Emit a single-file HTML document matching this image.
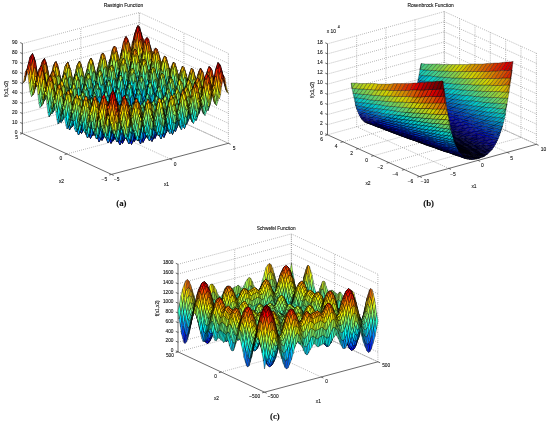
<!DOCTYPE html>
<html><head><meta charset="utf-8"><title>Benchmark functions</title><style>
html,body{margin:0;padding:0;background:#fff;width:550px;height:423px;overflow:hidden}
svg{display:block;filter:blur(0.25px);font-family:"Liberation Sans",sans-serif}
text{fill:#111;stroke:#111;stroke-width:0.1px}
g{stroke:#000;stroke-linejoin:round}
.c0{fill:#00008f}.c1{fill:#00009f}.c2{fill:#0000af}.c3{fill:#0000bf}.c4{fill:#0000cf}.c5{fill:#0000df}.c6{fill:#0000ef}.c7{fill:#0000ff}.c8{fill:#0010ff}.c9{fill:#0020ff}.c10{fill:#0030ff}.c11{fill:#0040ff}.c12{fill:#0050ff}.c13{fill:#0060ff}.c14{fill:#0070ff}.c15{fill:#0080ff}.c16{fill:#008fff}.c17{fill:#009fff}.c18{fill:#00afff}.c19{fill:#00bfff}.c20{fill:#00cfff}.c21{fill:#00dfff}.c22{fill:#00efff}.c23{fill:#00ffff}.c24{fill:#10ffef}.c25{fill:#20ffdf}.c26{fill:#30ffcf}.c27{fill:#40ffbf}.c28{fill:#50ffaf}.c29{fill:#60ff9f}.c30{fill:#70ff8f}.c31{fill:#80ff80}.c32{fill:#8fff70}.c33{fill:#9fff60}.c34{fill:#afff50}.c35{fill:#bfff40}.c36{fill:#cfff30}.c37{fill:#dfff20}.c38{fill:#efff10}.c39{fill:#ffff00}.c40{fill:#ffef00}.c41{fill:#ffdf00}.c42{fill:#ffcf00}.c43{fill:#ffbf00}.c44{fill:#ffaf00}.c45{fill:#ff9f00}.c46{fill:#ff8f00}.c47{fill:#ff8000}.c48{fill:#ff7000}.c49{fill:#ff6000}.c50{fill:#ff5000}.c51{fill:#ff4000}.c52{fill:#ff3000}.c53{fill:#ff2000}.c54{fill:#ff1000}.c55{fill:#ff0000}.c56{fill:#ef0000}.c57{fill:#df0000}.c58{fill:#cf0000}.c59{fill:#bf0000}.c60{fill:#af0000}.c61{fill:#9f0000}.c62{fill:#8f0000}.c63{fill:#800000}.d0{fill:#00006a}.d1{fill:#000076}.d2{fill:#000082}.d3{fill:#00008f}.d4{fill:#00009b}.d5{fill:#0000a7}.d6{fill:#0000b4}.d7{fill:#0000c0}.d8{fill:#000cc1}.d9{fill:#0018c1}.d10{fill:#0024c2}.d11{fill:#0031c2}.d12{fill:#003dc3}.d13{fill:#0049c3}.d14{fill:#0056c3}.d15{fill:#0062c4}.d16{fill:#006fc4}.d17{fill:#007bc5}.d18{fill:#0088c5}.d19{fill:#0094c6}.d20{fill:#00a1c6}.d21{fill:#00aec7}.d22{fill:#00bbc7}.d23{fill:#00c8c8}.d24{fill:#0dc8bc}.d25{fill:#19c9b0}.d26{fill:#26c9a4}.d27{fill:#32ca97}.d28{fill:#3fca8b}.d29{fill:#4ccb7f}.d30{fill:#59cb72}.d31{fill:#66cc66}.d32{fill:#73cc59}.d33{fill:#80cd4d}.d34{fill:#8dcd40}.d35{fill:#9ace33}.d36{fill:#a8ce27}.d37{fill:#b5cf1a}.d38{fill:#c2cf0d}.d39{fill:#d0d000}.d40{fill:#d0c300}.d41{fill:#d1b700}.d42{fill:#d1aa00}.d43{fill:#d29d00}.d44{fill:#d29000}.d45{fill:#d38400}.d46{fill:#d37700}.d47{fill:#d46a00}.d48{fill:#d45d00}.d49{fill:#d45000}.d50{fill:#d54300}.d51{fill:#d53500}.d52{fill:#d62800}.d53{fill:#d61b00}.d54{fill:#d70d00}.d55{fill:#d70000}.d56{fill:#ca0000}.d57{fill:#bd0000}.d58{fill:#b00000}.d59{fill:#a30000}.d60{fill:#960000}.d61{fill:#880000}.d62{fill:#7b0000}.d63{fill:#6e0000}
</style></head><body>
<svg width="550" height="423" viewBox="0 0 550 423">
<path stroke="#8a8a8a" stroke-width="0.75" stroke-dasharray="0.8 1.3" fill="none" d="M169.9 158.9L80.8 118.0M228.4 143.3L139.3 102.4M67.0 153.9L183.9 122.9M22.4 133.5L139.3 102.4M80.8 118.0L80.8 28.1M139.3 102.4L139.3 12.5M22.4 123.5L139.3 92.4M22.4 113.5L139.3 82.4M22.4 103.5L139.3 72.4M22.4 93.5L139.3 62.4M22.4 83.6L139.3 52.5M22.4 73.6L139.3 42.5M22.4 63.6L139.3 32.5M22.4 53.6L139.3 22.5M22.4 43.6L139.3 12.5M228.4 143.3L228.4 53.4M183.9 122.9L183.9 33.0M139.3 102.4L139.3 12.5M228.4 133.3L139.3 92.4M228.4 123.3L139.3 82.4M228.4 113.3L139.3 72.4M228.4 103.3L139.3 62.4M228.4 93.4L139.3 52.5M228.4 83.4L139.3 42.5M228.4 73.4L139.3 32.5M228.4 63.4L139.3 22.5M228.4 53.4L139.3 12.5"/><path stroke="#8a8a8a" stroke-width="0.75" stroke-dasharray="0.8 0.5" fill="none" d="M228.4 143.3L139.3 102.4"/><path stroke="#444" stroke-width="0.8" fill="none" d="M22.4 133.5L22.4 43.6M22.4 133.5L111.5 174.4M111.5 174.4L228.4 143.3M22.4 133.5L20.2 132.5M22.4 123.5L20.2 122.5M22.4 113.5L20.2 112.5M22.4 103.5L20.2 102.5M22.4 93.5L20.2 92.5M22.4 83.6L20.2 82.6M22.4 73.6L20.2 72.6M22.4 63.6L20.2 62.6M22.4 53.6L20.2 52.6M22.4 43.6L20.2 42.6M111.5 174.4L109.2 175.0M67.0 153.9L64.6 154.6M22.4 133.5L20.1 134.1M111.5 174.4L113.7 175.4M169.9 158.9L172.1 159.9M228.4 143.3L230.6 144.3"/><g transform="scale(0.5)" stroke-width="0.76"><path class=c0 d="m233 267 3-7-2-7-3 6zm18 10 3-7-3-7-2 7zm23-8 3-8-2-6-3 7zm-47 12 3-6-2-7-3 6zm42 2 3-7-3-6-3 7z"/><path class=c1 d="m210 271 3-6-3-8-3 6zm46-13 3-7-2-7-3 7zm36 17 3-7-2-7-3 7zm-47 12 3-6-2-6-3 6z"/><path class=c15 d="m200 199 3 5-2-9-3-5zm26-7 3-8-2-9-3 8zm83 4 3-9-3-8-3 9zm-176 21 3-6-3-9-2 6zm25-4 3-6-2 3-3 6zm1-3 3-14-2-9-3 14zm5 23 3-6-2-16-3 5zm13-26 3 5-3-9-3-5zm0-4 3-6-2-18-3 7zm5 2 3-15-2-8-3 15zm9 11 3 13-2-8-3-14zm14-15 3-7-2 3-3 7zm10 8 3 12-2-8-3-13zm24-8 3 4-2-16-3-4zm18 7 3-8-2-16-3 8zm33-4 3-17-2 4-3 17zm26 14 3-8-2-15-3 8zm8-11 2 3-2-8-3-3zm5-2 3-8-3 4-3 9zm5 20 3-8-2-15-3 8zm8-12 3-9-2-15-3 9zm5 2 2-9-2 5-3 9zm0-4 3-17-2-7-3 17zm12 12 3 3-2-6-3-3zm1-3 3-9-2-15-3 9zm20 8 3-8-2-6-3 8zm-258 17 3-4-3-8-3 4zm32 18 3 7-2-7-3-7zm1 0 3-5-2-15-3 5zm164 9 3 6-2-5-3-5zm24-7 2 4-2-5-3-4zm0-1 3-7-2-13-3 7zm26-7 3-8-2-4-3 7z"/><path class=c17 d="m208 194 3-16-2 3-3 16zm15-6 3 4-2-9-3-4zm6 1 2-8-2 3-3 8zm9 8 3 13-2-9-3-12zm27-8 3-8-2-17-3 8zm5 0 3-16-2-8-3 16zm36 3 3 4-3-8-2-3zm5 0 3-9-2 4-3 9zm10 7 3 3-2-15-3-3zm-197 29 3 7-2-8-3-7zm1-1 3-6-2-16-3 5zm10-13 3-6-2 3-3 6zm1-3 3-14-3-9-3 14zm25-4 3-14-2 3-3 14zm9 6 2-6-2-17-3 7zm46-12 3-7-2-17-3 7zm12 3 3-16-2 12-3 16zm27 0 2 4-2-16-3-5zm24-4 3 12-2-8-3-12zm73 28 3-8-2-14-3 8zm5-11 3 3-2-15-3-3zm12 21 3 3-2-13-3-4zm8-13 3 3-2-6-3-3zm1-3 3-8-3-14-2 8zm-254 20 3-5-2 4-3 4zm242 11 3 4-2-5-3-4zm1-1 3-7-3-14-3 8zm10-12 3-8-3 7-3 8z"/><path class=c19 d="m213 196 3 5-2-17-3-4zm11-13 3-8-2-17-3 8zm2 2 3 4-3 3-3-4zm14 4 3-8-3-17-3 8zm10-14 3-8-3-9-3 9zm1 16 3-16-2 12-3 16zm30 1 3-8-2-17-3 8zm10-15 3-8-2-9-3 9zm17 12 3 3-2 4-3-4zm4-2 3-17-3-8-3 17zm9 8 3 12-3-8-3-11zm-217 32 3-4-2-9-3 5zm5-14 3-5-2-9-3 5zm10 25 3 7-3-8-3-7zm12-30 2-6-2-17-3 5zm7 0 3-14-2 3-3 14zm3 21 2-5-2-16-3 5zm5-15 3-6-2-17-3 6zm5-12 3 5-2-17-3-5zm10 0 3-6-3 11-3 6zm133 0 3 12-2-7-3-12zm17-1 3-17-2 5-3 16zm1 12 3 12-2-7-3-12zm26-8 3 12-2-7-3-12zm18 7 3 11-2-6-3-12zm11 0 3-17-2 5-3 17zm8 7 3 3-2-14-3-3zm23 8 3-9-3-6-2 9zm-264 18 3 7-2-16-3-7zm258-4 3-8-2-5-3 8z"/><path class=c13 d="m148 233 3 6-3-9-3-6zm0-3 3-5-2-17-3 6zm8-14 3-6-2-9-3 6zm13 8 3 6-2-17-3-5zm34-20 3-7-2-9-3 7zm13 9 2 5-2-17-3-5zm26-8 3-7-2-17-3 8zm5 1 3-16-2-8-3 16zm9 9 3 13-2-8-3-12zm27-7 3-8-2-16-3 8zm5 0 3-17-2-8-3 17zm20 9 3-16-2 4-3 17zm7 8 3 12-2-7-3-12zm11-15 3-9-2-7-3 8zm18 23 3-17-2 6-3 16zm18-7 3-9-2-6-3 9zm-223 34 3-5-2-8-3 5zm3-13 3 6-2-8-3-6zm1-2 3-5-3-16-2 5zm32 31 3-5-2-6-3 4zm38 3 3 7-2-6-3-7zm116-34 3-8-3-14-2 7zm16 24 3-7-2-5-3 7zm8-12 3-8-2 6-3 8zm6-14 3-8-2 5-3 9zm-104 39 3 6-3-6-3-6z"/><path class=c3 d="m186 271 3-6-2-7-3 6zm6-14 3-6-3-8-2 6zm20 9 3-6-2 5-3 6zm3-14 3-6-2-8-3 7zm9 23 3 6-2-7-3-5zm1-1 3-6-2-15-3 6zm5-12 3 5-2-8-3-5zm0 14 3-6-3 5-3 6zm1-17 3-6-3-16-2 6zm8-15 2-7-2-8-3 7zm14 10 3 4-2-7-3-5zm6 0 3-7-3 4-3 7zm7 24 3 5-3-6-3-6zm5 0 3-7-2 5-3 7zm1-16 3-7-2-16-3 7zm4 2 3-7-2 4-3 8zm4-18 3-7-3-8-2 8zm9 24 3 5-2-7-3-4zm1-2 3-7-3-15-2 8zm8-12 2-7-2-7-3 7zm12 21 3-7-2-6-3 7zm5-14 3-8-2-7-3 8zm-111 18 3-5-2-7-3 5zm18 6 3-5-2-7-3 6zm41 2 3-6-2-6-3 6zm23-4 3-6-2-6-3 6z"/><path class=c6 d="m236 236 3-7-2-16-3 7zm5 1 3-15-2-8-3 15zm21-5 3-8-2-8-3 8zm16 7 2-8-2-16-3 8zm5 0 3-16-3-8-3 16zm-115 18 3-6-2-8-3 6zm15 8 3 6-2-7-3-6zm1-1 3-6-2-16-3 6zm4 3 3-6-2 4-3 6zm1-16 3 6-2-8-3-6zm1-2 2-6-2-17-3 7zm14 9 3 5-2-15-3-6zm32-18 3 4-3-8-3-4zm15 6 3 5-2-16-3-4zm11 1 2-16-2 5-3 15zm20-5 3-8-2 5-3 7zm9 23 3 4-2 6-3-5zm16 7 3 5-2-6-3-5zm5-1 3-7-2 6-3 7zm1-15 3-8-2-14-3 7zm5 1 3-7-3 5-3 8zm15 8 3-8-2-6-3 8zm-114 16 3 6-2-6-3-6zm1 0 3-6-3-14-3 5zm20 9 3-6-3-6-3 6zm20-6 3 5-2-6-3-5z"/><path class=c9 d="m176 235 3-6-2 3-3 7zm18-6 3 5-2-8-3-5zm6-1 3-15-2-9-3 15zm23-5 3-7-2 3-3 7zm29 12 3-7-2-16-3 7zm8-11 3-8-3-16-3 8zm5 0 3-16-2-8-3 16zm35 2 3 4-2-7-3-4zm19 7 3-8-3-15-3 8zm4 2 3-8-2 5-3 8zm-158 16 3 6-2-8-3-6zm1-2 3-6-2-16-3 6zm15 9 3 6-2-16-3-6zm6-15 3 6-3-16-3-6zm18 5 3-6-2-16-3 6zm16 28 3 6-2 5-3-6zm8-33 2-6-2-16-3 7zm12 23 3-6-3-15-2 6zm10-25 2 13-2-8-3-13zm10 0 3-7-2 13-3 7zm27 13 2-8-2-14-3 7zm13 24 3 5-2-5-3-5zm24-8 3-7-2-14-3 7zm10-11 3-8-2 6-3 8zm1-16 3 3-2-6-3-4zm-99 41 3 6-3-6-2-6z"/><path class=c5 d="m194 253 3-6-2 4-3 6zm7 22 3 6-2-7-3-6zm5 1 3-5-2 5-3 5zm6-29 3 5-2-7-3-6zm1-2 3-7-2-16-3 6zm4 4 3-7-2 4-3 6zm1-3 3-15-2-8-3 15zm4 23 3 5-2-15-3-6zm5 2 3 5-3 5-3-6zm1-17 3 5-2-16-3-5zm4 3 3 5-2 5-3-5zm6-1 3-15-2 4-3 15zm3-16 3-7-3 4-2 7zm15 9 3 5-3 4-3-4zm7 22 3 6-2-15-3-5zm5 2 3 5-2 5-3-5zm1-16 3 5-2-16-3-4zm8-15 3 4-2-7-3-4zm7 37 3-6-2-15-3 7zm3-15 3 4-2-14-3-5zm2 15 3-6-3 6-3 6zm6-27 3 4-3-7-3-4zm0-3 3-7-2-15-3 7zm5 3 3-8-3 5-2 7zm12 6 3 5-2-7-3-4zm-28 22 2 5-2-6-3-5z"/><path class=c8 d="m200 231 2-7-2 4-3 6zm10 8 3 6-2-17-3-5zm23-7 3 4-2-16-3-5zm5 4 3 4-2 4-3-4zm6-3 3-15-3 4-3 15zm15-5 3 4-2-8-3-4zm5 0 3-8-2 4-3 8zm11 7 3 4-3-16-3-4zm4 3 3 4-2 4-3-4zm6-4 3-16-2 5-3 16zm33 3 3 3-2-7-3-3zm-147 16 3-6-3 4-3 6zm15 8 2 6-2 4-3-6zm5-14 3 6-2 4-3-6zm6 0 3-15-2 4-3 15zm6 23 3 6-2 5-3-6zm20-11 3-6-2-16-3 7zm4-11 3 14-2-8-3-13zm19 7 3-7-2-15-3 6zm17 9 3 14-3-7-2-13zm1-2 3-7-2-15-3 7zm6-16 3-7-3-15-3 7zm16 28 3 5-3 6-2-5zm16 4 3-7-2-13-3 6zm1-34 3-16-3 5-3 16zm6 22 3 5-2 6-3-5zm1-14 3 4-2-15-3-4zm5 1 3 4-3 6-3-5zm15 8 3 4-2-6-3-4zm1-2 3-8-2-14-3 8z"/><path class=c10 d="m151 239 3-6-3-8-3 5zm20-6 3 6-2-9-3-6zm1-3 3-6-3-17-2 6zm5 2 3-14-2-9-3 15zm18-6 3-7-2-17-3 7zm23-5 3 5-3-8-2-5zm0-3 3-8-2-16-3 7zm6 1 3-16-3-8-3 15zm20-5 3-8-2-8-3 7zm17 10 3 4-2 4-3-4zm24-8 3-8-2-8-3 8zm16 7 3-9-2-15-3 8zm4 3 3-9-2 5-3 8zm1-4 3-17-2-7-3 16zm18 10 3-16-2-7-3 16zm-179 21 3-5-2-8-3 5zm15 8 3 6-2-7-3-7zm36 16 2 7-2-7-3-6zm33-33 3 13-2 5-3-14zm96 27 3 4-3-5-3-5zm3-16 3 4-2-14-3-5zm9-15 2-8-2-15-3 8zm4 1 3-8-2 5-3 8zm10 22 3-8-2-5-3 8zm6-14 3-9-3-6-3 9zm-141 37 3-5-2-6-3 5zm62-4 3 6-2-6-3-5z"/><path class=c16 d="m201 195 3-7-3-17-3 7zm5 2 3-16-2-9-3 16zm39 1 3-16-3-17-2 16zm20-4 2 4-2-9-3-3zm5 0 3-8-3 3-3 9zm-130 45 3 6-2-16-3-7zm5-15 3 6-2-16-3-7zm8-13 3 5-2-9-3-5zm1-4 3-6-2-17-3 6zm14 12 3 14-2-9-3-13zm17-16 3-15-3 2-3 15zm8 6 3-7-2-16-3 6zm12 0 3-15-2 4-3 15zm66 8 3 13-2-8-3-12zm20 2 3-8-2-7-3 8zm8-12 3-8-3-16-3 8zm25-5 3-8-2-16-3 9zm5-1 3-17-2-7-3 17zm10 9 3 3-2-15-3-3zm25 11 3-9-2 5-3 9zm1-4 3-17-2-6-3 17zm-228 35 2 8-2-8-3-7zm35 17 3 7-2-7-3-7zm158-27 3 13-3 6-3-13zm41 1 3 4-2-6-3-3zm1-2 3-8-2-14-3 9z"/><path class=c21 d="m150 197 3 14-2-9-3-14zm14-13 3-7-2 2-3 7zm23 7 3-15-2 12-3 15zm10-5 3 13-2-9-3-13zm15 10 3 13-2-9-3-13zm15-21 3-16-2-17-3 16zm20-3 3 3-3-8-2-4zm5 1 3-9-2 3-3 8zm3 19 3-8-2-8-3 7zm33-18 3 3-2-8-3-3zm5 0 3-9-2 4-3 8zm0 13 3-16-2 4-3 16zm29 0 3-9-2-16-3 9zm43 6 3 3-3-7-2-3zm-259 31 3-5-2 4-3 4zm6-14 3-5-3 3-3 5zm4 20 3 7-2-16-3-7zm12-28 3 6-3-18-3-6zm13 26 3 15-2 4-3-15zm191-18 3-8-2-6-3 8zm26-5 3-9-3-14-3 8zm9 2 3-9-3 14-3 9zm2 24 2 12-2-5-3-12zm1-3 3-9-2-13-3 8zm15-14 3-17-2 6-3 17zm4 23 3 4-2-5-3-4zm1-1 3-8-2-13-3 8zm5-13 3 4-2-6-3-3z"/><path class=c23 d="m152 190 3-6-3-17-3 6zm1 4 2 14-2 3-3-14zm8-16 3 6-2 2-3-5zm6-1 3-15-2 2-3 15zm31 1 3-7-2-18-3 7zm13 0 3-15-2 3-3 15zm3 6 3-7-2-9-3 8zm6-9 3 13-2-9-3-13zm27-8 3-9-2-17-3 8zm2 2 3 4-2 2-3-3zm14 3 3-8-2-16-3 8zm27-1 3 3-2 3-3-3zm4-2 3-17-3-9-2 17zm25 15 3 3-2-16-3-3zm44 2 2 3-2-15-3-3zm4 2 3 3-2 5-3-3zm-269 46 3-5-2-7-3 4zm3-14 3 7-2-8-3-7zm6-16 3-5-2-18-3 6zm8 1 2-14-2 3-3 14zm8 5 3-5-3-17-2 5zm11 27 3 15-3-7-3-15zm242-29 2-8-2-15-3 9zm11 24 3 4-2-13-3-4zm7 2 3-8-2 7-3 8zm-7 13 3-7-3-5-3 8z"/><path class=c24 d="m117 188 3-6-2 3-3 5zm10 8 3 14-2-8-3-15zm16-14 3-15-2 3-3 14zm29-1 3 5-2-17-3-5zm18-13 3-15-2 2-3 16zm21-5 3-7-3 2-3 8zm32 19 3 13-3 11-3-12zm2-19 2 4-2-18-3-3zm10 1 3-16-2 3-3 16zm20 10 3-16-2 12-3 16zm11-8 3 3-3-17-3-3zm10-1 3-17-2 4-3 17zm8 6 3-8-2-17-3 9zm6 5 3 4-2 12-3-3zm19-7 3 2-2-7-3-3zm5 15 3-17-2 13-3 17zm11-8 3 2-3-16-2-2zm7 13 3-17-2 5-3 17zm28 4 3 3-2-15-3-3zm-280 37 3-4-2 3-3 5zm3-13 3 7-2 3-3-7zm14 4 3-4-2-17-3 5zm275 9 2 4-2 7-3-4zm5-13 3 3-2 7-3-4zm3-15 3 2-2-6-3-2zm-16 41 3 4-3-4-2-4z"/><path class=c22 d="m141 188 2-6-2 2-3 6zm17 9 3 5-3 11-3-5zm6-1 2-14-2 11-3 14zm0-3 3-15-2 3-3 15zm11-7 3-7-2-17-3 7zm12-11 3-7-2 3-3 7zm1 13 3-15-3 2-3 15zm16-3 3 5-2 11-3-5zm6-2 3-16-2 11-3 16zm25 2 3 12-2-8-3-13zm18-18 3-16-3-9-3 16zm36 2 3-9-3-16-3 8zm14 12 3 11-2-7-3-12zm15 7 3 11-2-15-3-12zm5 3 3 11-2 5-3-12zm14 4 3 3-2-15-3-4zm10-12 3 3-2-8-3-2zm36 16 3 3-3-6-3-3zm-281 20 3-5-3-17-3 5zm4-13 3 7-2-9-3-7zm31-3 3-6-2 11-3 6zm218-1 3 3-3-15-2-3zm4 4 2 12-2 5-3-11zm15 8 3 11-2-6-3-11zm26 6 3-9-2 7-3 9zm-40 35 3 5-2-5-3-4z"/><path class=c26 d="m208 159 3 4-3 3-2-5zm62-7 3 3-2-9-3-3zm5 0 3-8-2 3-3 8zm-161 47 3-5-2 11-3 5zm6-17 3-14-2 3-3 14zm23-5 3-6-3 11-2 6zm47-12 2-7-2 10-3 7zm4 8 3 13-2-9-3-13zm40-8 3-16-2 3-3 16zm10-5 3 12-2-9-3-12zm10 1 3-8-2 11-3 9zm31 2 3 11-2-8-3-12zm10-1 3-8-2 11-3 9zm6 6 3 3-2-16-3-3zm15 3 3-17-2 12-3 17zm4 8 3 12-2 4-3-11zm11-14 3 3-2 3-3-2zm13 7 3 11-2-7-3-11zm36 16 3 11-3-6-3-11zm18 8 3 2-2-14-3-3zm-310 6 3-4-2 2-3 5zm298 23 3 12-2-5-3-12zm2-2 3-8-3-14-2 8zm5-16 3-8-2-14-3 9zm20 11 3 3-3-5-3-3zm0-2 3-9-2-13-3 9z"/><path class=c28 d="m234 147 3-8-2 2-3 8zm12 10 3 12-2 3-3-12zm5 1 3 3-2 12-3-4zm20-12 3-8-2-18-3 9zm5 1 3-17-2-9-3 17zm16 12 3 3-2 12-3-3zm19-8 3 2-2-8-3-3zm-228 47 3 7-2-9-3-7zm1-2 3-5-3-17-2 5zm7 2 3-13-2 2-3 13zm3-14 3-5-3 2-2 6zm52-13 3-15-3 11-3 15zm17-3 3 5-2 11-3-6zm6-2 3-15-2 11-3 15zm4 3 3-7-2-9-3 7zm14-9 3 5-3 10-3-4zm100 0 3 11-2 3-3-11zm59 8 3 11-2 4-3-11zm14 7 3 11-3-15-3-11zm4 2 3 11-2 5-3-11zm13 5 3 11-2-15-3-11zm-294 30 3-4-3 3-3 4zm324 16 3 3-2-4-3-4zm3-15 3 3-2-13-3-4zm8-13 3 2-2-5-3-3z"/><path class=c29 d="m181 158 3 13-2 2-3-13zm11 0 3-16-2 11-3 15zm50-7 3 12-3-17-3-12zm3-2 3-8-2-17-3 8zm12 4 3-16-2 11-3 16zm4 3 3-8-3-9-2 8zm22-2 3 12-3-17-2-11zm3-2 3-8-2-17-3 8zm12 2 3-17-2 11-3 17zm28 4 3 11-2-8-3-11zm-221 29 3-6-2-17-3 5zm14-10 3-5-2 10-3 6zm21-5 3 5-2 11-3-6zm6-5 3-14-2 2-3 15zm12-2 3 13-2 3-3-14zm12-3 3-15-3 2-2 15zm26-2 3-7-2-9-3 7zm49 10 3 13-2 12-3-13zm97-5 3 11-2-16-3-11zm9 1 3 3-2 12-3-2zm9 5 3 3-2-16-3-2zm9 4 3 3-2 13-3-3zm9 3 3 3-2-15-3-3zm4 5 3 11-2 5-3-11zm15 8 3 11-2-6-3-11zm-319 16 3-4-2-17-3 4zm21-5 3-5-2-16-3 4z"/><path class=c31 d="m205 147 3 12-2 2-3-12zm11-2 3-16-2 11-3 16zm4 3 3-7-3-10-3 8zm17-9 3-17-2 3-3 16zm4 9 3 12-2-9-3-12zm1-2 3 3-2-17-3-4zm25-5 3 11-2-9-3-11zm7-3 3-17-3-18-2 17zm8 13 3 12-2-9-3-11zm17-3 3-17-2 4-3 17zm10-6 3 3-2-17-3-3zm25 11 3 2-3 13-3-3zm-253 36 3 7-2-17-3-7zm10-11 3 6-2 3-3-7zm25-7 3 6-2 11-3-6zm6 1 3-14-2 10-3 14zm1-4 3-14-2 3-3 14zm3 5 3-6-2-9-3 6zm19-7 3-6-2 11-3 6zm196-5 3 11-2-7-3-11zm36 16 3 11-3-6-2-11zm19 4 3 3-2-14-3-3zm4 4 3 11-3 6-3-11zm20 8 3 3-2 6-3-2zm-326 16 3-4-3-16-2 4zm316-3 3 12-3-5-2-12zm1-3 3-9-2-13-3 8z"/><path class=c25 d="m250 158 3-16-2-17-3 16zm23-3 3-8-2-9-3 8zm-169 42 3 7-2-17-3-7zm24-7 3-5-2-18-3 6zm6 6 3 7-2 11-3-6zm10 1 3-6-2-8-3 5zm4-9 3 14-2-17-3-14zm1-3 3 5-3-17-2-6zm17-12 3-7-2 11-3 7zm30 0 2 5-2-18-3-4zm26-7 3-8-2-17-3 7zm38 3 3 3-2-16-3-4zm16 1 2-17-2 3-3 17zm16-10 2-17-2-16-3 17zm9 13 3 12-3-17-3-11zm34 7 2-17-2 4-3 17zm27 2 3 11-2-7-3-11zm8 16 2-17-2 14-3 17zm-284 7 3-5-2-9-3 5zm10 21 3-4-2-17-3 4zm3-14 3 7-3-17-3-7zm17 11 3 15-3-8-2-15zm260-15 3 11-2 6-3-11zm40 13 3-9-3-5-3 9z"/><path class=c18 d="m174 198 3 5-2-17-3-5zm6-1 3-15-2-18-3 15zm18-7 3 5-3-17-2-5zm31-6 3-16-2-9-3 16zm33 2 3 3-2-17-3-3zm11 0 3-16-3 3-3 16zm33 2 3-9-2-16-3 8zm26 9 3-17-3 4-3 17zm-213 40 3-4-2-16-3 4zm11-27 3 7-2-9-3-6zm27-9 3-14-2-17-3 14zm33 3 3 5-2-17-3-5zm23-4 3 13-3-17-3-13zm16 0 3-16-3 4-2 15zm3 4 3-7-2-8-3 7zm21-1 3 12-2-7-3-13zm20 4 3-7-2-8-3 8zm23-4 3 4-3-16-2-4zm14 2 3-17-2 13-3 16zm39 1 3-17-2 5-3 17zm14 5 3-17-2-15-3 17zm19 11 3-8-2 6-3 8zm-243 26 3 7-3 5-2-8zm206 10 3 4-3 7-2-4z"/><path class=c12 d="m153 235 3-5-2 3-3 6zm27-23 2-7-2-8-3 6zm6 25 3 14-2-8-3-14zm1-4 3-7-2-16-3 6zm5-12 3 5-2-17-3-5zm34-5 3-16-2 3-3 16zm8 4 3-7-2-16-3 7zm7-10 3 4-2-9-3-4zm5 0 3-7-2 3-3 8zm29 13 3-8-2-15-3 7zm7-11 3 4-2-8-3-4zm6 0 2-8-2 4-3 8zm10 7 3 4-2-16-3-4zm28 8 3-16-2 5-3 16zm18-7 3-9-2-7-3 9zm-197 29 3-5-2 4-3 5zm10 21 3-5-2-7-3 5zm23-19 3 14-2-7-3-15zm2-3 3-6-3-16-2 6zm166 11 3 4-2-5-3-5zm1-1 3-8-3-14-2 8zm5-13 3 4-3-6-3-4zm0-2 3-9-2-14-3 8z"/><path class=c11 d="m179 229 3-15-2 4-3 14zm23-5 3-15-2 4-3 15zm7 10 3 13-2-8-3-13zm2-6 3-6-3-17-3 7zm22-1 3 13-3-8-3-13zm10 1 3-7-2 12-3 7zm14-8 3 4-3-16-2-4zm7 14 3-15-3 12-2 16zm3-14 3-15-2 3-3 16zm7 10 3 12-2-7-3-13zm10-1 3-8-2 13-3 8zm9 5 3-7-2-16-3 8zm9 4 3-7-2 13-3 8zm14-8 3 3-3-15-2-4zm18 6 3 4-3-15-3-3zm-171 7 3 6-2-16-3-6zm5 4 3 6-3 4-3-6zm56 10 3 14-3 4-2-14zm64-5 3 13-2 5-3-13zm22-6 2 12-2-6-3-12zm1-5 3-7-2-15-3 8zm22 14 2 4-2 6-3-4z"/><path class=c33 d="m160 154 3 14-2 10-3-13zm57-14 2-17-2 3-3 16zm19-4 3-8-2 11-3 8zm7 9 3 12-2 3-3-12zm5 1 3 12-2 11-3-12zm9-19 3-9-2 2-3 9zm6 28 3 12-2 12-3-12zm12-17 2 3-2 11-3-3zm14 10 3 11-2 12-3-11zm4-20 3 3-2-9-3-2zm15 12 3 11-2-9-3-11zm15 7 3 11-2-8-3-11zm2-2 3 2-3-16-3-3zm-255 32 3-5-2 2-3 5zm41-10 3 15-2 2-3-14zm11 0 3-6-3 11-3 5zm20-6 3 5-2 11-3-5zm224 3 3 11-2 13-3-11zm39 17 3 3-2 14-3-2zm31 13 3 3-2-5-3-3zm-5 13 3-9-2-13-3 9z"/><path class=c30 d="m193 153 3-16-2 3-3 15zm38-10 3 4-2 2-3-3zm27 5 3-17-3 3-2 17zm10-5 3 3-2-17-3-3zm10 1 3-17-2 3-3 17zm5 5 3 3-2-17-3-3zm19 6 3-9-2-8-3 9zm12-8 2 3-2 3-3-2zm-229 48 3 7-2 3-3-7zm12-16 3-13-3 2-3 13zm9 9 3 15-3 3-2-15zm18-6 3 14-2-9-3-14zm11-14 3 14-3 3-3-14zm9 9 3 6-2-9-3-6zm24-15 3-7-2 11-3 7zm175-2 2 2-2-15-3-3zm16 11 3 11-2-7-3-11zm28 9 3 3-2 14-3-3zm29 14 3 3-2-14-3-2zm-11 29 3 4-2-13-3-4zm10-12 3 3-2 7-3-3z"/><path class=c35 d="m137 158 3 14-2 10-3-14zm42-13 2 13-2 2-3-13zm49-14 3 12-2 3-3-12zm11-3 3-16-2 10-3 17zm4 4 3-8-2-9-3 8zm12-8 2 3-2 2-3-3zm14 5 3-9-3-17-3 9zm10 1 3-17-2-9-3 17zm5 5 3-8-2-9-3 9zm12-9 3 2-3 3-3-3zm20 10 3 2-3 12-2-3zm38 17 3 3-3 13-3-3zm-294 31 3-4-2-17-3 4zm13-12 3-13-2 2-3 13zm7 10 3 16-2-9-3-15zm2-3 2-5-2-17-3 5zm11-12 3 7-2 10-3-6zm7-1 3-14-3 2-3 14zm284 3 3 11-2 14-3-11zm30 12 3 2-3-14-2-2zm4 1 2 11-2 7-3-11zm16 7 3 3-2-14-3-2zm-6 14 3 4-2-13-3-3z"/><path class=c14 d="m267 198 3-9-2-8-3 8zm-140 37 3-5-2-9-3 6zm23-6 3 6-2 4-3-6zm6 1 3-14-3 3-2 14zm26-21 3-6-3 2-2 7zm6 24 3 14-2 4-3-14zm20-10 3 5-3-16-2-5zm22-4 3 13-2-17-3-12zm1-4 3 5-2-16-3-5zm12-9 3 4-2 4-3-4zm6-3 3-16-2 3-3 16zm31 1 3 4-2-16-3-4zm5 4 3 4-3 4-3-4zm2 13 3-16-2 13-3 16zm10-7 3 12-2-7-3-12zm36 17 3 12-2-7-3-12zm8-14 3 3-2-7-3-3zm10 22 3 4-2-15-3-3zm5 0 3 4-2 6-3-4zm-173 7 3 15-3 4-3-14zm191 1 3-8-2-6-3 8z"/><path class=c37 d="m260 118 3-17-2 2-3 17zm-146 39 2 14-2 11-3-15zm38-11 3 6-2 2-3-5zm24-6 3 5-3 2-3-5zm64-18 3-16-2 2-3 17zm10 13 3 12-2 11-3-12zm37 1 2 12-2 12-3-12zm4-16 3 2-2-17-3-3zm14 9 3 11-2-9-3-11zm2-4 3 3-2-17-3-2zm49 24 3 2-2 5-3-3zm18 8 3 2-3 5-3-2zm-307 12 3 8-2 2-3-7zm21-6 3 15-2 2-3-15zm10 0 3-5-2 10-3 6zm304 8 3 10-2 15-3-11zm21 8 3 2-3 15-3-3zm15 8 3 3-2 7-3-3z"/><path class=c46 d="m180 119 3 4-2 11-3-5zm26-6 3 12-2 11-3-13zm19-8 3 4-3 10-3-3zm21-8 3 4-3 2-2-3zm19 0 3-17-2 10-3 17zm37 3 3 3-2 3-3-3zm15 9 3 11-2 4-3-11zm13 10 3 11-2 12-3-11zm-258 29 3 7-2 11-3-7zm10-7 3 7-2 2-3-7zm10 0 3 15-2 11-3-15zm16-5 3 6-3 11-3-6zm9 2 3 15-2-10-3-14zm13-5 3-6-2 11-3 6zm27-8 3 5-3 11-3-5zm223 20 3-9-2 6-3 9zm26 5 3 11-2 6-3-11zm11 7 3 11-2 14-3-11z"/><path class=c20 d="m174 194 3 13-3-9-3-13zm47-15 3 4-2-17-3-5zm10 2 3-16-2 3-3 16zm21 6 3-16-2 3-3 16zm16-6 3-16-2-17-3 16zm10 7 3 4-2-17-3-3zm26-3 2 3-2-17-3-3zm10-2 3-17-2 4-3 17zm26 15 3-9-2-15-3 9zm-219 36 3 8-2 3-3-7zm1-14 3 7-2-17-3-7zm10-12 3 6-2 3-3-7zm15 7 3 14-2 4-3-15zm167-12 3-8-2-8-3 9zm35-1 3-9-3 13-2 9zm30 17 3 3-2 6-3-3zm-263 29 3-4-2-8-3 4z"/><path class=c24 d="m138 182 3 6-3 2-3-5zm3 12 3-14-2 3-3 14zm19-7 3-15-3-17-2 15zm3 4 3-6-2 11-3 6zm15-12 3-15-2-17-3 15zm6-8 3 4-2 3-3-5zm2 16 3-7-2 11-3 7zm24-8 3-8-3 12-3 7zm13-7 3 13-3 3-3-13zm5 2 3 4-2 11-3-4zm6 24 3 13-2 12-3-13zm71-21 3 12-2 3-3-11zm13 7 3 11-3-7-2-12zm31-5 3 2-2 5-3-3zm36 15 3 3-2 5-3-3zm-276 9 3 7-3 3-3-7zm262 22 3 12-3 6-2-12zm13 18 3-8-2-12-3 7z"/><path class=c7 d="m174 239 3-7-2-8-3 6zm23-5 3-6-2-9-3 7zm24-8 3-7-3-9-3 8zm82 4 3-8-2-8-3 9zm-140 37 3-5-2-7-3 5zm18 10 3-5-3-7-3 6zm33-34 3 6-2 3-3-5zm6-1 3-15-2 4-3 15zm61 32 3 5-2-14-3-5zm11-29 3 4-2-15-3-4zm5 2 3 5-2 4-3-4zm24-7 3-8-2-7-3 8zm7 35 3-7-3-5-3 7zm11-29 3-8-3-6-2 8zm-141 38 3-5-2-7-3 5zm83 4 3-7-2-5-3 6zm23-5 3-6-2-6-3 7z"/><path class=c42 d="m222 116 3 3-2 3-3-4zm56-16 3 3-2 2-3-3zm-188 52 3 15-2 11-3-15zm8 2 2 6-2 3-3-7zm7-7 3 6-2 2-3-6zm11-1 3 14-3 11-2-14zm48-9 3 13-2-9-3-13zm23-7 3 13-2-9-3-13zm25-7 2 12-2 3-3-13zm108-3 3 3-2 3-3-2zm-270 41 3-13-2 2-3 13zm8 6 3-4-2-17-3 4zm341-7 3 11-2 14-3-11zm10 1 3 3-2 6-3-3zm11 7 3 11-3 14-2-11zm32 12 3 2-3-12-3-3z"/><path class=c27 d="m214 156 3-16-3 2-3 16zm-100 26 3 6-2 2-3-6zm11 5 3 15-3-18-3-14zm22-4 3 14-2-9-3-14zm31-3 3 13-2 11-3-13zm38 0 3 13-2 12-3-13zm3-19 3 5-2-18-3-4zm47 6 3 12-2 12-3-12zm34 3 3 11-2-8-3-11zm17-4 3-17-3 4-2 17zm3 5 3-9-2-7-3 8zm7-10 3 3-2-17-3-2zm76 35 3 2-3 6-3-2zm-323 19 3-4-2-8-3 4zm38 4 3 15-2 4-3-15zm292 12 3-8-2-4-3 8z"/><path class=c34 d="m155 152 3 13-2 2-3-13zm18-5 3-7-3 2-3 7zm11 0 3 13-3 11-3-13zm38 2 3 12-2 11-3-12zm5 1 3 12-2 12-3-13zm6-17 3 3-2 11-3-4zm47 0 3-17-2 11-3 17zm24 20 3 12-2 12-3-11zm7-17 3 11-3 4-3-11zm37 19 3 11-2 13-3-11zm10 1 3 2-2-7-3-2zm-293 34 3-4-2 3-3 4zm34-22 3-13-2 11-3 13zm53 1 3 14-2 11-3-14zm219-7 3 2-2 14-3-3zm41 37 3 12-2 7-3-12zm18 9 3 3-2-4-3-4z"/><path class=c39 d="m108 153 3 14-2 3-3-15zm31-6 3 14-2 11-3-14zm18-6 3 13-2 11-3-13zm18-5 3-7-2 11-3 7zm6-2 3 13-3 11-2-13zm38-11 3-7-2 2-3 8zm11-2 3 12-2 10-3-12zm6 1 3 3-3 11-3-3zm77 3 3 11-2 11-3-11zm9 3 3 3-2-8-3-3zm29 14 3 11-3 13-3-11zm4 3 3 11-2-7-3-11zm14 6 2 11-2 13-3-11zm12 7 3 11-2 14-3-11zm26 9 3 3-2 14-3-3zm21 29 2 12-2-5-3-11z"/><path class=c38 d="m260 116 3-9-3 11-3 9zm31 2 2 10-2-8-3-11zm-162 30 3 6-2 3-3-6zm34-4 2 13-2 11-3-14zm11-4 3-15-2 11-3 15zm12-4 3 13-2 11-3-13zm13-6 3 4-2 2-3-4zm46 4 3 12-2 11-3-12zm27-7 3 11-3 11-3-11zm20 9 3 12-3 11-3-11zm46 0 3 3-2 4-3-3zm8 8 2 11-2 13-3-11zm17 9 3 11-2 13-3-11zm-290 13 3-5-3 11-3 5zm319-5 2 3-2 5-3-2zm41 22 3 11-2-5-3-11z"/><path class=c36 d="m126 154 3-6-2 3-3 6zm6 0 3 14-3 3-2-14zm64-17 3-7-2 2-3 8zm6-3 3 13-2 2-3-13zm5 2 3 12-2 11-3-12zm11-2 3-16-2 11-3 16zm46-5 3 12-2-9-3-12zm2-3 3 3-3-17-3-3zm14 4 3-9-3 12-3 8zm1-3 3-17-2 3-3 17zm50 15 3 11-3 12-3-11zm5-2 3 3-2 12-3-2zm4 4 3 3-2-8-3-3zm-264 46 3-4-2-17-3 4zm6-10 3 15-2 3-3-16zm37-20 3 7-3 10-3-6zm270 7 3 2-2 14-3-3zm5 0 3 3-3-6-2-3z"/><path class=c40 d="m225 119 3 12-2 3-3-12zm27-7 3 12-3 2-3-11zm5 1 3 3-3 11-2-3zm36 2 3 11-3 2-2-10zm5-1 3 3-2 11-3-2zm-222 45 3-13-2 2-3 13zm19-3 3 7-2 11-3-7zm8-4 2-5-2 2-3 5zm31-8 3 14-2 10-3-14zm75-19 3 13-2 10-3-12zm109-1 3 2-2 12-3-2zm10 7 3 11-3 12-2-11zm9 2 3 11-2-8-3-11zm49 23 3 11-2 13-3-11zm26 11 2 2-2-5-3-3zm19 11 3 11-2-13-3-11zm1-2 3 2-3-13-3-3z"/><path class=c43 d="m201 119 3 4-2 11-3-4zm42-13 3-9-2 3-3 8zm20-5 3-17-2 2-3 17zm6 14 3 12-3 11-2-12zm5 0 3 12-2 11-3-11zm15-13 3 3-2-17-3-3zm16 7 3 2-3-8-3-3zm-240 45 2 15-2 3-3-16zm20-6 3 15-2 2-3-15zm26-6 3 15-3 10-3-14zm20-4 3 6-2 10-3-6zm258 12 3 11-3 6-3-11zm15 6 3 11-2 14-3-10zm21 8 3 3-2 14-3-2zm5 8 3 11-2-5-3-11zm11 0 2 2-2 16-3-3z"/><path class=c48 d="m182 116 3 5-2 2-3-4zm21-8 3 5-2 10-3-4zm21-6 3-8-2 11-3 8zm21-7 3-8-2 10-3 9zm-178 48 3 16-3 10-2-15zm20-6 3 15-2 11-3-15zm26-5 3 14-2 11-3-15zm20-5 3 6-2 11-3-6zm26-5 3 6-2 2-3-5zm188 2 3 3-2 4-3-3zm18 8 3 3-2 5-3-3zm21 7 3 11-3 6-3-11zm15 6 3 11-2 15-3-11zm13 9 3 3-2 14-3-2zm8-1 3 11-2 15-3-11zm16 8 3 11-3 15-3-11z"/><path class=c31 d="m192 154 3-7-3 11-2 7zm18-6 3 4-2 11-3-4zm46 2 3-8-2 11-3 8zm21-9 3-8-2 11-3 8zm21 10 2-9-2 12-3 8zm19 2 3-9-2-8-3 9zm11 1 3 11-2 4-3-11zm-236 33 3-13-2-9-3 13zm16-6 3-13-2-17-3 13zm10 0 3-6-2-9-3 6zm21-7 3-6-2-17-3 6zm212-4 3-9-2-15-3 9zm38 16 3-9-3-6-3 9zm6-1 3 11-2-15-3-11zm-295 16 3 16-2 3-3-15z"/><path class=c19 d="m184 198 3-7-2 12-3 6zm20-10 3-16-3-17-3 16zm3 2 3-7-2 11-3 7zm33 4 3 12-2 4-3-13zm6 1 3 4-3 11-3-4zm4-5 3-16-2-8-3 16zm32 6 3 12-3 4-3-12zm5 0 3 4-2 12-3-4zm4-5 3-16-2-8-3 16zm36 3 3-17-2-16-3 17zm-188 38 3 15-2-8-3-15zm6-14 3 15-3-9-2-14zm87-8 3 13-2 4-3-13zm121 17 3 12-2 6-3-12zm30-7 3-17-2-6-3 17zm-249 38 3-4-2-7-3 4z"/><path class=c22 d="m176 191 3 13-2 3-3-13zm23-8 3 13-2 3-3-13zm15 9 3 13-2 4-3-13zm17-14 3-8-3 11-2 8zm12 3 2-16-2-17-3 16zm5 1 3-16-3-17-3 16zm3 5 3-8-3 12-2 8zm13-8 3 12-2 3-3-12zm5 0 3 4-2 11-3-3zm20 4 3-16-2-17-3 17zm39 7 3 3-2 12-3-3zm18 9 3 3-2 13-3-3zm4-5 3-17-2-7-3 17zm-185 11 3 14-2-8-3-14zm-47 38 3-4-2 5-3 4zm18 10 3-4-2 5-3 4z"/><path class=c32 d="m165 157 3 5-2 11-3-5zm6-2 3-15-2 11-3 15zm28-2 3-15-2-9-3 15zm80-5 3 3-2-8-3-3zm5 0 3 12-2 3-3-12zm54 10 3 3-2-7-3-3zm-275 35 3-4-3-9-3 4zm112-27 3 14-2 11-3-14zm5 2 3 14-2 11-3-13zm24-7 3 13-3 11-2-13zm118 6 3 11-2 13-3-12zm34 1 3 3-2-7-3-3zm1-4 3 11-3-15-3-11zm4 2 3 11-2 5-3-11zm72 45 3-9-2-4-3 9z"/><path class=c17 d="m202 196 3 5-2 3-3-5zm47 3 2-8-2 12-3 7zm18-8 3 3-3 4-2-4zm-112 17 3 5-2 3-3-5zm10 24 3 15-3 4-2-15zm17-18 3-14-2 3-3 15zm35-9 3 13-2 3-3-12zm13 9 3 13-3-8-2-13zm60-14 3-8-3 12-2 8zm15 9 3 4-3 13-3-4zm21-7 3 3-3 5-2-3zm9 23 3 12-2 6-3-12zm16 8 3 12-3-6-2-12zm10-15 3 3-2 5-3-3zm16 21 3-17-2-5-3 16z"/><path class=c13 d="m202 219 3-6-3 11-2 7zm10 11 2 13-2 4-3-13zm9-20 3-15-2-17-3 16zm14 13 3 13-2 4-3-13zm5 1 3 4-2 12-3-4zm6-3 3-15-2 12-3 15zm20-5 3-8-2 12-3 8zm10 9 3 13-2 4-3-12zm5 0 3 4-2 13-3-4zm23-11 3-16-2-16-3 17zm-142 42 3 7-2 4-3-6zm150-15 3 12-3 5-2-12zm15 7 3 13-2-6-3-13zm0 16 3 5-2 6-3-4zm33-24 2-16-2-6-3 16z"/><path class=c33 d="m172 151 3-15-2 11-3 15zm17-2 3 5-2 11-3-5zm6-2 3-16-3 11-3 16zm20-5 3-8-2 11-3 7zm53 13 3 12-2 12-3-12zm1-17 3 11-2 3-3-11zm74 19 3 11-2 4-3-11zm-277 32 2-12-2-9-3 12zm30-15 3-6-2 11-3 5zm25 1 3 7-2-9-3-7zm8-8 3-14-2-9-3 14zm198-2 3 12-2 13-3-12zm30-5 3 11-2-15-3-11zm38 20 2 11-2-6-3-11zm20 9 3 11-2-6-3-11z"/><path class=c51 d="m272 78 3 11-2 2-3-11zm5 0 3 11-2 11-3-11zm5 0 3 3-2 11-3-3zm-55 16 3 4-2 11-3-4zm21-7 3 3-2 11-3-4zm10 1 3 12-2 2-3-11zm41 1 3 11-2 3-3-11zm10 10 3 3-2 12-3-3zm5-1 3 11-2 4-3-11zm-230 32 3 7-2 11-3-7zm10 3 3 15-2-9-3-15zm309 6 3 11-2 6-3-11zm10 9 3-9-2 15-3 9zm11-2 3 11-2 7-3-11z"/><path class=c41 d="m263 107 3-17-3 11-3 17zm3 5 3-9-2-9-3 9zm22-3 3 11-2-18-3-11zm-218 50 3 7-3 11-3-8zm58-15 3-6-2 10-3 6zm26-8 3 5-2 11-3-6zm24-7 3 5-2 11-3-5zm26-6 3 13-2 11-3-13zm129 7 3 10-2 13-3-11zm20 8 3 11-2 4-3-11zm-306 27 3-4-2 2-3 4zm377 13 3-9-2-5-3 9zm11-2 3 11-2 7-3-11zm19 8 3 3-2-5-3-2z"/><path class=c44 d="m211 119 3 13-2-9-3-13zm17-10 2 12-2 10-3-12zm5 1 3 12-3 11-3-12zm26-8 3 3-2 11-3-3zm31 2 3 11-2 3-3-11zm20 10 3 11-2 11-3-11zm5-1 3 11-2 12-3-11zm-211 31 3-13-2 10-3 14zm1-3 3-5-3 11-2 5zm49-10 3-6-3 11-2 6zm6-1 3 14-3 10-3-13zm17-5 3-6-2 10-3 7zm6-2 3 13-2 11-3-13zm165 8 3 11-3 13-2-11zm4 3 3 11-2-7-3-11z"/><path class=c45 d="m249 101 3 11-3 3-3-12zm5 0 3 12-2 11-3-12zm41 2 3 11-2 12-3-11zm5 0 3 3-2 11-3-3zm-251 51 3-4-2 11-3 4zm30-8 3-5-2 2-3 5zm57-13 3 14-2 11-3-14zm20-4 3-7-2 3-3 6zm23-6 3-7-2 3-3 6zm6-2 3 13-2 2-3-13zm149 1 3 11-2-8-3-11zm29 15 3 3-3 13-3-3zm20 8 3 11-2 13-3-11zm68 28 3 11-2-4-3-11z"/><path class=c35 d="m149 153 3-7-2 3-3 6zm35-4 3-7-2-17-3 7zm11-7 3-16-2 11-3 16zm17-4 3 4-2 10-3-4zm46-4 3-8-2-9-3 8zm42 1 3-9-3-9-3 9zm6-4 3 11-2-17-3-10zm14 13 3 3-2-8-3-3zm20 5 3 11-3-16-3-11zm-272 37 3-12-3 3-2 12zm308-23 3 3-2-7-3-2zm16 11 3 11-2-15-3-11zm15 10 2-9-2-5-3 8zm14 11 3-17-2-5-3 17zm15 7 3-17-2-4-3 17z"/><path class=c16 d="m129 232 3-6-2 4-3 5zm50-28 3 5-2 3-3-5zm2 13 3-14-2 11-3 15zm13-5 3 14-3 3-3-13zm5 2 3 5-2 12-3-5zm6-1 3-15-3 11-3 15zm17-7 3 5-2 12-3-5zm5-3 2-15-2-9-3 16zm42 5 3-16-2 13-3 15zm17-8 3-17-2-16-3 17zm14 10 2 12-2 4-3-12zm17 10 3 12-2 5-3-12zm27-8 3 3-3 5-3-3zm-207 40 3-5-2-15-3 4z"/><path class=c29 d="m213 152 3-7-2 11-3 7zm43-1 2-17-2-9-3 17zm41 1 3-17-3-9-3 17zm-193 39 2 15-2-9-3-15zm9-6 3-13-2-18-3 14zm37-5 3 14-3 3-3-14zm13-8 3-6-3-17-3 6zm23-6 3-6-2-18-3 7zm39-5 3 13-2 11-3-13zm56 11 3 12-2 12-3-12zm5 0 3 12-2 12-3-12zm16-6 3 11-2 4-3-11zm33 1 3-9-2-7-3 9zm36 16 3-8-2-7-3 9zm-273 22 3 15-2-8-3-16z"/><path class=c21 d="m162 196 3-15-2-9-3 15zm19-3 3 5-2 11-3-5zm28-12 3-15-3-9-2 15zm15 14 3 4-2 12-3-5zm38-13 3 12-3-8-3-12zm10 1 3-9-2 12-3 8zm37-4 3-17-2-16-3 17zm22 14 3-9-2 13-3 8zm-224 30 3-13-3-9-2 13zm5-15 3-14-2-9-3 14zm198-8 3-8-3 13-2 8zm31 1 3 11-3 5-3-12zm55 20 2-9-2-13-3 8z"/><path class=c15 d="m151 225 3-14-2-17-3 14zm12 11 2 15-2-8-3-15zm17-18 3-15-2-8-3 14zm23-5 3-15-2-9-3 15zm39 1 3-16-2-16-3 15zm16-2 3 12-2 4-3-13zm5 0 3 4-2 12-3-4zm5-4 3-16-3-8-2 16zm40 5 2-8-2 12-3 9zm17 9 3-8-2 13-3 8zm-181 21 3 6-2 4-3-6zm16 22 2-5-2 5-3 5zm190-13 3 5-2 6-3-4z"/><path class=c28 d="m225 158 3-16-3-17-2 16zm47-9 3 3-2 3-3-3zm-155 42 3-13-2 3-3 13zm0 3 3-14-3 11-2 14zm8-10 3 6-2-17-3-6zm17-1 2-6-2-9-3 6zm13 0 3 14-3 11-2-14zm36-14 3 4-2-9-3-4zm121-7 3-17-2-16-3 17zm41 15 3-9-2-7-3 9zm35 20 3-17-2 6-3 17zm-305 14 3-12-2-9-3 13zm335 3 3-9-2 7-3 9z"/><path class=c23 d="m139 197 3-14-3-9-3 14zm32-12 3 13-2-17-3-14zm12-3 3-16-2-17-3 15zm90-9 3-17-2-8-3 17zm40 7 3-9-2 12-3 9zm19 4 3-17-2-7-3 17zm20 9 3-17-3 13-3 17zm-231 20 3 15-2-8-3-15zm243-9 3 3-3 14-3-3zm4-4 3-17-2-6-3 17zm25 18 3 3-3-14-3-3zm8 0 3-17-3-6-3 17z"/><path class=c26 d="m115 194 3-13-2-9-3 13zm14-1 3 15-2 2-3-14zm7-5 3-14-2-17-3 14zm29-7 3-6-2-9-3 6zm6-1 3 14-3-9-2-14zm17-5 3-6-2-9-3 6zm19-1 3 5-3 11-3-5zm11-8 3 13-2-18-3-12zm53-1 3-17-2-17-3 17zm3 6 3-8-2 11-3 9zm59 9 3-9-2 13-3 9zm18 9 3-9-2 13-3 9zm-262 11 3-13-2-9-3 13zm303 12 3 11-2-5-3-11z"/><path class=c24 d="m110 199 3-14-2-17-3 13zm30-2 3-14-2 11-3 14zm55-20 3 13-2-17-3-13zm37-9 3-16-2-9-3 16zm16 15 3 4-2 12-3-4zm11-9 3 12-2-17-3-12zm25 10 3 12-2 12-3-12zm5 0 3 3-2 13-3-4zm59 3 3-17-2-15-3 17zm13 9 3-17-3-14-3 17zm-8 4 3 12-2-7-3-11zm31 8 3-8-2 14-3 8z"/><path class=c27 d="m230 159 3-16-2-17-3 16zm-99 26 3-14-2-18-3 14zm8 6 3-5-2 11-3 6zm21-6 3 6-2 11-3-5zm13-8 3 14-2 3-3-14zm29-5 2 13-2 11-3-13zm10-6 3-8-3-9-3 8zm10 16 2 13-2 11-3-13zm39-15 3 12-2 3-3-12zm10 0 3 4-2 12-3-4zm54 11 3 12-2 12-3-11zm23 8 3 3-2 13-3-3zm39 14 3-17-2 14-3 17z"/><path class=c34 d="m149 156 3-14-3 11-3 14zm25-3 2-15-2 2-3 15zm49-12 2-16-2-10-3 16zm5 1 3-16-3-17-3 16zm14 16 3 12-2 12-3-12zm23-26 3 11-2-17-3-11zm45 21 2 11-2 12-3-11zm5-8 3-9-2-16-3 9zm-202 36 3 6-2 12-3-7zm241-20 3 3-3-15-2-3zm4 3 3 2-2 5-3-3zm17 3 3 11-2-15-3-11zm38 16 3 11-2-13-3-11z"/><path class=c18 d="m127 225 2 7-2 3-3-7zm43-9 3 14-2 3-3-14zm8-7 3-14-3-17-3 15zm11-2 3 14-2-17-3-13zm12-3 3-15-2-17-3 15zm46 2 3-7-2-8-3 7zm72 4 3-17-2-15-3 17zm6-1 2-17-2-15-3 16zm3 5 3-17-2 14-3 16zm17-10 3-17-2-15-3 17zm29 33 3 3-3 7-3-4zm-217 21 3 7-3 5-3-7z"/><path class=c25 d="m155 184 3-14-3-18-3 15zm46-13 3-16-2-17-3 15zm6 1 2-15-2-17-3 15zm27-2 3-16-3 11-3 16zm81 0 2-17-2-8-3 17zm15 7 3-17-2-16-3 17zm36 17 3-17-3-15-2 17zm4 1 3-17-2 5-3 17zm-246 15 3 15-3 3-3-15zm262-7 3-17-3-6-2 17zm17 8 3-16-2 6-3 17z"/><path class=c37 d="m155 152 3-14-2-9-3 14zm46-4 3 13-2 11-3-13zm1-10 3-16-2-9-3 16zm17-9 3-16-3 10-2 17zm1 2 3-16-2 3-3 16zm19-6 2-8-2 11-3 8zm79 11 3 3-2-16-3-3zm-212 28 3-13-3-9-3 13zm22 3 3 15-2 11-3-14zm261 4 3 3-2-15-3-2zm15 7 3-8-2-14-3 9zm8 0 3 11-2-6-3-11z"/><path class=c39 d="m101 158 3-14-2 11-3 13zm1-3 3-14-2 11-3 14zm30-2 3-14-2-9-3 14zm22 4 3 14-2 12-3-14zm70-20 3 13-2 11-3-12zm79-11 2 3-2-9-3-3zm5-1 3 11-3 4-3-11zm65 27 3 11-2-6-3-11zm-306 27 3-4-2 11-3 4zm317-14 3-8-2-15-3 9zm26 7 3 11-2-13-3-11zm1-2 3 11-2-14-3-11z"/><path class=c40 d="m241 117 3-16-2 11-3 16zm-138 38 3-13-2 2-3 14zm73-17 3-15-2 2-3 15zm22-12 3-7-2 11-3 7zm27-1 3-16-2-10-3 16zm78-5 3 11-2-16-3-11zm57 30 3 3-2 13-3-2zm-289 24 3-13-3 3-3 13zm5-13 2-13-2 11-3 13zm34 5 3 15-2 11-3-15zm297 4 3 2-2-13-3-3zm8 1 3 11-3 7-3-11z"/><path class=c49 d="m206 106 3 4-3 3-3-5zm24-8 3 12-3 11-2-12zm21-8 3 11-2 11-3-11zm5 1 3 11-2 11-3-12zm36 1 3 11-2 12-3-11zm5 0 3 11-2 11-3-11zm15 10 3 11-2 12-3-11zm17 10 3 2-2 5-3-3zm-222 19 3-6-2 11-3 5zm29-7 2 6-2 3-3-6zm247 12 3 3-3 6-2-3z"/><path class=c33 d="m199 159 3 13-3 11-3-13zm34-16 3-8-2-17-3 8zm5 1 3 4-2-9-3-4zm57 4 3 3-3 11-3-3zm44 6 3 11-2-16-3-11zm-245 31 3-14-2 3-3 13zm54-25 3-14-2 10-3 15zm9 11 3 14-2 12-3-14zm201 10 3 12-2 13-3-11zm21-9 3 11-2 5-3-11zm7 8 3-9-2-14-3 8z"/><path class=c32 d="m194 151 3-7-2 3-3 7zm54-10 3-16-2-18-3 17zm5 6 3 3-2 11-3-3zm0-5 3-17-2-17-3 17zm41 1 3-17-2-16-3 17zm-193 39 3 15-2-17-3-15zm1-2 3 7-2-18-3-6zm24-1 3 14-2 3-3-14zm8-8 3-14-2-18-3 14zm13-7 3-6-2 2-3 6zm24-4 3-7-3 2-3 7zm162 0 3-9-2-16-3 9z"/><path class=c12 d="m154 233 2-14-2-8-3 14zm19-3 3 5-2 4-3-6zm25-11 3-15-2-17-3 15zm46 3 3-16-2-8-3 16zm20 9 3-15-2 4-3 16zm22-8 3-17-3-7-3 16zm8 12 3 12-2 5-3-12zm28-10 3-16-3-16-3 17zm16 12 3 4-2 5-3-3zm-190 11 3-14-2-7-3 13zm156 24 2 5-2 6-3-5z"/><path class=c19 d="m224 195 3-16-2-16-3 15zm3 4 3-7-2 12-3 7zm50-7 3 12-2-16-3-12zm-125 26 3 6-2 11-3-6zm7-2 3-14-3 3-3 14zm7-5 3 13-2-16-3-14zm6-4 3-14-2-17-3 14zm9 5 3-6-3 11-3 6zm23-5 3-6-2 12-3 6zm80 5 2 4-2 13-3-4zm63 4 3-16-2 5-3 17zm24 34 3-7-2 6-3 8z"/><path class=c29 d="m111 192 3 7-2 11-3-7zm26-7 2 6-2 12-3-7zm12-12 3-6-2-9-3 6zm71-13 3 12-3 3-2-12zm10 2 3 4-2 12-3-4zm77 3 3 11-2 13-3-12zm5-1 3 3-2 13-3-4zm46 18 3-17-2-7-3 17zm8 8 3 3-2 14-3-3zm28 16 3 11-2 6-3-11zm8-1 3-8-2 14-3 9z"/><path class=c36 d="m125 158 3-14-2 10-3 14zm54-11 3-15-3-9-3 15zm50 0 3 12-2 3-3-12zm7-12 3 4-3-17-2-4zm-152 39 3-13-2-17-3 13zm11 0 3-5-3-8-2 4zm8-1 3 15-2 3-3-15zm8-5 3-14-3-17-2 14zm250-3 3-18-2-6-3 17zm32 5 3 11-2-14-3-11z"/><path class=c20 d="m185 190 3-15-2-9-3 16zm21 8 3-7-2-9-3 7zm30-9 3 12-2-16-3-13zm9 9 3-7-2-16-3 7zm5 1 3 4-2-8-3-4zm43-7 3-17-3 12-3 17zm-160 10 3-14-2-17-3 14zm21 9 3-14-2-17-3 14zm35-9 2 14-2-9-3-13zm192 12 3-17-3-14-3 17z"/><path class=c31 d="m204 155 3-15-2-18-3 16zm120-5 3 11-2-16-3-11zm-234 41 3-5-2 12-3 4zm26-4 3-5-2 12-3 5zm15-5 3 14-2 12-3-15zm21-15 3-15-2-9-3 15zm24-5 3-15-3-9-2 15zm179 10 3-8-2 4-3 9zm24 22 2 11-2 14-3-11zm42 11 3-17-3 7-2 17z"/><path class=c35 d="m144 158 3 6-2 2-3-5zm53-14 3-15-2 2-3 16zm20-5 3-8-2 3-3 8zm109 4 2 11-2 4-3-11zm-225 33 3 15-3-9-3-15zm2-7 3-5-3-9-3 5zm5 8 3 15-2 11-3-15zm7 1 3 6-2 3-3-6zm10-17 2-14-2 11-3 14zm9 10 3 14-3 11-3-14zm258 6 3 3-3-6-3-3z"/><path class=c10 d="m220 236 3-6-3 12-3 7zm122 2 3-16-3-7-3 17zm-181 22 3-5-3-16-3 5zm4 3 3-5-2 4-3 5zm13 8 3 6-3-6-2-7zm23 7 3-5-3 6-3 5zm40-37 3-15-2 4-3 15zm51-1 3 12-3-7-3-12zm14 37 3-7-2 7-3 6zm24-8 3-7-2 6-3 7z"/><path class=c38 d="m246 124 3-17-2-9-3 17zm10 1 3-8-2-17-3 8zm5 1 3 3-2-9-3-3zm6 0 2 12-2 3-3-12zm5-6 2-17-2-17-3 17zm5 7 3 3-3 11-2-3zm20-1 3-9-2-16-3 9zm57 23 3 11-2-15-3-11zm-286 28 3-13-2-9-3 13zm356 11 3-17-3 7-3 17z"/><path class=c43 d="m222 113 3-8-3 11-3 7zm40-8 3-8-2 10-3 9zm26 2 3 11-3-9-3-11zm-213 48 3-5-2 11-3 5zm58-2 3 15-2 3-3-15zm91-23 2 4-2 3-3-4zm24-7 2 12-2 11-3-12zm87 2 3 11-2 4-3-10zm61 32 3 3-2 14-3-3zm-327 11 3-4-2 11-3 4z"/><path class=c28 d="m196 170 3 13-2 3-3-13zm22-7 2 12-2-9-3-12zm27 2 3-16-2-17-3 16zm6 1 3-8-3-17-3 8zm41 1 3-9-2-16-3 8zm5-1 3 4-2-8-3-4zm18 1 3-8-2 12-3 9zm15 10 3 3-2 13-3-3zm31 16 3 11-3 14-2-12zm58 19 2-17-2-5-3 17z"/><path class=c41 d="m259 117 3 3-2-17-3-3zm-108 35 3 5-2 12-3-6zm49-12 3 5-2 3-3-5zm21-7 3 4-2 12-3-5zm5 1 3 13-2 3-3-13zm26-6 3 12-2-8-3-12zm119 18 3 11-3 5-2-11zm7 10 3 2-2 14-3-3zm13 0 3 11-2-6-3-11zm-286 6 3 15-2 11-3-15zm317 21 3-8-2 15-3 9z"/><path class=c42 d="m221 118 3-16-2 11-3 16zm21-6 3-17-2 11-3 16zm2 3 3-17-3 3-3 16zm56 2 3 3-2-16-3-3zm4-2 3 10-2-16-3-11zm-173 41 3 15-3 11-3-15zm51-24 3-7-3-9-3 7zm160 5 3-9-2 13-3 9zm18 9 3-9-3 13-2 9zm42 19 3-9-2-14-3 9z"/><path class=c47 d="m234 104 3 12-2-9-3-12zm41-15 3 11-2 2-3-11zm5 0 3 3-2 11-3-3zm26 19 3-9-2 12-3 9zm21 8 3 3-2 12-3-3zm-274 32 3-12-2 2-3 12zm21-3 3 7-2 3-3-7zm59-15 3-6-3 3-3 6zm5 0 3 14-2 3-3-14zm243 12 2 3-2 13-3-2z"/><path class=c22 d="m191 199 3 13-3 4-2-14zm28-6 3 13-2 12-3-13zm58-5 2 12-2-8-3-12zm7-4 3-17-3-16-2 16zm8 3 3-8-2 13-3 8zm10 10 3 12-3 13-2-12zm28 2 3-8-3-7-3 8zm-195 14 3-14-2 4-3 13zm24-8 3-6-2-8-3 6zm206 13 3-17-3 6-3 17z"/><path class=c16 d="m130 230 3-14-2-8-3 13zm76-10 3 14-2-8-3-14zm48-12 3 12-2-16-3-13zm59 10 3 12-2-16-3-12zm9 0 3 4-2 13-3-3zm5-2 3-17-3-7-2 17zm16 11 3-8-2 14-3 8zm19 8 3-17-3 6-2 16zm-14 27 3-7-3 7-3 7z"/><path class=c30 d="m209 157 3-8-2-17-3 8zm26-5 3-8-2-9-3 8zm-148 39 3-13-3-17-3 13zm58-17 3 14-2-17-3-14zm13-4 2-15-2-17-3 14zm23-6 3-15-2-17-3 15zm174 12 3-17-3 13-3 17zm32 18 3-9-3 15-3 8zm29 13 3-17-2-13-3 17z"/><path class=c34 d="m168 154 3 6-3 2-3-5zm23-7 3 4-2 3-3-5zm48-8 3 12-3-17-3-12zm71 7 3-17-2-17-3 18zm30 8 3 3-2 4-3-3zm-252 30 2 7-2 11-3-7zm195-24 3 12-2 12-3-12zm80 19 3 11-2 14-3-11zm9-11 3 3-3-15-3-3zm19 12 3-9-2 6-3 9z"/><path class=c40 d="m156 154 3 14-2 3-3-14zm19-5 2 6-2 11-3-5zm56-23 3-8-3-17-3 8zm74-3 3 2-3 4-2-3zm8 6 3-9-2-16-3 8zm30 12 3 3-3 13-3-3zm47 18 3 11-2-14-3-11zm-320 16 3-12-2 11-3 12zm65-13 3 14-2-8-3-15z"/><path class=c39 d="m152 142 2-6-2 10-3 7zm46-11 3-15-3 10-3 16zm43-8 3-8-3 2-2 8zm21-3 3 12-2-17-3-12zm49 25 3 11-2-7-3-12zm26-7 3 11-3-16-3-11zm-237 22 3-5-2 3-3 5zm260 7 3 12-2 14-3-12zm49 8 3 3-2-6-3-2z"/><path class=c57 d="m252 73 3 4-2 2-3-3zm19-9 3 3-2 11-3-3zm23 11 3 3-3 3-3-3zm-205 42 3 7-3 2-2-7zm-28 3 3 8-2 10-3-7zm10 4 2 15-2-9-3-16zm347 9 3 2-2 7-3-3zm24 6 3 11-2 7-3-11z"/><path class=c4 d="m207 265 3 6-3-8-3-5zm0-2 3-6-2-15-3 6zm39 2 3 5-3-15-3-5zm8-14 3-7-2-16-3 7zm5 0 3-15-2-8-3 16zm35 18 3-7-2 6-3 7zm-52 13 3 5-2-6-3-6zm5 0 3-6-2 5-3 6z"/><path class=c17 d="m132 226 3-13-2 3-3 14zm23-2 3-6-2 12-3 5zm1-5 3-14-2-8-3 14zm110-19 2-16-2-16-3 16zm4 5 3-17-2 4-3 16zm25 2 3 12-2-16-3-12zm14-2 3-16-2-8-3 17zm-184 36 2-13-2-8-3 13z"/><path class=c21 d="m271 192 3-8-3-7-3 7zm15 7 3-8-2-16-3 8zm5 0 3 3-2-7-3-4zm6-1 3 12-3 4-3-12zm39 0 3 12-2-15-3-12zm-204 22 3-5-3 11-3 6zm1-4 3-13-2-9-3 14zm63-15 3 13-2 12-3-14zm5 1 3 5-2 12-3-5zm119 5 2 11-2 14-3-12z"/><path class=c9 d="m239 229 3-15-2-17-3 16zm41 2 3-16-2-16-3 16zm-114 31 3-13-3-8-2 14zm17 11 3-6-2 5-3 5zm21-22 3 14-3-7-2-14zm18 10 2 14-2-6-3-14zm64-4 3 13-2-6-3-13zm50 0 3-16-2-6-3 16z"/><path class=c19 d="m219 194 3-16-2-17-3 16zm83 5 3-17-3-16-3 17zm5-1 3-17-3-15-2 16zm-149 20 3-14-2 12-3 14zm45-3 3 5-2-8-3-5zm143 4 3-16-2 13-3 17zm15 9 3-8-2 15-3 8zm1-4 3-17-2-6-3 17z"/><path class=c46 d="m244 101 3-17-2 11-3 17zm3 15 3 4-2 3-3-4zm38-18 3 11-2-18-3-11zm-178 53 3 15-2 11-3-15zm243-24 3 11-2 4-3-11zm38 18 3 11-2-6-3-11zm7 6 3-9-2 15-3 9zm32 6 3 3-2 7-3-3z"/><path class=c44 d="m264 103 3-9-2 3-3 8zm21 1 3 3-3-9-2-3zm-150 35 3-5-2-10-3 6zm50-14 2 5-2-9-3-5zm177 16 3-9-2 5-3 9zm4-1 3 11-3 13-3-11zm43 16 3 11-3-6-3-11zm19 11 3 11-2-13-3-11z"/><path class=c38 d="m151 146 3-15-2 11-3 14zm126-25 3-17-3-18-3 17zm95 35 3 11-2-15-3-11zm-274 11 3 15-2-17-3-15zm1-2 3 15-2-17-3-15zm1-2 3 6-3-9-2-6zm323 27 3-17-2 15-3 17zm6 4 3-9-2-13-3 9z"/><path class=c29 d="m276 156 3-8-2-8-3 8zm-142 38 3-5-3-17-2 6zm35-23 2 14-2-18-3-13zm23-7 3 13-2-17-3-13zm149 10 2-17-2-7-3 17zm13 6 3-17-2 13-3 17zm-247 21 3-13-2-17-3 13zm297 0 3-17-3-6-3 17z"/><path class=c36 d="m167 150 3 14-2-10-3-13zm38 4 3 13-2-9-3-13zm39 0 3 13-2 3-3-12zm77-15 3 11-2-16-3-11zm37 20 2-9-2 14-3 8zm-176 1 3 14-2-9-3-13zm215 14 3 11-3 6-2-11zm20 22 3 3-2 15-3-3z"/><path class=c26 d="m183 182 3 5-2 11-3-5zm76-12 3 12-3-8-3-12zm7-6 3-16-2-17-3 17zm72 25 3 12-3 4-2-11zm17 1 3-8-2-7-3 9zm-219 13 3-6-2-8-3 5zm21-1 2 6-2 4-3-6zm224 3 3 3-2 14-3-3z"/><path class=c24 d="m162 199 3 6-2-8-3-6zm117-15 3 12-3 4-2-12zm48 8 3-8-2-16-3 9zm9 2 2 11-2-7-3-11zm-231 20 2-13-2-17-3 13zm26-6 3-14-2-16-3 13zm23-2 3 6-2 12-3-6zm244 6 3-17-2-13-3 17z"/><path class=c27 d="m233 166 3-7-2 11-3 8zm66 19 3 12-2 13-3-12zm5 0 3 12-2 12-3-12zm3-22 3-17-2-16-3 16zm15 30 3 12-3 13-2-11zm21-6 3 12-2 13-3-11zm26 6 3-8-2 13-3 9zm15 4 2-17-2-15-3 18z"/><path class=c25 d="m222 178 3-15-2-17-3 15zm5 1 3-7-2-17-3 8zm26-5 3-8-2-8-3 8zm41 1 3-9-2-8-3 9zm16 6 3-8-3-16-3 9zm15-3 3-17-2-16-3 17zm38 36 3-8-2 14-3 8zm2-7 3-8-2-6-3 8z"/><path class=c31 d="m193 156 3 4-2-9-3-4zm-23 8 3 5-2-9-3-6zm53 9 3 13-2-8-3-13zm2-10 3-8-2-16-3 7zm103-2 3-17-2-16-3 17zm9 2 3-9-2 4-3 9zm19 12 3-17-2 5-3 17zm13 2 3-9-3-15-3 9zm32 18 3-17-2-13-3 17z"/><path class=c37 d="m127 158 3-14-3 3-2 14zm50-3 3 13-2 12-3-14zm13-12 3 13-2-9-3-13zm24-8 3 4-2 3-3-4zm9 11 3-7-2-9-3 7zm79-15 3-8-2 3-3 9zm20 3 3 11-3-17-2-11zm7 22 3 12-2-7-3-12zm65 15 3 3-2 6-3-3z"/><path class=c32 d="m274 148 3-8-2-17-3 8zm15-4 3-17-2-17-3 17zm-142 23 2 6-2-9-3-6zm72 2 3 13-3 11-3-13zm82 4 3 12-2 12-3-12zm80 10 3-18-2-14-3 17zm3 8 3 3-3 14-3-3zm22 4 3-18-2 7-3 17z"/><path class=c40 d="m238 119 3 4-2 2-3-3zm-111 28 3-14-2 11-3 14zm26-4 3-14-2 2-3 15zm35-9 3 13-2 2-3-13zm164 12 2 3-2-15-3-3zm31 27 3 12-2 6-3-12zm9-5 3-17-2 15-3 17zm1-2 3-9-2 14-3 9z"/><path class=c53 d="m269 75 3 3-2 2-3-2zm16 1 3 3-3 2-3-3zm-38 8 3-8-2 11-3 8zm-188 47 3 7-3 3-3-7zm30-5 3 15-2 11-3-15zm330 16 3 11-2 15-3-11zm26 8 3 2-2 7-3-2z"/><path class=c56 d="m250 76 3 3-2 11-3-3zm5 1 3 11-2 3-3-12zm19-10 3 11-2 11-3-11zm5 1 3 10-2 11-3-11zm18 10 2 11-2 3-3-11zm-210 41 2 7-2 11-3-7zm334 16 3 11-2 7-3-11z"/><path class=c44 d="m269 103 3-17-2-9-3 17zm11 1 3-9-3-17-3 8zm-178 51 3 7-2 11-3-6zm25-3 3-5-2 3-3 5zm197-27 3-9-2 12-3 9zm46 16 3 11-2-6-3-11zm38 18 3 11-2-14-3-11zm19 10 3 3-2-5-3-3z"/><path class=c54 d="m253 79 3 12-2 10-3-11zm-3 3 2-9-2 3-3 8zm44-1 3 11-2 11-3-11zm-230 47 3 15-2 11-3-16zm28-4 3 15-3 2-3-15zm324 15 3 3-2 15-3-3zm24 7 3 11-2 15-3-11z"/><path class=c45 d="m201 116 2-8-2 11-3 7zm48-9 3-16-2-9-3 16zm46 3 3-9-2-17-3 9zm12 1 3 3-2 11-3-2zm-229 37 3-13-2 11-3 13zm19 0 3 15-2-9-3-15zm9-6 3-14-2 3-3 13zm243-11 3 3-2-7-3-3zm80 31 3 3-2-5-3-3z"/><path class=c47 d="m203 113 3-7-3 2-2 8zm64-19 3-17-2 3-3 17zm16 1 2 3-2-18-3-2zm-231 55 3-13-2 11-3 13zm33-6 3-13-2-9-3 13zm300-2 3 3-2-6-3-3zm35 18 3-9-2-13-3 9zm29 7 3 3-2-13-3-3z"/><path class=c33 d="m212 149 3 5-2-18-3-4zm5-5 3 4-3-9-3-4zm88 2 3-16-2-9-3 17zm-212 40 3-13-2 12-3 13zm153-23 3 12-2-8-3-13zm129 8 2 11-2-15-3-11zm15 14 2-17-2 15-3 17zm14 31 3 12-2-5-3-12z"/><path class=c41 d="m282 113 3-9-2-9-3 9zm-141 31 3 14-2 3-3-14zm36 2 3 6-3 3-2-6zm23-17 3-16-2 3-3 15zm103-4 3-17-2 12-3 17zm1 13 3 3-3 12-3-3zm-219 30 3 16-3 11-3-15zm2-7 3-13-2-17-3 13zm330 16 3-17-2-13-3 17z"/><path class=c52 d="m229 92 3 3-2 3-3-4zm82 4 3 2-2 4-3-3zm-242 37 3 15-2 11-3-16zm19-2 3-5-2-9-3 5zm24-8 3 6-2 3-3-7zm289 13 2 3-2 6-3-3zm34 14 3 11-3 15-3-11z"/><path class=c46 d="m261 100 3 3-2 2-3-3zm14 9 3 12-2-9-3-11zm12-8 3 3-2 3-3-3zm24 11 3-8-3-8-2 8zm-181 35 3 6-2 3-3-6zm196-26 3-9-2 4-3 9zm42 14 3 11-2 5-3-11zm57 29 3 3-2-13-3-3z"/><path class=c43 d="m223 115 3-16-2 3-3 16zm40-6 3 3-2-9-3-3zm21 1 3-9-2 3-3 9zm36 7 2 11-2-8-3-11zm-188 38 3 7-2-9-3-6zm21-6 3 5-2 3-3-5zm136-24 3 11-3 12-2-12zm17 9 3 3-2 4-3-3zm-235 30 3-4-2-9-3 4zm351 9 3-9-2-13-3 9z"/><path class=c42 d="m237 116 3 12-2-9-3-12zm-107 28 3-14-3 3-3 14zm174-24 3-9-2 12-3 8zm15 3 3 11-2-17-3-11zm6 5 3 3-2 12-3-3zm39 19 3-8-2-7-3 9zm23 10 3 2-2-14-3-3zm25 12 3 2-3 7-3-3z"/><path class=c2 d="m230 275 3-15-2-7-3 15zm5-13 3-6-2 4-3 7zm13 10 3 5-2-7-3-5zm1-2 2-7-2-15-3 7zm4 2 3-7-2 5-3 7zm13 5 3-7-2-15-3 7zm5-13 3 5-2-7-3-5z"/><path class=c11 d="m197 226 3 5-3 3-3-5zm23-8 3 5-2 3-3-5zm33 18 3 13-3 5-2-13zm10-20 3-16-3-16-3 16zm39 6 3 4-2 4-3-4zm18 10 3 3-2 5-3-3zm-55 27 3 14-2 5-3-14zm16 8 3 13-3-6-3-13z"/><path class=c2 d="m254 270 3-15-3-7-3 15z"/><path class=c8 d="m216 238 3-15-2-16-3 15zm-45 13 3-14-2-8-3 14zm21-8 3-15-2-16-3 14zm7 25 3 6-2-15-3-6zm46-10 3 14-2-7-3-14zm23-7 3 13-2-7-3-13zm30-9 3-16-2-15-3 16zm7 24 3 5-3-14-3-5z"/><path class=c14 d="m178 223 3-6-2 12-3 6zm47-12 3-7-2 12-3 7zm22 7 3-16-3 4-3 16zm41 0 3-16-2 4-3 17zm13 8 3-16-2-15-3 16zm5 2 3-16-3 5-3 16zm-156 16 3-13-2 3-3 14zm196 9 3 5-2-14-3-4z"/><path class=c50 d="m226 99 3-7-2 2-3 8zm40-15 3-9-2 3-3 8zm21 1 3 3-2-9-3-3zm-236 58 3-4-2 11-3 4zm11-5 3 16-3 2-3-15zm336 4 3 3-2 15-3-3zm45 15 3 2-3 15-2-2z"/><path class=c48 d="m247 98 3-16-3 2-3 17zm19-8 2-17-2 11-3 17zm5 14 3 11-2 12-3-12zm15-13 3 11-2-17-3-11zm16 7 3 11-3-9-3-11zm15 8 3 11-3-8-3-11zm15 8 3 11-2 5-3-11zm-237 25 3 15-3 2-3-15zm347 29 3-9-2-4-3 9z"/><path class=c36 d="m190 147 3 13-3-17-3-13zm49-13 3 12-2-18-3-12zm62 3 3-17-2 11-3 17zm2 1 3-17-3 4-3 17zm-210 42 3-5-3 11-3 5zm306 2 3-17-2-14-3 17zm3 6 2 3-2 14-3-3zm17 2 3-17-2-13-3 17z"/><path class=c13 d="m175 224 3-15-3-16-3 14zm25 8 3-14-2 3-3 15zm19-9 3-15-3-16-2 15zm4 4 3-15-2 4-3 15zm82 4 3-16-2 13-3 16zm34 1 3-17-2-14-3 16zm-181 21 3 7-3-16-3-6z"/><path class=c18 d="m128 221 3-13-2-17-3 14zm68-19 3-15-2-16-3 15zm41 9 3 13-2 12-3-13zm5 0 3 5-2 12-3-4zm27-7 3-8-3 12-3 8zm20 2 2-7-2-8-3 8zm40 5 3-17-2 5-3 17zm11 13 3 3-2 14-3-4z"/><path class=c23 d="m181 195 2-6-2-17-3 6zm23-6 3-7-2-16-3 6zm5 2 3 5-2-9-3-5zm59-7 3-7-2-17-3 8zm44 5 3-9-2-7-3 8zm31 0 3-17-3-15-2 17zm-234 30 3-13-2 4-3 13zm64-15 2 14-2 12-3-14z"/><path class=c22 d="m229 188 3-8-2-8-3 7zm78 9 3 3-2 13-3-4zm-172 18 3-14-3 12-3 13zm22-3 3-6-2 12-3 6zm21-6 3 6-3 11-3-5zm147-1 3 4-3 13-3-4zm29 0 3 12-2-15-3-12zm10 15 3-16-2 14-3 17z"/><path class=c17 d="m149 237 3-5-2 12-3 5zm26-19 3 5-2 12-3-5zm85-18 3-16-2-16-3 16zm26 16 3-7-2 12-3 8zm59 6 3-17-3-6-3 16zm-188 24 3 15-2-8-3-15zm188 0 3 13-2-6-3-12zm2-2 2-8-2-14-3 8z"/><path class=c11 d="m198 236 3-15-3-7-3 14zm23-5 3-15-2-8-3 15zm82 2 3-16-2-7-3 16zm-105 28 3 14-2-7-3-14zm84-20 3-15-2 4-3 16zm22 18 3 13-2-6-3-13zm1-2 3-7-2-15-3 7zm33-6 3-16-2 6-3 16z"/><path class=c15 d="m176 233 3-14-2 4-3 14zm0 2 3-14-3 12-2 14zm102-20 3-16-2-15-3 16zm5 0 3-16-2-16-3 16zm40 19 3-17-2 6-3 16zm0 2 3-16-3 14-2 16zm-181 19 3-4-3 4-3 5zm196-10 3-8-3 14-3 8z"/><path class=c20 d="m255 199 3 13-2 3-3-12zm6 0 2 13-2 12-3-12zm-40 16 3 5-2 4-3-5zm24-8 2 5-2 4-3-5zm21-7 3 4-3 12-3-4zm43 9 3 4-2-7-3-4zm19 0 3-8-3 13-3 8zm52 23 2-16-2 6-3 17z"/><path class=c6 d="m195 251 3-15-3-8-3 15zm14 10 3 5-2 5-3-6zm36 15 2 6-2 5-3-5zm12-32 3-16-2-15-3 15zm61 11 3-16-2-7-3 16zm-94 27 3-6-2 6-3 5zm41 2 3-7-2 6-3 6z"/><path class=c5 d="m189 265 3-14-2-7-3 14zm13 9 3-5-2-16-3 6zm32-21 3-15-3-16-3 15zm39 6 3 5-2 5-3-5zm6-2 3-16-2 5-3 15zm21-8 3-16-2-7-3 16zm8 22 3-7-3-14-3 7z"/><path class=c35 d="m240 141 3 4-2 3-3-4zm96 10 3 3-2-16-3-3zm-212 13 3-6-2 3-3 6zm223 5 3 11-2 6-3-12zm10-6 3-17-2 13-3 17zm47 28 3-9-2 15-3 8zm16 8 3-9-2 15-3 9z"/><path class=c38 d="m187 142 3 5-3-17-2-5zm64-17 3-17-2-17-3 16zm14 18 3 12-2 12-3-12zm27-16 3-17-2-17-3 17zm67 31 3-17-2 5-3 17zm-261 11 3 7-3-9-3-6zm309 13 3-17-2 15-3 17z"/><path class=c37 d="m121 158 3 6-2 3-3-7zm16-1 3-6-2-17-3 5zm103-29 3 4-2-9-3-4zm83 12 3 3-3 4-3-3zm8 4 3-9-2-16-3 9zm-268 36 3-12-2-18-3 13zm303-18 3-9-2-14-3 8z"/><path class=c34 d="m150 158 3-15-2 3-3 14zm150-16 3-17-2 12-3 17zm-210 36 3-13-3-17-3 13zm32-8 3 14-2-17-3-14zm1-3 3 6-2-9-3-6zm267 16 3-17-2 14-3 17zm4 2 3-17-2-6-3 17zm20 9 3-17-2-13-3 17z"/><path class=c51 d="m252 91 3-9-3-9-2 9zm18 7 3 3-2 3-3-3zm19-8 3 2-2 12-3-3zm-233 46 3-5-3 3-2 4zm32 11 3 16-2-9-3-15zm22-22 3 7-2 10-3-6zm337 29 3 3-2-5-3-2zm-28 8 3 11-3 7-3-11z"/><path class=c41 d="m263 115 3 11-3-17-2-12zm20 1 3-18-2 12-3 17zm2 2 3-17-2 3-3 17zm49 17 3 3-3-16-2-3zm-242 35 3 7-2 3-3-7zm3-9 3 6-2-17-3-7zm302 7 3-17-2-6-3 17zm17 16 3 12-2 15-3-12z"/><path class=c47 d="m261 97 2 12-2-9-3-12zm25 1 3-8-2 11-3 9zm46 21 2 3-2-8-3-2zm-243 35 3 16-2 3-3-16zm4-11 3 7-2-17-3-7zm307 8 3-9-2-6-3 9zm16 18 3 11-2 16-3-12zm33 0 3 11-3-13-2-11z"/><path class=c44 d="m245 119 3 4-3 11-3-4zm9-11 3-8-2-18-3 9zm12 4 3 3-2 11-3-3zm-188 38 3-13-3 11-2 13zm18 0 3 15-2-17-3-15zm32 0 3 6-3 11-2-6zm273 20 3 11-2 7-3-12zm9-5 3-17-2 15-3 17z"/><path class=c30 d="m169 167 3 14-2-17-3-14zm24-7 3 13-3-17-3-13zm144 7 3-17-3 13-2 17zm9 5 3-17-3-15-3 17zm18 7 2-17-2-15-3 18zm-278 29 3-13-3 4-3 12zm313-6 3 3-2 15-3-3z"/><path class=c40 d="m120 153 3 14-2-9-3-15zm45-12 3 13-3 3-2-13zm77-11 3 4-2 11-3-4zm66 0 3-18-2-8-3 17zm36 28 3 11-2 5-3-11zm25-5 3 3-2-15-3-2zm-243 8 2 6-2 12-3-7zm230 6 3-9-2 6-3 8z"/><path class=c43 d="m125 155 3-5-2 11-3 6zm181-34 3-17-3 4-3 17zm10-1 3 3-2-17-3-2zm13 8 3-9-3-7-3 9zm30 30 3 4-2 5-3-3zm-298 5 3-13-2-17-3 13zm334-1 3-17-3 6-3 17zm24 18 3 3-2 16-3-3z"/><path class=c32 d="m216 149 3 12-2-17-3-12zm21 0 3-8-2 3-3 8zm32-1 3-17-2-17-3 17zm76 26 3 12-2 13-3-12zm29 1 3 2-2-6-3-3zm31 22 3-17-2 15-3 16zm-5 12 3-16-2 7-3 16z"/><path class=c49 d="m268 101 3 3-2 11-3-3zm41 3 2-8-2 3-3 9zm-228 31 3-5-2 11-3 5zm23 9 3 7-2 11-3-7zm294 1 3-9-3 6-3 9zm0 13 3 12-2 6-3-11zm8-13 3 11-3-6-3-11z"/><path class=c39 d="m214 132 3 12-3-9-2-12zm50-9 3 3-3 3-3-3zm19-2 3-17-3 12-3 17zm24 20 3 12-3 12-3-12zm-217 32 3 7-3 11-2-7zm3-8 2-4-2-18-3 5zm7 2 3 6-2 3-3-7z"/><path class=c31 d="m215 154 3 12-2-17-3-13zm22 0 3-16-3 11-3 16zm1 2 3-16-2 3-3 16zm-92 15 3 14-2-18-3-14zm43-11 3 4-2-17-3-5zm71 15 3 12-2 12-3-12zm131 19 3-9-2-6-3 9z"/><path class=c26 d="m258 187 3 12-3 13-3-13zm5 0 3 13-3 12-2-13zm20 8 3 13-2 4-3-12zm-175 17 3-5-2 12-3 5zm26-4 3-5-2 12-3 5zm248 8 3-17-2 7-3 16zm0 2 3-17-3 15-2 16z"/><path class=c12 d="m217 231 3 5-3 13-3-6zm6-1 2-15-2 12-3 15zm37-2 3-15-2-16-3 16zm61 11 3-16-2-7-3 16zm-145 25 2 7-2-16-3-6zm4 2 3 7-2 4-3-6zm26-19 3 14-2 4-3-14z"/><path class=c28 d="m168 175 3 5-2-9-3-5zm7 17 3 14-3 12-2-14zm65-28 3-16-2-8-3 16zm113 20 3-9-2 5-3 9zm-241 22 3-13-2 3-3 14zm278-2 3 3-2-13-3-4zm0 3 3 11-3-14-3-11z"/><path class=c18 d="m177 223 3-6-2-8-3 6zm42-4 3 5-2 12-3-5zm44-6 3-8-2-15-3 7zm5 0 3 4-2-7-3-5zm10 0 3 12-2 13-3-13zm23 8 3 4-2 13-3-4zm5-4 3-8-2-7-3 8zm18 6 3-8-2-6-3 7z"/><path class=c38 d="m241 150 3 4-2 4-3-4zm26-19 3-17-3-8-3 16zm15-4 3-9-2 3-3 9zm5 0 3-17-2-9-3 17zm-209 47 3 15-2-17-3-16zm1-2 3 7-3-17-3-8zm18-1 3-4-2 2-3 5zm312 6 3-8-3 6-2 9z"/><path class=c46 d="m260 103 3 12-2-18-3-11zm5 6 3-8-2 11-3 8zm21-5 2-17-2 11-3 18zm2 14 3 3-2 4-3-4zm13-14 3 11-2-17-3-11zm-221 44 3-13-2 2-3 13zm7 9 3 16-2 11-3-16zm3-9 3-5-2-17-3 5z"/><path class=c35 d="m166 154 3 13-2-17-3-13zm30 0 3 5-3 11-3-4zm48 4 2 5-2-9-3-4zm-139 26 3-13-2-16-3 13zm27-6 2-6-2-17-3 6zm40-17 3 5-2 11-3-5zm204 8 3 3-2 5-3-2zm10 16 3 3-2 6-3-3z"/><path class=c45 d="m235 107 3 12-2 3-3-12zm-73 21 3 13-2 3-3-14zm183 0 3 3-2 13-3-3zm22 11 3 2-2-6-3-3zm38 17 3 3-2-14-3-3zm6 7 3-9-2 15-3 8zm18 2 3 11-3-14-3-11z"/><path class=c36 d="m160 155 3-6-2-18-3 7zm59-11 3 5-2 11-3-5zm42-13 3-8-3 3-3 8zm88 24 3-9-3-15-3 9zm-200 8 3 6-2 11-3-6zm216 10 3 12-2 5-3-11zm27 6 3-17-3 6-2 17zm24 27 3-16-2-5-3 17z"/><path class=c33 d="m300 147 3-9-3 4-2 9zm20 2 3-9-3 4-3 9zm-234 50 3-13-2-8-3 12zm36-26 3 14-3-17-2-15zm20-5 3 6-2-17-3-6zm247 20 3-9-2 6-3 9zm-304 12 3-4-2 12-3 4z"/><path class=c37 d="m144 153 3 14-3-9-3-14zm51-3 3-7-2 11-3 7zm18-14 3 13-2-17-3-13zm27 2 2-8-2 11-3 8zm30 10 3 12-2-8-3-12zm51-6 3-17-2 12-3 17zm-232 44 3-4-2-9-3 5z"/><path class=c30 d="m215 158 3 5-3-9-3-5zm-113 39 3-13-2-16-3 13zm27-6 3-13-3-17-3 13zm41-19 3 5-2 3-3-5zm23-6 3 4-2 3-3-4zm157 14 3 4-2 5-3-3z"/><path class=c31 d="m217 155 3 5-2 3-3-5zm101 4 3-17-2 12-3 17zm-171 15 3 6-3 3-3-6zm26 2 3-15-2-8-3 14zm47-15 3-15-2-9-3 16zm156 24 3-17-2-6-3 17zm13 15 3 12-2-5-3-12z"/><path class=c29 d="m144 180 3-6-3 3-2 6zm70-17 3-8-2 3-3 8zm122 8 3-17-2 13-3 17zm60 28 3-17-2-14-3 17zm-291 6 3 7-2 12-3-7zm26-3 3 6-2 12-3-7zm282 21 3-17-2-4-3 17z"/><path class=c41 d="m236 122 3 12-2-18-3-12zm27-2 3-8-2 11-3 8zm-186 47 3 15-2-8-3-16zm2-5 3-5-2-9-3 4zm26 16 3 15-3 12-3-15zm24-17 3-6-2-8-3 5zm233 1 3 11-2 6-3-12zm37 14 3 12-3 14-3-11z"/><path class=c51 d="m232 95 3 12-2 3-3-12zm-178 44 3-12-2 10-3 13zm1-2 3-12-2 11-3 12zm54-9 3-5-2 2-3 6zm294 14 3 3-3-6-2-3zm44 14 2 11-2-13-3-11z"/><path class=c16 d="m198 228 3-6-2 12-3 7zm26-12 3-7-2-8-3 7zm21 0 3-7-2 12-3 7zm59 9 3-8-2 14-3 7zm-146 19 3-5-2-16-3 5zm17 12 3 15-2-7-3-15z"/><path class=c28 d="m167 178 3-6-2 3-3 6zm46-11 3-15-2 11-3 15zm122 8 3-8-2 4-3 9zm13 15 3 4-2-15-3-3zm5-3 2 3-2-6-3-4zm-242 20 3-13-2 12-3 13z"/><path class=c27 d="m147 191 3-14-2-8-3 14zm19-9 3-15-2 11-3 15zm25-9 2-7-2 3-3 6zm7 16 3 13-2 12-3-13zm15-18 2-15-2 11-3 16zm139 19 3 12-2-15-3-11zm11 11 3-8-2-14-3 8z"/><path class=c26 d="m152 194 3-14-2-17-3 14zm37-14 3-15-2 11-3 15zm23-4 3-8-2 3-3 8zm126 7 3-9-3-7-3 8zm-235 43 3-13-2 4-3 12zm7-16 3-14-3-8-3 13zm268-10 3-17-2-15-3 17z"/><path class=c42 d="m109 151 2-14-2-9-3 14zm49-13 3-7-2-9-3 7zm84-11 3-8-3 11-2 8zm51 2 3 12-2-8-3-12zm53 11 3-9-2-7-3 9zm32 28 3 11-2 15-3-12zm61 17 3-17-2-4-3 17z"/><path class=c19 d="m153 231 3-14-2 4-3 13zm14-23 3 5-3-16-3-6zm29 15 2 5-2 13-3-6zm26-15 3-7-3-16-3 7zm-63 33 3 15-2 5-3-15zm205 7 3 4-3-13-3-4z"/><path class=c32 d="m264 148 3-17-3-9-3 17zm55 6 3-17-2 12-3 17zm-127 11 3-15-2 11-3 15zm1-4 3-7-3 12-2 7zm147 15 3 11-2 14-3-12zm33 2 3-9-2 6-3 8z"/><path class=c24 d="m175 193 3-15-2-17-3 15zm19-7 3-15-3-9-3 15zm5 1 3-15-3-16-2 15zm33-7 3 5-2-9-3-4zm-103 33 3 7-3 12-2-7zm152-13 3 12-3 13-3-12z"/><path class=c34 d="m216 152 3-8-2 11-3 8zm27-4 3-16-2-8-3 16zm16-6 3-17-2 12-3 16zm-170 53 2-12-2 3-3 13zm19-2 3 7-3 12-3-7zm89-21 3 13-2 4-3-14zm158 6 3 3-2 14-3-4z"/><path class=c35 d="m239 143 3-16-2 11-3 16zm21-6 3-17-2 11-3 17zm1 2 3-17-2 3-3 17zm36 5 3 3-2 4-3-3zm-209 52 3-12-2 11-3 13zm35-24 3 7-2 3-3-7zm273 19 3 11-2 15-3-11z"/><path class=c33 d="m215 156 3-16-2 12-3 15zm-95 22 3-6-2 3-3 6zm56 5 3 14-2-8-3-14zm174-7 3 11-3-7-3-11zm11 11 3-8-2-14-3 8zm27 3 3 4-2-6-3-3zm-281 14 3-4-2-8-3 4z"/><path class=c37 d="m241 140 3-16-2 3-3 16zm55 1 3 11-2-8-3-11zm44 9 3-9-3 13-3 9zm-210 33 3 15-2 4-3-15zm212-20 3 11-2 13-3-11zm12 9 3-8-2 14-3 8zm27 7 3 12-3 14-2-11z"/><path class=c31 d="m298 157 3 11-2-16-3-11zm-185 39 3-4-3-9-3 5zm53-30 3 5-3-17-3-5zm172 1 3-17-2 4-3 17zm5 17 3-8-2-15-3 8zm29-3 3-17-2 14-3 17zm-266 32 3-12-3 12-3 13zm5-13 2-4-2 11-3 5zm270 0 3-8-2-14-3 8z"/><path class=c23 d="m263 184 3-16-2-16-3 16zm-96 18 3 14-2 3-3-14zm176 8 2 4-2 13-3-3zm5-5 2-8-2-7-3 9zm31 21 3-8-2 14-3 8zm1-4 3-16-2-6-3 17zm-17 19 3 12-2-5-3-12z"/><path class=c29 d="m142 186 3-14-2 11-3 14zm1-3 3-14-2 11-3 14zm27 7 3 14-3 12-3-14zm128-28 3 11-3-16-3-12zm83 49 3-8-2 15-3 8zm2-5 3-9-2-5-3 8zm15 10 3-16-2-5-3 16z"/><path class=c39 d="m148 158 3-6-2 11-3 6zm70-18 3-7-2 11-3 8zm44-1 3 4-2 12-3-4zm17-15 3 3-2 3-3-3zm43 13 3-9-2 12-3 9zm17 22 3 4-2 13-3-3zm73 22 3-17-2-5-3 16z"/><path class=c40 d="m198 143 3 5-2 11-3-5zm23-6 3-7-3 3-3 7zm41-12 3-16-2 11-3 17zm32 8 3 11-2 4-3-12zm29 5 3-17-2 4-3 17zm34 26 3 3-2 14-3-3zm36 15 3 12-2 15-3-12z"/><path class=c30 d="m197 171 2-15-2-9-3 15zm67 7 3 13-2-8-3-12zm35-16 3 4-2 4-3-4zm19 1 3-8-3 4-3 8zm5-1 3-17-3-7-2 17zm9 10 3 3-2 5-3-3zm40 13 3-17-3 13-2 17z"/><path class=c25 d="m170 190 3-14-2-9-3 15zm47-13 3-16-2-8-3 15zm88 5 2-16-2-16-3 16zm40 17 3-9-2-14-3 8zm-219 6 3-14-3-17-3 14zm271 21 3-17-2 7-3 17z"/><path class=c43 d="m234 118 2 4-2-18-3-3zm-152 39 3-13-2-9-3 13zm36-14 3 15-2 2-3-14zm126-19 3-8-2 3-3 8zm-165 40 3 16-2 2-3-15zm28 10 3 16-2 3-3-15z"/><path class=c35 d="m281 138 2 11-2-17-3-11zm14 7 3 12-2-16-3-12zm48 12 3-17-2-7-3 17zm-215 30 3 15-2 11-3-15zm46-12 3 14-2 3-3-14zm129-7 3 12-2 5-3-12z"/><path class=c13 d="m174 237 3-14-2-8-3 14zm19-2 3 6-2 12-3-6zm6-1 3-14-2 12-3 15zm73-12 3 13-3-16-3-13zm27 12 3 4-2 14-3-5z"/><path class=c44 d="m276 112 3 12-2 3-3-12zm-199 40 3-4-2 2-3 5zm84-21 3 6-2-9-3-6zm130-10 3 12-2 3-3-11zm53 12 3-9-2 4-3 9z"/><path class=c21 d="m237 185 3 4-3-17-3-4zm44 14 3-16-2-15-3 16zm-132 9 3-14-2-17-3 14zm34-5 3-6-3-8-2 6zm121 13 2 4-2 5-3-4z"/><path class=c37 d="m143 157 3 14-2-18-3-14zm150-15 2 3-2-16-3-3zm31 12 3 11-2 13-3-11zm2-9 3-17-3-7-3 17zm-178 32 3 14-2 12-3-14zm227-13 3-8-2 13-3 9z"/><path class=c34 d="m218 153 3-16-3 3-3 16zm62-10 3 11-2-16-3-12zm-164 29 3-6-2-17-3 5zm29 0 3-14-2 11-3 14zm1-3 3-6-2 11-3 6zm26 9 3 14-2 12-3-14z"/><path class=c24 d="m238 181 2 13-2 3-3-12zm84 12 3-16-2-16-3 17zm-192 31 3-13-3 4-3 13zm242-16 3 11-2-14-3-11zm1-3 3 3-3-14-3-3z"/><path class=c27 d="m190 176 3-15-2 12-3 15zm106-5 3-9-2 4-3 9zm39 8 3 4-3-8-3-3zm21 16 3 11-3 6-3-12zm-226 20 3-5-2-8-3 5zm241-13 3 12-2-6-3-12z"/><path class=c33 d="m321 155 2-17-2 4-3 17zm-171 22 3-14-3-9-2 15zm44-15 3-15-2 3-3 15zm68 9 3 12-2 4-3-12zm112 8 3-17-2 6-3 17zm13 14 3 11-2-14-3-11z"/><path class=c38 d="m163 149 3 5-2-17-3-6zm178 1 3-17-2 4-3 17zm-245 23 3-13-2 11-3 14zm55 0 3 15-3 3-3-14zm208 0 3-8-3-7-3 9zm26 6 3 11-2-5-3-12zm23 1 3-17-2 14-3 18z"/><path class=c41 d="m264 122 3-16-2 3-3 16zm1 14 3 4-3 3-3-4zm13-15 3 11-2-8-3-12zm46 25 3 3-3 5-3-3zm18 8 2 4-2 5-3-4zm49 22 2 3-2 15-3-3zm19-1 3-16-3 6-3 17z"/><path class=c36 d="m281 132 3 3-2-8-3-3zm58 22 3-17-2 13-3 17zm-237 36 3 15-2 12-3-16zm46-21 2-15-2 4-3 14zm70-9 3 5-2 4-3-5zm123 9 3-8-2-7-3 9zm68 20 3-8-2-6-3 9z"/><path class=c22 d="m191 192 3-6-3-9-3 7zm-48 15 3 7-2-17-3-6zm0 3 2 14-2-17-3-14zm202 4 3-9-2 14-3 8zm50 19 3-17-2-5-3 17zm-58 30 3 5-2-5-3-5z"/><path class=c32 d="m259 147 2-8-2 3-3 8zm40 5 3 3-2-8-3-3zm-153 37 3 14-2 12-3-15zm49-14 3 14-2 12-3-14zm110 0 3 12-2-7-3-12zm18 8 3 12-2-7-3-12zm26-4 3 11-2-14-3-12zm38 16 3 12-3-14-2-12z"/><path class=c26 d="m166 185 3-15-3 12-2 14zm130-10 3-16-3 12-3 16zm37 12 3 11-2-15-3-11zm18 7 3 11-2-15-3-11zm-207 6 3 15-2 3-3-14zm214 4 3-17-2-14-3 16zm24 35 2 4-2-13-3-4z"/><path class=c9 d="m262 236 3-16-2-7-3 15zm-84 35 3-6-2-15-3 5zm102-25 3-16-2-7-3 16zm41 4 2-16-2 5-3 16zm-79 34 3-6-2 6-3 6z"/><path class=c15 d="m222 224 3-7-2 13-3 6zm15-11 3-16-2-16-3 16zm28 7 3-7-2-8-3 8zm18 10 3-7-2-7-3 7zm74 4 3-16-2-14-3 16z"/><path class=c46 d="m228 109 3-8-2-9-3 7zm168 56 3 11-3 15-3-12zm15 8 3 11-2 15-3-11zm4-9 3-17-3-6-2 18zm17 1 3 11-2 7-3-11z"/><path class=c56 d="m291 78 3 3-2 11-3-2zm-234 49 3-13-2 11-3 12zm1-2 3-5-2 11-3 5zm358 25 3 12-3 7-2-12zm28-7 3 11-2-4-3-11z"/><path class=c30 d="m126 198 3 15-2 12-3-15zm19-15 3-14-3 3-3 14zm226 5 3-9-2 6-3 8zm10 43 3 12-2-4-3-13zm15-20 3-16-2-13-3 16z"/><path class=c28 d="m139 197 3 7-2-9-3-6zm3-9 3-5-3 3-3 5zm67-17 3 5-2 3-3-5zm6-3 3-15-3 3-2 15zm158 26 3-9-2-6-3 9z"/><path class=c31 d="m295 158 3 4-3-17-2-3zm-156 24 3 6-3 3-2-6zm12 9 3 15-2 12-3-15zm57-24 3 13-2-9-3-13zm107-7 3 3-3 4-3-3zm53 25 3 3-2 5-3-3z"/><path class=c29 d="m236 159 3-16-2 11-3 16zm4 11 3 12-3 12-2-13zm42 20 3 12-2-7-3-12zm35-22 3 3-2-8-3-3zm52 28 3 12-2-14-3-12zm1-5 3 3-2-6-3-3zm27 28 3-8-3 15-3 8z"/><path class=c25 d="m188 184 3-7-2 3-3 7zm23-4 3 4-2-8-3-5zm26-8 3-8-2-8-3 7zm58 7 3-16-2 12-3 17zm38 12 3 3-3-7-3-3zm-191 13 3 14-2-8-3-15zm7-1 3 15-2 11-3-14z"/><path class=c34 d="m256 143 3 4-3 3-3-3zm25 2 3 3-2 3-3-3zm33 11 3 12-2-8-3-11zm-176 20 3 15-2-9-3-14zm77-9 3-7-2 4-3 7zm176 27 3 12-2 6-3-12z"/><path class=c24 d="m210 183 3 13-2-16-3-13zm29 15 3 13-2 13-3-13zm55-15 3-8-2 4-3 8zm38 11 3-8-2 5-3 8zm-231 35 3-12-2-8-3 13zm292-1 3-17-2-13-3 17z"/><path class=c28 d="m140 193 3 14-2-16-3-15zm0 2 3 15-3-17-3-14zm1-4 3 6-2-9-3-6zm94-28 3-7-2 3-3 7zm81 9 3 12-2-16-3-12zm52 27 3 3-2-6-3-3z"/><path class=c37 d="m136 168 3 14-2 3-3-14zm211-4 3 12-3-7-3-11zm28 4 3-17-3 13-3 17zm10 13 2 12-2-14-3-12zm49 17 3-17-2-13-3 17zm-38 2 3 4-2 15-3-4z"/><path class=c30 d="m232 159 3 4-2 3-3-4zm25-2 3 12-2-17-3-12zm-120 32 3 6-3-16-3-7zm76-13 3 4-2 12-3-5zm153 17 3 3-2-14-3-3zm-263 25 3-5-3 13-3 4z"/><path class=c27 d="m186 179 2 5-2 3-3-5zm5-2 3-15-2 3-3 15zm2 10 3 14-2 11-3-13zm37-15 3 4-2-16-3-5zm4-4 3 4-2-9-3-4zm82 8 2 12-2-16-3-11zm18 7 3 12-2-16-3-11z"/><path class=c19 d="m127 237 3-13-3 4-2 13zm22-10 3-14-3-16-3 13zm3 5 3-14-2 13-3 13zm65-25 2-15-2-17-3 15zm45 12 3 5-2 5-3-5zm80-4 3-16-2-15-3 17z"/><path class=c35 d="m238 157 3-7-2 4-3 7zm39-17 3 3-2-17-3-3zm-85 30 3 5-2 12-3-5zm24-6 3 5-3 11-3-4zm114-3 2 11-2 5-3-12zm46 21 3 12-3 14-3-12z"/><path class=c26 d="m165 188 3-6-2 3-3 6zm49 2 3-15-2-8-3 15zm20-18 3 13-3-17-2-13zm57 8 3 3-2 4-3-3zm24 0 3 4-2-8-3-3zm35 17 3 3-2-6-3-4z"/><path class=c33 d="m232 155 2 13-2-9-3-12zm67 4 2-9-2 12-3 9zm-130 8 3-6-2 11-3 6zm168 6 3 3-2 13-3-3zm71 26 3 4-2-14-3-3zm0 2 2 12-2-14-3-11z"/><path class=c32 d="m169 170 3-14-3 11-3 15zm44 1 3-7-3 12-2 7zm18-11 3 12-2-17-3-12zm67 3 3-17-2 13-3 16zm34 5 3 11-3-7-2-11zm54 29 3 3-2-5-3-3zm14 14 3-17-3 15-3 17z"/><path class=c36 d="m239 154 3 4-2 12-3-5zm16-14 3 12-2-9-3-11zm46 10 3 3-2 13-3-4zm11-1 3 11-3 4-2-11zm-117 18 2 5-2 3-3-5zm141 1 3-9-2 14-3 8zm63 27 3-9-3-13-2 9zm8 0 3 11-2-5-3-11z"/><path class=c31 d="m258 152 3 4-2-9-3-4zm20 1 3-8-2 3-3 8zm-84 28 3-6-2-8-3 6zm43-16 3 5-2 11-3-4zm65 1 3-16-2-8-3 17zm-196 47 3-12-2 3-3 13zm288 2 3 4-3 15-2-4z"/><path class=c34 d="m260 151 3 4-2 12-3-4zm-123 28 3 14-2-17-3-14zm6 3 3 7-2 11-3-6zm93-21 3-7-2 11-3 8zm83 2 3 4-2 12-3-3zm27 13 3 3-2-15-3-3z"/><path class=c28 d="m162 182 3 6-2 3-3-6zm6 0 3-15-2 3-3 15zm50 14 2 13-2-7-3-14zm99-20 3 3-2 5-3-4zm36 15 3 4-3 5-3-3zm55 36 3-8-2-13-3 8z"/><path class=c25 d="m163 197 3 14-2-17-3-14zm1-6 3 6-2-9-3-6zm0 3 3 14-3-17-3-14zm69-18 3 13-2-17-3-12zm66 7 3-17-2-7-3 16zm15 1 3-8-2 4-3 9zm36 16 3-9-3 6-2 8zm28 17 3-17-2-14-3 17z"/><path class=c23 d="m167 197 3-7-2-8-3 6zm19-3 3 13-2-16-3-14zm24-7 3 13-3-17-3-13zm84 0 2 4-2-8-3-3zm19 5 3-16-3 12-3 17zm4 3 3-17-2-7-3 16zm-191 34 3-4-2 12-3 5z"/><path class=c24 d="m187 191 3 13-2-17-3-13zm1-4 3 5-3-8-2-5zm23 0 3 5-2 4-3-5zm102 1 3-16-2 12-3 17zm18 9 3-16-2 13-3 17zm-202 28 3-13-2 12-3 13zm211-24 3-17-2-15-3 17z"/><path class=c14 d="m195 228 3-14-2-17-3 15zm19-6 3-15-3-17-3 15zm28 8 3-7-3-7-2 7zm21-1 3-8-2 13-3 7zm-117 11 3-13-3-17-3 14zm160 14 3 12-2 6-3-13z"/><path class=c38 d="m229 143 3 12-3-8-3-13zm72 3 3-8-3 12-2 9zm-205 29 3-13-3 11-3 13zm75-6 3 6-2 3-3-6zm168-6 3-9-3 5-3 9zm68 21 3-9-3 7-3 9z"/><path class=c34 d="m206 158 3 13-2 3-3-13zm22-3 3 5-2-17-3-4zm72 4 3-17-2 4-3 17zm-141 9 3 14-2 3-3-14zm7 10 3-6-2 12-3 6zm175 9 3 12-2-7-3-12zm39 14 3 3-2 7-3-4z"/><path class=c20 d="m147 230 2 7-2 12-3-6zm64-25 3-15-2-8-3 15zm144 15 3-16-2-15-3 17zm3 5 3 3-2 15-3-4zm5 35 3-8-2-4-3 7zm5-14 3 4-2 7-3-4z"/><path class=c17 d="m151 234 3-13-2-8-3 14zm16-7 3-14-2-16-3 14zm34-6 2-6-2-8-3 7zm140 14 3-16-2 6-3 16zm0 2 3-16-3 14-3 16zm-196 14 3-13-3 4-3 13z"/><path class=c39 d="m197 147 3-7-2 3-3 7zm87-14 3 3-3 12-3-3zm37 18 3 3-2 13-3-4zm-175 20 2 6-2 12-3-7zm198-10 3 3-3-6-2-4zm60 20 3 3-3 7-2-3z"/><path class=c30 d="m278 158 3-17-3 12-2 17zm-93 16 3 13-2-8-3-14zm5 8 3 5-2 12-3-5zm17-12 3 13-2-16-3-13zm54-2 3-16-2-8-3 16zm59 10 3-17-2-7-3 17zm18 8 3-17-2-6-3 16z"/><path class=c32 d="m96 195 3 7-2-17-3-7zm59-15 3-6-2-17-3 6zm34-4 3-6-2 12-3 6zm130 5 3 12-2 14-3-12zm12-9 3 11-2-15-3-12zm54 27 3-8-2 6-3 9z"/><path class=c40 d="m120 155 2 15-2-17-3-15zm106-16 3 4-3-9-2-4zm52-13 3 12-3-17-3-12zm25 16 3-8-2 4-3 8zm24 7 3 12-3 4-3-11zm45 24 3-8-2 14-3 8z"/><path class=c29 d="m141 194 3 6-2 4-3-7zm72-2 3 14-2 12-3-14zm43-30 3 12-2-17-3-12zm21 1 3-17-2 12-3 16zm93 31 3 11-3-14-3-12zm-266 23 3-13-2-8-3 13z"/><path class=c25 d="m157 197 3-6-2-17-3 6zm122-22 3-8-3-8-3 8zm-133 35 3-13-2-17-3 14zm3 8 3 7-3 12-2-7zm199-13 3-16-2 14-3 16zm1-2 3-17-2 14-3 16zm6 10 3 12-2 14-3-12z"/><path class=c22 d="m208 194 3-7-2 4-3 7zm84 1 3 12-2-16-3-12zm4-4 3-8-2-8-3 8zm-169 37 3-13-2-8-3 13zm25-3 3-5-3 12-3 5zm2-4 3-5-3-8-2 5zm196-7 3-8-2-6-3 8z"/><path class=c31 d="m161 177 3 14-2-9-3-14zm6 7 3 6-3 12-3-6zm48 4 3 14-2 4-3-14zm73-20 3 12-2 4-3-12zm54 24 3 12-2 6-3-12zm9-3 3-17-2 14-3 17zm1-3 3-8-2 13-3 9zm18 7 3 3-2 6-3-3z"/><path class=c27 d="m138 199 3-5-2 3-3 6zm22-8 3 6-2-17-3-6zm137-16 3-16-2 4-3 16zm33 9 3 3-2-15-3-4zm5 2 3 3-2 5-3-3zm16 14 3-17-3 6-3 16z"/><path class=c23 d="m186 197 3 5-3-8-3-5zm107-6 3 12-2-16-3-12zm19 5 3-9-2 5-3 8zm-96 10 3 13-2 12-3-13zm115-5 2-17-2 13-3 17zm4 1 3-16-2-7-3 17z"/><path class=c16 d="m172 229 3-14-2-16-3 14zm49 0 3 6-2-8-3-5zm39-5 3 5-2 12-3-4zm54-10 2 4-2-15-3-4zm17 10 3 12-3-14-3-12zm25 25 3-16-2 6-3 16z"/><path class=c28 d="m256 166 3 4-3-8-2-4zm20 1 3-8-2 4-3 8zm6 0 2-16-2-8-3 16zm5 0 3-17-3-16-3 17zm26 6 3 3-3-15-3-4zm55 28 2-8-2 6-3 8z"/><path class=c36 d="m280 156 3 4-2 12-3-4zm1-15 3-8-3 12-3 8zm4 15 3 12-2 4-3-12zm-166 10 3 7-2-18-3-6zm50 6 3 6-2 12-3-6zm131-8 3 4-2 5-3-4zm23-3 3-8-2-7-3 8z"/><path class=c34 d="m148 199 3 15-2 4-3-15zm44-26 3-6-3 3-3 6zm105-1 3-8-2 5-3 8zm1-3 3 4-2 12-3-3zm5 2 2 4-2-7-3-4zm51 12 2-16-2 5-3 17zm13-4 3 12-2-6-3-12z"/><path class=c43 d="m141 139 3 14-3-9-3-14zm149-13 3 3-2-8-3-3zm88 25 3-9-3 14-3 8zm-279 9 3-5-2 12-3 4zm20 10 3-5-2 12-3 4zm263-3 3 12-2-6-3-11z"/><path class=c44 d="m290 110 3-17-2-9-3 17zm-215 48 3 16-2-18-3-15zm1-4 3 8-2-10-3-7zm0 2 3 16-3-18-3-15zm210-35 3 4-2 11-3-3zm96 30 3-9-2-6-3 9z"/><path class=c35 d="m280 146 3-16-2 11-3 17zm-183 39 3-4-2-9-3 5zm76-8 3 6-2-8-3-6zm148-1 3 12-2 5-3-12zm67 15 3 3-2 6-3-3zm13 9 3-9-2-5-3 9z"/><path class=c29 d="m258 163 3 4-2 3-3-4zm15 1 3 3-2 4-3-4zm18 11 3 12-3-7-3-12zm5 7 3 3-2 13-3-4zm77 14 3 12-2 6-3-12zm18 19 3-17-3-13-3 16z"/><path class=c24 d="m188 194 3 5-2 3-3-5zm86-14 3 12-2-16-3-12zm15 11 3 4-2-16-3-4zm20 1 3 4-2 4-3-3zm-98 12 3 14-2 12-3-13zm116-4 3 4-2 5-3-4zm21 8 3-8-3 5-3 9z"/><path class=c26 d="m164 196 3 6-2 3-3-6zm27 0 3-15-2-8-3 14zm16-14 3 5-3-17-2-4zm28-5 3 4-3 4-3-5zm20-6 3-8-2 3-3 8zm21 1 3 3-3-8-3-3zm69 32 3 4-3 6-2-4z"/><path class=c33 d="m120 180 3-13-3 11-3 13zm50 3 3-6-2-8-3 6zm13-18 3 14-3 3-3-14zm58 1 3-8-3-8-3 7zm72-5 3 11-2-16-3-11zm15 7 3 4-2-16-3-3z"/><path class=c54 d="m268 73 3-9-2 11-3 9zm-197 57 3 15-2 3-3-15zm15 9 3 15-2 3-3-15zm5-13 3 7-2-9-3-7zm341 21 3 3-3 15-2-3z"/><path class=c51 d="m293 93 3-9-2-9-3 9zm-239 48 3-4-3 2-3 4zm19-2 3 15-2-9-3-15zm6 7 3 7-3 11-2-7zm28-5 3 7-3 3-3-7z"/><path class=c27 d="m284 183 3-8-2-15-3 8zm24 4 3 12-2-7-3-12zm9 8 3 12-3 13-3-12zm9 0 3 12-2-7-3-12zm-188 6 2-13-2 11-3 14z"/><path class=c38 d="m283 152 2 4-2 4-3-4zm-188 25 3-5-2 3-3 5zm256 8 3-8-2 6-3 8zm54 5 3 11-3-13-3-12zm1-4 3 3-2-5-3-3z"/><path class=c47 d="m209 110 3 13-3 2-3-12zm-137 41 3 7-2-17-3-7zm10 2 3 15-3 12-3-16zm331 6 2-18-2 7-3 17zm-5 10 3 4-2 15-3-4zm22-7 2 3-2 7-3-3z"/><path class=c41 d="m150 154 3-5-2 3-3 6zm133-24 3-9-2 12-3 8zm26 7 3 12-2 4-3-12zm-206 31 3-13-2-9-3 13zm45-1 3 6-3 4-2-6zm284 18 3-17-2-13-3 17z"/><path class=c37 d="m172 156 3-7-3 12-3 6zm35-16 3-8-2-17-3 7zm75 3 3-17-2 4-3 16zm23 7 3-9-2-7-3 8zm-171 22 3 7-2-17-3-7zm239 7 3 3-3 14-3-3zm6-11 3-17-2-6-3 17z"/><path class=c34 d="m271 152 2 12-2 3-3-12zm13-1 3-17-2-8-3 17zm6-1 3-8-3-16-3 8zm20 7 3 4-2-16-3-4zm-139 10 3-14-2 3-3 14zm196 15 3 12-3-15-2-11zm17 10 3 3-2-14-3-3z"/><path class=c39 d="m174 153 3-7-2 3-3 7zm29-8 3 13-2 3-3-13zm50-13 3 11-3 4-3-12zm73 21 3 3-2-7-3-3zm-228 19 3-13-2 3-3 13zm267-4 2 11-2-6-3-11zm37 18 3 4-3-14-3-3z"/><path class=c40 d="m140 151 3 6-2-18-3-5zm70-19 3 4-2-17-3-4zm77 2 3-8-2-8-3 8zm21 7 3 4-2-8-3-3zm58 46 3-7-2 14-3 8zm11-25 3-17-2 6-3 17zm21 31 3 4-2 7-3-4z"/><path class=c38 d="m202 149 3 5-2-9-3-5zm-108 29 3 7-2-8-3-7zm59-15 3-6-3-8-3 5zm251 28 3 4-2-5-3-4zm1-3 3 11-2-13-3-11z"/><path class=c43 d="m205 122 3-7-2-9-3 7zm80 4 3-8-2 3-3 9zm-186 36 2-13-2 11-3 13zm275 5 3-8-2 6-3 8zm1-2 3 3-2 14-3-3zm28 10 3 11-2-5-3-11z"/><path class=c48 d="m267 106 3-8-2 3-3 8zm-211 44 3-4-2-9-3 4zm32 7 3 7-3-17-3-7zm13-8 3-5-2 11-3 5zm9-1 2 15-2 3-3-15zm283 13 3 4-3 14-2-3z"/><path class=c30 d="m254 158 2 4-2-17-3-4zm25 1 3-16-2 3-3 17zm-77 13 3-6-3-17-3 7zm123 5 3-9-2-15-3 8zm9 4 3-8-2 13-3 8zm42 22 3-17-3-13-2 16z"/><path class=c49 d="m231 101 3 3-2-9-3-3zm42 0 3 11-2 3-3-11zm-192 36 3-13-3 11-3 13zm23 9 3-5-3 3-3 5zm322 5 3 11-2-5-3-11z"/><path class=c52 d="m258 86 3 11-3-9-3-11zm10-6 3-17-3 10-2 17zm20 7 3-9-2 12-3 8zm-204 55 3 15-2 11-3-15zm330 15 2 12-2 15-3-11z"/><path class=c32 d="m96 196 3 16-3-17-2-15zm23-14 3-13-2 11-3 14zm86-16 2 4-2-16-3-5zm151 23 3-16-3-6-2 16zm29 12 3-17-3 15-3 17z"/><path class=c21 d="m208 198 3-15-3 11-3 15zm32-1 3-15-2-16-3 15zm71 5 3 12-3-15-3-12zm16 13 3 4-2-7-3-3zm33 3 3-17-2-14-3 17z"/><path class=c26 d="m183 189 3 5-2-17-3-5zm88-12 3 3-2-16-3-4zm62 19 3-17-3 5-2 17zm-214 9 3 15-2-17-3-15zm1-2 3 7-2-17-3-7zm240 8 3 3-2 14-3-3z"/><path class=c31 d="m121 195 3 15-3 3-3-15zm40-15 3 14-3-17-2-14zm134-3 3-8-2 13-3 7zm12-11 3-9-2-16-3 9zm9 6 3-9-2 13-3 8zm-235 31 3-13-2-16-3 12z"/><path class=c23 d="m232 184 3-7-3 3-3 8zm26 0 3-16-2-8-3 16zm36 10 3 4-3 4-3-3zm-120 24 3 7-2 4-3-7zm156-14 3-8-2 5-3 8z"/><path class=c22 d="m230 192 3-15-2 11-3 16zm81 7 3 4-2-7-3-4zm-141 14 3-14-3-16-2 14zm15-13 3-6-2 3-3 6zm143 10 3 12-2-15-3-12zm1-3 3 3-2-6-3-4z"/><path class=c29 d="m118 198 3 15-2-8-3-15zm3-5 2-5-2-9-3 5zm113-20 3-8-2 12-3 7zm-63 31 3 14-2 4-3-14zm172-3 3 12-2-14-3-12zm20 4 2 3-2 6-3-3z"/><path class=c24 d="m254 179 3-16-3 12-3 16zm20 5 3 4-3-8-3-3zm-112 18 2-6-2 3-3 6zm10 20 3 7-2-16-3-6zm175-12 3 4-2-6-3-4zm26 9 3-16-2-14-3 17z"/><path class=c35 d="m254 145 3 12-2-17-3-12zm-170 45 3-12-2-17-3 13zm11-1 3 16-2-9-3-15zm164-23 3 5-2 4-3-5zm75 16 3 4-3 14-2-4zm60 16 3-16-3-14-3 17z"/><path class=c44 d="m101 159 3-13-3 3-2 13zm149-39 3 12-3 3-2-12zm-176 40 3 7-2-9-3-7zm306 2 3 11-2 6-3-11zm47 9 3-9-3 7-3 9z"/><path class=c36 d="m199 156 3-7-2-9-3 7zm-99 25 3-13-2-9-3 13zm68-6 3-6-2 3-3 6zm196 4 3 3-2-14-3-3zm15 7 3-8-3-14-3 9zm12 17 3 12-2 15-3-11z"/><path class=c32 d="m257 159 3-8-2 12-3 8zm-139 25 3-5-2 3-3 5zm143-10 3 4-2-7-3-5zm96 25 3 12-2 14-3-12zm27 4 3-17-2 15-3 17z"/><path class=c28 d="m233 177 3-16-2 12-3 15zm8 12 3 13-2-8-3-13zm73 2 3 4-3 13-3-4zm52 15 3-16-2 14-3 16zm1-2 3-17-2 14-3 17zm18 15 3 4-2-14-3-3z"/><path class=c18 d="m214 218 3 13-3 12-2-13zm108 12 3-8-2 14-3 7zm15-13 3-16-2-15-3 16zm38 16 3-16-2-14-3 16zm-223 23 3 7-2-15-3-8z"/><path class=c34 d="m248 149 3-8-2-17-3 8zm-88 44 3-6-2 12-3 6zm177-7 3 12-3 14-3-12zm23 7 3 12-3 6-3-12zm10-6 3-8-3 14-2 8z"/><path class=c54 d="m255 82 3 4-3-9-3-4zm36 2 3-9-3 3-3 9zm-207 40 3-5-3 11-3 5zm327 30 3 3-3 16-3-4zm4-13 3-8-2 6-3 9z"/><path class=c30 d="m235 173 3-16-2 4-3 16zm81 3 3-17-3 13-3 16zm8 12 3 12-2 5-3-12zm9-4 3-16-2 13-3 16zm40 26 3 12-2 15-3-12z"/><path class=c20 d="m122 233 3-13-2-16-3 13zm21-9 3-14-2-16-3 14zm50-12 3-15-2-16-3 15zm98-10 3-8-3 5-2 7zm31 14 3-7-2-15-3 8z"/><path class=c26 d="m256 176 3-16-2 3-3 16zm59 11 3-16-2 5-3 16zm-192 35 3 7-2 13-3-8zm21-6 3 14-3 13-3-15zm51-11 3 14-2 4-3-14zm173 9 3-8-3-6-3 8z"/><path class=c32 d="m116 190 3 15-2-17-3-15zm2-4 3 7-3-9-3-6zm218-7 3-16-3 5-3 16zm-190 24 3 15-2 12-3-14zm237 1 3-8-2 7-3 8z"/><path class=c38 d="m272 131 3-8-3-17-2 8zm-178 49 2 15-2-17-3-15zm29-13 3-6-3 11-3 6zm213 10 3 3-2 6-3-4zm52 7 3-8-3 15-3 8z"/><path class=c31 d="m123 188 3-14-2-8-3 13zm134-25 3-16-3 12-3 16zm43 16 3-8-3-7-3 8zm13 6 3-8-2 14-3 8zm65 22 3 4-2 15-3-4zm8 2 2-8-2-5-3 8z"/><path class=c37 d="m251 141 3 4-2-17-3-4zm9 6 2-8-2 12-3 8zm-163 39 3 15-2 4-3-16zm25-17 3-14-2 12-3 13zm37-6 2 14-2-9-3-14zm255 39 3-17-3-12-3 16z"/><path class=c19 d="m289 209 3-16-2 12-3 16zm10 2 3-16-2-16-3 16zm31 8 3 12-2-7-3-12zm19 6 3 3-2-14-3-4zm0 2 2 12-2-14-3-12z"/><path class=c29 d="m163 192 3-14-2 12-3 14zm1-2 3-6-3 12-2 6zm136 8 3 12-2-7-3-12zm40 0 3 12-3 14-3-12zm31 8 3-17-3-5-3 16zm18 13 3 11-3 7-3-12z"/><path class=c21 d="m235 197 3-16-3-8-2 16zm-28 4 3-15-2 12-3 15zm107 7 3 12-2 5-3-12zm14 4 3 12-3-14-2-12zm14 13 3-8-2-6-3 8z"/><path class=c13 d="m207 226 3 13-2-16-3-13zm89 1 3-16-2-16-3 16zm-102 20 3-14-2 4-3 14zm0 1 3-14-3 13-3 14zm160 7 3-16-2-5-3 16z"/><path class=c24 d="m121 239 3-12-2 4-3 13zm39-33 3-14-2 12-3 14zm1-2 3-14-2 12-3 14zm137 5 3 12-2 13-3-12zm48 4 3 12-2-15-3-11z"/><path class=c25 d="m254 175 3-16-2 12-3 16zm21 1 3 12-2-16-3-12zm-113 27 3-14-2 3-3 14zm191 3 3-17-2-6-3 17zm23 16 3 4-2 14-3-3zm14 18 3-16-3-5-3 16z"/><path class=c32 d="m116 192 2 6-2-8-3-7zm1-4 3 15-2-17-3-15zm142-28 3-16-2 3-3 16zm14 0 3 12-3-8-2-12zm76 37 3 4-2 14-3-4zm34 9 3 3-3-5-3-3z"/><path class=c34 d="m118 188 3 7-3 3-2-6zm3-9 3-13-2 3-3 13zm37-5 3 6-2-17-3-6zm157 6 3-8-2 5-3 8zm1-3 3 4-2 14-3-4zm72 24 3-16-2-5-3 16z"/><path class=c41 d="m275 123 3 3-3-17-3-3zm-163 40 3 15-2 3-3-15zm13 9 3 15-2 11-3-15zm237-7 3 3-3-6-3-4zm26 26 3 12-2 16-3-12zm18-7 3 4-2 7-3-4z"/><path class=c33 d="m257 170 3 5-2 12-3-4zm20-6 3-8-2 12-3 8zm5 4 3-8-2-8-3 8zm49 22 3-8-2 14-3 8zm51 17 3 12-2-13-3-12zm24 7 3-8-3-13-3 8z"/><path class=c39 d="m120 177 3 6-2 12-3-7zm4-11 3-14-2 3-3 14zm233 15 3 12-3 6-3-12zm20 8 3 12-2 6-3-12zm5-11 3 3-3-14-3-3zm27 10 3 11-2 7-3-11z"/><path class=c27 d="m211 183 2-7-2 11-3 7zm27-2 3-15-3-9-3 16zm88 17 2 12-2-15-3-12zm-189 5 3-14-2 12-3 14zm240 24 3-16-2 6-3 16z"/><path class=c22 d="m137 224 3 15-2-17-3-15zm1-2 3 7-3-16-3-7zm46-19 3-15-2 12-3 14zm164 18 3 12-2-6-3-12zm18 5 3 12-2-14-3-12zm1-2 3 4-2-14-3-4zm-216 23 3 16-2-7-3-16z"/><path class=c23 d="m209 197 3-15-2 4-3 15zm22-9 3-15-2 11-3 16zm-66 23 3-14-3-8-3 14zm160-2 3 3-2-14-3-4zm12 3 3 12-2 13-3-12zm3 7 3-8-3-14-2 8z"/><path class=c38 d="m262 144 3-8-3 3-2 8zm-169 37 3 15-2-16-3-16zm22-10 3 15-3-8-3-15zm237 12 2 4-2 14-3-4zm35 3 3-16-2 14-3 17z"/><path class=c35 d="m113 183 3 7-2-17-3-7zm167-23 3-8-3 4-3 8zm90 38 3 12-2 15-3-12zm4-9 2-16-2-6-3 17zm12 7 3-16-2 6-3 17zm23 10 2-17-2-12-3 16z"/><path class=c21 d="m230 196 3-7-3 3-3 7zm-46 10 2-15-2 12-3 14zm126 0 3 12-2-16-3-12zm16 11 3-7-2 5-3 8zm48 26 3-16-2 6-3 16z"/><path class=c24 d="m233 189 2-16-2 4-3 15zm20-6 3-7-2 3-3 8zm-94 25 3-5-2 3-3 6zm21-5 3 5-2 4-3-6zm166 12 3 12-3-14-3-12zm4 0 3 12-2 6-3-12z"/><path class=c31 d="m165 189 3-14-2 3-3 14zm68-6 3-6-2 4-3 6zm1-2 2 4-2 13-3-5zm38-17 3 12-2-16-3-12zm6 4 3 4-2 12-3-3zm74 33 3 12-2 14-3-12zm59 18 3-17-3-13-2 17z"/><path class=c36 d="m319 159 2-8-2 12-3 9zm-196 24 3 15-2 12-3-15zm3-9 3-13-2-9-3 14zm37 13 3 7-2 12-3-7zm155-15 3 4-2 5-3-4zm57 23 3 12-2 15-3-12z"/><path class=c46 d="m208 115 3 4-2-9-3-4zm-131 42 2 7-2 3-3-7zm29-2 3-5-2-9-3 5zm32-21 3 5-3-9-2-6zm239 25 3 3-2 6-3-3zm-253 2 3 7-2 4-3-7z"/><path class=c18 d="m183 223 3 14-2-8-3-14zm2-7 3-6-2-8-3 6zm23-4 3-7-2-8-3 7zm1 5 3 13-3 4-3-14zm87 5 3 12-2 13-3-12zm76 27 3-16-3-4-2 16z"/><path class=c25 d="m250 179 3 4-2 4-3-4zm26 2 3 3-2 4-3-4zm-151 39 3-13-2-17-3 14zm11-3 3 15-2-8-3-15zm2-4 3-5-2-9-3 6zm235 22 3-8-2 16-3 7z"/><path class=c28 d="m168 197 2-14-2-8-3 14zm81-22 3 12-2-8-3-12zm-113 30 3-6-2 4-3 5zm229 3 3-8-2 6-3 8zm11 19 3-16-2 16-3 16zm8-7 3 12-2-13-3-12z"/><path class=c11 d="m258 237 3 4-2 13-3-5zm-89 6 3-14-2-16-3 14zm27-2 3-7-2 13-3 6zm17 2 3-15-2-16-3 15zm5 3 3-15-3 5-3 14z"/><path class=c10 d="m174 247 2-14-2 4-3 14zm66-4 3-15-2 13-3 15zm7 10 3 14-2 5-3-14zm12-3 3-15-2 5-3 15zm12-4 2 13-2 5-3-13z"/><path class=c43 d="m249 124 3 4-2-8-3-4zm-122 44 3 15-2 4-3-15zm258 20 3 3-2 16-3-4zm17-12 3 12-2-13-3-12zm15 9 3-8-3-13-3 9z"/><path class=c44 d="m74 161 3-4-3 3-3 4zm17 2 3 15-2-8-3-16zm31 2 3 7-2 11-3-6zm253 12 2 12-2 6-3-12zm4-13 3 3-2-5-3-3zm26 14 3-9-2 15-3 9z"/><path class=c21 d="m251 195 3 13-2-17-3-12zm-89 21 3-5-3-8-3 5zm10 6 3 7-2 12-3-6zm11-14 3-6-2 4-3 6zm143 12 3-16-3 13-3 17z"/><path class=c20 d="m180 217 3 6-2-8-3-6zm26-13 3-7-2 4-3 6zm70-4 3-16-2-8-3 16zm14 5 3-16-2 13-3 16zm27 13 3-16-3-15-2 16zm8 4 3-16-2 14-3 16z"/><path class=c15 d="m184 227 3 6-2-17-3-5zm0 2 3 14-3-16-3-14zm-42 26 3-13-2-8-3 13zm183-13 3 13-2-15-3-12zm1-2 3 5-2-15-3-4zm13 1 3-16-2-6-3 16z"/><path class=c29 d="m236 185 3 13-2 13-3-13zm42 2 3 13-3 13-3-13zm45 7 3 4-3-15-3-4zm21 5 3 11-2-6-3-12zm-216 8 3-5-2-16-3 4zm232 3 3 4-2-14-3-4z"/><path class=c23 d="m203 199 3 5-2 3-3-5zm24-8 3 5-3 3-3-4zm25-4 3 5-2-9-3-4zm21 1 3-7-2 3-3 8zm-114 22 3 6-3-8-2-6zm152-6 3 4-2 5-3-4z"/><path class=c20 d="m229 199 3 5-2-8-3-5zm-44 20 3 14-2 4-3-14zm21-12 2 5-2-8-3-5zm22-4 3 12-2-16-3-13zm81 9 2-8-2 5-3 8zm15 12 3-7-2 5-3 8z"/><path class=c26 d="m226 186 3 13-2-8-3-13zm5 7 3 5-2 12-3-5zm-111 24 3-13-2-17-3 13zm181-14 3 13-3 5-3-12zm19-1 3-8-3-15-3 8zm46 17 3 12-3-5-3-12z"/><path class=c27 d="m179 197 3 14-2-8-3-14zm31-11 3-15-2 12-3 15zm64-6 3-16-2 12-3 16zm5 4 3-16-2-8-3 16zm-110 24 3 14-2 13-3-15zm194 6 3 12-2-14-3-12zm2-4 3 4-3-6-2-3z"/><path class=c31 d="m209 189 3-6-2 4-3 6zm1-2 3 5-2 12-3-5zm37-20 3 12-2 4-3-13zm70 20 3-8-2-7-3 8zm-194 17 3-14-2-16-3 13zm2 6 3 7-2 12-3-7zm258 3 3 12-2-5-3-12z"/><path class=c17 d="m160 228 3 15-2-16-3-15zm1-1 3 6-2-17-3-6zm73-5 3-15-2-16-3 15zm47 1 3-7-3-15-3 7zm50-1 3 3-2-15-3-3zm9 38 3 4-2-13-3-4z"/><path class=c40 d="m156 157 3 6-3-9-3-5zm90-25 3-8-2-8-3 8zm-159 46 3-5-2-16-3 4zm21-7 3-5-2-16-3 5zm17 19 3 16-3 4-3-15zm5-14 2 15-2-8-3-15z"/><path class=c30 d="m133 198 3 7-2 3-3-6zm23-2 3 14-2-8-3-14zm28-19 3 14-2-17-3-14zm122 3 3 12-2 5-3-12zm26 16 2 4-2 13-3-3zm46 21 3-7-3-5-3 8z"/><path class=c28 d="m212 182 3-15-2 4-3 15zm63-6 3-8-2 13-3 7zm15 3 3 12-2-16-3-12zm15 8 3 3-3-15-2-4zm-171 22 3 15-2-17-3-15zm1-3 3 7-2-8-3-7zm29 0 3 14-2 12-3-14zm170-6 3 12-2 13-3-12zm29 15 3 4-3-5-3-4z"/><path class=c34 d="m110 188 3-5-2-17-3 5zm22 3 3 15-2-8-3-15zm0 1 3 15-3-16-2-15zm156-29 3 12-3-7-3-12zm32 16 3 4-2-7-3-4zm49 11 3-17-2 14-3 17zm17 17 3 12-3 6-3-12z"/><path class=c27 d="m186 191 3-15-2 12-3 15zm1-3 3-6-2 12-3 6zm56-6 3-7-2-17-3 8zm6-3 3 12-3-16-3-12zm59 11 3 12-3-15-3-12zm21 14 3-8-3 14-3 7zm35 8 3 12-2-14-3-12zm23 23 3-16-2-12-3 16z"/><path class=c37 d="m79 186 3-12-2-17-3 12zm43 9 3 15-2 12-3-15zm7-9 3 6-2-16-3-7zm225 1 3 12-2 14-3-12zm17-3 3-17-2 6-3 17zm9 10 3 12-3-5-3-12z"/><path class=c33 d="m140 188 3-6-2 12-3 5zm26 6 3 14-2 12-3-14zm46-11 3 5-2 4-3-5zm24-6 3 4-3 4-2-4zm126 21 3 12-2-5-3-12zm19 10 3 12-2-13-3-12z"/><path class=c22 d="m252 191 3 13-3-17-3-12zm20 1 3-16-2 12-3 17zm-105 28 3 15-2 12-3-15zm2 8 3-6-2-15-3 5zm163-15 3 12-2 6-3-12zm3 8 3-16-3-14-3 16zm29 18 3-8-2-13-3 8z"/><path class=c21 d="m272 196 2-16-2 12-3 16zm-112 26 3 14-3-8-3-14zm21-9 3 14-2-16-3-14zm1-2 3 5-2-8-3-5zm158 19 3-7-2 14-3 8zm-196 12 3-4-2 13-3 4z"/><path class=c14 d="m190 226 3-14-2-16-3 14zm28 10 3-7-2-7-3 6zm54-17 3 4-2-16-3-4zm42 15 3-16-2-15-3 16zm5-2 3-16-2-14-3 16zm33 18 3-16-3-14-3 16z"/><path class=c19 d="m190 221 3 14-2 12-3-14zm14-9 3 14-2-16-3-14zm1-2 3 13-2-16-3-14zm23-4 2 13-2-16-3-13zm61 6 3-8-3 5-3 7zm-144 30 3-13-2-8-3 13zm210 0 3-8-2 15-3 8z"/><path class=c26 d="m203 193 3 14-3-8-3-14zm5 6 3 5-2 13-3-6zm85-10 3-7-2 12-3 8zm9 6 3-8-2-16-3 8zm9 4 3-8-3 13-2 8zm-170 9 3-14-2-8-3 13zm217 10 2-8-2-14-3 8z"/><path class=c28 d="m200 185 3 14-2 3-3-13zm55-2 3 4-3 12-3-4zm39 5 3-16-2 5-3 16zm-161 22 3 7-2-8-3-7zm2-3 3 15-3-16-3-15zm183 1 3 12-2 6-3-13z"/><path class=c25 d="m196 197 3-6-2-16-3 6zm6-1 3 14-2-17-3-13zm90-3 3-16-2 12-3 16zm5 2 3-16-3-7-3 16zm-110 12 3 14-2 12-3-14zm128-4 2-16-2-7-3 16zm37 17 3-16-2-14-3 16z"/><path class=c22 d="m252 195 3 4-2 4-3-4zm-104 43 2-14-2 5-3 13zm53-31 3 5-2-16-3-5zm91-3 2-16-2 5-3 16zm29 16 3 4-2 6-3-4zm38 13 3-16-2 6-3 16z"/><path class=c20 d="m181 215 3 14-3-16-2-14zm7-5 3-14-2-9-3 15zm62-8 2-7-2 4-3 7zm21-2 3-8-2 4-3 8zm30 23 3 4-2-15-3-4zm3-13 3-8-2-15-3 8zm20 16 3 4-3-6-3-4zm31 8 3-16-3-14-3 16z"/><path class=c30 d="m177 189 3 14-2 3-3-14zm13 6 3 14-3 12-3-14zm64-17 3-8-2 13-3 7zm33-3 3 4-2-16-3-3zm-151 31 2 7-2 4-3-7zm229 3 3 4-2 6-3-4zm3-9 3-16-2 6-3 16z"/><path class=c29 d="m189 187 3-14-3 3-3 15zm18 6 3-6-2 12-3 6zm17-15 3 13-3 4-2-13zm22-3 3 4-3-16-2-5zm31 1 3-16-3 4-3 16zm-144 35 3-5-3 4-3 5zm235 2 3 12-2 6-3-12z"/><path class=c19 d="m198 214 3-7-2-16-3 6zm29-5 3 5-2-8-3-5zm22-3 3-16-2 12-3 16zm45 5 3-16-3-7-2 16zm18 8 3-16-3-7-3 16zm45 20 3-16-2-5-3 16z"/><path class=c33 d="m140 189 3-13-3 12-2 13zm46 2 3-6-2 4-3 6zm109-4 3 4-3 5-2-4zm21 8 2 13-2 5-3-12zm-175 6 3 15-3 12-3-15zm220-1 3 12-2-14-3-12zm20 10 2 3-2-5-3-3z"/><path class=c38 d="m321 154 3-8-3 5-2 8zm-207 19 3 15-2-17-3-15zm29 3 3-5-3 11-3 6zm23 7 3 6-3 5-3-7zm193 3 3 12-2-5-3-12zm20 9 3 12-2-13-3-12zm24-2 3-9-2 7-3 9z"/><path class=c31 d="m161 199 3 7-2 12-3-6zm39-19 3 13-3-8-3-13zm15 10 3 6-3-8-3-5zm77 4 3-7-2 5-3 7zm1-2 2 4-2 13-3-4zm5-1 3 12-3 6-3-13zm-167 11 3 7-2-17-3-6z"/><path class=c23 d="m248 191 3 4-2-16-3-4zm26 1 3-16-3 4-2 16zm-117 22 3 14-2-16-3-14zm5 4 3 14-2 4-3-14zm2 7 3-13-2-16-3 14zm22-23 3-15-3 4-2 15zm121 0 3 4-2-16-3-3z"/><path class=c32 d="m115 193 3-5-2 4-3 4zm29 1 3-14-2-8-3 14zm10-6 3 14-3 4-3-15zm102-14 3-8-2 4-3 8zm62-3 3-17-2 5-3 17zm-198 36 3 15-2 12-3-15zm235-3 3-8-2-14-3 8z"/><path class=c24 d="m152 213 2-5-2-17-3 6zm5 3 3 6-3-8-3-6zm36-7 3 14-3 12-3-14zm82-9 3 13-2 12-3-12zm54 10 3 3-2 6-3-4zm16 7 3 4-2-6-3-4zm30 16 3-16-3-4-3 16z"/><path class=c22 d="m268 196 3 4-2 4-3-4zm-121 42 3-13-2 13-3 13zm35-25 3 6-2 4-3-6zm43-12 3 5-3-16-3-5zm94 24 3 5-2-14-3-5zm39 9 3-16-2 15-3 16zm-239 10 3-13-2-7-3 12z"/><path class=c21 d="m135 236 3-4-2-16-3 5zm40-21 3-6-2-16-3 6zm31-4 3 6-3 3-3-5zm23-6 3 5-2 4-3-5zm57 3 3 4-3 4-2-4zm43 15 3-16-2-6-3 16zm24 15 2 4-2 15-3-5z"/><path class=c18 d="m175 229 3-6-2 12-3 6zm51-17 3-7-2 4-3 7zm32 1 3-16-3-16-2 16zm15 0 3 12-2 5-3-13zm14 7 2 13-2-15-3-13zm1-5 3 4-2-7-3-4zm36 21 3 12-2-6-3-12zm3-6 2-7-2-6-3 7z"/><path class=c19 d="m193 230 3-6-3-16-2 6zm10-12 3-7-3 4-2 6zm45-9 3-16-2 13-3 15zm21-3 3 13-2-16-3-12zm0 4 3 12-3-16-2-12zm38 7 3-16-2 14-3 16zm1-2 3-16-2 13-3 16zm43 40 3-15-3 7-3 15z"/><path class=c11 d="m231 237 3-15-2-16-3 15zm6 1 3-15-3-16-3 15zm11-5 3 13-2-15-3-13zm30 6 3-16-3-15-2 16zm-86 12 3-14-2-7-3 14zm8 8 3-6-3-15-3 6zm134-8 3-16-2-14-3 16z"/><path class=c12 d="m249 231 3 4-2-16-3-4zm6-3 3-15-2-16-3 15zm34 5 3 12-2-15-3-12zm-125 22 2-14-2-16-3 14zm44-13 3-15-2-16-3 15zm92 5 3-16-2 6-3 15zm20-4 3-7-2 14-3 7z"/><path class=c20 d="m179 219 3-6-2 4-3 6zm91-16 3 4-2-7-3-4zm0 5 3 5-2 4-3-4zm14 8 3 4-3-15-3-4zm38 14 3 12-2-14-3-12zm1-2 3 12-2-14-3-12zm47 17 2-16-2-14-3 16z"/><path class=c27 d="m173 199 3-6-3-16-3 6zm6 0 2 14-2-16-3-14zm-41 14 3 15-2 4-3-15zm190-7 3-16-2 14-3 16zm4 1 3-16-2-7-3 17zm23 16 3 4-3 15-2-4zm15 8 3 4-2 15-3-4z"/><path class=c28 d="m199 191 3 5-2-16-3-5zm13 6 3-7-3-7-3 6zm53-14 3 13-2 4-3-13zm7 7 3-7-2 13-3 7zm-144 27 3-5-2 13-3 4zm57-16 2 6-2 12-3-6zm177 16 3-8-2 6-3 8z"/><path class=c26 d="m264 190 3 4-3-16-3-4zm9 6 2 4-2 13-3-5zm-151 35 3-12-2-8-3 13zm32-23 3 6-2-16-3-7zm145 0 3 4-2-14-3-5zm22 6 3 12-3-6-3-12zm26-3 3 4-2 6-3-4z"/><path class=c24 d="m261 197 3-7-3-16-3 7zm6-3 2 12-2-15-3-13zm-119 35 3-5-2-7-3 4zm56-21 3-15-2 12-3 15zm1-3 3-6-2 12-3 7zm31 9 3 13-2 5-3-14zm23-8 3 13-2 5-3-13z"/><path class=c18 d="m201 222 3-14-2 12-3 14zm1-2 3-15-2 13-3 14zm4 6 3-15-2-7-3 14zm41-14 3-7-2 4-3 7zm13 14 3 5-2-15-3-5zm7-10 3-8-2 5-3 7zm20 2 3 12-2-15-3-13zm-123 26 3 6-2 13-3-7z"/><path class=c16 d="m170 235 3 6-2 12-3-6zm25 2 3-5-2-8-3 6zm37-6 3 13-3 13-3-13zm18-8 3 13-2 5-3-13zm5 1 3 13-2 12-3-13zm77 13 3-16-3-14-3 16zm-170 23 3-13-2 5-3 13z"/><path class=c17 d="m211 227 3-15-2-15-3 14zm35-9 3 13-2-16-3-13zm63 9 3-8-3-7-3 8zm28 8 3-16-2-14-3 16zm-197 12 3-13-2-15-3 13zm26-6 3-13-2-16-3 13zm169 0 3 4-3 14-2-4z"/><path class=c23 d="m158 212 3 15-2-17-3-14zm20-3 3 6-2-16-3-6zm31 2 3-14-3-8-2 15zm35-9 3 13-2-8-3-13zm83 15 3-16-2 5-3 16zm10 9 3 4-2 15-3-4zm7-7 3-8-2 6-3 8z"/><path class=c31 d="m149 197 3-6-2-16-3 5zm35-2 3-6-2 12-3 6zm90-9 3-8-2 5-3 7zm1-3 3 4-3 13-2-4zm22 10 3 5-2-7-3-4zm-87 10 3 14-3 4-2-14zm126 5 3 12-2 6-3-12zm40 12 2-8-2 15-3 8z"/><path class=c25 d="m225 190 3 13-2-17-3-13zm27 0 3-7-3 12-2 7zm15 1 3 12-2-7-3-13zm-131 42 3 15-2 4-3-15zm23-21 3 6-2 4-3-6zm151-11 3-16-2 14-3 16zm33 10 3 4-3-14-3-4zm17 12 3-8-3-5-2 8z"/><path class=c34 d="m135 199 3-5-2 12-3 5zm7-13 3-14-2 4-3 13zm23 10 3-5-2-8-3 6zm32-21 3 5-3-8-2-5zm24-10 3 13-2 4-3-13zm137 31 3 4-2-14-3-4zm-22 5 2 12-2-5-3-13zm28 1 3-8-2 15-3 8zm0 1 2-16-2 15-3 16z"/><path class=c29 d="m139 199 3-13-2 3-3 14zm37-6 3 6-3-16-3-6zm119 3 3 13-2 13-3-13zm-164 16 3-13-2 13-3 13zm1 0 3-13-2 12-3 13zm194-1 3 5-2 14-3-4zm4-10 3-17-2 6-3 16z"/><path class=c35 d="m126 190 3-4-2-17-3 5zm43-1 2 15-2 4-3-14zm20-4 3 6-2 4-3-6zm96-25 3 3-3-7-2-4zm43 37 3 4-2 15-3-5zm5-13 3-7-2 5-3 8zm45 21 3 3-2-13-3-4zm21-1 3-9-2 16-3 8z"/><path class=c28 d="m222 185 3 5-2-17-3-5zm90 11 3-16-2 5-3 16zm-191 35 2-4-2 12-3 4zm46-19 3-5-2-16-3 5zm41-5 2 14-2 13-3-14zm126 7 3 12-2 15-3-13zm27 4 3-16-2 15-3 16zm0 1 3-16-3 15-3 16z"/><path class=c63 d="m276 51 3 3-2 3-3-3zm-211 56 3 7-2 3-3-7zm371 18 3 3-2 7-3-3zm-210 56 3 7-3 7-2-7z"/><path class=c33 d="m113 196 3-13-2 11-3 13zm1-2 3-13-2 12-3 13zm73-5 3 6-3 12-2-6zm90-11 3 5-2 4-3-4zm58 13 3-8-2-6-3 7zm-4 10 3 13-2 14-3-12zm49 10 3-8-2 7-3 7z"/><path class=c30 d="m155 198 3 14-2-16-3-15zm33 0 3-5-2-8-3 6zm70-17 3-7-2-8-3 8zm-143 24 3-5-2-8-3 5zm192-1 3-8-2 14-3 7zm6-3 3 12-2 14-3-13zm33 4 3-8-2 14-3 8z"/><path class=c36 d="m138 194 3 7-3 12-2-7zm15-13 3 15-2-8-3-15zm10 8 3-6-3 4-3 6zm170 6 3 13-2 6-3-13zm6-15 3 12-2 6-3-12zm15 24 3 12-2 7-3-12zm29-1 3 4-3 6-2-3z"/><path class=c45 d="m270 114 2-8-2-8-3 8zm-158 42 3 15-3-8-2-15zm-40 8 3-13-2 12-3 12zm25 3 3 7-3 12-3-8zm293 3 3-9-2 15-3 8zm5 11 3 12-2 7-3-12z"/><path class=c41 d="m111 166 3 7-2-17-3-6zm29 15 3 7-2 13-3-7zm214-4 3 4-3 6-2-4zm18 6 3 12-2 15-3-12zm4-10 3-9-2-5-3 8zm13 7 3-17-2 7-3 16z"/><path class=c18 d="m161 239 3-14-2-15-3 13zm40-15 3-6-3 4-3 6zm24-9 3-15-2 12-3 15zm22 0 3 4-3-7-2-5zm6-3 3-15-3-8-3 16zm46 18 2-7-2-15-3 7z"/><path class=c24 d="m256 197 2-16-2-7-3 15zm-115 38 3 7-2 13-3-7zm15-18 3-5-2 4-3 5zm5 12 3 15-2 12-3-15zm124-27 3 13-2-7-3-13zm26 12 3 13-2 14-3-13zm36 8 3-16-2-5-3 16z"/><path class=c21 d="m198 219 3 5-3 4-2-5zm36-1 3 14-2 12-3-13zm16-13 3-16-2 4-3 16zm16 0 3 5-2-16-3-4zm61 25 3 12-3 6-3-12zm13 22 3 13-3-5-3-13z"/><path class=c29 d="m257 193 2 13-2 5-3-13zm-121 23 3-13-3-8-3 13zm22-11 3-6-2 13-3 5zm0 1 2-13-2 12-3 13zm174 12 3-8-2-13-3 7zm50 12 3-7-2-13-3 7z"/><path class=c23 d="m138 232 3-13-2-16-3 13zm21-9 3-13-2-8-3 14zm125-18 3 13-2-16-3-12zm12 10 3-7-2-15-3 8zm38 17 3-8-2-14-3 8zm10-11 2-16-2 14-3 16z"/><path class=c31 d="m217 175 3-7-2-8-3 7zm63 8 3 12-2 5-3-13zm60 14 3 4-2-14-3-4zm-180 5 3-13-3 4-2 13zm203 11 3-16-2 6-3 16zm22 10 3-16-2-13-3 16z"/><path class=c8 d="m187 258 3-14-2-16-3 14zm4 3 3-14-2 4-3 14zm48-16 3-15-2-7-3 15zm40 6 3-8-3 14-3 7zm37-3 3-16-2-14-3 16z"/><path class=c14 d="m248 228 3 13-3-8-3-13zm69 11 3 4-2 14-3-4zm-157 26 3-13-2-7-3 13zm25-23 3-14-3-16-3 14zm3 6 3 6-3 13-2-6zm12 8 3 14-2 5-3-14z"/><path class=c4 d="m250 267 3 5-2 5-3-5zm1-4 3-15-2-15-3 15zm5 2 3-15-2 5-3 15zm39 3 3-16-2-6-3 15z"/><path class=c11 d="m273 239 3-15-3-16-3 16zm-105 19 3-14-2 5-3 13zm18 9 3-13-2 5-3 13zm5-13 3-6-3 13-3 6zm91-11 2-15-2 13-3 16zm40 22 3 5-2-14-3-5z"/><path class=c13 d="m290 230 3 4-2-15-3-4zm18 7 3 4-2-14-3-5zm-135 4 3-6-2 12-3 6zm17 3 3-14-2-16-3 14zm3 27 3 6-2-14-3-7zm114-31 3 12-2-15-3-12z"/><path class=c19 d="m188 228 3-14-3-16-3 14zm2 7 3 6-2 13-3-6zm90-7 3 4-2 5-3-4zm26-8 3-8-2 5-3 8zm8 7 3 12-2 14-3-12zm35 9 3-16-2-14-3 16zm-159 35 3 7-2-6-3-7z"/><path class=c25 d="m219 192 3-7-2-17-3 7zm-87 37 3 7-2-15-3-8zm55-8 3 14-2 13-3-15zm94-20 3 4-2-15-3-4zm9 4 3 4-2 13-3-4zm26 8 3 13-2 13-3-12zm42 14 3-8-3 15-3 8z"/><path class=c28 d="m276 193 3-7-2-8-3 8zm-162 22 2 15-2-16-3-15zm10 12 3-13-2 5-3 12zm65-11 3 15-2 4-3-14zm149-11 2-8-2-14-3 8zm22 16 3-8-2 6-3 8z"/><path class=c27 d="m114 214 3 7-2-16-3-7zm19 7 3-5-3-8-2 5zm115-21 3-7-2 13-3 7zm18 9 3-7-2 13-3 7zm63 7 3 12-2 14-3-12zm33 10 3-8-2-5-3 8z"/><path class=c38 d="m116 183 3-13-2 11-3 13zm27 5 3 15-2 13-3-15zm7-13 3 6-2-8-3-6zm180 16 3 4-2 6-3-4zm73 3 2-16-2 15-3 16z"/><path class=c39 d="m180 152 3 13-3 3-3-13zm88-12 3 12-3 3-3-12zm-176 42 3 7-2-8-3-8zm53-10 3-5-2 4-3 5zm211 10 3 4-2-5-3-4z"/><path class=c37 d="m117 181 3-4-2 11-3 5zm30-1 3-5-2-8-3 5zm0 12 3 15-2-8-3-15zm219 5 3-16-3 6-2 16zm1-3 3 4-2 15-3-4zm-232 10 3 16-2 13-3-16z"/><path class=c40 d="m94 178 3 8-2 3-3-7zm25 1 2-13-2 4-3 13zm26 5 3 15-2 4-3-15zm237 11 3-7-2 15-3 8zm9-10 3-17-2-5-3 17zm15 8 3-16-2-5-3 16z"/><path class=c32 d="m152 191 3 7-2-17-3-6zm29-19 3 5-2-17-3-5zm88-12 3 4-2-16-3-4zm-151 40 3-13-2-8-3 13zm48 11 3 15-2 5-3-15zm209 2 3-8-2-14-3 8z"/><path class=c51 d="m73 141 3 15-3-17-2-15zm10-6 3-13-2 2-3 13zm15 21 3-5-2 4-3 4zm1-1 3 7-2 12-3-7zm293 14 3 12-2 7-3-12z"/><path class=c36 d="m264 152 3-8-2-8-3 8zm-88 9 3-6-2-9-3 7zm157 36 3 4-3-6-3-4zm5-14 3 4-2-7-3-3zm45 27 3-16-2-5-3 16z"/><path class=c15 d="m203 232 3-6-2-8-3 6zm47-13 3-7-3-7-3 7zm39 8 3 13-3-7-2-13zm-122 23 3-5-2 13-3 5zm155 8 3 13-3-6-2-13z"/><path class=c17 d="m245 220 3 13-2-15-3-13zm22-1 3-16-3 13-3 15zm9 5 2-16-2-15-3 15zm10-1 3 4-2-7-3-4zm-93 18 3-5-2 12-3 6zm0 21 3 15-3-6-3-15z"/><path class=c24 d="m251 193 3-15-2 12-3 16zm-96 25 3-13-2 12-3 14zm94-12 3 5-2 12-3-4zm28 9 3 13-2 5-3-13zm84 20 3 4-2-13-3-4zm-3 16 3 4-2-13-3-4z"/><path class=c26 d="m242 194 3 13-3 4-3-13zm11-5 3-15-2 4-3 15zm-46 15 2-15-2 4-3 15zm113 12 3 12-2-14-3-13zm30 9 3 13-3 14-3-12zm15 9 3 12-2 7-3-12zm7-5 3-16-2-14-3 16z"/><path class=c23 d="m205 220 3 14-2 13-3-14zm38-15 3 13-2-16-3-13zm35 3 3-7-2-15-3 7zm15 1 3 13-2 13-3-13zm36 24 3-15-2-14-3 16zm14-10 3-16-2 14-3 16zm-229 17 3-4-2-16-3 5z"/><path class=c20 d="m179 221 3-14-3 12-3 14zm6 12 3 15-2 13-3-15zm19-15 3-14-3 4-3 14zm84 0 3 4-2 5-3-4zm28 15 3-8-2-14-3 8zm3-7 3 4-2 13-3-4z"/><path class=c30 d="m178 178 3-6-2-17-3 6zm88-10 3-8-2-16-3 8zm-135 45 2-5-2 4-3 5zm7 7 3 15-2 13-3-15zm26-4 3 15-3 13-3-15zm193 0 3 5-2 6-3-4z"/><path class=c22 d="m143 234 3-13-2-15-3 13zm109-23 3 13-2 12-3-13zm5 0 3 13-2 13-3-13zm52 1 3-16-2 5-3 16zm23 16 3 13-2 14-3-13z"/><path class=c29 d="m251 193 3 5-2 13-3-5zm-139 32 3-5-3-15-3 4zm31-2 3 7-2 12-3-7zm19-13 3-14-2-7-3 13zm197 12 3 4-2-5-3-5zm6-4 3-16-2-5-3 16z"/><path class=c34 d="m134 199 3-13-2 13-3 13zm86-31 3 5-2-8-3-5zm136 42 3 12-3-13-3-12zm22 2 3-16-2 15-3 16zm1-1 3-16-2 16-3 16z"/><path class=c12 d="m202 242 3 6-2-16-3-6zm0 2 2 14-2-16-3-14zm94 2 3-16-3-15-3 16zm26 32 3-7-2-5-3 7zm6-15 3-16-2-14-3 16z"/><path class=c31 d="m239 181 3 13-3 4-3-13zm40 5 3 4-2-7-3-5zm-146 22 3-13-2 4-3 13zm72-6 3 5-3 13-3-6zm113-1 3 13-3-6-2-13z"/><path class=c16 d="m245 223 3 5-3-8-3-4zm62 10 3 13-3-6-3-13zm-136 11 3-13-2 4-3 14zm18 10 3-14-3 5-2 14zm144-2 3-15-2-5-3 15z"/><path class=c18 d="m200 226 3 6-2-8-3-5zm25-9 3-15-3 13-2 15zm66 5 3 13-2 5-3-13zm13 5 3 13-2-15-3-13zm27 20 3-15-2-14-3 15z"/><path class=c17 d="m224 220 3-7-2 4-3 7zm16 3 2-7-2-16-3 7zm26-2 3-15-2 13-3 15zm19 5 3-8-2 5-3 7zm8 5 3-16-2-14-3 15zm-123 14 3-13-2 12-3 14z"/><path class=c6 d="m210 257 3-14-2-16-3 15zm30 18 3 6-2-15-3-6zm53-14 3-15-3-15-3 15zm4 1 3-15-2 5-3 16zm16 8 3-16-3-6-2 16z"/><path class=c9 d="m215 250 3-14-2-8-3 15zm24 18 3 14-2-7-3-14zm57-12 3-7-2 13-3 7zm2-4 3-15-2-7-3 16zm17 12 3-16-2 6-3 16z"/><path class=c19 d="m172 235 3-5-3-8-3 6zm70-19 3 4-2-15-3-5zm5 3 3 4-2 5-3-5zm59 3 3 5-3-7-2-4zm37 19 3 12-2-13-3-13z"/><path class=c10 d="m249 248 3-15-2-15-3 15zm3 6 3 5-2 13-3-5zm6-2 3-15-2 13-3 15zm8-8 3 13-2-15-3-13zm1-2 3 4-3-15-2-4zm64 26 2-16-2-5-3 16z"/><path class=c25 d="m131 230 3 15-2-16-3-15zm82-13 3 14-3 4-3-14zm27-17 3 5-2-16-3-5zm91 35 3 4-2 15-3-5zm36-4 3-16-2-13-3 16z"/><path class=c33 d="m113 197 3-5-3 4-2 4zm15 9 3 7-3 4-3-7zm16 0 3-5-3-16-2 5zm208 5 3 12-2 15-3-13zm21 5 3 4-3 15-3-4z"/><path class=c3 d="m213 265 2-15-2-7-3 14zm23-5 3-15-2-7-3 15zm41 1 3-15-2-7-3 16zm-34 20 3-6-2-15-3 6z"/><path class=c16 d="m237 232 3 5-3 13-2-6zm7-6 3-7-2 4-3 7zm21-2 3-7-2 4-3 8zm-77 30 3-13-2 13-3 13zm61-14 3 14-2 13-3-14z"/><path class=c13 d="m240 237 3-7-3 13-3 7zm25 1 3 13-2-7-3-13zm-29 8 3-7-2-6-3 6zm24-6 2-7-2-7-3 7zm73 22 3-16-3 6-2 16z"/><path class=c17 d="m208 234 3 14-2 13-3-14zm5 1 3 6-2 13-3-6zm10-12 3 5-2-8-3-5zm0 2 3 13-3-15-3-14zm109 29 3-7-2 15-3 7z"/><path class=c49 d="m76 150 3-4-2 11-3 4zm350 4 3 11-3-14-2-11zm-130 44 3 6-2 7-3-6zm91-26 3 4-2 15-3-3z"/><path class=c56 d="m80 136 3-5-2 3-3 5zm1-2 3 8-2 11-3-7zm5-12 3-5-2 2-3 5zm358 23 3 11-3-13-3-11z"/><path class=c50 d="m314 104 3 2-3-8-3-2zm-255 42 3-13-2-9-3 13zm56-17 3 14-2 3-3-14zm333 33 3 11-2-4-3-11z"/><path class=c47 d="m257 100 3 3-2-17-3-4zm31 1 3-17-3 3-2 17zm-177 36 3-5-2-9-3 5zm-9 25 3 16-3 12-2-16zm288 14 3 12-2 15-3-12z"/><path class=c43 d="m117 149 3 6-3-17-3-6zm-40 20 3-12-3-9-3 13zm50 0 3 7-3-8-3-7zm242 11 3 3-2 15-3-4zm8 2 3 12-3-5-2-12zm14 8 3-7-2-13-3 8z"/><path class=c48 d="m272 106 3 3-2-8-3-3zm-163 44 3 6-2-8-3-7zm283 13 3-8-2 6-3 9zm8 0 3 12-2-5-3-12z"/><path class=c42 d="m82 174 3-13-2-17-3 13zm18 0 2 16-2 11-3-15zm293 14 3 12-2 15-3-12zm18 1 3-16-2-13-3 17z"/><path class=c37 d="m100 193 3-13-3-16-3 12zm21-6 3-13-3-8-2 13zm244 19 2 13-2 15-3-13zm10 3 3 4-2 7-3-4zm13-2 3-17-2-12-3 16zm7 1 3-8-2-5-3 8z"/><path class=c39 d="m91 183 3-5-2 4-3 4zm26 8 3 16-2 12-3-16zm20-5 3-5-2 13-3 5zm162 24 2-6-2 6-3 7zm94-7 3-8-2-12-3 7z"/><path class=c31 d="m238 184 3 5-2-8-3-4zm-136 25 3-13-2-16-3 13zm23 10 3-5-2-7-3 4zm245-4 3-16-2-13-3 16zm23 9 2-16-2-5-3 16z"/><path class=c44 d="m120 179 2 16-2 12-3-16zm1-13 3-5-2 4-3 5zm278 7 3 3-2-13-3-3zm26 2 3-17-2 15-3 17zm1-2 3-17-2 15-3 17z"/><path class=c38 d="m179 155 3 5-2-8-3-6zm88-11 3 4-2-8-3-4zm-180 45 3-5-2 12-3 4zm315 6 3-16-2 15-3 17z"/><path class=c18 d="m199 228 3 14-2-16-3-14zm97 9 3 5-3 14-2-5zm8-8 3 4-3-6-3-4zm1-4 3 12-2-15-3-12z"/><path class=c24 d="m155 220 3-14-3 12-3 14zm42-8 3 14-2-7-3-14zm31-12 3-7-2 12-3 7zm75 10 3 12-2-6-3-13zm39 14 3-7-2 6-3 7zm19 12 3 12-3-13-2-13z"/><path class=c23 d="m210 221 3 14-2 13-3-14zm10-12 3 14-2-8-3-13zm8-7 3-15-3 13-3 15zm42 1 3-7-3 12-3 8zm-131 46 3-13-2 5-3 13z"/><path class=c29 d="m231 187 3-6-3 12-3 7zm-111 37 3-13-3-16-3 13zm3 3 3-13-2 13-3 12zm8-6 3 16-3-7-3-16zm228 1 2 13-2-13-3-13z"/><path class=c28 d="m235 191 3-7-2-7-3 6zm-94 28 3-13-2-16-3 13zm176-8 3 5-2-15-3-4zm43 17 3 13-2-5-3-13zm-3 14 3 13-2-4-3-13z"/><path class=c22 d="m220 211 3 14-3-16-2-13zm17-4 3-7-2-16-3 7zm36 1 3-15-2-7-3 15zm71 22 3-8-2-5-3 7zm-212 21 3-4-3-15-3 4z"/><path class=c32 d="m254 189 3 4-3 5-3-5zm56 7 3 5-2 13-3-4zm-182 18 3 16-2-16-3-16zm219-1 3 12-3 15-3-12zm20 6 3 12-2 15-3-12z"/><path class=c12 d="m208 255 3-14-3-16-3 14zm34 7 3 14-3 6-3-14zm52-11 2 5-2 13-3-4zm5-2 3-16-2 14-3 15zm15 8 3-7-2 14-3 7z"/><path class=c8 d="m184 272 3-13-3-7-3 13zm53-22 3-7-2 13-3 6zm18 9 3-7-2 13-3 7zm2-4 3-15-3-7-3 15zm35 18 3-15-3 6-3 15z"/><path class=c15 d="m201 237 3 14-2-7-3-14zm25-9 3-7-2-8-3 7zm75 9 3-8-3-6-2 7zm-116 22 3-5-2 13-3 6zm114-17 3-7-3 14-3 7zm19 6 3-15-2 6-3 15z"/><path class=c11 d="m226 238 3 5-3-15-3-5zm-15 10 3 6-2 12-3-5zm14-7 3 13-2-16-3-13zm65 5 3-15-2-15-3 16zm9 27 3 5-2-14-3-5z"/><path class=c14 d="m224 235 3 13-2-7-3-14zm43-4 3-7-2-7-3 7zm14 6 3-7-2 13-3 8zm-112 12 3-14-3-7-3 13zm144-1 3-15-2-14-3 15z"/><path class=c23 d="m167 231 3 6-3 13-3-6zm41-6 3-5-2-16-3 6zm24-19 3-15-2-8-3 15zm37 0 3-16-2 13-3 16zm24 18 3 13-2 14-3-13zm73 28 3-15-2-5-3 16z"/><path class=c19 d="m155 238 3 6-2-16-3-6zm113-21 3-16-2 5-3 15zm41 11 3 13-2 5-3-13zm-146 24 3-13-2-7-3 13zm166-3 3 5-2 15-3-5zm7-3 3-15-3 6-3 15zm8-6 3 4-3-14-3-4z"/><path class=c20 d="m178 223 3-14-2 12-3 14zm49-10 3-15-2 4-3 15zm95 18 2 5-2-6-3-5zm-160 21 3-5-3 13-2 5zm185-12 3 12-2 7-3-13z"/><path class=c16 d="m226 230 3 14-2 4-3-13zm17-2 3-15-2 13-3 15zm20 3 3 13-2-15-3-13zm2-4 2 4-2-7-3-5zm83 35 3-15-2-5-3 15z"/><path class=c27 d="m254 198 3 13-2 13-3-13zm-155 24 3-13-2-16-3 12zm47-1 3-4-2-16-3 5zm5-7 3 7-2 4-3-7zm126-6 2 13-2-6-3-13z"/><path class=c21 d="m170 237 2-5-2 13-3 5zm80-19 3-15-2-7-3 15zm5 0 3-7-2-15-3 7zm51 6 3 4-2 5-3-4zm-169 30 3-13-2-7-3 13zm28-7 3-13-2 5-3 13z"/><path class=c16 d="m243 230 3-15-3 13-3 15zm9 3 3-15-2-15-3 15zm5 0 3-7-2-15-3 7zm5 0 3 5-2-7-3-5zm2-4 3 13-2-15-3-13z"/><path class=c18 d="m180 232 2-6-2-7-3 6zm19-2 3 14-3-16-3-14zm4 3 3 14-2 4-3-14zm62-5 3 5-3 5-3-5zm38 3 3-7-2 5-3 8z"/><path class=c17 d="m222 227 3 14-2-16-3-14zm7-6 3-15-2-8-3 15zm41 3 3-16-2-7-3 16zm14 4 3-16-2 14-3 15zm7 10 3 13-3 14-3-13z"/><path class=c24 d="m154 221 3-5-2 4-3 5zm42-7 3 14-2-16-3-14zm30-2 3 6-3 12-2-5zm41 3 3 5-2 13-3-5zm35-3 3 13-2-15-3-12z"/><path class=c25 d="m230 198 3-15-2 4-3 15zm-77 24 3 6-2-7-3-7zm65-20 3 13-2 4-3-13zm53-1 3-15-2 4-3 16zm43 18 3-8-2-14-3 7zm25 1 3 4-2 6-3-4z"/><path class=c29 d="m228 199 3 6-2 13-3-6zm23-3 3-7-3 4-3 7zm-18 4 3 14-2 4-3-13zm35 4 3-7-2 5-3 7zm1-2 3 5-2 13-3-5zm5 0 3 13-2 5-3-13z"/><path class=c26 d="m182 207 3-6-3 12-3 6zm20 7 3 6-2 13-3-6zm93 5 3 13-2 5-3-13zm13-9 3 4-2 14-3-4zm29 14 3 4-2-13-3-5z"/><path class=c19 d="m155 238 3 15-3-15-2-15zm64-16 3 5-2-16-3-5zm5 3 2 5-2 5-3-6zm87 9 3-15-2-15-3 16zm24 13 3-16-2 15-3 16z"/><path class=c22 d="m156 228 3-5-2-7-3 5zm73-10 3 13-3 13-3-14zm17-5 3-7-2 13-3 7zm16 1 3 13-3-8-3-13zm74 23 3-7-2-6-3 8zm6-3 3 12-2-5-3-13z"/><path class=c5 d="m207 276 3-14-2-7-3 14zm8-16 3-14-3 4-2 15zm13 8 3-15-2-15-3 15zm47-13 3-16-2-15-3 15zm14 24 3-15-2-6-3 15z"/><path class=c16 d="m221 231 3-6-3 4-3 7zm26 2 3-15-2-7-3 15zm15 2 3-7-3 5-2 7zm6-2 3 13-3 5-3-13zm5 0 3 13-3 13-2-13zm5 0 3 4-2 14-3-5z"/><path class=c10 d="m226 253 3-15-2-15-3 14zm9-9 2 6-2 12-3-5zm8 6 3 5-2-16-3-5zm0 1 3 14-3-15-3-14zm11-3 3-15-2-15-3 15zm22-2 3 5-3 13-3-5z"/><path class=c3 d="m272 276 2-15-2-6-3 15zm-24 5 3-14-2-7-3 15z"/><path class=c18 d="m198 232 3 5-2-7-3-6zm7 7 3-14-2-15-3 14zm34-12 3 5-2 5-3-5zm6-1 3-15-2 4-3 15zm57 7 3-16-2 14-3 16z"/><path class=c24 d="m248 211 3-15-3 4-2 15zm6 11 3 13-2 5-3-13zm51-5 3-7-2 14-3 7zm0 2 2-15-2 13-3 16zm35 9 3 13-2-14-3-12zm1-2 3 4-2-6-3-4z"/><path class=c16 d="m219 235 3-15-2 13-3 15zm1-2 3-14-2 12-3 15zm22-1 3-6-2 4-3 7zm18 7 3-15-2 13-3 15zm-5 1 2 5-2 14-3-5z"/><path class=c13 d="m244 239 3-6-2-7-3 6zm-57 20 2-14-2-7-3 14zm55-14 3 13-2-7-3-13zm15 0 3-6-2 13-3 7zm51 5 3-16-2-14-3 15z"/><path class=c21 d="m246 215 2-15-2 13-3 15zm0 12 3 13-2 13-3-13zm6 0 3 13-3 14-3-14zm9-11 3 13-2-15-3-13zm9 4 3 13-2 13-3-13z"/><path class=c27 d="m231 205 3 13-2 13-3-13zm18 8 3 14-3 13-3-13zm4-10 3-7-2-7-3 7zm6-2 3 13-3-8-2-13zm13 6 3 13-2 13-3-13z"/><path class=c16 d="m229 238 3-14-2-16-3 15zm5 1 3-6-2-16-3 7zm7-5 3 5-2-7-3-5zm20 3 3-15-2 13-3 15zm9 3 3-15-2-15-3 15z"/><path class=c10 d="m231 253 3-14-2-15-3 14zm4 3 3-15-2 5-3 14zm0 1 3-15-3 14-2 14zm26 0 3 5-2-15-3-5zm0 1 2 13-2-14-3-14zm6-3 3-15-2-15-3 15z"/><path class=c24 d="m244 221 2 6-2 13-3-5zm14-10 3 5-2-15-3-5zm51 9 3-16-2-6-3 16zm30 10 3 4-2-6-3-4zm2-3 3 13-3-14-3-13z"/><path class=c25 d="m156 226 3 15-2 5-3-15zm29-14 3-14-2-7-3 14zm32-6 3 5-2-15-3-6zm13 19 3 14-2 5-3-14zm114 3 3 12-2 6-3-12z"/><path class=c34 d="m139 203 3-13-3-8-3 13zm47-1 3 14-2 5-3-15zm124 4 3 13-2 6-3-13zm21 9 3 13-3 7-3-13zm25-6 3 13-2-6-3-12z"/><path class=c29 d="m256 196 3 5-2-8-3-4zm-10 12 3 5-3 14-2-6zm67 11 3 13-2 6-3-13zm25-6 3 13-2-6-3-12zm20 10 3 13-2-14-3-12z"/><path class=c11 d="m217 248 3-15-2 13-3 14zm12 9 3 6-2 13-3-5zm20 3 3-14-2-15-3 14zm10 9 3-6-3-14-3 6zm32-4 3-7-2 15-3 6z"/><path class=c59 d="m271 63 3-9-3 10-3 9zm-205 54 3 16-2 10-3-15zm371 18 3 11-2 15-3-11zm-216 57 3-4-3 15-3 4z"/><path class=c57 d="m282 65 3 11-3 2-3-10zm-199 66 3 8-2 3-3-8zm330 16 3 3-2 7-3-3zm-164 44 3 6-2 7-3-6z"/><path class=c20 d="m177 225 3-6-2 4-3 6zm5 1 3-14-2-7-3 14zm18 1 3 6-2 4-3-5zm121 6 3-7-2 5-3 8z"/><path class=c35 d="m116 192 3-13-3 4-3 13zm197-1 3 4-3 6-3-5zm55 11 3-16-2-5-3 16zm10 11 3-8-3 7-2 8z"/><path class=c31 d="m159 214 2 15-2 12-3-15zm25-8 3 15-2 12-3-14zm151 4 3 5-2-14-3-4zm27 11 3 13-2 7-3-13zm17 5 3 4-2-13-3-4zm0 0 3 13-3-13-3-12z"/><path class=c36 d="m110 190 3 7-2 3-3-7zm26 5 3-13-2 4-3 13zm4 12 3 16-2 12-3-15zm21-6 3 15-3 13-2-15zm215 13 3 12-3-12-3-13z"/><path class=c33 d="m112 198 3 7-2-8-3-7zm203-1 3 4-2-6-3-4zm-218 8 3-12-3-17-3 13zm26 13 3-4-3 13-2 4zm257-1 3-7-2-5-3 8zm10 2 3-16-2-13-3 17z"/><path class=c40 d="m132 197 3 7-2 13-3-7zm244-6 3 4-2-13-3-4zm5 5 3-16-2 15-3 16zm45-5 3 3-2-13-3-3zm-64 11 3 4-3 15-3-4z"/><path class=c30 d="m194 198 3 14-2-7-3-14zm-64 15 3 8-2-8-3-7zm182-9 3-7-2-6-3 7zm34 3 3-16-3 14-2 16zm11 17 3 4-2-5-3-4z"/><path class=c26 d="m157 216 3-14-2 4-3 14zm24-7 3-14-2 12-3 14zm1 10 3 14-2 13-3-14zm125-5 3-16-3 6-2 15zm38 3 3-16-2 6-3 16z"/><path class=c22 d="m180 219 3-14-2 4-3 14zm43 0 3-7-2 13-3 6zm5 11 3 14-2 13-3-14zm45-5 3-7-2-15-3 7zm2-5 3 13-2 13-3-13zm86 35 3-7-2-13-3 7z"/><path class=c16 d="m224 237 3-14-3-7-3 14zm16-1 3 14-2-16-3-13zm-56 16 3-14-2-15-3 14zm63-7 3-14-3-15-3 15zm13-5 3-6-3 5-3 6zm15 0 3-7-2-15-3 7z"/><path class=c21 d="m187 238 3-5-2-15-3 5zm45-14 3-7-3-15-2 6zm6-3 3 13-2-7-3-13zm25 3 3-15-2 13-3 15zm1-2 3-7-2 13-3 7zm-103 23 3-13-2-15-3 13z"/><path class=c42 d="m90 173 3 8-2-17-3-7zm24 11 3 7-2 12-3-7zm10-10 3-5-3-8-3 5zm13 18 3 15-2 13-3-16zm235 4 3 13-2 7-3-13z"/><path class=c18 d="m197 233 3-6-2 5-3 5zm60 2 3 5-3 5-2-5zm6-1 3-15-3 5-3 15zm39 1 3-16-3 14-3 16z"/><path class=c16 d="m240 238 3 13-3-15-2-13zm4 2 3 13-2 5-3-13zm15 2 3 5-2-7-3-5zm6-2 3-15-2-6-3 15z"/><path class=c17 d="m216 228 3-6-2-16-3 6zm68 2 3-15-3 13-2 15zm-58 13 3 14-2 14-3-14zm36 3 3 13-2 5-3-13zm84 11 3-15-2-13-3 15z"/><path class=c5 d="m233 270 2-14-2 4-3 15zm13 5 3-15-2-15-3 15zm23-5 3-15-2-15-3 15zm5 1 3-15-3 5-2 15zm-49 11 3-14-3-7-2 14zm36 1 3-6-2-14-3 6z"/><path class=c8 d="m227 276 3-14-2 6-3 14zm5-13 3-6-2 13-3 6zm1-3 3-14-2-7-3 14zm41 1 3-15-2-6-3 15zm37 3 2-16-2-14-3 16z"/><path class=c14 d="m285 239 3-7-2-7-3 7zm-69 2 3-6-2 13-3 6zm5 3 3-7-3-7-2 6zm13 6 3-6-2 13-3 6zm26 1 3 13-2-6-3-13zm17-5 3-7-2-6-3 7zm34 6 3 5-2 14-3-5z"/><path class=c11 d="m219 255 3 14-2-16-3-14zm1-2 3 6-2-15-3-6zm15 25 2 6-2-15-3-6zm35-19 3 5-2 14-3-5zm14-8 3 13-2-15-3-13zm1-2 3 5-3-15-3-5zm7 15 3-16-2-5-3 15z"/><path class=c15 d="m178 243 3 15-2-16-3-15zm1-1 3 6-2-16-3-6zm40 5 3 14-3-6-3-14zm15 22 3 15-2-6-3-15zm64-4 3 13-2-5-3-14zm19-15 3-16-2 14-3 16z"/><path class=c16 d="m219 236 2-6-2 5-3 6zm20 3 3 6-2-7-3-5zm44-7 3-7-2 5-3 7zm-25 11 3 14-2-15-3-14zm0 2 3 13-3-15-3-13zm59 23 3 5-2-14-3-5z"/><path class=c23 d="m154 231 3 15-2-8-3-15zm60-19 3-6-2-16-3 7zm9 17 3 14-2 14-3-14zm64-17 3-7-2 13-3 8zm37 14 3 4-3 6-2-5zm26 21 3-7-2 15-3 7z"/><path class=c12 d="m226 268 3-5-2 13-3 6zm21-5 3 5-3 14-2-6zm6-1 3-15-3 14-3 15zm56 8 3-15-2 7-3 15zm7-16 3-15-3-6-3 15z"/><path class=c21 d="m196 224 3 6-3-16-3-6zm42-1 2 13-2-15-3-14zm18 5 3 14-2-7-3-13zm12-3 3-15-3-6-2 15zm83 22 3-16-2-5-3 16z"/><path class=c17 d="m288 232 3-16-2-6-3 15zm-57 12 3 6-2 13-3-6zm0 33 3 7-2-5-3-7zm36-32 3 14-2 14-3-14zm59 4 3-16-2-13-3 15z"/><path class=c6 d="m250 276 3-15-2 6-3 14zm16 7 3-14-2-6-3 14z"/><path class=c13 d="m203 253 2-14-2-15-3 14zm27 9 3-14-2 6-3 14zm32-15 3-7-2-6-3 6zm33 11 2-15-2 5-3 16zm7-6 3 5-2-15-3-4z"/><path class=c31 d="m113 207 3 16-2-8-3-16zm16 7 3 15-2-16-3-15zm4 3 3 16-2 4-3-16zm136-4 3 13-3 6-2-14zm59 9 3 13-2 14-3-12z"/><path class=c32 d="m192 191 3 14-2 4-3-14zm38 4 3 5-2 5-3-6zm41 2 3 5-2 5-3-5zm39 1 3-7-3 5-3 8zm-182 16 3 7-3-7-2-7z"/><path class=c25 d="m153 223 2 15-2-16-3-15zm108 4 3 5-2 14-3-6zm-121 14 3-12-3-7-2 12zm207 2 3 4-2 15-3-4zm7-3 2-16-2 7-3 16z"/><path class=c18 d="m177 236 3 15-2-8-3-14zm20-2 2-14-2 13-3 14zm44 1 3 5-2 5-3-6zm60 1 3-7-2 6-3 7zm18 3 3-8-3-6-3 8z"/><path class=c16 d="m282 234 3 5-2-7-3-4zm-124 24 3-13-2-15-3 13zm80-17 3-6-2 4-3 7zm19 5 3 5-2-6-3-6zm46-4 3-7-2-6-3 7z"/><path class=c19 d="m196 236 3-14-2 12-3 14zm20-5 3 5-3 5-3-6zm17 8 3 6-2 5-3-6zm53-14 3-15-2 5-3 15zm20 10 3-15-2-6-3 15zm-47 5 3 6-2 5-3-5z"/><path class=c20 d="m177 226 3 6-3-7-3-7zm121 6 3 4-2 6-3-5zm10 7 3 13-2 14-3-12zm6-1 3 5-3 14-3-5zm-83 3 3 6-2-14-3-6z"/><path class=c9 d="m214 254 3-6-2 12-3 6zm36 14 3-6-3 14-3 6zm12 10 3 6-2 5-3-5zm11-14 3-7-2 14-3 7zm34 13 3-15-2-6-3 15z"/><path class=c18 d="m237 233 3 5-2-15-3-6zm63 5 3 4-2-6-3-4zm-89 3 3-6-3-15-3 5zm61 35 3 6-2-5-3-6zm40-20 3-15-3 14-3 15zm5-13 2-8-2 15-3 7z"/><path class=c21 d="m175 229 3 14-2-16-3-14zm1-2 3 15-2-16-3-14zm65 1 3-7-3 14-3 6zm63 1 3-15-2 5-3 16zm15 6 3-15-2 14-3 16zm1-1 3-15-2 14-3 15z"/><path class=c16 d="m282 236 3 13-3-15-3-13zm-45 8 3-15-2 13-3 15zm1-2 3-14-3 13-3 15zm3 3 3-14-2-7-3 14zm68 17 3-6-3 14-3 7z"/><path class=c28 d="m138 234 2-12-2-15-3 12zm45-29 3-14-2 4-3 14zm24 19 3 15-2 5-3-15zm60-6 2 14-2 13-3-13zm36 4 3 4-3 15-3-5z"/><path class=c34 d="m111 199 3 15-2-16-3-16zm0 0 3 16-3-16-3-16zm45 8 3 7-3 12-3-6zm25-7 3 6-2 13-3-6zm5 2 3 7-3-7-3-7zm119 5 3 5-2 14-3-4zm39 2 3 4-3 15-2-5z"/><path class=c27 d="m174 212 3 14-3-8-3-14zm11 11 3-5-2-16-3 6zm50-16 3 14-2-7-3-14zm36 3 3-7-3-6-3 7zm52 9 3-8-2 15-3 7zm-185 21 3-4-2 13-3 4z"/><path class=c24 d="m191 214 2-6-2-15-3 5zm8 6 3-6-2 13-3 6zm36-3 3 6-3-16-3-5zm31 2 2-15-2 5-3 15zm31 7 3 13-3-14-3-13zm67 22 3-16-2-12-3 15z"/><path class=c22 d="m222 220 3-14-2 13-3 14zm33 10 3 13-2-15-3-13zm9 2 3 13-2 14-3-13zm15-11 3 13-2-6-3-13zm8-6 3-16-3 13-3 16zm37 20 3-15-2-6-3 15z"/><path class=c29 d="m161 231 3 7-2 14-3-7zm18-18 3 6-2 13-3-7zm53-11 3 5-2-7-3-5zm42 1 3 5-3-6-3-5zm64 12 3 12-3-14-2-12z"/><path class=c14 d="m196 254 3 14-2-15-3-14zm33 9 3-14-2 13-3 14zm54-19 3 13-2-6-3-13zm11 14 3-15-2 15-3 15zm29-2 3-7-2-14-3 7z"/><path class=c11 d="m228 268 3-14-3-7-3 14zm10-8 3 6-2-15-3-5zm6 0 3-15-3-14-3 14zm9 1 3-14-2 5-3 15zm24-5 3-15-3 5-3 15z"/><path class=c46 d="m69 155 3-4-2-17-3 4zm16 6 3-4-3-17-2 4zm279 25 3 5-2 15-3-4zm8-13 3 4-3 6-3-3z"/><path class=c25 d="m152 223 3 15-2-15-3-15zm133-3 3 5-3 14-2-5zm21 6 2 13-2 15-3-13zm47 14 3-15-2 15-3 15z"/><path class=c26 d="m151 224 3 7-2-8-3-6zm42-16 3 6-2-16-3-5zm55 21 3 14-2 6-3-14zm63-4 3 13-3 14-3-13z"/><path class=c8 d="m217 275 3 6-3-15-3-6zm41 3 3 5-2-14-3-5zm6-1 3-14-3-14-2 14zm4 0 3-14-2 6-3 14z"/><path class=c27 d="m173 213 3 14-2-15-3-15zm80 2 3 13-2-6-3-14zm89 8 2 5-2 6-3-4zm12 8 3-7-2-5-3 7z"/><path class=c23 d="m177 225 3 7-3 4-2-6zm111 0 3 13-3 14-3-13zm-153 22 3-13-3-15-3 13zm24-2 3 7-2 13-3-7z"/><path class=c61 d="m277 57 2 11-2 10-3-11zm-217 57 3-4-2 10-3 5zm381 18 3 11-2-4-3-11z"/><path class=c62 d="m274 54 3 3-3 10-3-3zm-212 58 3-5-2 3-3 4zm1-2 3 7-2 11-3-8zm376 18 3 11-2 7-3-11z"/><path class=c54 d="m270 77 3-17-2 3-3 17zm14-3 3 11-2-9-3-11zm-222 59 3-12-3-9-2 12zm23 7 3 7-2-8-3-8zm339 0 2 11-2-5-3-11z"/><path class=c51 d="m272 86 3-17-2-9-3 17zm123 69 3 3-2 7-3-4zm28-4 3 3-2-14-3-2zm6 5 3-9-2 15-3 9zm17 2 3 11-2-13-3-11z"/><path class=c44 d="m274 103 3-17-2-17-3 17zm93 88 3 12-3 16-2-13zm7-13 3 4-2-5-3-4zm51-2 2-8-2 7-3 8z"/><path class=c41 d="m114 154 3-5-3-17-3 5zm-48 14 3-13-2-17-3 12zm73 14 3-5-2 4-3 5zm258 0 2-9-2-13-3 8z"/><path class=c60 d="m273 60 3-9-2 3-3 9zm-205 54 3 16-2 3-3-16zm366 18 3 3-2 15-3-3z"/><path class=c52 d="m283 80 3 11-2-17-3-11zm-216 58 3-4-2-18-3 5zm351 9 3-9-3-5-3 8zm-29 18 3 4-2 7-3-4z"/><path class=c48 d="m64 150 3-12-2-17-3 12zm255 46 3 5-2 7-3-5zm70-18 3-8-3-5-2 8zm25-5 3-9-2-12-3 8zm21-5 3-17-2-13-3 17z"/><path class=c53 d="m299 87 3 11-3-9-2-11zm-242 50 3-13-3 3-3 12zm386 18 3 3-2-13-3-3z"/><path class=c16 d="m281 238 3 13-2-15-3-13zm-45 7 3-7-2 6-3 6zm59 3 3-6-2-6-3 7z"/><path class=c17 d="m218 238 3 6-2-8-3-5zm67 1 3 13-2 5-3-13zm-69 2 3 14-2-16-3-14zm20 5 3 5-3-6-3-6z"/><path class=c7 d="m205 269 3-14-3-16-2 14zm4 2 3-14-2 5-3 14zm78 2 3-15-2-15-3 15z"/><path class=c13 d="m197 253 3 6-3-15-3-6zm9 4 2 6-2 13-3-6zm56 6 2-14-2-15-3 15zm40-10 3 13-3-14-2-13z"/><path class=c19 d="m195 237 3-6-2 5-3 5zm26-7 3-14-2 4-3 15zm-18 13 3 14-3 13-3-14zm100-2 3 13-2 5-3-13zm18 1 3-7-2-6-3 8zm20 9 3-7-2-13-3 7z"/><path class=c17 d="m217 239 3 14-2-15-3-14zm-1 3 3 5-3-6-2-6zm5 1 3 14-2 4-3-14zm14 4 3 13-2-14-3-14zm66-1 3 13-2-6-3-13z"/><path class=c12 d="m204 273 3-13-3 5-3 14zm12-6 3 14-2-6-3-15zm21-6 3 14-2-15-3-13zm20 9 3 14-2-6-3-14zm11-1 2-6-2 14-3 7z"/><path class=c22 d="m192 231 3 6-2 4-3-6zm23-7 3 14-2-7-3-14zm64-1 3 13-3-15-2-13zm65 21 3-15-2-14-3 16z"/><path class=c18 d="m200 238 3-14-2-7-3 14zm100 1 2 13-2-14-3-13zm-105 7 3 15-2-7-3-15zm49 3 3 14-2 13-3-14zm68 6 3-15-2 7-3 15z"/><path class=c8 d="m223 275 2-14-2-14-3 14zm14 9 3-6-2-14-3 5zm6 0 3-14-3-6-3 14z"/><path class=c11 d="m208 263 3-5-2 13-3 5zm9 3 3-5-2-15-3 5zm22 12 3 6-2 6-3-6zm37-21 3-15-2 14-3 15zm29 14 3-15-2-13-3 15z"/><path class=c15 d="m218 262 3 14-2 5-3-14zm5 0 3 6-2 14-3-6zm13-8 3 14-2-7-3-14zm29 10 3 5-3 15-3-6zm10-14 3-6-2 13-3 7zm35 12 3-15-2-6-3 15z"/><path class=c10 d="m196 277 3-5-2-15-3 6zm14-15 3-14-2-7-3 14zm62-7 3-15-2-15-3 15zm10 10 3-7-2-14-3 7z"/><path class=c21 d="m175 230 2 6-2-7-3-7zm7 7 3-14-2-15-3 13zm137 0 3-8-3 6-2 8zm-57 13 3 14-3 14-3-14z"/><path class=c20 d="m180 232 3 14-3 5-3-15zm34 3 2 6-2-16-3-5zm4 2 3 6-2 4-3-5zm98 22 3 13-2-4-3-14z"/><path class=c16 d="m280 239 3 5-2-6-3-5zm-101 11 3-13-2-16-3 14zm18-6 3-6-2-7-3 6zm123 7 3 5-2-14-3-4z"/><path class=c23 d="m214 225 3 14-2-15-3-14zm19 7 3 14-3-7-3-14zm36 0 3 13-2 14-3-14zm47 0 3 5-2 6-3-5zm-108 37 3 7-2-5-3-7z"/><path class=c19 d="m194 238 3 6-2-7-3-6zm89-4 2 5-2 5-3-5zm-94 11 3-5-2-7-3 5zm19-1 3 6-3 13-2-6zm91-4 3 13-2-14-3-13z"/><path class=c24 d="m199 222 3-14-3 12-2 14zm47 13 3 14-2 14-3-14zm30-17 3 5-2-15-3-5zm21 7 3 13-2-6-3-13zm29 12 3 12-2 15-3-13z"/><path class=c25 d="m205 229 3 15-2 13-3-14zm15-5 3 5-2 14-3-6zm52 2 3 14-3 5-3-13zm67 5 3-8-3 7-3 7z"/><path class=c13 d="m198 272 3 6-3 6-2-7zm22-11 3-14-2-15-3 14zm26 9 2-14-2-6-3 14zm21-7 3-15-3-14-3 15zm-48 17 2-5-2 6-3 5z"/><path class=c31 d="m150 207 3 15-2-8-3-15zm114 6 3 5-3 14-3-5zm44-1 3 13-3 14-2-13zm33 4 3-7-2 14-3 8z"/><path class=c21 d="m174 231 3-6-2 5-3 5zm24 0 3-14-2 5-3 14zm120 7 3 4-2-5-3-5zm-98 10 3 14-2 14-3-14zm86-5 3-16-3-13-3 15z"/><path class=c22 d="m172 232 3-13-2 13-3 13zm1 0 3-14-2 13-3 13zm144 6 3 13-2-13-3-13zm0 1 3 13-3-14-3-13zm-6 2 3-7-3-13-2 6z"/><path class=c28 d="m290 199 3-7-3 13-3 7zm-137 21 3 6-2 5-3-7zm44 2 3 6-2 13-3-6zm15-12 3 14-2-7-3-14z"/><path class=c14 d="m204 265 3-14-2-6-3 14zm35-14 2-6-2-7-3 7zm15 1 3-6-2-7-3 7zm34 8 3 5-2 14-3-5z"/><path class=c18 d="m234 247 3 14-2-14-3-14zm5 1 3 14-3 6-3-14zm25 1 3-15-2-14-3 14zm42 8 3 5-3 15-2-5zm18-6 3 13-2 7-3-13z"/><path class=c27 d="m176 218 3-5-2 12-3 6zm49-12 3-7-2 13-3 7zm39 30 3 13-2 15-3-14zm51-11 3 13-2-6-3-13zm7-5 3-16-2 15-3 15z"/><path class=c17 d="m256 247 3-7-2 6-3 6zm7 21 3-14-2-5-3 14zm9-23 3 5-2 14-3-5zm8-4 3-7-3 5-3 7zm40 11 2 13-2-14-3-13z"/><path class=c19 d="m194 239 3 14-3-15-2-15zm61 0 3 6-3-15-3-6zm23-6 3 5-2-15-3-5zm-8 15 3-6-3-14-3 6zm28-6 3 4-2-6-3-4z"/><path class=c22 d="m177 235 3-14-2-7-3 14zm50-12 3-15-3-7-3 15zm13 6 3-15-2 14-3 14zm42-2 3-7-2 14-3 7zm18 9 3 5-2 5-3-4zm-144 7 3-13-3-15-2 13z"/><path class=c20 d="m193 239 3 15-2-15-3-15zm-40 9 3-5-2-15-3 4zm45-7 2 15-2 5-3-15zm115 6 3-7-2-6-3 7zm15 9 3-15-2-5-3 15z"/><path class=c25 d="m192 223 2 15-2-7-3-15zm19-3 3 5-2-15-3-6zm78-10 3-16-2 5-3 16zm48 22 3-15-2 14-3 16zm1-1 3-15-2 15-3 15z"/><path class=c24 d="m224 216 3-15-2 5-3 14zm17 19 3 14-2 13-3-14zm81-6 3-15-3 6-3 15zm17 9 3-7-3-5-2 7zm-185 4 3 16-3 5-3-16z"/><path class=c33 d="m171 197 3 15-3-8-2-15zm36 0 3 6-2 4-3-5zm-92 6 3 16-2 4-3-16zm125 12 2-6-2 6-3 6zm85-11 3-7-2 14-3 8z"/><path class=c30 d="m156 229 3 16-2 13-3-16zm14-22 3 6-2-16-3-6zm96 22 3 14-2 6-3-13zm57-5 3 13-2 14-3-13zm2-10 2-16-2 6-3 16zm19 16 3 13-2 15-3-13z"/><path class=c31 d="m150 208 3 15-3-16-3-15zm59-4 3 6-2-7-3-6zm13 6 3 6-2 13-3-5zm6 1 2 14-2 5-3-14zm112 6 3-16-2 15-3 15z"/><path class=c35 d="m168 191 3 6-2-8-3-6zm-58 9 3 7-2-8-3-7zm255 20 3-16-3-13-3 16zm12-7 3 4-2-4-3-4z"/><path class=c43 d="m369 181 3-8-3 7-3 7zm58 0 3-9-3-4-2 8zm10 0 3-17-2-13-3 17zm-226 27 3 7-2 14-3-7z"/><path class=c49 d="m114 132 3 6-2-9-3-6zm58 60 3 7-2 6-3-7zm194-13 3 5-2 7-3-5zm31-19 3 3-2-5-3-3z"/><path class=c37 d="m127 198 3 15-2-7-3-16zm246 1 3-8-2-13-3 8zm-200 9 3-5-3 13-2 5zm208-3 3-16-3 7-3 16z"/><path class=c46 d="m384 180 3-8-2 16-3 7zm10-12 3-8-2-5-3 8zm28 5 3 3-3 7-3-3zm8-1 3-17-3-4-3 17zm-216 30 2 7-2 6-3-7z"/><path class=c29 d="m202 208 3-6-3 12-3 6zm25-7 3-6-2 4-3 7zm24 7 3 14-2 5-3-14zm101 24 3-7-2 15-3 7z"/><path class=c23 d="m258 233 3-6-2 13-3 7zm33-17 3-15-2-7-3 16zm30 22 3 13-2 7-3-13zm13 1 3-7-2 15-3 7z"/><path class=c28 d="m225 216 3 14-2 13-3-14zm65-5 3 13-2 14-3-13zm4-10 3-8-2-6-3 7zm33 19 3-16-3-6-2 16z"/><path class=c18 d="m223 247 3-14-2-15-3 14zm5 0 3-6-2-14-3 6zm6 1 2 6-2-7-3-6zm25 1 3-15-2-6-3 15zm34-6 3-7-2-15-3 7z"/><path class=c16 d="m231 254 3-6-3-7-3 6zm21-8 3-7-3-15-2 7zm51 12 3-15-3-14-3 15zm5-2 3-15-2-14-3 16zm15 10 3-15-3-13-2 15z"/><path class=c24 d="m117 236 3-12-3-16-2 12zm86-12 3-14-2-7-3 14zm23 9 3-6-2-15-3 6zm26-9 3 6-2-15-3-5zm56 18 3 6-2 14-3-5z"/><path class=c39 d="m158 194 3 7-2 13-3-7zm243 3 3-9-2 7-3 9zm-73 5 3 13-3 7-2-13zm42 1 3 13-3 15-3-12z"/><path class=c34 d="m130 210 3 7-2 4-3-7zm17-9 3 7-3-16-3-7zm67 18 3-6-2 14-3 5zm158 2 3-7-2-4-3 7zm31-11 3 4-3-13-3-3z"/><path class=c27 d="m129 236 3-4-2-16-3 5zm30-6 3-13-3-15-3 13zm71-22 2-6-2-7-3 6zm84 17 3 13-2-13-3-13zm28 6 3-16-3-5-3 16z"/><path class=c36 d="m183 195 3 7-2 4-3-6zm166-4 3-8-3 14-3 8zm-23 18 2 13-2 15-3-13zm15 8 3 13-2 15-3-13zm35-3 3 12-2-13-3-12z"/><path class=c32 d="m191 193 3 5-2-7-3-6zm-8 15 3-6-3-7-2 6zm1 12 3 15-3 5-3-15zm128-8 3 13-2-6-3-13zm8 7 3 5-2 14-3-5zm28-18 3-16-2 6-3 16z"/><path class=c31 d="m202 215 3 14-2 14-3-15zm4 1 3 15-2-7-3-14zm81-9 3 4-2 14-3-5zm5-1 3 13-2 5-3-13zm58 0 3-16-2-5-3 16z"/><path class=c38 d="m349 198 3 13-2 14-3-12zm-206 5 2 15-2 5-3-16zm17 8 3 15-2 5-3-15zm163-7 3 5-3 15-3-5z"/><path class=c40 d="m109 182 3 16-2-8-3-16zm237 12 3 4-2 15-3-4zm79-2 3 11-2-12-3-12zm-51 9 3 12-2-4-3-13z"/><path class=c37 d="m112 196 3 7-2 4-3-7zm14 2 3 16-2-16-3-15zm227-8 3-8-2-5-3 8zm-10 11 3-7-2 15-3 7zm60 0 3-8-2-5-3 9z"/><path class=c45 d="m73 163 3-13-2 11-3 13zm18 1 3 16-3-17-3-16zm43 20 3 8-2 12-3-7zm271-5 3-17-3 16-2 16z"/><path class=c42 d="m74 173 3-4-3-8-2 4zm297 13 3-8-2-5-3 8zm15 8 3-16-2-5-3 16zm18-6 3-16-2 7-3 16zm15 2 3-8-2-5-3 8z"/><path class=c33 d="m127 214 3-4-2 4-3 5zm8 5 3-12-2-16-3 13zm120 3 3-6-2 14-3 6zm52 0 3 14-2 6-3-13zm38-7 3-15-3-5-3 15z"/><path class=c35 d="m327 198 3-7-2 6-3 7zm-201 9 2 7-2-16-3-7zm32 9 3 15-2 14-3-16zm220 2 3 13-2-5-3-12zm24-7 3 12-2-13-3-12z"/><path class=c26 d="m150 224 3-4-2 4-3 5zm50 4 3 15-3 13-2-15zm1-11 3-14-2 5-3 14zm136 16 2-7-2 6-3 7zm-179 14 2-12-2-6-3 12z"/><path class=c22 d="m250 231 2-7-2-14-3 6zm61 17 3-7-2 15-3 6zm15 3 3-15-3-13-3 15zm12-4 3 4-2-13-3-5z"/><path class=c30 d="m115 220 2-12-2-16-3 13zm190 9 3 13-2 15-3-13zm6-8 3 4-2-13-3-5zm56 11 3-15-2-13-3 16z"/><path class=c28 d="m149 217 3 6-2-15-3-7zm185 11 3 5-3 6-3-4zm5-2 3-16-2 7-3 15zm8 3 3-16-2-13-3 15z"/><path class=c34 d="m126 214 3-13-2 13-3 13zm73-5 3 6-2 13-3-6zm131-5 3-7-3-6-3 7zm12 6 3-15-2 6-3 16z"/><path class=c51 d="m428 158 3-17-2 15-3 17zm17 1 3 3-2-4-3-3zm-37 3 3-8-3 15-3 9z"/><path class=c39 d="m91 184 3-13-3 12-2 12zm262 13 3 12-2-5-3-12zm47 1 3 3-2-4-3-4z"/><path class=c44 d="m94 171 3-4-3 11-3 5zm246 26 3 4-2 16-3-5zm58-11 2 12-2-5-3-12zm26-8 3 3-2-5-3-3z"/><path class=c47 d="m117 172 3 7-3 12-3-7zm252 12 3 12-2 7-3-12zm58-16 3-17-2 7-3 17z"/><path class=c40 d="m90 184 3-12-2 12-3 12zm18-1 3 16-2-17-3-15zm237 12 3-8-2 7-3 7zm23 9 3-7-3-13-3 7z"/><path class=c46 d="m106 167 3 15-2-8-3-15zm16 8 3 15-3 5-2-16zm287 2 3-17-2-5-3 17zm11 0 2 3-2-12-3-4z"/><path class=c38 d="m129 201 3-4-2 13-3 4zm209 11 3 5-2 15-3-5zm35-2 3 4-3-13-2-4zm28-6 3 12-2-5-3-12z"/><path class=c39 d="m94 189 3-13-2-8-3 13zm26 6 3-4-2-16-3 5zm280 3 3 12-3-12-2-12z"/><path class=c57 d="m60 124 2-12-2 2-3 13zm371 17 3-9-2 15-3 9zm10 1 3 3-3-13-3-3z"/><path class=c54 d="m296 84 3 3-2-9-3-3zm-226 50 3 7-2-17-3-8zm360 17 3-17-2 7-3 17zm8 0 3-9-3-13-2 9z"/><path class=c12 d="m212 257 3-14-2 5-3 14zm73 1 3-15-2-14-3 15zm-66 23 3-14-2-6-3 14z"/><path class=c13 d="m211 258 3-14-2 13-3 14zm14 3 3-14-2-14-3 14zm65-3 3-15-2-15-3 15zm10 6 3-6-3-14-2 6z"/><path class=c23 d="m292 240 3 5-2 6-3-5zm38 9 3-15-2 7-3 15zm5 9 3 5-3-12-2-6zm14-16 3-16-2-13-3 16z"/><path class=c27 d="m150 225 3-13-3 12-2 14zm73 9 3 15-3 13-3-14zm100 4 3-15-2-14-3 15zm6-2 3-7-3-13-3 7zm5 13 3 14-2-5-3-13z"/><path class=c17 d="m222 267 3-13-2-6-3 13zm34-20 2-14-2 14-3 14zm22-3 3-15-2 13-3 15zm1-2 3-15-2 14-3 15z"/><path class=c15 d="m176 255 3-5-2-15-3 5zm37-7 3-6-2-7-3 6zm67 3 3-7-3-6-2 7zm44 20 3-7-2 7-3 7z"/><path class=c18 d="m177 251 3 15-2 5-3-15zm37-7 3-14-3 14-3 14zm1-1 3-6-2 5-3 6zm14 12 2-6-2 14-3 5zm26-7 3-14-2 13-3 15zm28-4 3-15-3-6-3 15zm5-1 3-15-2-14-3 15zm39 21 3-15-2 7-3 15z"/><path class=c26 d="m146 230 3-5-2 13-3 4zm141 2 3 14-2 14-3-13zm49 1 3 5-2-5-3-5zm-5 8 3-7-2-5-3 7z"/><path class=c29 d="m132 232 3-13-2-15-3 12zm93-3 3 14-2 6-3-15zm69-17 3 13-2-6-3-13zm45 20 3 13-2 7-3-13zm30 5 3-16-2-4-3 15z"/><path class=c24 d="m291 228 3-7-3-14-2 7zm12 16 3 13-2 15-3-14zm26 5 3-15-2 15-3 15zm13-4 3 13-2 7-3-13z"/><path class=c21 d="m296 236 3 4-2-14-3-5zm-60 7 3 5-3 6-2-6zm69 18 2-14-2-5-3 14zm14-16 3 13-2-6-3-13z"/><path class=c23 d="m217 229 3-5-2 13-3 6zm15 4 3 14-2-15-3-14zm84 7 3 5-2-6-3-5zm25 17 3-15-3-13-3 15z"/><path class=c19 d="m239 238 3-14-2 5-3 15zm-21 8 3-14-2-7-3 14zm15 2 3-5-2 5-3 6zm52-1 3 13-2 14-3-13zm12-4 3-7-2 6-3 6z"/><path class=c20 d="m192 240 3 6-2-7-3-6zm34 9 3 6-3 13-3-6zm5 0 3-14-2 14-3 14zm59-3 3 5-2 14-3-5zm6-2 3-15-2 14-3 15z"/><path class=c18 d="m173 249 3 6-2-15-3-7zm41-5 3-15-2 14-3 14zm75 17 3-15-2 6-3 15zm4-10 3-7-2 14-3 7z"/><path class=c11 d="m181 265 3-13-2-15-3 13zm18 7 3-13-2-15-3 13zm70-3 3-15-2-6-3 15z"/><path class=c14 d="m221 275 3-14-2 6-3 14zm50-12 3-15-2 6-3 15zm49 10 3-7-2-13-3 6z"/><path class=c19 d="m213 245 3-6-2 5-3 6zm8 21 3-5-3 14-2 5zm11-17 3-14-2 13-3 14zm65-6 3-15-3 15-2 15z"/><path class=c43 d="m124 183 3 15-2-8-3-15zm18-6 3 7-2 4-3-7zm242 12 3-16-3 7-3 16z"/><path class=c40 d="m89 185 3-4-2 3-3 5zm55 0 3 7-2-8-3-7zm255 14 3 12-2-13-3-12zm-50 8 2 13-2 7-3-13z"/><path class=c35 d="m109 201 3-5-2 4-3 4zm8 7 3-13-2-15-3 12zm9 6 3-13-3 13-3 13z"/><path class=c37 d="m92 193 2-4-2-8-3 4zm16-1 3 7-3-16-3-7zm238 22 3 13-2 16-3-13zm29 0 3 4-2-4-3-4z"/><path class=c41 d="m123 191 3 7-2-15-3-8zm228 1 3 12-2 7-3-13zm22 9 3 13-2-13-3-13z"/><path class=c36 d="m109 201 2-13-2 13-3 12zm198 0 3 5-2 6-3-5zm46 5 3 4-3-13-3-5zm17 11 3-7-2-13-3 7z"/><path class=c35 d="m105 205 3-4-2 12-3 5zm20 8 3-4-2 5-3 4zm184-6 3 5-2-6-3-5z"/><path class=c28 d="m149 225 3-13-2 13-3 13zm81-7 3 14-3-7-2-14zm60 8 2 14-2 6-3-14z"/><path class=c26 d="m229 227 3 6-2-15-3-6zm9 2 3 6-2 13-3-5zm56-8 3 5-3-14-3-5zm24 12 3 5-2 7-3-5z"/><path class=c15 d="m238 264 3-14-2-14-3 14zm49 3 3-15-3-5-3 15zm38 4 3-15-2-5-3 15z"/><path class=c31 d="m204 203 3-6-2 5-3 6zm122 32 3 5-2 16-3-6zm23-8 3 5-2 15-3-4zm6-8 3 4-2-13-3-4z"/><path class=c22 d="m200 244 3-14-2-15-3 14zm127 12 2-7-2 15-3 7zm10-9 3 13-2-13-3-13zm6 14 3-15-2-4-3 15z"/><path class=c33 d="m123 211 3-4-3-16-3 4zm102-6 3 6-3 5-3-6zm64-4 3 5-2 5-3-4zm70 16 3 4-2 7-3-4z"/><path class=c27 d="m243 214 3-6-2 13-3 7zm66 13 2-6-2-14-3 7zm26 7 3 13-2-14-3-13zm11 12 3-15-3-4-2 15z"/><path class=c24 d="m179 238 3 15-2 13-3-15zm56-3 3-6-2 14-3 5zm7-11 3-15-2 5-3 15zm72 10 3 5-3-14-3-4zm10 16 3 6-3 15-3-5z"/><path class=c23 d="m172 233 3-5-3 4-2 5zm23 2 3 6-3 5-3-6zm-11 5 3 6-2 13-3-6zm131 0 3-7-2 7-3 7z"/><path class=c20 d="m174 240 3-5-2-7-3 5zm57 9 3-6-3 6-2 6zm5 1 3-14-2-7-3 14zm59-5 3-7-2 6-3 7z"/><path class=c16 d="m177 271 3-5-2 5-3 5zm25-12 3-14-2-15-3 14zm9-9 3-6-3 14-3 5zm21 13 3 6-2-14-3-6zm64-4 3 14-2-14-3-13zm1 0 3 5-2-14-3-5z"/><path class=c30 d="m176 223 3 15-2 13-3-15zm5 2 3 15-2 13-3-15zm136 1 3-7-2 14-3 7zm39-2 3-7-2 7-3 7z"/><path class=c32 d="m153 212 3-5-3 13-3 4zm95-9 3 5-2 5-3-5zm85 17 3 13-2-5-3-13zm22 5 3-16-2 16-3 15z"/><path class=c29 d="m206 210 3-6-2-7-3 6zm18 8 3-6-2-7-3 6zm26-8 3 5-2-7-3-5zm102 16 3-7-2-13-3 7zm10 9 3-15-3-13-2 15z"/><path class=c18 d="m173 249 3 15-3-15-3-15zm9 4 3 6-2 14-3-7zm119 5 3 14-3 6-3-13zm20 8 3 5-2 7-3-6z"/><path class=c17 d="m180 266 3-13-2 5-3 13zm17-9 3-13-2-15-3 14zm18-6 3-5-2-7-3 6zm63-6 2-7-2 6-3 6z"/><path class=c21 d="m216 239 3-14-2 5-3 14zm51 10 3 6-2 14-3-5zm28-4 3 5-3-5-3-5zm26 8 2-15-2-14-3 15z"/><path class=c31 d="m199 229 3 15-2 14-3-15zm28-17 3 6-2-7-3-6zm64-5 3 5-2-6-3-5zm65 18 3-16-3 15-2 16z"/><path class=c26 d="m169 226 3 7-2 4-3-6zm22-2 3 15-2-16-3-14zm146 15 3 13-3-5-3-13zm22 3 3-7-2-13-3 8z"/><path class=c24 d="m166 239 3-5-2-7-3 5zm4-5 3 15-3-15-3-15zm47-4 2-14-2 13-3 15zm98 11 2-15-2 14-3 15z"/><path class=c48 d="m298 101 3 3-2-17-3-3zm109 71 3-17-2 7-3 17zm-178 33 3 7-2 14-3-6z"/><path class=c28 d="m148 225 3-4-2 4-3 5zm186 9 3 13-2-13-3-13zm-5 6 3-6-3 15-2 7z"/><path class=c23 d="m171 233 3 7-2-7-3-7zm110-4 3-16-2 14-3 15zm-131 11 3 8-2-16-3-7zm78 3 3 6-2 6-3-6z"/><path class=c21 d="m192 240 3-5-3 5-3 5zm38 9 3 6-2-6-3-6zm64-3 3 13-2-14-3-13zm44 17 3-6-3-13-3 7z"/><path class=c19 d="m181 258 3-13-2-6-3 13zm43 3 3-13-2 6-3 13zm94-2 3-6-3-14-3 7zm22 9 3-7-2-4-3 6z"/><path class=c22 d="m244 231 3-15-2-7-3 15zm-79 16 3-13-3 13-3 13zm7-6 3 15-2-7-3-15zm53 13 3-6-2-6-3 6zm4-5 3 14-2-14-3-14z"/><path class=c27 d="m154 228 2-13-2-7-3 13zm21-9 3-14-2 13-3 14zm43 14 2 15-2 14-3-15zm9 2 3 14-2-6-3-14zm65-3 3 13-3-5-2-14z"/><path class=c24 d="m170 234 3 15-2-16-3-15zm4 2 3 15-2 5-3-15zm1-8 3-14-3 5-3 13zm-26 12 3 16-2-16-3-15zm165 1 3-15-2 15-3 15z"/><path class=c25 d="m169 234 3 7-2-7-3-7zm65 1 3-14-2 14-3 14zm48-2 3 14-2 14-3-14zm18-5 3-6-3 14-3 7zm-77 24 3-6-2 15-3 5zm90-11 3-7-2 7-3 7z"/><path class=c30 d="m168 218 3 15-2-7-3-15zm47 9 3 6-3 14-3-6zm28-6 3 14-2 14-3-14zm74 5 3-15-3 15-2 15zm4 11 3 13-3 16-3-14z"/><path class=c20 d="m280 238 3-15-2 6-3 15zm-128 26 3-4-3-6-3 4zm35-18 3-5-2 13-3 5zm37 15 3-14-3 14-3 14zm71-10 3 14-2-6-3-13z"/><path class=c28 d="m226 234 3 15-2-14-3-15zm53-6 3 5-2 14-3-5zm5-15 3-6-2 13-3 7zm50 21 3 5-3-5-2-5z"/><path class=c32 d="m178 205 3-5-2 13-3 5zm62 10 3 6-2 14-3-6zm5 0 3 14-2 6-3-14zm109 10 3-7-2 7-3 7z"/><path class=c15 d="m173 269 3-4-2-15-3 5zm5 2 3-13-2-6-3 13zm16-8 3-6-2-14-3 5zm49 1 3-14-2-14-3 14z"/><path class=c23 d="m190 233 3 6-2-15-3-6zm96-4 3-15-3-6-3 15zm-132 30 3-4-2 5-3 4zm75-10 3 14-3-14-3-15z"/><path class=c27 d="m171 229 3 7-2 5-3-7zm9-8 3-13-2-7-3 13zm13 7 3-14-2 13-3 14zm1-1 3-5-2 13-3 5zm97 5 3 14-2-14-3-14z"/><path class=c21 d="m171 255 3-5-3-15-3 5zm9 2 2-5-2 14-3 5zm11-16 3-14-2 13-3 14zm40 14 3 14-2-6-3-14zm69-11 3-15-2-6-3 15zm15 10 3 5-3-13-3-5z"/><path class=c22 d="m155 260 3-13-3-6-3 13zm35-19 3-13-2 13-3 13zm5 2 3-14-3-7-3 14zm39 0 3-14-3 6-3 14zm59 3 3 13-2-13-3-14z"/><path class=c34 d="m202 224 2 15-2 5-3-15zm85-11 3 13-3 6-3-13zm41 15 3 5-2 7-3-5zm23-8 3 5-2 7-3-5z"/><path class=c33 d="m152 212 3-13-2 13-3 13zm21 4 3 7-2 13-3-7zm159 5 3 13-2-14-3-13zm22 4 3 5-3-5-3-5z"/><path class=c31 d="m145 218 3 7-2 5-3-7zm44-9 3 14-3-7-3-14zm95 10 3 13-2 15-3-14zm18-5 3-7-2 15-3 6zm34 13 3 5-2 7-3-5z"/><path class=c37 d="m232 219 3-5-3 14-2 6zm98-12 3 13-2-5-3-13zm28 2 3-15-2 15-3 16zm1 0 3-7-3 15-3 7z"/><path class=c29 d="m148 225 3 7-3-7-3-7zm71-9 3-6-2 14-3 5zm26-7 3-6-2 5-3 6zm110 29 3 13-2-13-3-13z"/><path class=c30 d="m147 225 3 15-2-15-3-15zm20-6 3 15-2-16-3-15zm11-5 3-13-3 4-3 14zm59 7 3-6-2 14-3 6zm95 8 2 5-2-13-3-5z"/><path class=c28 d="m142 236 3-12-2 5-3 12zm7-4 2 15-2-7-3-15zm39-14 3 6-2-15-3-7zm49 11 3-14-3 6-3 14zm119 9 3 4-2-12-3-5zm-18 6 3-15-2-13-3 15z"/><path class=c26 d="m151 232 3-4-3-7-3 4zm13 6 3-4-2 13-3 5zm55-13 3-14-3 5-2 14zm20 11 3-15-2-6-3 14zm79 3 3-15-2-5-3 15z"/><path class=c35 d="m145 210 3 15-3-7-2-15zm36-9 2-6-2 5-3 5zm36 12 3 7-2 13-3-6zm25-4 3 6-2 6-3-6zm87 7 3 5-2-14-3-4zm6 3 3-7-2 15-3 7z"/><path class=c31 d="m146 225 3 15-2-15-3-15zm5 2 3 15-3 5-2-15zm71-16 3-6-3 5-3 6zm20 10 3-5-3-7-2 6zm90 13 3-15-3 15-3 15zm25-4 3-8-3-4-3 7z"/><path class=c36 d="m108 201 3-12-2 12-3 12zm45 13 3 15-2 13-3-15zm12-11 3 15-2-7-3-15zm14 7 2 15-2 13-3-15zm144 12 3 13-2 15-3-13z"/><path class=c24 d="m221 232 3-14-2-7-3 14zm-69 22 3-13-2-15-3 13zm5 1 3-13-2 5-3 13zm133-14 3 5-2-14-3-5zm25 5 3-7-2-5-3 7z"/><path class=c27 d="m167 227 3 7-3-15-2-7zm80-11 3-6-2-7-3 6zm56 13 3-15-2-6-3 15zm7 7 3 5-2 7-3-6zm6-2 3-15-2 7-3 15z"/><path class=c32 d="m146 224 3 8-3-7-3-8zm24-3 3-13-2 13-3 13zm1 0 2-5-2 13-3 5zm25-7 3-5-2 13-3 5zm93 4 3 14-2-6-3-13z"/><path class=c22 d="m149 258 3-4-2-15-3 4zm25-8 2-13-2-15-3 13zm5 2 3-13-3-15-3 13zm108-5 3-6-2-14-3 6zm27 7 3 14-2-14-3-13z"/><path class=c26 d="m168 234 3-5-2 5-3 5zm76 2 3-6-2-14-3 5zm63 11 3-7-2-5-3 7zm5-6 3 5-2-5-3-5zm1 5 3 13-2-5-3-13z"/><path class=c30 d="m143 229 3-5-3-7-3 5zm8-8 3-13-2 4-3 13zm44 1 3-13-2 5-3 14zm93 5 3 5-2-14-3-5z"/><path class=c33 d="m141 227 3-5-3 14-3 4zm79-7 3 14-3 14-2-15zm4 0 3 15-2-6-3-15zm136 2 2-15-2-5-3 16z"/><path class=c35 d="m172 216 3-13-2 5-3 13zm50-2 3 15-2 5-3-14zm96 9 3 14-3 15-2-13zm39-5 3-16-2 7-3 16z"/><path class=c27 d="m167 234 3-13-2 13-3 13zm1 0 3-13-3 13-3 13zm30-5 3-14-3-6-3 13zm114 12 3 13-3-13-2-13z"/><path class=c29 d="m141 236 3-13-2 13-3 13zm175 3 2 13-2 7-3-13zm17-5 3-7-2 7-3 7zm-177 11 3-4-2 14-3 4z"/><path class=c50 d="m188 198 3 8-2 14-3-7zm199-25 2-8-2 7-3 8zm53-9 3-9-2-13-3 9z"/><path class=c44 d="m93 172 3-13-2 12-3 13zm304 14 3 12-2-12-3-12zm-106 25 3-6-3 15-2 6z"/><path class=c42 d="m92 181 3-13-2 4-3 12zm304 14 3 4-2-13-3-3zm-82 14 3-6-2 15-3 7zm29-8 3 13-2 16-3-13z"/><path class=c49 d="m96 159 3-4-2 12-3 4zm8 0 3 15-2 4-3-16zm15 9 3 7-2 4-3-7zm276 6 3 12-3-5-3-12z"/><path class=c43 d="m97 176 3-12-2-8-3 12zm8 0 3 7-2-16-3-7zm243 11 3 5-2 6-3-4zm13 7 3-8-2 16-3 7zm-109 17 3 6-2 15-3-7z"/><path class=c39 d="m142 190 2-5-2-8-3 5zm-13 11 3-12-3 12-3 13zm47 2 3 7-3 13-3-7zm172-3 2-8-2-5-3 8zm14 7 3-16-2-4-3 15z"/><path class=c46 d="m95 168 3-12-2 3-3 13zm276 20 3 13-2-5-3-12zm23-5 3 3-2-12-3-4zm-100 22 3 6-3 15-3-6z"/><path class=c34 d="m143 217 3 8-2-15-3-8zm5 3 3 7-2 5-3-8zm202-7 3-7-3-14-2 8zm3 12 3 13-2-13-3-13z"/><path class=c38 d="m163 196 3 15-2 5-3-15zm18 9 3 15-3 5-2-15zm54 9 3 6-3 15-3-7zm116-2 3 13-3-5-2-13z"/><path class=c33 d="m127 221 3-5-2-7-3 4zm38-9 2 7-2-16-3-6zm9 10 3-13-2-6-3 13zm167 7 3-15-2-13-3 15zm14 0 2 13-2-4-3-13z"/><path class=c40 d="m111 188 3-4-2 12-3 5zm39 18 3 8-2 13-3-7zm25-3 3-5-2 5-3 5zm223-3 3 4-2-5-3-4z"/><path class=c28 d="m166 233 3-4-2 5-3 4zm5 2 3-13-2-6-3 13zm-24 8 3-4-2-15-3 4zm175 8 3-14-2-5-3 15z"/><path class=c24 d="m168 248 3 7-3-15-3-7zm50-1 3-14-3-14-3 14zm5 1 3-6-2-14-3 5zm84 6 3-14-3 7-2 14z"/><path class=c36 d="m105 196 3-4-3-16-2 4zm7 9 3-13-2-7-3 12zm32 5 3 15-2-15-3-16zm176 1 3-7-3 15-3 7z"/><path class=c32 d="m145 224 3-4-2 4-3 5zm17-7 3-5-3-15-3 5zm148 11 2 13-2-5-3-14zm11-4 3-15-2-5-3 15z"/><path class=c41 d="m160 190 3 6-2 5-3-7zm165 7 3 5-2 7-3-5zm25-5 3 5-2-5-3-5zm10 10 3-15-2 7-3 15z"/><path class=c37 d="m155 199 3-5-2 13-3 5zm-48 2 3-4-2 4-3 4zm21 8 3-12-2 4-3 13zm68 5 3 15-2 14-3-15z"/><path class=c45 d="m72 165 2-4-2 3-3 4zm274 29 3 13-3 7-3-13zm77-15 3 12-2-13-3-12z"/><path class=c54 d="m410 155 3-8-2 7-3 8zm-204 40 3 7-3 15-2-7zm41 3 3 6-2 16-3-7z"/><path class=c17 d="m176 265 3-13-3-15-2 13zm56-2 3 15-3-15-3-14zm52-1 3-15-2-14-3 15z"/><path class=c25 d="m283 223 3-15-2 5-3 16zm-106 27 3 7-3 14-3-8zm20-7 3 15-2 14-3-15zm138 8 3-7-2-13-3 7z"/><path class=c19 d="m174 263 3 8-2 5-3-7zm46-2 3-13-2-15-3 14zm78-11 2-6-2-6-3 7z"/><path class=c23 d="m190 241 2-5-2 5-3 5zm103 5 2 5-2-5-3-5zm5-1 3 13-3 7-3-14zm20 7 3 14-2 6-3-13z"/><path class=c30 d="m179 236 3 7-2 14-3-7zm43 3 3 6-2 7-3-7zm78-9 3 14-2 14-3-13zm32 4 3-15-2 15-3 15z"/><path class=c32 d="m156 215 3-13-2-8-3 14zm153 12 3 14-2-13-3-14zm17-4 3-7-2-13-3 6zm5 10 3-6-2 7-3 6z"/><path class=c26 d="m164 232 3-5-2-15-3 5zm18 7 3-5-3-15-3 5zm117-10 3-15-2 14-3 15zm-131 11 3-5-2-6-3 4z"/><path class=c31 d="m163 226 3 7-2 5-3-7zm11 8 3 16-3 13-3-15zm50-6 2 6-2-14-3-6zm62-20 3-7-2 6-3 6z"/><path class=c29 d="m150 239 3-13-2-14-3 12zm15-6 3 7-2-7-3-7zm124-19 2-7-2-6-3 7zm-129 28 3-12-3 5-2 12zm172 3 3 13-2-13-3-13zm12-3 2-15-2-13-3 15z"/><path class=c18 d="m170 262 3 7-2-14-3-7zm21-6 3 7-2-15-3-7zm42-1 3-5-2-7-3 6z"/><path class=c20 d="m241 250 3-14-2-15-3 15zm5 0 3-6-2-14-3 6zm71 22 2-6-2-5-3 7z"/><path class=c36 d="m163 217 2 16-2-7-3-15zm75 3 3 15-3 14-3-14zm46-13 3 6-3 6-3-5zm51 12 3-15-3 15-3 15z"/><path class=c35 d="m154 208 3-14-2 5-3 13zm44 1 3-5-2 5-3 5zm88 4 3 5-2-5-3-6zm66 12 3 13-2-13-3-13z"/><path class=c47 d="m121 175 3 8-2-8-3-7zm49 23 3 7-2 14-3-7zm193-11 3-8-2 7-3 8z"/><path class=c42 d="m103 180 2-4-2-16-3 4zm39 14 3 16-2-7-3-16zm13 6 3 16-2 13-3-15z"/><path class=c33 d="m144 223 3-12-2 13-3 12zm175-4 3-15-2 7-3 15zm12 17 3 13-2-4-3-14z"/><path class=c38 d="m147 211 3-5-2 14-3 4zm72-3 3 6-2 6-3-7zm21 6 3 15-2 6-3-15zm75 4 3 5-2 16-3-6z"/><path class=c44 d="m132 189 2-5-2 13-3 4zm8-2 3 16-3 4-3-15zm177 16 3 5-2 15-3-5z"/><path class=c39 d="m162 197 3 6-2-7-3-6zm-29 7 3-13-2-7-3 13zm189 0 3-7-2 7-3 7zm28 8 3 13-2-13-3-13z"/><path class=c34 d="m130 216 3-12-2-7-3 12zm14 6 2-12-2 13-3 13zm137-8 3 5-2 14-3-5zm65 13 3-7-2-13-3 7z"/><path class=c40 d="m157 194 3-4-2 4-3 5zm-16 8 3 8-2-16-3-7zm184 13 3 13-2 7-3-13zm2-12 3 4-2-5-3-5z"/><path class=c37 d="m159 202 3-5-2-7-3 4zm3 15 3 15-2-15-3-15zm9 2 3 15-3 14-2-16zm48 5 3 15-2 6-3-15zm105-15 3-6-2-6-3 7z"/><path class=c45 d="m152 193 3 7-2 14-3-8zm5 2 3 7-3-7-3-7zm208-4 3-7-2-5-3 8zm-198 11 3-4-2 14-3 4zm155-1 3 14-2 7-3-14z"/><path class=c32 d="m140 222 3-5-2-15-3 5zm92 6 3 7-2 14-3-7zm11 1 3 14-3 6-2-14zm87 4 3 5-2-5-3-5z"/><path class=c27 d="m176 237 3-13-2-15-3 13zm109-4 3-6-2-14-3 6zm26 8 3 13-2-13-3-14z"/><path class=c28 d="m301 223 3-15-2 6-3 15zm-146 18 3-12-2-15-3 12zm155-1 3 6-2-5-3-6zm23 5 2 6-2-13-3-5z"/><path class=c48 d="m137 180 3 7-3 5-3-8zm17 8 3 7-2 5-3-7zm214-4 3 4-2-4-3-5z"/><path class=c24 d="m192 236 3-14-2 6-3 13zm36 12 3 7-2-6-3-7zm89 13 3-14-2-13-3 15z"/><path class=c23 d="m298 238 3-15-2 6-3 15zm-129 15 3 16-2-7-3-15zm145 13 3 6-3-4-3-6z"/><path class=c22 d="m282 248 3-15-2-14-3 15zm32 20 3-7-2-12-3 6zm5-2 3-15-2-4-3 14z"/><path class=c30 d="m165 232 3 16-3-15-2-16zm4-3 3-13-2 5-3 13zm164 9 3-7-2-4-3 6z"/><path class=c34 d="m153 226 3-12-2-15-3 13zm131 0 3 14-2 6-3-14zm20-18 3-7-2 6-3 7zm30 19 3-15-2 7-3 15z"/><path class=c41 d="m111 189 3-13-3 12-2 13zm20 8 3-13-2 5-3 12zm37 15 3 7-2 13-3-7zm133-8 3 5-2 6-3-5z"/><path class=c43 d="m371 197 2 4-2-13-3-4zm54-12 3 11-3-4-3-12zm-252 20 3 16-2 13-3-15z"/><path class=c46 d="m114 176 3-4-3 12-3 4zm20 8 3-4-3 4-2 5zm92 26 3-5-2 15-3 4z"/><path class=c44 d="m136 191 3-4-2-7-3 4zm21 4 3 16-2 5-3-16zm191 4 3 13-2-5-3-13zm-24 7 3 13-2-4-3-14z"/><path class=c38 d="m138 207 3-5-2-15-3 4zm18 7 3-5-2-14-3 4zm143-4 3 5-2 15-3-5zm28 9 3 14-2-5-3-13z"/><path class=c26 d="m187 235 3 6-3 5-3-6zm43 7 3 7-2 6-3-7zm65-2 3 5-3 6-2-5z"/><path class=c19 d="m190 256 3 15-2-15-3-15zm5 1 3 15-2 5-3-15zm99 7 3-7-2-13-3 6z"/><path class=c25 d="m167 247 3 15-2-14-3-16zm4 1 3 15-2 6-3-16zm55-6 3 7-3-15-2-6z"/><path class=c32 d="m169 232 2 16-2 5-3-15zm60 1 3-14-2 15-3 13zm68-8 3 5-2 15-3-5zm9-11 3-7-2-6-3 7z"/><path class=c37 d="m176 221 3 15-2 14-3-16zm125-6 3-6-3-5-2 6zm6-1 3 14-3-6-3-13zm19 12 3 5-2-12-3-6z"/><path class=c31 d="m160 235 3-4-2-7-3 5zm70-1 2-6-2 14-3 6zm-57 10 3-13-2-14-3 13z"/><path class=c33 d="m158 229 3-5-2-15-3 5zm75 3 3-13-2-6-3 14zm92 5 3-7-2-4-3 6zm5-5 3 13-3-12-3-14z"/><path class=c34 d="m109 209 3-4-2-8-3 4zm49 22 3-4-2 14-3 4zm73-4 3-14-2 6-3 14zm98 4 3 14-2-13-3-13z"/><path class=c35 d="m143 222 3-5-2 5-3 5zm185 8 3 6-2-5-3-5zm24-6 3 5-3-4-3-5z"/><path class=c39 d="m146 210 3-13-2 14-3 12zm88 3 3-5-2 6-3 5zm70-4 3 13-2 7-3-14zm23 10 3 13-3-13-3-13z"/><path class=c29 d="m166 238 3 15-2-6-3-16zm55-5 3-5-3-14-3 5zm-46 17 3-13-2-6-3 13z"/><path class=c36 d="m171 230 3-13-2-14-3 12zm50-16 3 6-2-6-3-6zm81 1 3 14-2 15-3-14z"/><path class=c42 d="m160 202 3 15-3-6-3-16zm160 6 3 14-2 15-3-14zm18-4 2-7-2 15-3 7z"/><path class=c40 d="m115 192 3-12-2-8-3 13zm44 17 3 8-2-15-3-7zm34-1 3 6-2 14-3-7zm111 1 3 5-3-5-3-5zm33 3 3-16-2 8-3 15z"/><path class=c22 d="m183 253 3-13-2 5-3 13zm114 4 3-14-2-13-3 14zm5-1 3-14-2-14-3 15z"/><path class=c24 d="m184 245 3-5-2-6-3 5zm43 3 3-6-2 6-3 6zm84 14 3 6-2-13-3-6z"/><path class=c23 d="m170 266 2-4-2-6-3 4zm12-14 3-13-2 14-3 13zm7-11 3 7-2-7-3-6z"/><path class=c33 d="m145 228 3-4-2-7-3 5zm158 0 3-6-2-13-3 6zm46 3 3-7-3-4-3 7z"/><path class=c62 d="m279 54 3 11-3 3-2-11zm159 75 3 3-2-4-3-3z"/><path class=c60 d="m278 60 3 3-2-9-3-3zm-210 56 3 8-3-10-3-7zm156 72 2 7-2 15-3-7z"/><path class=c9 d="m201 279 3-14-2-6-3 13zm50-12 3-15-2-6-3 14z"/><path class=c25 d="m172 260 3-4-3 6-2 4zm30-16 3 7-2 14-3-7zm25 3 3-13-3 14-3 13z"/><path class=c27 d="m175 256 3-12-3 6-3 12zm7-13 3-5-3 14-2 5zm48 3 3-14-2-5-3 13zm70-3 3-15-2-13-3 15z"/><path class=c56 d="m421 138 3 2-3-5-3-2zm-211 56 3 7-2-5-3-7z"/><path class=c59 d="m281 63 3 11-2-9-3-11zm-216 58 3-5-3-9-3 5z"/><path class=c14 d="m214 260 3 6-2-15-3-6zm56 3 3-14-2 14-3 14z"/><path class=c52 d="m101 151 3 8-2 3-3-7zm332 4 3-17-3-4-3 17z"/><path class=c13 d="m235 269 3-5-2-14-3 5zm64 13 3-6-3-5-3 6z"/><path class=c30 d="m235 235 3 14-2 14-3-14zm73 0 3 6-2-14-3-5zm-149 6 3-13-2 14-3 13z"/><path class=c16 d="m203 265 3-6-2 14-3 5zm93 11 3 6-3-5-2-6zm5-1 3-6-2 7-3 6z"/><path class=c17 d="m207 260 2-14-2 5-3 14zm29 3 3 15-2 6-3-15zm58 8 2 6-2-13-3-6zm5 0 3-15-2-13-3 14z"/><path class=c15 d="m193 278 3-5-2-5-3 4zm59-24 3-6-2 14-3 6zm44 23 3-6-2-14-3 7zm6-1 3-15-3-5-3 15z"/><path class=c18 d="m195 272 3-4-2 5-3 5zm54-23 3 5-2 14-3-5zm5 0 3-6-2 5-3 6zm50 20 3-15-2 7-3 15z"/><path class=c14 d="m214 260 3 15-3-15-2-14zm38 16 3 6-2-13-3-6zm-18 8 3-5-2-6-3 6z"/><path class=c21 d="m192 248 3-5-3-7-2 5zm98 4 3-6-3-5-3 6zm3 10 3 14-2-5-3-14z"/><path class=c31 d="m164 231 3 16-2-15-3-15zm30-3 3 15-2 14-3-15zm119 5 3 6-3 7-3-6zm-16 7 3 14-2 15-3-14z"/><path class=c24 d="m167 260 3-4-2-14-3 4zm5 2 3-12-2-6-3 12zm16-21 3 15-2-15-3-15zm9 14 2-14-2-14-3 13z"/><path class=c23 d="m190 247 3 15-3-6-3-15zm43 2 3 14-2 6-3-14zm59-3 3-6-2 6-3 6zm11 14 3-6-2 15-3 6z"/><path class=c25 d="m187 241 3 15-2-15-3-15zm5 1 3 15-2 5-3-15zm98 4 3-15-2 15-3 14zm10 8 3 6-2 15-3-6zm6 0 3-15-2 15-3 15z"/><path class=c26 d="m170 256 3-12-2-14-3 12zm17-16 3 7-3-6-2-7zm39 6 3-13-2 14-3 14zm86 9 3-6-2-13-3 6z"/><path class=c28 d="m185 234 2 7-2-15-3-7zm40 11 3-5-2 6-3 6zm80-3 3-7-2-13-3 6zm10 7 3-15-2-13-3 15z"/><path class=c29 d="m305 244 3-6-2 16-3 6zm5-4 3-7-3 7-3 7zm1 12 3 14-3-4-3-14zm9-5 3-15-2-12-3 14z"/><path class=c19 d="m194 268 3-13-3-15-3 13zm6-10 3 7-2 13-3-6zm52 9 3 15-3-6-3-14zm46 2 3 6-2 7-3-6z"/><path class=c35 d="m305 232 3 5-3 7-3-5zm1-10 3 5-2-13-3-5zm17 10 3-6-2-13-3 7z"/><path class=c32 d="m163 231 3 7-2-7-3-7zm139 8 3 5-2 16-3-6zm34-8 3-15-2-4-3 15z"/><path class=c37 d="m146 217 3-12-3 5-2 12zm154 8 2 14-2 15-3-14zm49-5 3 5-2-13-3-5z"/><path class=c30 d="m186 226 3 15-2-6-3-15zm108 5 3-6-2 15-3 6zm15 8 3-14-2 15-3 14zm-10 14 3-15-2-4-3 14z"/><path class=c22 d="m210 239 3 6-2 5-3-6zm-11 21 3-13-3-6-2 14zm34 0 3-14-3-14-3 14z"/><path class=c31 d="m185 226 3 15-2-15-3-15zm123 12 3-14-2 15-3 15zm-134 8 3-4-2 14-3 4z"/><path class=c51 d="m277 86 3-8-2-18-3 9zm115 84 3 4-3-5-3-4z"/><path class=c49 d="m75 151 3-12-2 11-3 13zm346 15 3 12-2-5-3-11z"/><path class=c45 d="m139 187 3 7-2-7-3-7zm283-7 3 12-2-13-3-11z"/><path class=c41 d="m302 218 3 14-3 7-2-14zm22-5 3 6-3-13-2-6z"/><path class=c38 d="m110 197 3-12-2 4-3 12zm229 19 3-15-2-5-3 16z"/><path class=c34 d="m191 221 3 7-2 14-3-7zm127 13 3-14-2-13-3 14z"/><path class=c48 d="m100 164 3-4-2-9-3 5zm243 26 3 4-3 7-3-4z"/><path class=c45 d="m340 196 3-6-3 7-2 7zm82-14 3 3-3-5-2-3z"/><path class=c39 d="m321 220 3-7-2-13-3 7zm23-6 3-7-2-13-3 7z"/><path class=c46 d="m74 161 3-13-2 3-3 13zm271 33 3 5-2-5-3-4zm-23 6 2 6-2-5-3-5z"/><path class=c54 d="m280 78 3 2-2-17-3-3zm-202 61 3-5-2 12-3 4z"/><path class=c53 d="m83 144 2-4-2-9-3 5zm329 16 3-8-2-5-3 8z"/><path class=c27 d="m186 240 3-5-2 5-3 5zm50 6 2-13-2-14-3 13z"/><path class=c36 d="m183 211 3 15-2-6-3-15zm129 14 3-7-2 15-3 7z"/><path class=c16 d="m232 279 3-6-2-13-3 5zm24-24 3-6-2-6-3 6z"/><path class=c17 d="m191 272 3-4-3-15-3 5zm5 1 3-13-2-5-3 13z"/><path class=c33 d="m188 226 3-5-2 14-3 5zm9 11 3 7-3 14-3-7zm116-1 3-15-3-4-2 14z"/><path class=c20 d="m198 268 3-13-2 5-3 13zm35 3 3 7-2 6-3-7z"/><path class=c24 d="m197 258 3-5-2 15-3 4zm30 0 3 7-3-14-2-7zm64-12 3-15-2 15-3 15z"/><path class=c21 d="m192 265 3 7-2 6-3-7zm38 0 3-5-3-14-3 5z"/><path class=c35 d="m166 225 3 7-3 6-3-7zm136 13 3-5-2-5-3 6z"/><path class=c44 d="m149 197 3-4-2 13-3 5zm193 4 3-7-2-4-3 6z"/><path class=c19 d="m207 251 3-5-2-6-3 5zm5-6 3 6-2-6-3-6z"/><path class=c26 d="m209 231 3 15-3-15-3-15zm18 20 3-5-2-6-3 5z"/><path class=c29 d="m185 238 3-13-3 14-3 13zm9 2 3-13-2-14-3 13zm34 0 3-13-2 6-3 13z"/><path class=c41 d="m149 205 3-13-3 5-3 13zm78 15 3 6-2 15-3-7zm120-13 3 5-2-13-3-5z"/><path class=c28 d="m185 239 3-13-2 14-3 13zm4-4 3 7-2 5-3-7z"/><path class=c34 d="m161 224 3 7-2-14-3-8zm21-5 3 7-2-15-3-7z"/><path class=c43 d="m113 185 3-13-2 4-3 13zm73 28 3 7-3 14-3-7z"/><path class=c48 d="m80 157 3-13-3-8-3 12zm36 15 3-4-2 4-3 4zm69 31 3-5-2 15-3 4z"/><path class=c38 d="m230 226 3 15-2 15-3-15zm86-5 3-14-3-5-3 15z"/><path class=c27 d="m259 236 3 14-3 14-2-14zm-65 15 3 7-2 14-3-7z"/><path class=c23 d="m258 234 3-15-3 14-2 14zm-70 24 3-5-2-14-3 5z"/><path class=c20 d="m188 265 3 7-3-14-2-7zm24-19 2 14-2-15-3-14zm45-3 3-15-2 6-3 14z"/><path class=c18 d="m206 259 3-13-2 14-3 13zm7-7 3 15-2-7-3-14zm16 20 3 7-2-14-3-7z"/><path class=c12 d="m279 260 3 5-2-14-3-5zm-65 20 3-5-2-14-3 5z"/><path class=c13 d="m256 264 3 5-3-14-3-6zm27-3 3 13-2 6-3-13z"/><path class=c10 d="m240 278 3-14-2-14-3 14zm43 3 3-6-2 6-3 7z"/><path class=c30 d="m184 238 3-5-2 5-3 5zm57-3 2 14-2 14-3-14zm-76 11 3-4-2-14-3 4z"/><path class=c23 d="m228 262 3 15-2-5-3-15zm10-13 3 14-2 15-3-15zm5 0 3 6-2 15-3-7z"/><path class=c21 d="m215 247 3 15-2 5-3-15zm25 18 3-13-2-6-3 14zm11-22 3 6-2 5-3-5z"/><path class=c25 d="m209 231 3 14-2-6-3-15zm-22 25 3 15-2-6-3-15zm39 1 3 15-2-14-3-15z"/><path class=c29 d="m256 230 3 6-2 14-3-6zm-31 14 2 7-2-6-3-6zm0 3 3 15-2-5-3-15z"/><path class=c17 d="m235 273 3-13-2-14-3 14zm1 5 3-5-2 6-3 5zm5-15 3 7-2 14-3-6z"/><path class=c16 d="m216 273 3 7-3 6-3-7zm21 6 3-14-2-5-3 13zm11-15 3-14-3 6-2 14z"/><path class=c26 d="m186 251 2 7-2-14-3-7zm45 5 2 15-2 6-3-15zm5 0 3 7-3 15-3-7z"/><path class=c32 d="m308 237 3-6-3 7-3 6zm-75 4 3 15-3 15-2-15z"/><path class=c39 d="m151 212 3-13-2-7-3 13zm14 4 3-4-2 13-3 5z"/><path class=c22 d="m205 251 3-5-2 13-3 6zm33 9 3-14-3-13-2 13z"/><path class=c45 d="m118 180 3-5-2-7-3 4zm114 32 3 15-2 14-3-15z"/><path class=c41 d="m178 198 3 7-2 5-3-7zm-9 17 3-12-3-6-3 12z"/><path class=c33 d="m163 230 3-5-3 6-3 4zm18 0 3 8-2 5-3-7z"/><path class=c35 d="m148 224 3-12-2-7-3 12zm14 4 3-12-2 14-3 12z"/><path class=c28 d="m261 219 3-6-3 14-3 6zm-72 31 3 15-2 6-3-15z"/><path class=c24 d="m262 234 3-14-2-6-3 14zm-71 19 3-13-2-14-3 13z"/><path class=c20 d="m211 246 3 14-2-14-3-15zm64-6 3 5-3 5-3-5z"/><path class=c18 d="m239 273 3-14-2 6-3 14zm9-17 3-6-2-6-3 6zm29-10 3 5-2-6-3-5z"/><path class=c15 d="m211 273 3 7-2-14-3-7zm48-9 3 14-2 6-3-14z"/><path class=c13 d="m278 261 3 13-2-14-3-14zm8 14 3-14-2 6-3 14zm-26 6 3-5-3 6-2 6z"/><path class=c19 d="m210 264 3 15-2-6-3-15zm43-15 3 6-2-6-3-6zm27-2 3 14-2 6-3-14zm8 13 3-14-2 15-3 14z"/><path class=c27 d="m185 250 3 15-2-14-3-16zm56-4 3-5-3-14-3 6z"/><path class=c31 d="m183 237 3 7-2-6-3-8zm-15 5 3-12-2-15-3 13z"/><path class=c34 d="m188 225 3-13-3 14-3 13zm4 10 2 16-2 14-3-15z"/><path class=c14 d="m217 275 3-14-2-14-3 14zm38-11 3 14-2-14-3-14z"/><path class=c10 d="m258 288 2-6-2-5-3 5zm26-7 3-14-3-5-2 14z"/><path class=c18 d="m254 256 3 14-2-6-3-14zm22-10 3 14-2-14-3-14z"/><path class=c23 d="m274 232 3 14-2-6-3-14zm-35 31 2-5-2 15-3 5zm49-11 2-6-2 14-3 7z"/><path class=c30 d="m224 243 3 15-2-14-3-14zm84 5 3 14-2-13-3-14z"/><path class=c32 d="m179 224 3-5-2-15-3 5zm49 17 3 15-3 6-3-15zm10 1 3 6-2 15-3-7z"/><path class=c37 d="m177 209 3-5-2-6-3 5zm3 12 3 16-2-7-3-15zm131 3 3-15-2 16-3 14z"/><path class=c40 d="m178 215 3 15-2 6-3-15zm16 6 3 16-3 14-2-16zm119-4 3-15-2 7-3 15z"/><path class=c25 d="m229 270 2-4-2-5-3 5zm61-4 3 6-2-4-3-6z"/><path class=c28 d="m186 244 3-5-2-6-3 5zm34 1 3 7-2 14-3-7zm6 18 3 7-3-4-3-8zm5 1 3-5-3 7-2 4z"/><path class=c26 d="m260 228 3-14-2 5-3 15zm-29 38 3-13-2-5-3 13zm59-21 3-6-3 7-2 6z"/><path class=c31 d="m187 233 3-13-2 5-3 13zm76-19 3-7-2 6-3 6zm30 17 3-14-2 14-3 15zm17 11 3-6-2-5-3 6z"/><path class=c38 d="m230 235 3-13-2-14-3 13zm5-8 3 15-2 14-3-15zm25-17 3 5-2 7-3-6z"/><path class=c39 d="m180 204 3 7-2-6-3-7zm0 16 3 15-3-14-3-15zm11-8 2-4-2 13-3 5z"/><path class=c36 d="m161 227 3-12-2 13-3 13zm5 1 3-13-3-6-2 13zm24-8 3-13-2 5-3 13z"/><path class=c35 d="m222 230 3 14-3-5-3-15zm36-14 3 6-2 14-3-6zm5-1 3 14-2 7-3-14z"/><path class=c33 d="m261 222 3 14-2 14-3-14zm-68 26 3-13-2-5-3 12zm39 0 3-13-2-13-3 13z"/><path class=c24 d="m251 235 2 14-2-6-3-14zm22-2 3 13-2-14-3-13zm-14 16 3-14-2-14-3 14zm5 0 3-6-2-14-3 6zm28 1 3-6-2-5-3 6z"/><path class=c29 d="m189 239 3-13-2-6-3 13zm73-4 3-6-2-14-3 6zm9-16 3 13-2-6-3-13zm38 30 3 6-2-13-3-6z"/><path class=c51 d="m77 148 3-12-2 3-3 12zm154 50 3 7-2 7-3-7z"/><path class=c19 d="m253 250 3 14-3-15-2-14zm8 13 3-14-2-14-3 14z"/><path class=c46 d="m152 192 2-4-2 5-3 4zm23 7 3 16-2 6-3-16z"/><path class=c44 d="m154 199 3-4-3-7-2 4zm33 16 2-13-2-5-3 12z"/><path class=c17 d="m272 254 3-6-2-6-3 6zm13 13 3-7-2 15-3 6z"/><path class=c21 d="m210 246 3 6-2-6-3-6zm36 9 3-5-2 14-3 6z"/><path class=c22 d="m218 259 3 7-2 14-3-7zm73-1 3 6-2-14-3-5z"/><path class=c30 d="m223 258 3 8-2-14-3-7zm11 1 3-13-3 7-3 13z"/><path class=c34 d="m186 234 3 16-2 6-3-16zm125-3 2-14-2 7-3 14z"/><path class=c31 d="m223 242 3 15-2-14-3-15zm11 11 3-13-2-5-3 13z"/><path class=c32 d="m183 235 3 16-3-14-3-16zm39 6 3 6-2-5-3-7z"/><path class=c37 d="m161 226 3-4-3 5-3 4zm100-1 2 14-2 7-3-15z"/><path class=c40 d="m164 215 3-13-2 14-3 12zm10 2 3-4-2-15-3 5zm15 3 3 15-3 15-3-16z"/><path class=c35 d="m163 232 3-4-2-6-3 4zm13-1 3-4-2-14-3 4zm57 17 3-4-2 15-3 5z"/><path class=c25 d="m250 236 3 14-2-15-3-14zm45 19 3 14-2 7-3-14z"/><path class=c20 d="m252 250 3 14-2-14-3-14zm5 0 2 14-2 6-3-14z"/><path class=c12 d="m255 282 3-5-2-14-3 6zm5 0 3-14-2-5-3 14z"/><path class=c16 d="m257 275 3 6-2 7-3-6zm21-22 3 14-3-6-3-14z"/><path class=c11 d="m245 278 3-14-2 6-3 14zm37-2 2-14-2-14-3 14z"/><path class=c9 d="m279 282 3-6-3-14-3 6z"/><path class=c13 d="m280 276 3 5-2 7-3-6z"/><path class=c12 d="m276 277 3 5-3-14-2-5z"/><path class=c15 d="m244 270 3-6-2 14-3 6zm19 6 3-14-3 6-3 14z"/><path class=c28 d="m293 239 3-14-3 6-3 15zm-6 1 3 5-2 7-3-6z"/><path class=c27 d="m187 265 3-5-2-5-3 4zm102-20 3 5-2-5-3-5z"/><path class=c30 d="m248 221 3 14-3-6-3-14zm-60 34 3-13-2-13-3 12zm104-14 3 14-2 7-3-14z"/><path class=c26 d="m270 228 3 5-2-14-3-6zm-44 38 3-5-2-13-3 4z"/><path class=c33 d="m245 216 3 5-3-6-3-6zm21-9 3 6-2 5-3-5zm41 29 3 6-2-5-3-5z"/><path class=c24 d="m267 234 3-6-2-15-3 7zm-55 7 3 6-2 5-3-6zm84 26 3-14-2-5-3 14z"/><path class=c31 d="m268 213 3 6-2-6-3-6zm-84 27 3 16-2-6-3-16zm44 17 3 7-2 6-3-7z"/><path class=c19 d="m215 261 3-14-3-14-2 13zm47 6 3-6-2 15-3 5zm20-6 3 6-2 14-3-5z"/><path class=c29 d="m265 220 3-7-2-6-3 7zm-75 38 3-4-3 6-3 5zm98-15 3 14-3-13-3-14z"/><path class=c28 d="m247 230 3 6-2-15-3-5zm-57 30 3-12-2-6-3 13zm39 1 3-13-2-13-3 13zm59-17 3 14-2-13-3-14z"/><path class=c49 d="m420 168 3 11-2-13-3-11zm-150 35 3 7-2 15-3-6z"/><path class=c43 d="m166 209 3-12-2 5-3 13zm62 12 3-13-3-5-3 13z"/><path class=c18 d="m270 255 3-6-3 14-2 6zm5-8 3 14-2-15-3-13z"/><path class=c38 d="m164 222 2-13-2 6-3 12zm66 19 3 7-2 16-3-7z"/><path class=c17 d="m212 266 3-5-2-15-3 5zm35-2 3-14-2 14-3 14z"/><path class=c23 d="m208 240 3 6-2-15-3-6zm83 17 3 14-3-13-3-14z"/><path class=c34 d="m204 210 3 14-2 5-3-14zm13 20 3 15-2 14-3-15zm48-9 3 14-2-6-3-14z"/><path class=c33 d="m182 234 3 16-2-15-3-15zm104-3 3 14-2-5-3-14z"/><path class=c35 d="m181 233 3 7-2-6-3-7zm125 2 3 14-2-13-3-14z"/><path class=c31 d="m178 244 3-13-3 6-3 13zm15 10 2-13-2 7-3 12z"/><path class=c22 d="m209 246 3-5-2 5-3 5zm40 26 3 6-2-5-3-6z"/><path class=c23 d="m208 246 3-14-2 14-3 13zm1 0 3-14-3 14-2 14zm84 26 3-5-2-5-3 6z"/><path class=c28 d="m212 232 3-5-3 14-3 5zm-27 27 3-4-2-14-3 4zm30-15 3 15-2 14-3-15z"/><path class=c29 d="m206 225 3 6-3-15-3-6zm5 7 3-13-2 13-3 14zm4 1 3-14-2-6-3 14zm4 19 3-13-2 7-3 13z"/><path class=c36 d="m201 204 3 6-2 5-3-6zm95 13 3-7-2 15-3 6z"/><path class=c34 d="m203 210 3 6-2-6-3-6zm93 15 3-15-3 7-3 14zm12 13 3 14-3-4-2-14z"/><path class=c27 d="m203 230 3-5-3-15-2 5zm87 18 3 14-2-5-3-14z"/><path class=c24 d="m207 245 3-5-2 6-3 5zm6 1 2-13-2-6-3 13zm78 22 3-6-2-13-3 6z"/><path class=c20 d="m209 259 3 7-2-15-3-6zm42-9 3 6-2-6-3-6z"/><path class=c26 d="m217 259 3-13-3-6-3 13zm78-15 3-14-2-5-3 14z"/><path class=c37 d="m183 227 3 7-2 6-3-7zm111-1 3 14-2 15-3-14z"/><path class=c31 d="m213 227 3-14-2 6-3 13zm7 19 2-5-2-6-3 5z"/><path class=c32 d="m201 215 2-5-2-6-3 5zm97 15 3-15-2-5-3 15z"/><path class=c40 d="m199 209 3 15-3 5-3-15zm92 11 3 6-2 15-3-5z"/><path class=c22 d="m210 251 3-5-3-6-3 5zm3 7 3 15-3 6-3-15z"/><path class=c26 d="m210 240 3-13-2 5-3 14zm84 22 3-14-2-13-3 14z"/><path class=c35 d="m186 241 3-12-2-14-3 12zm31-1 3-4-2 15-3 4z"/><path class=c57 d="m275 69 3-9-2-9-3 9z"/><path class=c50 d="m103 160 3 7-2-8-3-8z"/><path class=c60 d="m433 134 3-9-2 7-3 9z"/><path class=c45 d="m316 202 3-6-2 7-3 6z"/><path class=c14 d="m258 277 3-14-2-14-3 14z"/><path class=c25 d="m285 246 3 6-3 15-3-6z"/><path class=c16 d="m275 268 3 14-2-5-3-14z"/><path class=c52 d="m244 202 3-4-2 15-3 5z"/><path class=c54 d="m418 155 3 11-2-4-3-12z"/><path class=c48 d="m169 197 3-5-2 6-3 4z"/><path class=c19 d="m275 248 3 5-3-6-2-5z"/><path class=c21 d="m205 245 3-5-2-15-3 5zm68-3 2 5-2-14-3-5z"/><path class=c37 d="m179 227 3 7-2-14-3-7zm30-5 3 7-2 14-3-6z"/><path class=c43 d="m182 215 3-12-2 14-3 13zm115-4 3 14-3 15-3-14z"/><path class=c36 d="m216 213 3-5-2 5-3 6zm79 22 2-14-2-12-3 14z"/><path class=c40 d="m214 215 3 15-2 14-3-15zm78 8 3-14-2-5-3 14z"/><path class=c34 d="m212 229 3 15-2 14-3-15zm6-10 3-5-2-6-3 5z"/><path class=c33 d="m178 237 3-4-2-6-3 4zm34 2 3-13-2-13-3 13z"/><path class=c39 d="m179 228 3-13-2 15-3 12zm125-6 3 14-2-4-3-14z"/><path class=c44 d="m177 206 3 15-2-6-3-16zm142 1 3-7-3-4-3 6z"/><path class=c28 d="m214 253 3-13-2-14-3 13zm47-7 3 6-2 15-3-6z"/><path class=c22 d="m259 261 3 6-2 14-3-6zm18-19 3 5-2 6-3-5z"/><path class=c16 d="m279 262 3-14-2-14-3 14z"/><path class=c14 d="m276 268 3-6-2-14-3 7z"/><path class=c25 d="m276 234 3-6-2 14-3 6zm-69 11 3 6-3-6-3-6zm72 2 3 14-2 15-3-14z"/><path class=c27 d="m204 239 3 6-2 6-3-7zm84 23 3 6-2-13-3-6z"/><path class=c31 d="m282 232 3 14-3 15-3-14zm5 20 3 14-2-4-3-15zm10-4 3-14-3-13-2 14z"/><path class=c23 d="m254 244 3 6-3 6-3-6zm27 18 3-14-2-5-3 14z"/><path class=c19 d="m256 263 3-14-2-14-3 14zm18-15 3-6-2 6-3 6z"/><path class=c20 d="m273 249 3-15-2 14-3 15zm0 0 3-15-3 15-3 14z"/><path class=c21 d="m208 258 3 15-2-14-3-15zm64-9 3-6-2 6-3 6zm5-1 3-14-2-6-3 15z"/><path class=c42 d="m177 213 3 7-3-14-2-8zm6 4 3-4-3 14-2 4z"/><path class=c47 d="m175 198 2 8-2-7-3-7zm124 6 3 14-2 7-3-14z"/><path class=c36 d="m221 228 3 15-2-13-3-15zm79 6 3-6-3-13-3 6zm6 0 2 14-2-13-3-14z"/><path class=c38 d="m273 218 3-6-2 15-3 6zm30 10 3 6-3-13-3-6z"/><path class=c46 d="m172 203 3-5-3-6-3 5zm12 6 3-12-2 6-3 12z"/><path class=c51 d="m187 197 3-5-2 6-3 5zm230-33 3 4-2-13-3-3z"/><path class=c37 d="m176 232 3-4-2 14-3 4zm129 1 3 5-2-4-3-6z"/><path class=c40 d="m178 226 3-4-2 6-3 4zm125-5 3 14-2-13-3-14z"/><path class=c26 d="m276 234 3-14-3 14-3 15zm-70 10 3 15-2-14-3-15z"/><path class=c25 d="m201 255 3-13-2 5-3 13zm7-6 2 15-2-6-3-15z"/><path class=c17 d="m253 269 3-6-2-14-3 6zm21-6 2 5-2-13-3-6z"/><path class=c19 d="m211 276 3-4-3-6-2 5zm63-21 3-7-2-5-3 6zm3 7 3 14-2 6-3-14z"/><path class=c28 d="m210 243 3 15-3 6-2-15zm46 3 3 15-2 14-3-14z"/><path class=c22 d="m213 270 3-5-2 7-3 4zm36-26 3 6-2-14-3-6z"/><path class=c41 d="m219 215 3 15-3-6-3-15zm78 6 3-6-2-12-3 6z"/><path class=c27 d="m253 236 3-6-2 14-3 6zm-51 11 3-4-3-6-3 4z"/><path class=c30 d="m200 244 3-5-3 14-3 5zm87-2 3 6-2-5-3-5z"/><path class=c29 d="m257 235 3-14-3-5-3 14zm-58 6 3-4-2-15-3 5z"/><path class=c24 d="m216 265 3-13-2 7-3 13zm53-22 3 6-2 6-3-6z"/><path class=c18 d="m273 263 3 14-2-14-3-14z"/><path class=c15 d="m275 282 3-6-2-5-3 6z"/><path class=c20 d="m266 262 2-14-2 6-3 14zm4 9 3 6-2-13-3-6z"/><path class=c22 d="m266 254 3-6-2-5-3 6zm5-5 3 6-2-6-3-6zm1 5 3 14-2-5-3-14z"/><path class=c23 d="m211 266 3-13-2-14-3 13zm60-17 3 14-3-14-3-14zm4-6 3-15-2 6-3 15z"/><path class=c31 d="m263 239 3 6-2 7-3-6zm14-6 2 14-2 15-3-14zm2-13 2-6-2 14-3 6z"/><path class=c21 d="m214 272 3-13-3-6-3 13zm37-22 3-6-3 6-3 6zm14 11 3-14-2 15-3 14z"/><path class=c29 d="m268 235 3 14-3-14-3-14zm10-7 3-14-2 6-3 14zm-63 27 3-4-2 14-3 5z"/><path class=c34 d="m258 231 3 15-2 15-3-15zm16-4 3 6-3 15-3-6z"/><path class=c26 d="m200 253 3-13-2 15-3 13zm58 7 3-14-3-5-2 14z"/><path class=c24 d="m254 249 3-14-3-5-2 14zm15 12 3 15-2-5-3-14z"/><path class=c25 d="m264 252 3-6-2 15-3 6zm10-4 3 14-2 6-3-14z"/><path class=c19 d="m276 271 3-14-2-13-3 14zm2 4 2-6-2 7-3 6z"/><path class=c33 d="m177 242 3-12-2 14-3 12z"/><path class=c53 d="m203 199 3-4-2 15-3 4z"/><path class=c59 d="m436 138 2-9-2-4-3 9z"/><path class=c49 d="m246 213 2-13-2-5-3 13z"/><path class=c56 d="m415 152 3 3-2-5-3-3z"/><path class=c43 d="m216 209 3 15-2 6-3-15z"/><path class=c32 d="m204 230 3 15-3-6-2-15zm13 10 3-5-2-13-3 4z"/><path class=c30 d="m202 237 3 6-2-14-3-7zm16 14 3-13-2 14-3 13z"/><path class=c27 d="m280 234 3-15-2-5-3 14zm-75 9 3 15-2-14-3-15z"/><path class=c28 d="m268 235 3 14-2-6-3-14zm-63 8 3 6-3-6-3-6z"/><path class=c23 d="m249 250 3-14-2 14-3 14zm21-1 3 14-2-14-3-14z"/><path class=c17 d="m273 277 3-6-2-13-3 6zm5-1 3-14-2-5-3 14z"/><path class=c21 d="m209 271 2-5-2-14-3 5zm66-2 3 6-3 7-3-6z"/><path class=c24 d="m247 267 3 6-3-13-2-7zm22-19 3 6-2-5-3-6z"/><path class=c35 d="m225 234 3 7-3 6-3-6z"/><path class=c33 d="m203 229 3 15-2-14-3-15zm24 19 3-13-2-14-3 13z"/><path class=c38 d="m201 215 3 15-2-6-3-15zm13 18 3 7-2 15-3-7z"/><path class=c36 d="m181 231 2-4-2 6-3 4zm19-9 3 7-2-14-3-7z"/><path class=c37 d="m180 230 3-13-2 14-3 13zm35-4 3-4-2-14-3 5z"/><path class=c40 d="m184 227 3-12-3-6-3 13zm92-15 3 6-2 15-3-6z"/><path class=c34 d="m220 235 3 7-2-14-3-6zm61-21 3-7-3 7-2 6z"/><path class=c32 d="m203 239 2-13-2 14-3 13zm80-20 3-6-2-6-3 7zm-71 29 3 7-2 15-3-7z"/><path class=c34 d="m222 239 3-5-3 7-2 5zm63-9 3 14-2-13-3-14z"/><path class=c31 d="m207 237 3 6-2 6-3-6zm58-8 3 6-3-14-2-6zm-41 23 3-4-2-14-3 5z"/><path class=c39 d="m218 222 3 6-2-13-3-7zm65-5 3 14-2-5-3-14z"/><path class=c28 d="m209 252 3-13-2-13-3 13zm68 2 3 6-2 15-3-6z"/><path class=c44 d="m212 218 2 15-2 15-3-15zm4-10 3 7-3-6-2-7zm11 18 3 15-2 16-3-16z"/><path class=c29 d="m204 242 3-5-2 6-3 4zm42 15 3 15-2-5-3-15z"/><path class=c35 d="m206 227 3-5-2 15-3 5zm15 11 3-14-2 15-3 13z"/><path class=c36 d="m220 236 3-13-2 15-3 13zm43-21 2 6-2-6-3-5z"/><path class=c38 d="m181 232 3-5-3-5-3 4zm39 2 3-5-3 7-3 4z"/><path class=c40 d="m224 224 3-4-2 14-3 5zm57-12 3 14-2 6-3-14z"/><path class=c31 d="m285 238 3 5-3-13-2-6zm-82 2 3-13-2 15-3 13z"/><path class=c33 d="m202 238 3-5-2 6-3 5zm87-2 3 5-2 7-3-6zm-106 9 3-4-2-14-3 5z"/><path class=c37 d="m205 226 3-13-2 14-3 13zm74-8 3 14-3 15-2-14z"/><path class=c31 d="m204 243 3-4-2-6-3 5zm88 6 3-14-3-12-3 14z"/><path class=c29 d="m277 244 3-14-3-13-3 14zm5-1 3-5-2-14-3 6z"/><path class=c45 d="m301 208 3 14-2-4-3-14z"/><path class=c43 d="m196 202 3 7-3 5-3-6zm104 13 3 6-2-13-3-5z"/><path class=c34 d="m192 226 3-13-2-6-3 13zm5 1 3-5-2-14-3 5zm4 9 3 7-2-5-3-7z"/><path class=c41 d="m193 207 3-5-3 6-2 4zm5 1 3 7-2-6-3-7zm25 15 3-13-2 14-3 14z"/><path class=c48 d="m204 210 2 7-2 15-3-7zm94-7 3 5-2-4-3-6z"/><path class=c36 d="m222 239 3-5-2-5-3 5zm61-15 2 6-2-13-3-6z"/><path class=c39 d="m195 213 3-5-2-6-3 5zm93 12 3-14-2 15-3 14z"/><path class=c42 d="m181 222 3-13-2 6-3 13zm109-4 3-14-2 7-3 14z"/><path class=c47 d="m214 211 3 16-3 6-2-15zm79-7 3-6-2 7-3 6z"/><path class=c43 d="m196 215 3 16-2 6-3-16zm82-9 3 6-2 6-3-6z"/><path class=c35 d="m205 233 3-13-3 6-2 13zm-10 8 3-12-2 6-3 13z"/><path class=c46 d="m191 206 3 15-2 14-3-15zm104 3 3-6-2-5-3 6z"/><path class=c34 d="m280 230 3-6-3-13-3 6zm-89 12 3-12-2-14-3 13zm30 3 3 7-2-13-3-7z"/><path class=c41 d="m213 235 3-12-2 6-3 13zm4-8 3 7-3 6-3-7zm63-16 3 6-2-5-3-6z"/><path class=c38 d="m225 234 3-13-3-5-2 13zm0 7 3 16-2 6-3-15z"/><path class=c51 d="m192 198 3 7-2-5-3-8zm37 13 3 15-2 15-3-15z"/><path class=c39 d="m189 229 3-13-3-14-2 13zm34 0 2-13-2 7-3 13z"/><path class=c22 d="m250 250 3-14-2 14-3 14z"/><path class=c24 d="m249 249 3-5-3 6-3 5zm30 8 3-14-2-13-3 14z"/><path class=c20 d="m280 269 3-14-2 7-3 14z"/><path class=c25 d="m210 263 3 7-2 6-3-7zm70-3 3-6-3 15-2 6z"/><path class=c26 d="m206 257 3-5-2-13-3 4zm77-2 3-14-2 7-3 14z"/><path class=c28 d="m252 236 3-14-2 14-3 14zm32 12 3-6-2-4-3 5z"/><path class=c37 d="m196 235 3-4-2-5-3 4zm85-3 3 6-2 7-3-6zm8-6 2-6-2 16-3 5z"/><path class=c27 d="m271 242 3 6-2 6-3-6zm12 12 3-14-3 15-3 14z"/><path class=c31 d="m254 230 3-14-2 6-3 14zm28 15 3-6-2 15-3 6zm4-4 3-5-2 6-3 6z"/><path class=c36 d="m257 216 3-6-2 6-3 6zm-65 27 3-4-2 15-3 4z"/><path class=c34 d="m260 221 3-6-3-5-3 6zm19 18 3 6-2 15-3-6z"/><path class=c43 d="m258 210 3 15-3 6-3-14zm20 7 3 15-2 7-3-15z"/><path class=c24 d="m206 264 3 7-3-14-3-7zm68-6 3-14-3-13-2 14z"/><path class=c22 d="m251 255 3-6-2-5-3 5zm20 9 3-6-2-13-3 6z"/><path class=c29 d="m205 254 3 15-2-5-3-16zm84 1 3-6-3-12-3 5z"/><path class=c54 d="m221 203 3 7-2 16-3-8z"/><path class=c44 d="m225 216 3-13-2 7-3 13z"/><path class=c49 d="m193 200 3 15-2 6-3-15zm35 3 3-5-2 7-3 5z"/><path class=c39 d="m194 230 3-4-2-14-3 4zm25 2 3 7-2-5-3-7z"/><path class=c42 d="m194 229 3-4-2 14-3 4zm14-16 3-5-2 14-3 5z"/><path class=c38 d="m209 233 3 15-2 15-3-16zm1-7 3-13-2-6-3 13z"/><path class=c33 d="m207 239 3-13-2-6-3 13zm78 0 3-14-2 15-3 14z"/><path class=c35 d="m284 238 3-6-2 7-3 6zm-61 10 3 15-3-5-3-15z"/><path class=c40 d="m208 220 3-13-3 6-3 13zm68 4 3 15-2 15-3-15z"/><path class=c38 d="m279 236 2-5-2-5-3 6zm-68 6 3-13-2-4-3 12z"/><path class=c44 d="m211 207 3-5-3 6-3 5zm11 19 3 15-2 7-3-16z"/><path class=c51 d="m209 202 3 16-3 15-3-16zm15 8 3 16-2 15-3-15z"/><path class=c41 d="m218 230 3 15-2-13-3-16zm8 15 3-13-2-4-3 12z"/><path class=c19 d="m250 263 3 6-2-14-3-6z"/><path class=c22 d="m254 261 3 14-2 7-3-15z"/><path class=c26 d="m246 243 3 6-3 6-3-6zm21 0 3 6-2-14-3-6z"/><path class=c20 d="m249 262 3 14-2-13-3-15z"/><path class=c19 d="m252 278 3-5-2-5-3 5z"/><path class=c25 d="m252 244 2-14-2 6-3 14zm16 4 3-6-2 6-3 6z"/><path class=c26 d="m247 247 2 15-2-14-3-14zm21 0 3-14-3 15-2 14z"/><path class=c32 d="m271 233 3-6-3 15-3 6zm15 7 3-14-3 15-3 14z"/><path class=c34 d="m253 232 3 14-2 15-3-15zm21-1 3-14-2-5-3 14zm0 8 3 15-2 15-3-14z"/><path class=c24 d="m242 259 3-14-2 7-3 13zm6-10 3 6-2-6-3-6z"/><path class=c33 d="m270 232 3-14-2 15-3 14zm6 18 3-14-3-4-3 13z"/><path class=c29 d="m203 250 3 7-2-14-3-7zm69-5 2-14-2-5-3 14z"/><path class=c36 d="m199 231 3 7-2 6-3-7zm73-5 3-14-2 6-3 14zm-52 17 3 15-2-13-3-15z"/><path class=c31 d="m203 248 3 16-3-14-3-15zm83 1 3 6-3-13-2-6z"/><path class=c41 d="m220 232 3 16-3-5-2-15zm55-20 3-6-2 6-3 6z"/><path class=c39 d="m277 217 3-6-2-5-3 6zm-54 32 3-4-2-5-3 5z"/><path class=c57 d="m226 195 3 16-2 15-3-16z"/><path class=c45 d="m206 217 3 16-2 14-3-15z"/><path class=c40 d="m209 237 3-12-3-14-2 13zm46-20 3 14-2 15-3-14z"/><path class=c28 d="m251 246 3 15-2 6-3-14zm5 9 2-14-2-13-3 13z"/><path class=c23 d="m253 268 3-13-3-14-3 14zm1 3 3-5-2 7-3 5z"/><path class=c24 d="m257 266 3-13-2 7-3 13z"/><path class=c33 d="m258 241 3-5-2-13-3 5zm28 1 3-5-2-5-3 6z"/><path class=c37 d="m250 225 3 7-2 14-3-6zm37 7 3-14-2 7-3 14z"/><path class=c36 d="m200 235 3 15-2-14-3-15zm84 1 2 6-2-4-3-6z"/><path class=c35 d="m202 238 3 16-2-6-3-15zm87-1 3-14-2-5-3 14z"/><path class=c33 d="m253 241 3-13-2-13-3 13zm32 6 3 15-2-13-3-14z"/><path class=c45 d="m207 224 2-13-2-13-3 13z"/><path class=c43 d="m213 213 3-5-2-6-3 5z"/><path class=c27 d="m267 246 3-14-2 15-3 14z"/><path class=c25 d="m247 248 3 15-2-14-3-15z"/><path class=c25 d="m249 253 3 14-3-5-2-15z"/><path class=c21 d="m250 273 3-5-3-13-3 5zm5 0 3-13-2-5-3 13z"/><path class=c32 d="m207 247 3 16-2 6-3-15zm46 3 3 6-2 15-3-6z"/><path class=c28 d="m246 246 3 7-2-6-3-6zm20-1 3-5-2 6-3 6z"/><path class=c26 d="m243 252 3-6-2-5-3 5zm24 5 3 14-2-13-3-15z"/><path class=c25 d="m241 258 3-14-2 15-3 14zm10 7 3 6-2 7-3-6zm17-7 3 6-2-13-3-7z"/><path class=c29 d="m241 248 3-5-3 15-2 5zm15 8 3-5-2 15-3 5zm11 6 3 6-2-4-3-7z"/><path class=c31 d="m245 234 3 15-2-6-3-14zm20 23 3 7-3-13-3-6z"/><path class=c27 d="m269 251 3-6-3-5-3 5zm3 4 3 14-3 7-3-15z"/><path class=c27 d="m270 268 3-5-3-4-2 5z"/><path class=c38 d="m204 232 3 15-2 7-3-16z"/><path class=c32 d="m244 234 3 14-2-14-3-14zm-39 25 3-4-2-5-3 4z"/><path class=c37 d="m242 220 3 14-2-5-3-15zm41 15 3 14-2-13-3-14z"/><path class=c30 d="m248 240 3 6-2 7-3-7zm21 0 3-14-2 6-3 14z"/><path class=c46 d="m216 216 3 16-2-5-3-16zm57-6 3 14-2 15-3-14z"/><path class=c29 d="m244 241 3 6-3-13-3-7zm22 3 3 7-3-6-3-6z"/><path class=c35 d="m247 231 3-6-2 15-3 5zm-41 19 3-13-2-13-3 12zm1 2 3-4-2 7-3 4z"/><path class=c37 d="m284 237 3 15-2-5-3-14zm-74 11 3-13-2 7-3 13z"/><path class=c43 d="m218 228 2 15-2-13-3-16zm50-9 3 6-2 15-3-6z"/><path class=c47 d="m215 214 3 16-2-14-3-15zm12 14 3-13-3-12-3 12z"/><path class=c31 d="m244 243 3-13-3 14-3 14zm21 0 3 15-2-14-3-14z"/><path class=c33 d="m208 255 3-13-2-5-3 13zm61-15 3 15-3 6-2-14z"/><path class=c42 d="m210 237 3-5-3 16-3 4zm71-15 3 14-3-4-3-15z"/><path class=c43 d="m214 229 3-4-2-5-3 5zm66-9 3 15-2-13-3-15z"/><path class=c50 d="m275 203 3 14-2 7-3-14z"/><path class=c40 d="m271 225 3 14-2 16-3-15zm5 7 3-6-2-12-3 5z"/><path class=c28 d="m250 255 3-14-2-13-3 14zm23 8 3-13-3-5-3 14z"/><path class=c30 d="m267 247 2 14-2-4-3-15zm3 12 3-14-2-12-3 13z"/><path class=c35 d="m263 230 3 14-3-5-2-14zm10 15 3-13-2-13-3 14z"/><path class=c39 d="m271 233 3-14-2-13-3 14zm11 0 3 14-2-12-3-15z"/><path class=c52 d="m273 196 2 7-2 7-3-7zm-60 5 3 15-2-5-3-15z"/><path class=c51 d="m224 215 3-12-2-13-3 12z"/><path class=c41 d="m198 221 3 15-2-5-3-16z"/><path class=c37 d="m200 233 3 15-3-13-2-16zm62-4 3 14-2-13-3-15z"/><path class=c34 d="m241 227 3 7-2-14-3-6zm-38 27 3-4-2-14-3 5z"/><path class=c54 d="m211 196 3 15-2 7-3-16z"/><path class=c44 d="m212 225 3-5-3-13-3 4zm5 0 3 7-2-4-3-8z"/><path class=c29 d="m245 245 3-5-2 6-3 6z"/><path class=c26 d="m247 260 3-5-2-13-3 5z"/><path class=c43 d="m213 232 2-12-2 15-3 13z"/><path class=c48 d="m278 207 3 15-3-5-3-14z"/><path class=c42 d="m260 215 3 15-2-5-3-15zm19 11 3 7-2-13-3-6z"/><path class=c40 d="m259 223 3 6-2-14-3-6zm22 8 3 6-2-4-3-7z"/><path class=c46 d="m215 220 3 8-3-14-3-7zm40-16 3 6-3 7-3-6zm22 10 3 6-2-13-3-6z"/><path class=c47 d="m219 218 3 8-2 6-3-7zm26-5 3 7-3 15-3-7z"/><path class=c41 d="m237 208 3 6-2 6-3-6zm-16 37 3-5-3-12-2 4z"/><path class=c38 d="m236 219 3-5-2-6-3 5zm15 16 2 15-2 15-3-15zm5-7 3-5-2-14-3 6z"/><path class=c39 d="m199 231 3 7-2-5-3-7zm40-17 3 6-2-6-3-6z"/><path class=c44 d="m257 209 3 6-2-5-3-6zm17 10 3-5-2-13-3 5z"/><path class=c51 d="m212 207 3 7-2-13-3-7zm63-6 3 6-3-4-2-7z"/><path class=c42 d="m198 219 2 16-2-14-3-16zm26 21 3-12-3-13-3 13z"/><path class=c45 d="m253 219 3 15-3 16-2-15z"/><path class=c32 d="m264 242 3 15-2-14-3-14z"/><path class=c28 d="m268 264 2-5-2-13-3 5z"/><path class=c33 d="m238 233 3-6-2-13-3 5zm26 8 3 6-3-5-3-6z"/><path class=c48 d="m212 221 3-4-2 15-3 5zm22-16 3 15-2 7-3-15z"/><path class=c41 d="m237 220 3 15-2 7-3-15zm2 4 3 15-3-14-3-15z"/><path class=c51 d="m214 214 3-4-2 7-3 4z"/><path class=c46 d="m216 223 3-5-2 7-3 4z"/><path class=c30 d="m244 244 3-13-2 14-3 14z"/><path class=c52 d="m218 207 3-4-2 15-3 5z"/><path class=c42 d="m201 225 3 7-2 6-3-7z"/><path class=c40 d="m197 226 3 7-2-14-3-7zm42-1 3 15-2-5-3-15z"/><path class=c43 d="m197 225 3-13-2 15-3 12zm36-3 3-5-2-14-3 5z"/><path class=c48 d="m200 212 3-13-2 15-3 13zm15 8 3-13-2 16-3 12z"/><path class=c47 d="m195 205 3 16-2-6-3-15zm26 23 3-13-2-13-3 13z"/><path class=c45 d="m195 212 3 7-3-14-3-7zm1 10 3-4-2 7-3 4zm23 10 2-4-2-13-3 4z"/><path class=c51 d="m202 205 3-12-2 6-3 13zm17 10 3-13-2-4-3 12z"/><path class=c57 d="m208 189 3 7-2 6-3-7z"/><path class=c39 d="m252 243 3-13-2-4-3 13z"/><path class=c36 d="m266 234 3 6-2 7-3-6z"/><path class=c29 d="m260 253 3-14-2 7-3 14z"/><path class=c38 d="m235 235 3-5-2-13-3 5z"/><path class=c32 d="m243 242 3-5-2 6-3 5z"/><path class=c29 d="m245 253 2 7-2-13-3-7z"/><path class=c35 d="m240 235 3 7-2 6-3-6zm3 19 3 7-2-5-3-7z"/><path class=c30 d="m244 252 3 15-2-14-3-14z"/><path class=c34 d="m242 240 3 7-2-5-3-7zm26 6 3-13-2-13-3 13z"/><path class=c46 d="m201 214 3-4-3 15-3 4z"/><path class=c49 d="m204 211 3-13-2-5-3 12zm5 0 3-4-2-13-3 4z"/><path class=c37 d="m195 239 3-12-3 14-2 13z"/><path class=c40 d="m198 229 3-4-2 6-3 4zm6 7 3-12-3-13-3 12z"/><path class=c50 d="m215 217 3-12-3 15-2 12z"/><path class=c52 d="m190 192 3 8-2 6-3-8z"/><path class=c44 d="m192 216 3-4-3-14-3 4zm40 10 3 7-2 15-3-7z"/><path class=c31 d="m261 246 3-5-3-5-3 5z"/><path class=c35 d="m242 239 3 14-3-13-3-15zm19-3 3 6-2-13-3-6z"/><path class=c35 d="m243 242 3 15-2-5-3-15zm16-1 3-5-3 15-3 5z"/><path class=c36 d="m241 237 3 15-2-13-3-15zm6-7 3-14-3 15-3 13z"/><path class=c31 d="m245 247 3-5-2-5-3 5zm14 4 3-13-2 15-3 13z"/><path class=c42 d="m198 227 3-13-3 15-3 12zm60 0 3 7-2 7-3-7z"/><path class=c38 d="m240 235 3 7-2-5-3-7zm16-1 3 7-3 15-3-6z"/><path class=c34 d="m246 237 3-14-2 7-3 13zm17 2 3-5-2 7-3 5zm-26 7 3-13-3 7-3 13z"/><path class=c41 d="m250 216 2-5-2 14-3 6zm15 8 3-5-2 15-3 5z"/><path class=c39 d="m238 230 3 7-2-13-3-7zm11-7 3-14-2 7-3 14zm-48 18 3-5-3-13-3 4z"/><path class=c47 d="m235 219 2 7-2 7-3-7zm6-4 3-13-2 16-3 13z"/><path class=c32 d="m248 250 3 15-2 7-3-15zm0-8 3-14-2-5-3 14z"/><path class=c37 d="m251 228 3-13-2-6-3 14zm11 8 2-14-2 16-3 13z"/><path class=c36 d="m262 238 3-14-2 15-3 14zm-25 2 3-5-2-5-3 5z"/><path class=c43 d="m198 227 3-4-2-5-3 4zm40 1 3-13-2 16-3 13z"/><path class=c46 d="m199 218 3-13-2 7-3 13zm37-8 3 15-2-5-3-15zm6 8 3-5-3 15-2 5z"/><path class=c44 d="m236 217 3 7-3-14-2-7zm12 3 3 15-3 15-3-15zm4-11 3-5-3 7-2 5z"/><path class=c49 d="m189 202 3-4-2-6-3 5zm45 1 2 7-2-5-3-7z"/><path class=c41 d="m235 233 3-5-2 16-3 4zm7-5 3 7-2 7-3-7z"/><path class=c51 d="m243 208 3-13-2 7-3 13zm7-4 3 15-2 16-3-15z"/><path class=c56 d="m205 193 3-4-2 6-3 4zm41 2 3-4-2 7-3 4z"/><path class=c54 d="m207 198 3-4-2-5-3 4zm11 7 3-13-3 15-3 13zm30-5 3-5-2-4-3 4z"/><path class=c45 d="m201 223 3-12-2-6-3 13zm47 3 3-13-3-13-2 13z"/><path class=c38 d="m245 235 3 15-2 7-3-15z"/><path class=c33 d="m244 256 3-4-2-13-3 5zm21-5 3-5-2-13-3 5z"/><path class=c32 d="m246 261 3-5-2-4-3 4z"/><path class=c34 d="m249 256 3-13-2-4-3 13z"/><path class=c40 d="m245 239 3-13-2-13-3 13zm5 0 3-13-2-13-3 13z"/><path class=c36 d="m236 244 3-13-2 15-3 13z"/><path class=c39 d="m240 233 2-5-2 7-3 5zm21 1 3-5-2 7-3 5z"/><path class=c38 d="m242 244 3-5-2-13-3 5z"/><path class=c44 d="m237 226 3-5-2 7-3 5z"/><path class=c43 d="m254 215 3-6-2-5-3 5z"/><path class=c48 d="m231 208 3-5-3-5-3 5zm24 4 3 15-2 7-3-15z"/><path class=c60 d="m229 188 3 16-3 7-3-16z"/><path class=c54 d="m252 197 3 15-2 7-3-15zm-20 7 3 15-3 7-3-15z"/><path class=c45 d="m229 232 3-12-2-5-3 13zm24-6 3-5-2-13-3 5z"/><path class=c53 d="m217 210 3-12-2 7-3 12z"/><path class=c57 d="m220 198 3-13-2 7-3 13z"/><path class=c35 d="m247 252 3-13-2-13-3 13z"/><path class=c42 d="m264 222 3-13-2 15-3 14z"/><path class=c35 d="m262 245 3 6-2-13-3-6z"/><path class=c37 d="m263 238 3-5-2-4-3 5zm-22 11 3 7-2-12-3-8zm21-7 3 15-3-12-3-15z"/><path class=c40 d="m260 232 3 6-2-4-3-7zm4-3 3-14-3 7-2 14z"/><path class=c36 d="m264 247 3 15-2-5-3-15z"/><path class=c47 d="m267 209 3-6-2 16-3 5z"/><path class=c39 d="m266 233 3-13-2-5-3 14z"/><path class=c42 d="m259 230 3 15-2-13-3-15zm2 2 3 15-2-5-3-15z"/><path class=c41 d="m239 231 3-13-2 15-3 13z"/><path class=c44 d="m243 226 3-13-3-5-3 13zm26-6 3-14-2-4-3 13z"/><path class=c41 d="m239 236 3 8-2-13-3-7z"/><path class=c42 d="m241 238 2 16-2-5-3-15z"/><path class=c49 d="m251 213 3-5-3-13-3 5z"/><path class=c51 d="m230 215 2-4-2-13-3 5z"/><path class=c50 d="m216 219 3-4-2-5-3 4z"/><path class=c62 d="m223 185 3-4-2 7-3 4z"/><path class=c45 d="m267 215 3-13-3 7-3 13z"/><path class=c46 d="m257 217 3 15-2-5-3-15z"/><path class=c43 d="m240 231 3-5-3-5-3 5zm15-1 3-5-2-4-3 5zm4-3 3 15-3-12-2-15z"/><path class=c56 d="m222 202 3-12-2-5-3 13z"/><path class=c51 d="m270 202 3-6-3 7-3 6z"/><path class=c49 d="m272 206 3-5-2-5-3 6z"/><path class=c48 d="m257 215 2 15-2-13-3-15z"/><path class=c45 d="m258 225 3 7-2-5-3-6z"/><path class=c46 d="m240 221 3-13-2 7-3 13z"/><path class=c46 d="m237 224 3 7-3-5-2-7z"/><path class=c43 d="m238 234 3 15-2-13-3-15z"/><path class=c53 d="m254 202 3 15-2-5-3-15z"/><path class=c46 d="m256 221 3 6-2-12-3-7z"/><path class=c48 d="m236 221 3 15-2-12-3-16z"/><path class=c52 d="m234 208 3 16-2-5-3-15z"/><path class=c48 d="m238 223 3 15-3-4-3-16z"/><path class=c54 d="m233 205 3 16-2-13-3-15z"/><path class=c51 d="m254 208 3 7-3-13-3-7z"/><path class=c56 d="m251 195 3 7-2-5-3-6z"/><path class=c50 d="m235 218 3 16-2-13-3-16z"/><path class=c59 d="m231 193 3 15-2-4-3-16z"/><path class=c51 d="m235 215 3 8-3-5-3-7z"/><path class=c57 d="m230 198 3 7-2-12-3-8z"/><path class=c53 d="m232 211 3 7-2-13-3-7z"/><path class=c62 d="m228 185 3 8-2-5-3-7z"/><path class=c50 d="m232 220 3-5-3-4-2 4z"/><path class=c56 d="m227 203 3-5-2-13-3 5z"/><path class=c61 d="m225 190 3-5-2-4-3 4z"/></g><text x="123.4" y="6.9" font-size="4.9" text-anchor="middle">Rastrigin Function</text><text x="17.5" y="133.7" font-size="4.9" text-anchor="end">0</text><text x="17.5" y="123.7" font-size="4.9" text-anchor="end">10</text><text x="17.5" y="113.7" font-size="4.9" text-anchor="end">20</text><text x="17.5" y="103.7" font-size="4.9" text-anchor="end">30</text><text x="17.5" y="93.7" font-size="4.9" text-anchor="end">40</text><text x="17.5" y="83.7" font-size="4.9" text-anchor="end">50</text><text x="17.5" y="73.7" font-size="4.9" text-anchor="end">60</text><text x="17.5" y="63.7" font-size="4.9" text-anchor="end">70</text><text x="17.5" y="53.7" font-size="4.9" text-anchor="end">80</text><text x="17.5" y="43.7" font-size="4.9" text-anchor="end">90</text><text x="116.8" y="181.3" font-size="4.9" text-anchor="middle">−5</text><text x="175.2" y="166.2" font-size="4.9" text-anchor="middle">0</text><text x="234.0" y="150.4" font-size="4.9" text-anchor="middle">5</text><text x="16.5" y="139.2" font-size="4.9" text-anchor="middle">5</text><text x="60.9" y="160.2" font-size="4.9" text-anchor="middle">0</text><text x="104.4" y="181.4" font-size="4.9" text-anchor="middle">−5</text><text x="61.5" y="182.8" font-size="4.9" text-anchor="middle">x2</text><text x="166.5" y="185.7" font-size="4.9" text-anchor="middle">x1</text><text transform="translate(8.2,88.9) rotate(-90)" font-size="4.9" text-anchor="middle">f(x1,x2)</text><path stroke="#8a8a8a" stroke-width="0.75" stroke-dasharray="0.8 1.3" fill="none" d="M448.8 168.4L356.7 126.8M478.0 160.4L385.9 118.7M507.2 152.4L415.1 110.7M536.4 144.3L444.3 102.6M404.2 169.6L521.0 137.4M388.9 162.6L505.7 130.4M373.6 155.7L490.3 123.5M358.2 148.7L475.0 116.5M342.9 141.8L459.6 109.6M327.5 134.8L444.3 102.6M356.7 126.8L356.7 35.8M385.9 118.7L385.9 27.7M415.1 110.7L415.1 19.7M444.3 102.6L444.3 11.6M327.5 124.7L444.3 92.5M327.5 114.6L444.3 82.4M327.5 104.5L444.3 72.3M327.5 94.4L444.3 62.2M327.5 84.2L444.3 52.0M327.5 74.1L444.3 41.9M327.5 64.0L444.3 31.8M327.5 53.9L444.3 21.7M327.5 43.8L444.3 11.6M536.4 144.3L536.4 53.3M521.0 137.4L521.0 46.4M505.7 130.4L505.7 39.4M490.3 123.5L490.3 32.5M475.0 116.5L475.0 25.5M459.6 109.6L459.6 18.6M444.3 102.6L444.3 11.6M536.4 134.2L444.3 92.5M536.4 124.1L444.3 82.4M536.4 114.0L444.3 72.3M536.4 103.9L444.3 62.2M536.4 93.7L444.3 52.0M536.4 83.6L444.3 41.9M536.4 73.5L444.3 31.8M536.4 63.4L444.3 21.7M536.4 53.3L444.3 11.6"/><path stroke="#8a8a8a" stroke-width="0.75" stroke-dasharray="0.8 0.5" fill="none" d="M536.4 144.3L444.3 102.6"/><path stroke="#444" stroke-width="0.8" fill="none" d="M327.5 134.8L327.5 43.8M327.5 134.8L419.6 176.5M419.6 176.5L536.4 144.3M327.5 134.8L325.3 133.8M327.5 124.7L325.3 123.7M327.5 114.6L325.3 113.6M327.5 104.5L325.3 103.5M327.5 94.4L325.3 93.4M327.5 84.2L325.3 83.3M327.5 74.1L325.3 73.1M327.5 64.0L325.3 63.0M327.5 53.9L325.3 52.9M327.5 43.8L325.3 42.8M419.6 176.5L417.3 177.1M404.2 169.6L401.9 170.2M388.9 162.6L386.6 163.2M373.6 155.7L371.2 156.3M358.2 148.7L355.9 149.3M342.9 141.8L340.5 142.4M327.5 134.8L325.2 135.4M419.6 176.5L421.8 177.5M448.8 168.4L451.0 169.4M478.0 160.4L480.2 161.4M507.2 152.4L509.4 153.3M536.4 144.3L538.6 145.3"/><g transform="scale(0.5)" stroke-width="0.6"><path class=d54 d="m834 166-8 0-7 15 7-1z"/><path class=d0 d="m762 239-2-1 2-1zm21-7 2-1 3 2zm2-1 2 0 5 3zm1 4-6-3 9 4 8 4zm1-4 2 0 6 3zm2 0 2 0 8 4zm0 5-7-4 11 4 7 4zm1 3-8-4 11 4 8 4zm1-8 2 0 2 1zm0 0 4 1 7 3zm1 3-5-3 8 3 8 4zm1-3 2 0 3 1zm0 8-7-4 11 5 8 4zm2-8 2-1 5 2zm0 1-2-1 5 1 8 4zm0 2-6-3 10 4 8 3zm1 3-8-4 12 4 7 4zm1-7 2 0 6 3zm1 2-3-1 7 1 7 4zm1-2 2-1 8 4zm0 5-8-4 11 4 8 4zm2-6 3 0 8 4zm1 3-5-2 8 3 8 3zm0 3-7-3 11 4 8 3zm1-6 2-1 3 1zm0 9-8-4 12 4 7 4zm1-9-1 0 5 0 8 3zm1-1 2-1 4 2zm0 5-6-3 10 3 7 3zm1 3-8-4 11 4 8 3zm1-9 2-1 6 2zm1 2-3-1 6 1 8 3zm1-3 2-2 7 3zm0 7-8-4 11 4 8 3zm0 3-7-4 11 4 8 4zm1 3-8-4 12 4 7 4zm1-15 2-2 1 1zm0 0 3-1 8 3zm0 5-4-2 8 1 8 3zm1 4-8-4 12 3 7 4zm1 3-8-3 11 3 8 3zm1 3-8-3 11 3 8 4zm1-11-6-2 9 1 8 3zm1 4-8-3 11 3 8 3zm0 4-7-3 11 3 8 3zm1 3-8-3 12 4 7 3zm2-7-8-3 12 2 7 3zm1 4-8-3 11 3 8 3zm3-5-8-3 11 2 8 3zm0 5-7-4 11 3 7 3zm1 3-8-3 12 3 7 3zm3-4-8-3 11 2 8 3zm1 4-8-3 11 3 8 3zm3 0-8-3 11 2 8 3zm3-1-7-3 11 2 8 3zm-93 10-4-2 2 0zm0 0-6-2 2 0zm1-1-1-1 2-1zm0 0-3-1 2 0zm7 4-8-3-2-2 3 1zm1-2-7-4 2 0zm0 1-8-3 1-2zm1-4-5-2 2-1zm0 2-6-3 1-1zm1-5-2 0 2-1zm0 2-4-2 2 0zm5 9-8-3-7-4 8 3zm1-3-7-3-5-4 5 2zm0 1-8-3-5-4 6 3zm1-3-7-4-2-2 2 0zm0 1-8-4-3-3 4 2zm1-6-6-3 2-1zm0 1-8-3 2-1zm0 2-8-4 0-1zm1-6-3-2 2-1zm0 1-5-2 2-1zm4 15-8-3-7-4 8 3zm1-4-7-3-7-5 7 4zm0 2-8-4-7-5 8 4zm0 1-8-4-7-4 7 3zm1-5-7-4-8-5 8 3zm0 1-8-3-7-6 8 4zm1-4-8-4-4-4 5 2zm0 1-8-4-6-4 6 3zm1-6-7-4 0-2zm0 1-8-3-1-3 2 1zm0 2-8-4-3-3 3 2zm1-6-6-4 2 0zm0 1-8-4 2-1zm2 19-7-3-7-4 7 3zm1-1-7-3-8-5 8 4zm0 1-8-4-7-4 8 4zm1-3-8-4-7-4 8 3zm0 1-8-3-7-5 7 3zm1-5-7-4-8-5 8 4zm0 1-8-3-7-6 8 4zm0 2-8-4-7-5 7 4zm1-6-7-4-8-5 8 3zm0 1-8-3-7-6 8 4zm1-6-7-4-6-5 6 4zm0 2-8-4-7-6 8 4zm0 1-8-4-7-5 7 4zm1-6-7-4-3-3 3 2zm0 2-8-4-4-4 5 2zm1-3-8-4-1-3 1 1zm2 20-7-3-8-5 8 4zm0 1-8-3-7-4 8 3zm0 1-8-3-7-4 7 3zm1-4-7-3-8-5 8 3zm0 1-8-3-7-5 8 4zm1-5-7-4-7-5 7 4zm0 2-8-4-7-5 8 3zm0 1-8-4-7-5 7 4zm1-6-7-4-8-5 8 4zm0 2-8-4-7-6 8 4zm1-5-8-4-7-5 8 4zm0 2-8-4-7-6 7 4zm1-6-7-4-8-6 8 4zm0 1-8-4-7-5 8 4zm0 2-8-4-7-6 7 4zm1-5-8-4-7-5 7 4zm0-1-8-4 12 4 7 4zm1 24-7-3-8-4 8 3zm1-2-7-4-7-4 7 3zm0 1-8-4-7-4 8 3zm0 0-8-3-7-4 7 3zm1-4-7-3-8-5 8 4zm0 2-8-4-7-5 8 4zm1-21-8-4 11 4 8 4zm0 17-8-4-7-5 8 4zm0 1-8-3-7-6 7 4zm1-6-7-3-8-6 8 4zm0 2-8-4-7-5 8 4zm0 1-8-3-7-6 7 4zm1-6-7-3-8-6 8 4zm0 2-8-4-7-5 8 4zm1-11-8-4 12 5 7 4zm0 5-7-4-8-5 8 4zm0 2-8-4-7-6 8 4zm0 1-8-4-7-5 7 4zm1-4-8-4 11 4 8 4zm1 23-8-3-7-4 8 3zm1-29-8-4 11 4 8 4zm0 27-8-3-7-5 8 4zm1-24-8-4 11 4 8 4zm0 3-7-4 11 4 7 4zm0 18-7-4-8-5 8 4zm0 1-8-4-7-4 8 3zm0 1-8-3-7-5 7 3zm1-5-7-4-8-5 8 4zm0 1-8-3-7-5 8 3zm1-22-7-4 11 5 8 4zm0 17-7-4-7-5 7 3zm0 1-8-4-7-5 8 4zm0 2-8-4-7-5 7 3zm1-17-8-4 12 5 7 4zm0 11-7-4-8-5 8 4zm0 1-8-4-7-5 8 4zm1-9-8-4 11 5 8 4zm0 5-8-4-7-5 8 4zm0 1-8-3-7-6 7 4zm0-2-7-4 11 4 8 4zm2-9-8-4 11 4 8 4zm0 30-8-3-7-3 8 3zm0 1-8-3-7-4 7 3zm1-28-8-4 11 4 8 4zm0 3-7-4 11 4 7 4zm0 22-7-3-8-5 8 4zm0 1-8-3-7-4 8 3zm1-20-8-4 11 4 8 4zm0 16-7-4-7-5 7 4zm0 1-8-3-7-5 8 3zm1-4-7-3-8-6 8 4zm0 2-8-4-7-5 8 4zm1-21-8-4 12 5 7 3zm0 16-8-3-7-6 8 4zm0 2-8-4-7-5 7 4zm1-6-7-4-8-5 8 4zm0 2-8-4-7-5 8 3zm0 1-8-4-7-5 7 4zm1-4-8-4-7-5 7 4zm0-1-8-4 12 4 7 4zm1-12-8-4 11 4 8 4zm1 3-8-4 11 4 8 4zm0 28-7-3-7-4 7 3zm0 1-8-3-7-4 8 3zm2-20-8-4 11 4 8 4zm0 15-8-3-7-5 8 4zm1-24-8-4 11 4 8 4zm0 20-7-3-8-5 8 3zm0 2-8-4-7-5 8 4zm0 1-8-3-7-5 7 3zm1-20-8-4 11 4 8 4zm0 3-7-4 11 4 8 4zm0 12-7-4-8-5 8 4zm0 1-8-4-7-5 8 4zm1-10-8-4 12 4 7 4zm0 5-7-4-8-5 8 4zm0 1-8-4-7-5 8 4zm0 1-8-3-7-6 7 4zm1-18-8-4 11 4 8 3zm0 2-7-3 11 4 8 3zm0 12-8-3 11 4 8 3zm1-9-7-3 11 4 7 3zm1 3-8-3 11 4 8 3zm0 26-8-3-7-4 7 3zm1-37-8-4 11 3 8 4zm0 3-7-4 11 4 7 3zm0 15-7-4 11 4 7 4zm1-12-8-4 11 4 8 4zm0 26-7-4-8-5 8 4zm0 1-8-4-7-4 8 3zm1-24-8-4 11 4 8 4zm0 3-7-4 11 4 8 4zm0 16-7-4-7-5 7 4zm0 1-8-4-7-5 8 4zm0 1-8-3-7-5 7 3zm1-15-8-4 12 4 7 4zm0 10-7-4-8-5 8 4zm0 1-8-3-7-5 8 3zm1-23-8-4 11 4 8 3zm0 3-7-3 11 3 8 4zm0 12-8-4 11 4 8 4zm0 4-8-3-7-5 8 3zm0 2-8-4-7-5 7 4zm1-15-8-4 12 4 7 4zm0 12-8-4 11 4 8 4zm1-9-8-4 11 4 8 4zm1-9-7-3 11 3 7 3zm0 12-8-4 11 4 8 4zm0 3-7-4 11 4 7 4zm1-12-8-3 11 3 8 4zm0 15-8-3 11 4 8 3zm0 15-7-3-7-5 7 4zm0 1-8-3-7-5 8 4zm1-28-8-3 11 4 8 3zm0 3-7-3 11 4 8 3zm0 22-7-4-8-5 8 4zm0 1-8-3-7-5 8 3zm1-20-8-3 12 4 7 3zm0 16-8-3-7-5 8 3zm0 2-8-4-7-5 7 4zm1-30-8-4 11 3 8 3zm0 3-7-3 11 3 8 3zm0 12-8-3 11 4 8 3zm0 4-7-4 11 4 8 3zm0 5-7-3-8-5 8 3zm0 2-8-4-7-5 8 4zm0 1-8-4-7-5 7 4zm1-20-8-4 12 4 7 3zm0 16-8-4-7-5 8 4zm0-1-7-4 11 4 7 4zm1-12-8-4 11 4 8 3zm1-11-7-3 11 3 7 3zm0 14-8-4 11 4 8 3zm0 3-7-4 11 4 7 4zm1-13-8-3 11 3 8 3zm0 16-8-4 11 4 8 4zm1-12-8-4 11 4 8 3zm0 3-7-4 11 4 7 3zm0 12-8-4 11 4 8 4zm0 14-8-3-7-4 8 3zm1-23-8-4 12 4 7 4zm0 20-7-3-8-5 8 3zm0 1-8-3-7-5 8 4zm1-35-8-3 11 2 8 3zm0 4-7-3 11 2 8 4zm0 13-8-4 11 4 8 4zm0 3-7-4 11 4 8 4zm0 12-7-4-8-5 8 4zm0 1-8-4-7-5 8 4zm1-25-8-4 12 3 7 4zm0 15-8-3 12 3 7 4zm0 5-7-4-7-5 7 4zm0 1-8-4-7-5 8 4zm0 1-8-3-7-5 7 3zm1-19-8-3 11 3 8 3zm0 15-8-3 11 4 8 3zm1-12-8-3 11 3 8 4zm0 3-7-3 11 3 7 4zm1-14-8-3 11 3 8 3zm0 17-8-3 11 4 8 3zm1-13-8-3 11 3 8 3zm0 4-7-3 11 3 7 3zm0 12-8-3 11 4 8 3zm0 4-7-4 11 4 8 3zm1-13-8-3 11 3 8 4zm1-11-7-3 11 2 7 3zm0 14-8-3 11 4 8 3zm0 4-7-4 11 4 8 3zm0 15-7-3-7-5 7 4zm0 1-8-3-7-5 8 4zm1-30-8-3 12 3 7 3zm0 17-8-4 12 4 7 3zm0 10-7-4-8-5 8 4zm0 1-8-3-7-5 8 3zm1-24-8-3 11 3 8 3zm0 3-7-3 11 3 8 4zm0 13-8-4 11 4 8 4zm0 4-8-3-7-5 8 3zm0 2-8-4-7-5 7 4zm1-15-7-4 11 4 7 3zm0 12-8-4 11 4 8 4zm1-9-8-4 11 4 8 3zm1-14-8-4 11 3 8 3zm0 4-7-4 11 3 7 3zm0 13-8-4 11 4 8 4zm0 3-7-4 11 4 7 4zm1-13-8-3 11 3 8 3zm0 16-8-3 12 3 7 4zm1-12-8-4 11 4 8 3zm0 3-7-4 11 4 8 3zm1-15-8-3 11 2 8 2zm0 18-8-3 12 3 7 4zm1-14-8-3 11 3 8 3zm0 4-7-3 11 3 8 3zm0 13-8-3 11 3 8 4zm0 9-7-3-8-5 8 3zm0 1-8-3-7-5 8 4zm1-19-8-4 12 4 7 3zm0 12-8-3 11 4 8 3zm0 5-8-4-7-5 8 4zm0-1-7-4 11 4 7 3zm1-13-8-3 11 3 8 3zm1-11-7-3 11 2 7 3zm0 14-8-3 11 3 8 4zm0 3-7-3 11 4 7 3zm1-13-8-3 11 2 8 3zm0 17-8-4 11 4 8 3zm1-13-8-4 11 3 8 4zm0 3-7-3 11 3 7 3zm0 13-8-4 11 4 8 3zm1-10-8-3 12 3 7 4zm1-11-7-3 11 3 8 2zm0 15-8-4 11 4 8 3zm0 3-7-4 11 4 8 3zm1-14-8-3 12 3 7 3zm0 17-7-4 11 4 7 4zm1-13-8-3 11 3 8 3zm0 16-8-3 11 3 8 4zm1-13-8-3 11 3 8 4zm0 4-7-4 11 4 7 3zm1-15-8-3 11 2 8 2zm0 18-8-4 11 4 8 3zm1-14-8-3 11 2 8 3zm0 4-7-3 11 3 7 3zm0 13-8-3 11 3 8 4zm0 3-7-3 11 3 8 4zm1-13-8-3 11 3 8 4zm1 4-8-4 11 4 8 3zm0 3-7-3 11 3 8 3zm1-15-8-3 12 2 7 3zm0 18-8-3 12 3 7 4zm1-13-8-4 11 3 8 3zm0 3-7-3 11 3 8 3zm0 13-8-3 11 4 8 3zm1-9-7-4 11 4 7 3zm1 3-8-3 11 3 8 3zm1-11-7-3 11 2 7 3zm0 14-8-3 11 3 8 4zm1-10-8-3 11 3 8 3zm1 4-8-4 11 4 8 3zm0 3-7-3 11 3 8 3zm1 3-8-3 12 3 7 4zm1-10-7-3 11 2 8 3zm1 4-8-4 12 3 7 3zm1 3-8-3 11 3 8 3zm1 3-8-3 11 3 8 4zm1-11-8-3 11 2 8 3zm1 4-8-3 11 3 8 3zm0 4-7-3 11 3 8 3zm1 3-8-3 12 3 7 4zm2-7-8-3 12 2 7 3zm1 4-8-3 11 2 8 3zm1 3-8-3 11 3 8 3zm2-4-7-3 11 3 7 3zm1 4-8-3 12 3 7 3zm3-4-8-3 11 2 8 3zm1 4-8-3 11 2 8 3zm3-1-8-3 11 3 8 3zm1 4-8-3 11 3 8 3zm3 0-7-3 11 2 7 3zm4-1-8-3 11 3 8 2zm-70 4-8-3-7-4 8 3zm0 1-8-3-7-4 7 3zm1-3-8-3-7-4 7 3zm6 6-7-3-8-4 8 3zm1-1-8-3-7-4 7 3zm2-4-8-4-7-4 7 3zm5 7-7-3-8-4 8 3zm1-1-8-3-7-5 8 4zm1-3-7-3-8-5 8 3zm0 1-8-3-7-5 8 4zm1-3-8-4-7-4 8 3zm0 1-8-4-7-4 7 3zm1-2-8-4-7-5 7 4zm4 10-7-3-8-4 8 3zm1-1-8-3-7-4 8 3zm1-4-7-3-8-5 8 4zm0 1-8-3-7-5 8 4zm0 1-8-3-7-4 7 3zm1-4-7-3-8-5 8 3zm0 1-8-3-7-5 8 4zm1-5-7-3-7-5 7 4zm0 2-8-4-7-5 8 4zm0 1-8-4-7-4 7 3zm4 10-7-3-7-4 7 3zm0 1-8-3-7-4 8 3zm1-3-7-3-8-4 8 3zm0 1-8-3-7-4 8 3zm1-2-8-4-7-4 8 3zm0 1-8-4-7-4 7 3zm1-5-7-3-8-5 8 4zm0 1-8-3-7-5 8 4zm0 1-8-3-7-4 7 3zm1-4-8-4-7-4 8 3zm0 1-8-3-7-5 7 3zm1-2-8-4 11 4 8 3zm2-3-7-4 11 4 8 3zm1 3-8-4 12 4 7 3zm0 13-8-3-7-4 8 3zm1-2-7-3-8-5 8 4zm0 1-8-4-7-4 8 4zm0 0-8-3-7-4 7 3zm2-15-8-4 11 4 8 3zm0 8-7-3-8-5 8 4zm0 1-8-3-7-4 8 3zm0 2-8-4-7-4 7 3zm1-8-8-4 11 4 8 3zm0 4-8-3-7-5 8 4zm0-1-7-3 11 3 7 3zm2-6-7-4 11 4 7 3zm1 3-8-3 12 3 7 3zm1 3-8-3 11 3 8 4zm1 11-8-3-7-4 8 3zm0 1-8-3-7-4 7 3zm1-18-8-4 11 4 8 3zm0 14-7-3-8-5 8 3zm0 1-8-3-7-5 8 4zm1-12-8-3 11 3 8 3zm0 3-7-3 11 3 7 4zm0 6-8-4-7-4 8 3zm0 1-8-4-7-4 7 3zm1-3-8-3-7-4 7 3zm0-1-8-3 11 3 8 4zm1-9-7-4 11 4 7 3zm1 3-8-3 11 3 8 3zm1 3-8-3 11 3 8 4zm0 3-7-3 11 4 8 3zm1 12-7-3-8-4 8 3zm0 0-8-3-7-3 8 3zm1-21-8-4 11 4 8 3zm0 3-7-3 11 3 8 3zm0 16-8-3-7-4 8 3zm0 1-8-3-7-4 7 3zm1-14-7-3 11 3 7 4zm0 10-7-3-8-5 8 4zm0 1-8-3-7-5 8 4zm0 1-8-3-7-4 7 3zm1-8-8-4 11 4 8 3zm1-10-7-4 11 3 7 3zm0 13-8-4 11 4 8 3zm1-10-8-3 11 3 8 3zm1 3-8-3 11 3 8 4zm0 4-7-4 11 4 8 3zm1 3-8-4 12 4 7 3zm1-10-7-3 11 3 8 3zm0 20-7-3-8-4 8 3zm0 1-8-3-7-4 8 3zm1-18-8-3 12 3 7 3zm0 15-7-3-8-4 8 3zm0 1-8-3-7-4 8 3zm1-12-8-4 11 4 8 3zm0 9-8-3-7-4 8 3zm0 1-8-3-7-4 7 3zm1-7-8-3 11 3 8 3zm0 4-8-3-7-5 8 4zm0-1-7-3 11 3 7 3zm1-13-8-3 11 2 8 3zm1 3-8-3 11 3 8 3zm0 4-7-4 11 4 7 3zm1 3-8-3 12 3 7 3zm1-11-7-3 11 3 8 3zm0 14-8-3 11 3 8 3zm1-10-8-3 12 3 7 3zm0 19-7-3-7-4 7 3zm0 1-8-3-7-4 8 3zm1-16-8-4 11 3 8 3zm0 13-7-3-8-4 8 3zm0 1-8-3-7-4 8 3zm1-11-8-3 11 3 8 3zm0 3-7-3 11 3 7 3zm0 5-8-3-7-4 8 3zm0 1-8-3-7-4 7 3zm1-20-8-3 11 2 8 3zm0 18-8-3-7-4 7 3zm0-1-8-3 11 3 8 3zm1-13-8-3 11 2 8 3zm0 3-7-3 11 3 7 3zm1 4-8-3 11 3 8 3zm1 3-8-3 11 3 8 3zm0 3-7-3 11 3 8 3zm1-14-8-3 12 3 7 3zm1 4-8-3 11 3 8 3zm0 4-7-3 11 2 8 3zm0 15-8-3-7-4 8 3zm1-12-7-3 11 3 7 3zm0 9-7-3-8-4 8 3zm0 1-8-3-7-4 8 3zm0 1-8-3-7-4 7 3zm1-8-8-3 11 3 8 3zm0 4-7-3-8-4 8 3zm0 1-8-3-7-4 8 3zm1-15-7-3 11 2 7 3zm0 13-8-3 11 3 8 3zm1-10-8-3 11 3 8 3zm1 4-8-3 11 3 8 3zm0 3-7-3 11 3 8 3zm1 3-8-3 12 3 7 3zm1-10-7-3 11 3 8 3zm1 4-8-3 12 2 7 3zm0 14-7-3-8-4 8 3zm1-11-8-3 11 3 8 3zm0 8-7-3-7-4 7 3zm0 1-8-3-7-4 8 3zm0 1-8-3-7-4 7 3zm1-7-8-3 11 3 8 3zm0 4-8-3-7-4 8 3zm0-1-7-3 11 3 7 3zm1-13-8-3 11 2 8 3zm1 3-8-3 11 3 8 3zm0 4-7-3 11 3 8 3zm1 3-8-3 12 3 7 3zm1 3-8-3 11 3 8 3zm1-10-8-3 12 3 7 3zm1 4-8-3 11 2 8 3zm1 3-8-3 11 3 8 3zm0 3-7-3 11 3 7 3zm0 5-8-3-7-4 8 3zm0 1-8-3-7-4 7 3zm1-2-8-3-7-4 7 3zm0-1-8-3 11 3 8 3zm1-10-7-3 11 3 7 3zm1 4-8-3 12 3 7 3zm1 3-8-3 11 3 8 3zm0 3-7-3 11 3 8 3zm3-6-8-3 11 2 8 3zm0 3-7-3 11 3 7 3zm1 3-8-3 11 3 8 3zm0 4-7-3-8-4 8 3zm1-1-8-3 11 3 8 3zm2-6-8-3 11 3 8 3zm0 3-7-3 11 3 8 3zm1 3-8-3 12 3 7 3z"/><path class=d1 d="m771 235-1-1 2 0zm0 2-3-2 2-1zm0 1-5-2 2-1zm1-4 2-1 1 1zm0 0 3 0 8 4zm2-1 2 0 3 1zm2 0 2-1 4 3zm2-1 2 0 6 3zm1 7-8-4 1-1zm0-1-7-4 11 4 8 4zm1-6 2 0 7 4zm2 3-4-3 8 3 7 4zm1 3-8-4 11 4 8 4zm30-16 2-2 3 1zm1 1-1-1 5-1 7 3zm4 4-7-3 11 2 8 2zm4-1-8-3 11 1 8 2zm4 4-8-3 12 1 7 3zm4-2-8-2 11 0 8 3zm0 6-7-3 11 2 7 2zm4-1-8-3 11 1 8 3zm4 4-8-3 11 1 8 3zm3-2-7-2 11 1 8 2zm-101 13-8-3 1 0zm1 0-8-3 2 1zm7 3-8-3-7-3 8 3zm8 3-8-3-7-3 8 3zm8 3-8-3-7-3 8 3zm8 3-8-3-7-3 8 3zm23 9-8-3-7-3 8 3zm8 3-8-3-7-3 8 3zm8 3-7-3-8-4 8 3zm0 0-8-3-7-3 8 3zm8 3-8-3-7-4 8 3zm23-37-8-3 12 2 7 3zm4-1-8-3 11 1 8 3zm4 4-8-3 11 2 8 2zm3-1-7-3 11 1 7 2zm4 4-7-3 11 1 8 3zm5 4-8-3 11 1 8 3zm3-2-8-2 12 1 7 3zm4 5-7-3 11 1 8 3zm4-2-8-3 11 2 8 2zm1 5-8-2 11 1 8 3zm3-1-8-2 12 1 7 3zm1 5-8-3 11 2 8 3zm3-1-7-3 11 2 7 3zm4-1-8-3 11 2 8 2zm0 5-7-3 11 2 8 3zm4-1-8-3 11 2 8 3zm1 5-8-3 11 2 8 3zm3-1-8-3 12 2 7 3zm4-1-8-3 11 2 8 2zm0 5-7-3 11 2 7 3zm4-1-8-3 11 2 8 2zm0 5-7-3 11 2 8 3zm4-1-8-3 11 2 8 2zm3-1-7-3 11 1 8 3zm1 5-8-3 12 2 7 2zm4-1-8-3 11 1 8 3zm7 2-7-2 11 1 7 3zm-93 1-8-3-7-3 8 3zm23 9-8-3-7-3 8 3zm1 0-8-3-7-4 8 3zm7 3-8-3-7-3 8 3zm8 2-8-2-7-3 8 2zm8 3-8-3-7-3 8 3zm1 0-8-3-7-4 7 3zm7 2-7-2-8-4 8 3zm0 1-8-3-7-3 8 3zm1-1-8-3-7-4 8 3zm7 3-7-3-7-4 7 3zm0 0-8-3-7-3 8 3zm0 1-8-3-7-3 7 2zm8 2-8-3-7-4 8 3zm8 3-8-3-7-4 8 3zm1-1-8-3-7-4 7 3zm6-26-7-3 11 2 8 3zm1 29-7-3-8-4 8 3zm0 0-8-3-7-3 8 3zm1-1-8-3-7-4 7 3zm2-29-8-2 11 1 8 3zm1 5-8-3 11 2 8 3zm3-1-8-3 12 2 7 3zm1 4-8-3 11 3 8 3zm0 24-7-3-8-4 8 3zm0 0-8-2-7-4 8 3zm1-1-8-3-7-4 8 3zm2-28-8-3 11 2 8 3zm0 5-7-3 11 2 7 3zm4-1-8-3 11 2 8 3zm0 4-7-3 11 3 8 2zm1 24-8-3-7-4 8 3zm1-3-7-3-8-4 8 3zm0 1-8-3-7-4 8 3zm0 1-8-3-7-4 7 3zm2-23-8-3 11 2 8 2zm1 4-8-3 11 2 8 3zm2-5-7-3 11 2 8 2zm1 4-8-3 12 2 7 3zm1 4-8-3 11 3 8 2zm0 19-7-3-8-4 8 3zm0 0-8-2-7-4 8 3zm1-3-7-3-8-4 8 3zm0 1-8-3-7-4 8 3zm0 1-8-3-7-4 7 3zm1-3-8-3-7-4 8 3zm1-20-8-2 11 1 8 3zm0 5-7-3 11 2 7 3zm1 3-8-3 11 3 8 3zm0 18-4-2 6 2zm2 0-6-2-7-4 8 3zm0 0-5-3 7 3zm1-22-8-3 11 2 8 3zm0 4-7-3 11 2 8 3zm1 4-7-3 11 2 7 3zm0 14-7-3-8-4 8 3zm1-11-8-3 11 3 8 3zm0 9-8-3-7-4 8 3zm0 1-8-3-7-4 7 3zm1-7-8-3 11 3 8 3zm0 4-8-3-7-4 8 3zm0 1-8-3-7-4 7 3zm0-2-7-3 11 3 6 3zm0 5-1-2 3 1zm1-19-8-2 11 2 8 2zm1 4-8-3 11 3 8 3zm0 4-7-3 11 3 8 2zm0 10-3-1-7-4 8 3zm0 0-2-2 4 2zm1-7-8-3 12 3 7 3zm1-11-7-3 11 2 8 2zm0 14-8-3 11 3 5 2zm0 4-4-2-8-4 8 3zm0 0-4-3 6 3zm1-14-8-3 12 2 7 3zm1 4-8-3 11 2 8 3zm0 10-6-3-7-4 7 3zm0 0-6-4 8 3zm1-7-8-3 11 3 8 3zm0 3-7-3 11 3 3 1zm1 3-8-3 10 3zm1-14-8-3 11 2 8 3zm0 4-7-3 11 3 8 2zm1 4-8-3 12 2 6 3zm0 6-6-3 8 2zm2-1-5-2 7 1zm1-9-8-3 11 2 8 3zm1 3-8-2 11 2 5 2zm0 5-3-1 5 0zm3-5-8-3 12 2 3 1zm1 4-8-3 10 2zm2-1-6-3 8 2zm2-1-5-2 7 0z"/><path class=d2 d="m815 220 2-3 4 2zm2-3 2-3 6 2zm1 4-3-1 6-1 8 2zm3-2-4-2 8-1 7 3zm4 5-7-3 11 0 8 3zm8 2-8-2 12 0 7 2zm4 5-7-3 11 1 7 2zm8 3-8-3 11 0 8 3zm4 4-8-3 12 1 7 3zm4-2-8-2 11 0 8 2zm-121 9-3-1 2 1zm0-1-5-2 2 2zm15 6-7-3-8-2 8 3zm16 6-8-2-7-3 8 3zm24 10-8-3-7-3 8 3zm15 5-7-3-8-2 8 3zm8 3-8-3-7-2 8 3zm8 3-8-3-7-2 8 3zm39-36-8-3 11 1 8 2zm4 4-8-2 11 0 8 3zm3-2-7-2 11 0 8 3zm5 5-8-3 11 1 8 3zm7 3-7-3 11 1 7 2zm5 4-8-3 11 1 8 3zm3-2-8-2 11 0 8 3zm4 5-7-3 11 1 7 2zm4 4-7-3 11 1 8 3zm4-2-8-2 11 0 8 3zm4 5-8-3 12 1 7 2zm4 4-7-3 11 1 7 3zm4-2-8-2 11 0 8 3zm4 4-8-2 11 1 8 2zm4 4-8-2 12 1 7 3zm4-1-8-3 11 1 8 3zm4 4-8-3 11 2 8 2zm-90 5-8-3-7-2 8 2zm8 3-8-3-7-3 8 3zm23 8-7-3-8-2 8 3zm8 3-8-3-7-2 8 2zm8 3-8-3-7-3 8 3zm8 2-8-2-7-3 8 3zm16 6-8-3-7-3 8 3zm8 3-8-3-7-3 8 3zm8 2-8-2-7-3 8 2zm7-31-8-3 11 2 8 2zm1 34-7-3-8-3 8 2zm2-35-7-3 11 1 8 3zm1 5-7-3 11 2 7 2zm4-1-8-3 11 1 8 3zm1 33-8-2-7-4 8 3zm1 1-1-1 3 1zm2-30-8-3 11 1 8 3zm0 30-3-1-7-3 8 2zm0 0-2-2 4 2zm3-32-7-2 11 1 7 2zm1 5-8-2 12 1 7 3zm4-1-8-2 11 1 8 2zm0 5-7-3 11 2 7 3zm4-1-8-3 11 2 8 2zm3-1-7-3 11 1 7 3zm1 5-8-3 11 2 8 2zm3-1-7-3 11 1 8 3zm1 4-8-2 12 1 7 3zm4-1-8-2 11 1 8 3zm0 5-7-3 11 2 7 3zm4-1-8-3 11 2 6 2zm1 4-8-2 11 2 2 0zm2-5-7-3 11 2 4 1zm1 6-3-1 5 0zm3-2-7-3 9 1z"/><path class=d25 d="m844 151-6-1 10-10 7 0zm-132 36-6 0 2 9zm159-23-7 0 11-10 8 0zm28 14-8-1 11-10 8 1zm19 12-8-1 12-9 7 0zm-175 10-8-1-7 7 8 1zm31 12-8-1-7 7 8 1zm23 11-7-1-8 7 8 1zm32 12-8-1-7 6 7 1zm116-33-7 0 11-9 7 0zm20 12-8-1 11-8 8 0zm8 1-8-1 11-9 8 1zm19 11-8-1 12-8 7 0zm-140 19-8-1-7 6 8 1zm8 1-8-1-7 6 7 1zm23 10-8-1-7 6 8 1zm20 10-4-1-7 6 7 1zm0 0-4 6 6 1z"/><path class=d26 d="m852 152-8-1 11-11 8 1zm-133 36-7-1-4 9 4 0zm160-23-8-1 12-10 7 1zm27 13-7 0 11-10 7 0zm20 13-8-1 11-10 8 1zm-175 10-8-1-7 7 7 1zm31 12-8-1-7 7 7 1zm23 11-8-1-7 7 8 1zm31 11-7 0-8 6 8 1zm117-32-8-1 11-9 8 1zm27 12-7 0 11-9 7 0zm20 12-8-1 11-9 8 1zm-133 20-7-1-8 6 8 1zm24 10-8-1-7 6 7 1z"/><path class=d3 d="m819 214 1-3 8 2zm6 2-6-2 9-1 8 2zm4 5-8-2 11 0 8 2zm8 3-8-3 11 0 8 2zm4 5-8-3 11 0 8 3zm3-3-7-2 11-1 7 3zm4 5-7-2 11 0 8 2zm8 3-8-3 12 0 7 2zm4 5-7-3 11 0 7 3zm-129 3-6-2 2 2zm8 4-7-2-3 0 3 1zm8 3-8-3-7-1 8 2zm8 4-8-3-7-2 8 3zm8 2-8-2-7-2 7 3zm39 15-8-2-7-2 8 2zm8 3-8-3-7-2 7 3zm58-32-8-2 11 0 8 2zm4 5-8-3 12 1 7 2zm4-2-8-3 11 0 8 2zm4 5-8-3 11 0 8 3zm7 2-7-2 11 0 8 2zm5 5-8-3 11 1 8 2zm7 2-7-2 11 0 8 2zm5 5-8-3 11 1 8 2zm3-2-8-3 12 0 7 2zm4 4-7-2 11 0 7 2zm4 5-7-3 11 1 8 2zm4-2-8-3 11 0 8 3zm4 4-8-2 12 0 7 3zm4 5-7-3 11 1 7 2zm4-2-8-3 11 1 8 2zm4 4-8-2 11 0 8 2zm-94 6-8-3-7-2 8 3zm24 9-8-3-7-2 8 2zm15 5-7-3-8-2 8 3zm8 3-7-3-8-2 8 3zm24 8-8-3-7-2 8 3zm8 3-8-3-7-2 8 3zm8 3-8-3-7-2 8 2zm7 2-7-2-7-3 8 3zm0 0-6-2 8 2zm4-35-8-2 12 1 7 2zm4-1-8-3 11 0 8 3zm4 4-8-3 11 1 8 2zm4 4-8-3 11 1 8 3zm3-2-7-2 11 0 8 3zm5 4-8-2 11 1 8 2zm4 4-8-2 11 1 8 2zm3-1-7-3 11 1 8 2zm1 5-8-2 12 1 7 2zm4-1-8-3 11 1 8 3zm4 4-8-3 11 1 3 1zm2 3-6-2 8 0zm1-5-7-2 11 1 1 0zm1 3-4-1 6-1z"/><path class=d27 d="m859 152-7 0 11-11 8 0zm-132 37-8-1-7 8 8 1zm160-23-8-1 11-10 8 0zm27 13-8-1 11-10 8 1zm19 12-7 0 11-10 8 0zm-175 10-7 0-8 7 8 1zm31 12-7 0-8 7 8 1zm24 12-8-1-7 7 8 1zm31 11-8-1-7 7 8 1zm117-32-8-1 11-9 8 0zm27 12-8-1 11-9 8 1zm19 11-7 0 11-9 1 0zm4 1-4-1 5-9zm-136 19-8 0-7 6 8 1zm23 11-7-1-8 6 8 1zm3 0-3 0-7 6 8 1zm0 0-2 7 4 1z"/><path class=d28 d="m840 139 2-12 1 0zm0 0 3-12 8 1zm27 14-8-1 12-11 7 1zm-132 36-8 0-7 8 8 1zm159-22-7-1 11-11 8 1zm28 13-8-1 11-10 8 0zm19 12-8-1 12-10 7 1zm-175 10-8-1-7 8 8 1zm31 12-8-1-7 8 8 1zm23 11-7 0-7 7 7 1zm32 12-8-1-7 7 7 1zm116-32-7-1 11-10 8 1zm28 12-8-1 11-9 8 0zm-113 31-8-1-7 7 7 1z"/><path class=d29 d="m848 140-8-1 11-11 8 0zm27 14-8-1 11-11 8 0zm-164 23-7 0 2 10zm31 13-7-1-7 9 7 1zm160-23-8 0 12-11 7 0zm27 13-7 0 11-11 7 0zm20 13-8-1 11-10 8 0zm-175 10-8-1-7 8 7 1zm31 12-8-1-7 8 7 1zm23 11-8-1-7 8 8 1zm31 11-7 0-8 7 8 1zm117-32-8 0 12-10 7 0z"/><path class=d4 d="m820 211 2-4 2 0zm0 0 4-4 8 3zm12 8-7-3 11-1 7 3zm8 2-8-2 11-1 8 2zm12 8-8-3 11 0 8 2zm8 2-8-2 11-1 8 2zm4 5-8-2 11-1 8 3zm7 3-7-3 11 0 8 2zm-132 5-8-2-4 0 5 2zm140-3-8-2 12-1 7 2zm4 5-7-2 11-1 7 3zm8 3-8-3 11 0 8 2zm4 5-8-3 12 0 7 2zm8 2-8-2 11-1 8 2zm8 2-8-2 11-1 8 2zm4 5-8-2 11-1 8 3zm7 2-7-2 11 0 8 2zm5 5-8-2 11 0 8 2zm7 3-7-3 11 0 7 2zm4 4-7-2 11 0 8 2zm8 2-8-2 12 0 7 2zm-74 16-7-2-8-2 8 3zm8 3-8-3-7-1 8 2zm8 2-8-2-7-2 7 3zm41 15-1 0 3 1zm2 1-3 0 5 1zm19-32-7-2 11 0 7 2zm4-2-8-3 11 0 8 2zm4 4-8-2 11 0 8 2zm4 5-8-3 12 1 7 2zm4-2-8-3 11 0 8 2zm4 4-8-2 11 0 8 2zm4 4-8-2 12 0 7 3zm7 5-3-1 5-1zm1-2-8-3 11 1zm1 0-1 0 3-2z"/><path class=d30 d="m855 140-7 0 11-12 7 0zm28 14-8 0 11-12 8 0zm-164 24-8-1-5 10 6 0zm31 13-8-1-7 9 8 1zm160-23-8-1 11-11 8 0zm27 13-8-1 11-11 8 1zm19 12-7 0 11-11 8 1zm-175 10-7 0-8 8 8 1zm31 12-7 0-8 8 8 1zm24 11-8 0-7 8 8 1zm31 12-8-1-7 8 8 1zm117-32-8-1 11-10 8 0zm19 11-7 0 11-10 7 1zm-113 32-7-1-8 7 8 1z"/><path class=d6 d="m723 235-2 0 2 3zm7 2-7-2 0 3zm8 2-8-2-7 1 8 2zm86-32-2 0 5-4 8 2zm8 3-8-3 11-2 8 2zm7 2-7-2 11-3 7 2zm4 6-7-3 11-1 8 2zm8 2-8-2 12-2 7 2zm8 2-8-2 11-2 8 1zm4 6-8-2 12-2 7 2zm8 2-8-2 11-2 8 2zm12 8-8-2 11-2 8 2zm-137 6-8-2-7 0 8 2zm16 5-8-2-7 0 7 2zm8 5-8-3-7 0 7 2zm7 2-7-2-8-1 8 3zm113-16-7-2 11-2 7 2zm12 8-8-2 12-2 7 2zm8 2-8-2 11-2 8 2zm12 7-8-2 11-1 8 2zm7 3-7-3 11-1 7 2zm5 5-8-2 11-1 8 2zm7 2-7-2 11-1 7 2zm4 5-7-2 11-1 8 2zm8 2-8-2 12-1 7 2zm-82 19-7-3-8-1 8 3zm8 2-8-2-7-1 8 2zm16 6-8-2-7-1 8 2zm8 2-8-2-7-1 7 2zm22 9-6-2-8-1 8 2zm0 0-6-1 8 3zm40-31-8-2 11-1 8 2zm8 3-8-3 11-1 8 2zm4 4-8-2 11 0 8 2zm7 3-7-3 11 0 3 0zm3 4-6-2 8-1z"/><path class=d5 d="m822 207 2-5 3 1zm6 6-8-2 12-1 7 2zm8 2-8-2 11-1 8 2zm12 8-8-2 11-1 8 2zm7 3-7-3 11-1 8 2zm12 7-7-2 11-1 7 2zm8 3-8-3 11-1 8 2zm-144 4-8-2 2 2zm7 2-7-2-6 0 6 2zm40 16-8-2-7-1 7 3zm7 2-7-2-8 0 8 2zm102-17-8-2 11-1 8 2zm7 3-7-3 11-1 8 2zm5 5-8-2 11-1 8 2zm7 2-7-2 11-1 7 2zm8 2-8-2 11-1 8 2zm4 5-7-2 11-1 7 3zm8 3-8-3 11 0 8 2zm4 5-8-3 12 0 7 2zm8 2-8-2 11-1 8 2zm4 5-8-2 11-1 8 2zm8 2-8-2 11-1 8 2zm7 2-7-2 11-1 7 2zm-85 15-8-2-7-2 8 3zm8 2-8-2-7-1 7 2zm7 3-7-3-8-1 8 3zm16 5-8-2-7-1 8 2zm58-20-7-2 11-1 8 3zm8 2-8-2 12 0 7 2zm4 5-7-2 11-1 7 3zm5 4-8-2 11 0 6 2zm3-2-8-2 11 0 5 1zm4 5-7-3 9 0z"/><path class=d31 d="m863 141-8-1 11-12 8 0zm27 14-7-1 11-12 7 1zm-163 23-8 0-7 9 7 1zm31 13-8 0-7 9 8 1zm159-23-7 0 11-12 8 1zm28 13-8 0 11-11 8 0zm19 13-8-1 12-10 7 0zm-175 10-8-1-7 9 8 1zm31 12-8-1-7 9 8 1zm23 11-7-1-7 9 7 0zm32 11-8 0-7 8 7 1zm116-32-7 0 11-11 8 1zm20 12-8-1 11-9zm1 0-1 0 3-10zm-114 31-8 0-7 7 8 1zm2 0-2 0-7 8 7 1zm0 0-2 9 3 0z"/><path class=d32 d="m871 141-8 0 11-13 8 1zm27 14-8 0 11-12 8 0zm-195 11-1 0 2 11zm31 13-7-1-8 10 8 1zm31 13-7-1-7 10 7 0zm160-23-8-1 12-11 7 0zm27 13-7-1 11-11 7 0zm20 12-8 0 11-11 8 0zm-175 10-8 0-7 9 7 0zm31 12-8 0-7 9 7 0zm23 11-8 0-7 8 8 1zm31 12-7-1-8 9 8 0zm117-32-8-1 12-10 7 0z"/><path class=d33 d="m878 142-7-1 11-12 7 0zm28 14-8-1 11-12 8 0zm-195 10-8 0 1 11zm31 13-8 0-7 10 8 0zm31 13-8 0-7 9 8 1zm160-23-8 0 11-12 8 0zm47 26-8-1 11-11 8 0zm-176 9-7 0-8 9 8 1zm55 24-8-1-7 9 8 1zm31 11-8 0-7 8 8 1zm117-32-8 0 11-11 6 0z"/><path class=d9 d="m826 197 2-6 6 2zm5 1-5-1 8-4 8 1zm-109 30-5-1 2 4zm8 2-8-2-3 3 3 1zm15 8-7-2-8 1 8 2zm94-38-8-2 11-4 8 2zm11 9-7-2 11-3 8 1zm8 2-8-2 12-4 7 2zm12 8-8-1 11-4 8 2zm8 2-8-2 11-3 8 2zm12 9-8-2 11-3 8 2zm7 2-7-2 11-3 7 1zm-144 8-8-2-7 1 8 3zm16 7-8-2-7 2 8 2zm7 2-7-2-7 2 7 2zm16 8-7-2-8 1 8 2zm8 1-8-1-7 1 8 2zm109-18-8-2 12-3 7 2zm8 2-8-2 11-3 8 2zm12 8-8-2 11-3 8 2zm7 2-7-2 11-3 7 2zm12 8-8-2 12-3 7 2zm12 7-8-1 12-3 7 2zm8 2-8-2 11-2 8 2zm12 8-8-2 11-2 8 2zm-117 6-8-2-7 1 7 2zm39 15-8-2-7 1 7 2zm15 7-7-2-7 0 7 2zm2 0-2 0-7 0 8 2zm0 0-1 2 3 1zm72-21-7-2 11-2zm2 1-2-1 4-4z"/><path class=d7 d="m722 232-3-1 2 4zm102-30 2-5 5 1zm3 1-3-1 7-4 8 2zm20 11-8-2 11-3 8 2zm20 10-8-2 11-3 8 2zm11 8-7-2 11-2 8 2zm8 2-8-2 12-2 7 2zm-140 8-8-3-7 1 7 2zm23 9-7-2-8 0 8 2zm16 7-8-2-7 0 8 2zm8 2-8-2-7 0 7 2zm105-18-8-2 11-2 8 2zm8 2-8-2 11-2 8 2zm11 8-7-2 11-2 8 2zm8 2-8-2 12-2 7 2zm12 8-8-2 11-2 8 2zm12 7-8-2 11-1 8 1zm8 2-8-2 11-2 8 2zm4 5-8-2 11-1 8 2zm7 2-7-2 11-1 8 2zm-81 19-8-2-7-1 8 2zm7 2-7-2-7-1 7 3zm16 6-7-2-8-1 8 2zm8 2-8-2-7-1 8 3zm5 3-5-1-7-1 8 2zm0 0-4 0 6 2zm57-24-7-2 11-2 7 2zm8 2-8-2 11-2 2 1zm1 4-5-1 7-3z"/><path class=d34 d="m886 142-8 0 11-13 8 0zm27 14-7 0 11-13 7 0zm-163 24-8-1-7 10 7 1zm31 12-8 0-7 10 8 1zm159-23-7 0 11-12 8 0zm20 13-8 0 11-12 8 0zm27 13-7 0 11-12 7 0zm-175 10-8-1-7 10 8 1zm23 12-7-1-8 9 8 1zm31 11-7 0-7 9 7 0zm148-20-7-1 9-11zm-116 32-8-1-7 9 7 1zm0 0-8 9 8 0zm0 0 0 9 2 0z"/><path class=d36 d="m894 142-8 0 11-13 8 0zm27 14-8 0 11-13 8 0zm-195 11-7 0-8 10 8 1zm31 13-7 0-8 10 8 1zm32 13-8-1-7 11 7 0zm159-23-8-1 12-12 7 0zm27 13-7 0 11-13 7 1zm28 13-8-1 11-11 8 0zm-183 9-8 0-7 10 7 0zm31 12-8 0-7 9 7 1zm31 12-8 0-7 9 8 0z"/><path class=d37 d="m901 143-7-1 11-13 7 0zm28 14-8-1 11-13 8 0zm-195 10-8 0-7 11 8 0zm31 13-8 0-7 11 8 0zm31 13-7 0-8 10 8 1zm160-23-8 0 11-13 8 0zm27 13-8 0 11-12 8 0zm27 13-7 0 11-12 4 0zm-183 9-7 0-8 10 8 1zm31 12-7 0-8 10 8 0zm32 12-8 0-7 9 7 1z"/><path class=d35 d="m719 167-8-1-7 11 7 0zm249 16-8-1 11-12 8 0zm27 12-8 0 11-12 8 1zm-152 22-8 0-7 9 8 0zm31 12-8-1-7 9 8 1z"/><path class=d8 d="m730 234-8-2-1 3 2 0zm8 2-8-2-7 1 7 2zm97-31-8-2 12-3 7 2zm8 2-8-2 11-3 8 2zm12 9-8-2 11-3 8 2zm7 2-7-2 11-3 7 1zm12 8-7-2 11-3 7 2zm8 2-8-2 11-3 8 2zm12 8-8-2 11-2 8 1zm7 2-7-2 11-3 8 2zm-148 6-7-2-8 0 8 2zm8 1-8-1-7 0 8 3zm16 8-8-2-7 0 8 3zm8 2-8-2-7 1 7 2zm128-9-7-2 11-2 7 2zm8 2-8-2 11-2 8 1zm12 8-8-2 11-2 8 2zm7 2-7-2 11-2 8 1zm5 6-8-2 11-2 8 2zm7 2-7-2 11-2 8 1zm12 7-7-2 11-2 7 2zm8 2-8-2 11-2 8 2zm-70 26-8-2-7 0 8 2zm8 2-8-2-7 0 8 2zm11 5-3-1-7 0 7 2zm0 0-3 1 5 1zm55-28-8-2 12-1 7 2zm8 2-8-2 11-1 8 1zm7 6-3 0 5-3z"/><path class=d38 d="m909 143-8 0 11-14 8 0zm27 14-7 0 11-14 7 0zm-194 10-8 0-7 11 7 1zm31 13-8 0-7 11 7 1zm31 13-8 0-7 11 8 0zm159-23-7 0 11-13 8 0zm28 13-8 0 11-12 8 0zm25 13-6 0 8-12zm-181 10-8-1-7 11 8 0zm31 12-8-1-7 10 8 1zm30 11-6 0-8 10 8 0zm0 0-6 10 8 1z"/><path class=d39 d="m917 143-8 0 11-14 8 0zm27 14-8 0 11-14 8 0zm-195 10-7 0-8 12 8 0zm31 14-7-1-8 12 8 0zm32 12-8 0-7 11 7 0zm159-23-8 0 12-13 7 0zm27 13-7 0 11-12 7-1zm-155 23-8 0-7 10 7 1zm31 12-8 0-7 10 7 0z"/><path class=d40 d="m924 143-7 0 11-14 8 0zm28 14-8 0 11-14 8 0zm-195 11-8-1-7 12 8 1zm31 13-8 0-7 11 8 0zm31 12-7 0-8 11 8 1zm160-23-8 0 11-13 8 0zm-129 36-7 0-8 11 8 0z"/><path class=d15 d="m832 177 2-8 3 1zm2 1-2-1 5-7 8 1zm19 11-7-1 11-6 7 1zm-140 22-2 0 2 6zm23 10-7-1-8 4 8 1zm32 12-8-1-7 3 7 2zm112-31-7-2 11-6 8 2zm20 11-8-2 11-5 8 1zm20 11-8-2 11-5 8 1zm7 1-7-1 11-6 7 1zm12 9-8-1 12-5 7 1zm8 2-8-2 11-5 8 1zm-156 7-8-1-7 3 8 2zm23 10-7-2-8 3 8 2zm24 9-8-1-7 3 8 1zm8 2-8-2-7 3 7 2zm15 7-7-1-8 3 8 1zm8 2-8-2-7 3 8 2zm90-28-8-2 11-5 8 2zm7 1-7-1 11-5 7 1zm12 9-8-2 12-4 7 1zm8 1-8-1 11-5 8 1zm12 9-8-2 11-4 2 0zm3 0-3 0 5-6zm-116 15-8-1-7 3 7 1zm7 2-7-2-8 3 8 2zm16 7-8-1-7 2 8 2zm3 1-3-1-7 3 8 1zm0 0-2 3 4 1z"/><path class=d10 d="m828 191 2-6 8 1zm-91 41-7-2-8 2 8 2zm109-30-7-2 11-4 7 2zm20 11-8-2 11-4 8 1zm19 10-7-2 11-3 8 1zm8 2-8-2 12-4 7 2zm12 8-8-1 11-4 8 2zm8 2-8-2 11-3 8 1zm-152 7-8-2-7 2 7 2zm23 9-8-2-7 2 8 2zm8 2-8-2-7 2 8 2zm16 7-8-2-7 2 7 2zm7 2-7-2-8 2 8 2zm39 16-7-2-8 2 8 2zm70-34-7-2 11-3 8 1zm8 1-8-1 12-4 7 2zm12 9-8-2 11-3 8 1zm12 8-8-2 11-3 8 2zm8 1-8-1 11-3 8 1zm11 8-7-2 11-2 8 1zm8 2-8-2 12-3 7 2zm4 6-7-2 11-2 6 1zm-78 21-7-2-8 1 8 2zm8 2-8-2-7 1 8 2zm0 0-7 1 7 2zm0 0 0 3 2 0zm78-22-8-1 10-3z"/><path class=d42 d="m932 143-8 0 12-14 7-1zm-167 25-8 0-7 12 7 0zm31 13-8 0-7 11 8 1zm190-10-7-1 11-13 8 0zm28 13-8 0 11-14 3 0zm-156 22-8 0-7 11 8 0zm31 12-8 0-7 11 8 0z"/><path class=d41 d="m959 157-7 0 11-14 7 0zm-132 37-8-1-7 12 8 0zm179-10-8-1 11-13 8 0zm-125 34-7 0-8 10 8 1z"/><path class=d13 d="m830 185 2-8 2 1zm0 0 4-7 7 1zm8 1-8-1 11-6 8 1zm19 12-7-2 11-5 8 1zm-136 20-8-1 2 5zm24 11-8-2-7 3 7 2zm23 10-8-2-7 3 8 2zm109-31-8-1 11-5 8 1zm8 2-8-2 11-5 8 2zm12 9-8-1 11-5 8 1zm7 2-7-2 11-5 7 2zm20 10-8-1 11-5 8 1zm-148 9-8-1-7 3 7 1zm15 8-7-1-8 2 8 2zm8 2-8-2-7 3 8 2zm23 9-7-1-7 2 7 2zm24 9-8-1-7 2 8 2zm23 10-7-2-8 2 8 2zm74-36-7-2 11-4 7 1zm20 10-8-2 11-4 8 1zm12 8-8-1 11-4 8 1zm7 2-7-2 11-4 8 1zm12 8-7-2 11-3 3 0zm5 1-5-1 7-5zm-90 22-8-1-7 2 7 1zm4 1-4-1-8 2 8 2zm0 0-4 3 6 1z"/><path class=d12 d="m842 194-8-1 12-5 7 1zm8 2-8-2 11-5 8 2zm-121 29-8-1-4 3 5 1zm8 2-8-2-7 3 8 2zm23 10-7-2-8 3 8 2zm109-30-7-2 11-5 7 2zm20 11-8-2 11-5 8 2zm19 10-7-1 11-5 8 2zm8 2-8-2 12-4 7 1zm12 9-8-2 11-4 8 1zm-144 8-8-2-7 2 7 2zm23 9-8-2-7 3 8 1zm8 2-8-2-7 2 8 2zm16 7-8-1-7 2 7 2zm7 2-7-2-8 3 8 1zm16 7-8-1-7 2 8 1zm8 2-8-2-7 2 7 2zm74-36-8-1 11-5 8 2zm11 9-7-2 11-4 8 2zm8 1-8-1 12-4 7 1zm12 9-8-2 11-4 8 2zm20 9-8-1 11-4 8 2zm10 8-6-1 8-4zm-120 7-7-1-7 1 7 2zm38 15-6-1-7 1 7 2zm0 0-6 2 8 2z"/><path class=d11 d="m834 193-6-2 10-5 8 2zm-113 31-6-2 2 5zm24 10-8-2-7 2 8 2zm8 1-8-1-7 2 7 2zm101-31-8-2 11-4 8 1zm8 1-8-1 11-5 8 1zm11 9-7-1 11-5 8 2zm8 2-8-2 12-4 7 1zm20 11-8-2 11-4 8 1zm19 10-7-2 11-4 7 2zm-152 6-7-1-8 2 8 1zm8 2-8-2-7 2 8 2zm23 9-7-1-7 2 7 2zm24 10-8-2-7 2 8 2zm23 9-7-2-8 2 8 2zm94-26-8-2 11-3 8 1zm12 8-8-1 11-4 8 2zm7 2-7-2 11-3 7 1zm12 8-7-2 11-3 7 2zm8 2-8-2 11-3 8 1zm12 8-8-2 11-3 5 1zm-129 5-8-2-7 2 8 1zm8 2-8-2-7 1 8 2z"/><path class=d43 d="m940 143-8 0 11-15 8 0zm27 14-8 0 11-14 8 0zm-195 11-7 0-8 12 8 0zm31 13-7 0-7 12 7 0zm32 13-8 0-7 11 7 0zm159-23-8 0 12-14 7-1zm24 13-4 0 6-14zm-152 22-8 0-7 11 7 0zm28 12-5 0-7 11 8 0zm0 0-4 11 6 0z"/><path class=d44 d="m947 143-7 0 11-15 8 0zm28 14-8 0 11-14 8-1zm-195 11-8 0-7 12 8 0zm31 13-8 0-7 12 8 0zm31 13-7 0-8 11 8 1zm160-23-8 0 11-15 8 0zm-129 35-7 0-8 11 8 1z"/><path class=d45 d="m955 143-8 0 12-15 7 0zm27 14-7 0 11-15 7 0zm-194 10-8 1-7 12 7 1zm31 14-8 0-7 12 8 0zm31 12-8 1-7 12 8 0zm159-23-7 1 11-15 8 0zm-128 36-8 0-7 12 8 0z"/><path class=d18 d="m834 169 2-9 5 1zm3 1-3-1 7-8 7 1zm20 12-8-2 11-7 8 1zm7 1-7-1 11-8 8 1zm20 11-8-1 11-7 8 1zm-171 10-3 0 1 7zm23 11-8-1-7 4 8 2zm8 1-8-1-7 5 7 1zm23 11-8-2-7 5 8 2zm144-20-8-1 12-7 7 1zm20 11-8-1 11-7 8 1zm19 11-7-1 11-7 7 1zm-105 29-8-1-7 4 8 1zm24 9-8-1-7 4 7 1zm7 2-7-2-8 4 8 2zm16 8-8-2-7 4 8 1zm8 1-8-1-7 3 7 2zm70-38-8-2 11-6 8 1zm7 1-7-1 11-7 8 1zm12 9-7-1 11-6 7 1zm8 1-8-1 11-6 7 1z"/><path class=d16 d="m841 179-7-1 11-7 8 1zm20 12-8-2 11-6 8 1zm8 1-8-1 11-7 8 1zm-148 20-8-1 0 6zm23 11-8-2-7 4 8 2zm8 1-8-1-7 4 8 2zm23 10-7-1-8 4 8 2zm113-31-8-1 12-6 7 1zm20 11-8-1 11-6 8 1zm7 2-7-2 11-6 7 1zm20 10-8-1 11-6 8 1zm19 11-7-1 11-6 8 1zm-155 7-8-1-7 4 7 1zm54 21-7-1-8 3 8 1zm24 9-8-1-7 3 7 2zm97-27-8-1 11-5 8 1zm20 10-8-1 11-5 8 1zm-94 26-8-1-7 3 8 1z"/><path class=d19 d="m845 171-8-1 11-8 8 1zm27 13-8-1 12-8 7 1zm20 12-8-2 11-7 8 1zm-172 9-7-1-2 7 2 0zm31 12-7-1-8 5 8 2zm24 11-8-1-7 5 8 1zm144-20-8-1 11-7 8 1zm19 11-7-1 11-7 8 1zm20 11-8-1 11-7 8 1zm8 1-8-1 11-7 8 1zm-113 28-8-1-7 4 8 2zm7 1-7-1-7 5 7 1zm24 10-8-1-7 4 8 1zm23 9-7-1-8 4 8 1zm0 0-7 4 8 1zm0 0 1 5 1 1zm78-37-8-1 12-7 7 1zm20 10-8-1 10-6z"/><path class=d55 d="m1009 141-8 0 11-17 8 0zm-168 24-7 1-8 14 8 0zm32 14-8 0-7 14 7 0z"/><path class=d21 d="m712 196-4 0 2 8zm124-36 2-10 6 1zm5 1-5-1 8-9 8 1zm19 12-7-1 11-8 7 0zm27 13-7-1 11-8 8 1zm28 13-8-1 11-8 8 1zm-179 8-8-1-7 6 7 2zm31 12-8-1-7 6 7 1zm167-9-8-1 12-7 7 0zm20 11-8-1 11-7 8 1zm7 1-7-1 11-7 8 1zm20 11-8-1 11-7 8 1zm-136 18-8-1-7 5 7 2zm7 1-7-1-8 6 8 1zm24 10-8-1-7 5 8 1zm23 10-7-1-8 4 8 2zm101-28-7-1 11-7 5 1z"/><path class=d14 d="m846 188-8-2 11-6 8 2zm19 11-8-1 12-6 7 1zm-136 21-8-2-6 4 6 2zm23 10-7-1-8 3 8 2zm8 2-8-2-7 4 8 1zm113-32-8-1 11-6 8 1zm19 11-7-1 11-5 7 1zm20 11-8-1 11-5 8 1zm19 11-7-2 11-5 8 2zm-148 9-7-2-8 3 8 2zm24 9-8-1-7 3 7 1zm23 10-8-2-7 3 8 2zm24 9-8-2-7 3 7 2zm23 9-8-1-7 2 8 2zm74-36-8-1 11-5 8 1zm19 10-7-1 11-5 8 2zm20 10-8-1 12-5 7 2z"/><path class=d47 d="m963 143-8 0 11-15 8-1zm27 14-8 0 11-15 8-1zm-195 10-7 0-8 14 8 0zm31 13-7 1-7 12 7 0zm32 13-8 0-7 13 7 0zm159-23-8 0 12-14 1 0zm3 0-3 0 5-14zm-131 36-8 0-7 12 7 0zm3 0-3 0-8 12 8 0zm0 0-3 12 5 0z"/><path class=d48 d="m970 143-7 0 11-16 8 0zm28 14-8 0 11-16 8 0zm-195 10-8 0-7 14 8 0zm31 13-8 0-7 13 8 1zm31 13-7 0-8 13 8 0z"/><path class=d49 d="m978 143-8 0 12-16 7-1zm27 13-7 1 11-16 7 0zm-194 11-8 0-7 14 7 0zm31 13-8 0-7 14 8 0zm31 13-8 0-7 13 8 0z"/><path class=d51 d="m986 142-8 1 11-17 8 0zm27 14-8 0 11-15 8-1zm-195 11-7 0-8 14 8 0zm31 13-7 0-7 14 7 0zm32 13-8 0-7 13 7 0z"/><path class=d53 d="m1001 141-8 1 12-17 7-1zm-136 38-8 0-7 14 8 0z"/><path class=d17 d="m849 180-8-1 12-7 7 1zm27 13-7-1 11-7 7 1zm-148 21-7-2-8 5 8 1zm31 11-7-1-7 5 7 1zm137-20-8-2 11-6 8 1zm7 1-7-1 11-7 8 1zm20 11-8-1 11-7 8 1zm20 11-8-2 11-6 8 1zm19 10-8-1 12-6 7 1zm-101 28-8-1-7 3 8 2zm23 9-7-1-8 4 8 1zm98-26-8-2 11-5 8 1zm19 10-7-2 11-5zm2 0-2 0 4-7zm-95 25-8-1-7 3 7 2zm1 1-1-1-8 4 8 1zm0 0-1 4 3 1z"/><path class=d52 d="m993 142-7 0 11-16 8-1zm28 14-8 0 11-16zm1 0-1 0 3-16zm-196 10-8 1-7 14 8 0zm31 13-8 1-7 14 8-1zm31 13-7 1-8 13 8 0zm2 0-2 0-7 14 8 0zm0 0-1 14 3 0z"/><path class=d22 d="m720 197-8-1-2 8 3 0zm128-35-7-1 11-9 7 0zm20 12-8-1 11-9 8 1zm8 1-8-1 11-9 8 1zm19 12-8-1 12-8 7 0zm-152 21-7-1-8 7 8 1zm8 1-8-1-7 7 8 1zm23 11-7-1-8 6 8 2zm148-20-7-1 11-8 7 0zm20 11-8-1 11-8 8 1zm27 12-8-1 12-7 7 0zm20 11-8-1 11-7 8 1zm-129 19-8-1-7 6 8 1zm23 10-7-1-7 5 7 2zm22 10-6-1-7 5 8 1zm0 0-5 5 7 1zm102-28-7-1 9-7z"/><path class=d61 d="m872 163-8 1-7 15 8 0z"/><path class=d62 d="m880 162-8 1-7 16 8 0z"/><path class=d0 d="m785 232-2 0 5 1 8 4zm3 1-3-2 7 3 8 3zm19 5-8-3 11 4 8 4zm-49 15-8-3-7-5 7 4zm22 10-8-3-7-4 8 4zm17 5-8-3-7-5 7 4zm9 0-8-3-7-5 7 4zm3-21-8-4 11 5 8 3zm0 3-7-4 11 5 8 3zm5 20-8-3-7-5 7 4zm24 8-8-3-7-5 7 4zm6 6-7-4-8-4 8 3zm15 7-8-3-7-4 8 4zm18 1-7-4-8-4 8 3zm17 2-7-4-8-4 8 3z"/><path class=d13 d="m885 285-8-2-7 2 8 2zm8 1-8-1-7 2 8 2z"/><path class=d14 d="m900 288-7-2-7 3 7 1z"/><path class=d0 d="m793 236-8-4 11 5 8 4zm7 1-8-3 11 4 8 4zm-35 19-7-3-8-4 8 3zm23 10-8-3-7-3 8 3zm16 5-7-3-8-4 8 3zm8-23-7-4 11 4 7 4zm1 3-8-4 11 4 8 4zm0 21-7-4-8-4 8 3zm1-30-7-4 11 5 7 3zm7 12-8-3 11 4 8 3zm0 20-7-4-8-4 8 3zm23 10-8-3-7-4 8 3zm1-2-7-4-8-4 8 3zm32 11-8-3-7-5 8 3zm7 3-7-3-7-5 7 4zm10-1-8-3-7-5 8 3zm7 3-7-3-7-5 7 4z"/><path class=d24 d="m838 150 2-11 8 1zm-103 49-7-1-8 7 8 1zm129-35-8-1 11-10 8 1zm27 13-8-1 11-9 8 0zm19 12-7-1 11-9 8 1zm-144 22-7-1-8 7 8 1zm24 11-8-1-7 7 7 1zm31 12-8-1-7 6 8 1zm117-32-8-1 11-9 8 1zm19 11-7-1 11-8 7 1zm27 12-7-1 11-8 8 1zm20 11-8-1 11-8 4 1zm5 1-5-1 7-8zm-165 7-7-1-8 6 8 1zm31 11-7-1-8 6 8 1zm24 10-8-1-7 6 8 1z"/><path class=d9 d="m816 266-8-2-7 1 7 2zm7 2-7-2-8 1 8 2zm16 7-8-2-7 0 8 3zm8 1-8-1-7 1 7 2zm31 14-7-2-8 0 8 3zm8 2-8-2-7 1 8 2z"/><path class=d10 d="m831 269-8-1-7 1 8 2zm8 2-8-2-7 2 7 2zm31 14-7-2-8 1 8 2zm8 2-8-2-7 1 8 2zm16 7-8-2-7 1 7 2zm7 1-7-1-8 1 8 1z"/><path class=d11 d="m886 289-8-2-7 1 7 2zm7 1-7-1-8 1 8 2zm16 7-8-2-7 1 8 2z"/><path class=d16 d="m806 246-7-2-8 4 8 2zm24 9-8-1-7 4 7 1z"/><path class=d15 d="m822 254-8-1-7 3 8 2z"/><path class=d12 d="m901 292-8-2-7 2 8 2z"/><path class=d20 d="m853 172-8-1 11-8 8 1zm27 13-8-1 11-8 8 1zm19 12-7-1 11-8 7 1zm8 1-8-1 11-8 8 1zm-179 8-8-1-7 6 8 1zm31 12-8-1-7 6 8 1zm167-9-7-1 11-7 8 1zm20 11-8-1 12-7 7 1zm27 12-7-1 11-7 7 1zm-136 18-8-1-7 5 8 1zm31 11-8-1-7 5 8 1zm24 10-8-1-7 4 7 1zm101-28-8-1 11-7 8 1z"/><path class=d58 d="m1024 140-8 1 10-18zm-167 24-8 1-7 15 7 0zm31 14-8 0-7 15 8 0zm0 0-7 15 7-1zm0 0 0 14 2 0z"/><path class=d56 d="m1016 141-7 0 11-17 6-1zm-167 24-8 0-7 15 8 0zm31 13-7 1-8 14 8 0z"/><path class=d59 d="m864 164-7 0-8 16 8-1z"/><path class=d23 d="m728 198-8-1-7 7 7 1zm128-35-8-1 11-10 8 1zm27 13-7-1 11-9 7 1zm20 12-8-1 11-9 8 1zm-144 22-8-1-7 7 7 1zm23 11-8-1-7 7 8 1zm148-20-8-1 11-9 8 1zm20 11-8-1 11-8 8 1zm27 12-8-1 11-8 8 1zm19 11-7-1 11-7 7 0zm-159 8-8-1-7 6 7 1zm31 11-8-1-7 6 7 1zm23 10-8-1-7 6 8 1z"/><path class=d63 d="m886 162-6 0-7 17 7-1zm0 0-6 16 8 0z"/><path class=d4 d="m747 247-8-3-7 0 7 2zm8 4-8-2-7-2 7 3zm7 2-7-2-8-1 8 3zm8 3-8-3-7 0 8 2zm8 4-8-2-7-2 8 3zm8 2-8-2-7-1 8 2zm7 3-7-3-7-1 7 3zm9 4-8-3-7-1 7 3zm7 2-7-2-8-1 8 2z"/><path class=d1 d="m779 234-3-1 6 2 8 4zm3-2 3 0 8 4zm45 48-8-2-7-4 7 3zm32 11-8-2-7-4 7 3zm55 19-8-2-7-4 7 3zm34 9-1-1-8-4 8 3zm11-5-8-3 11 3 2 0z"/><path class=d5 d="m754 249-7-2-8-1 8 3zm8 2-8-2-7 0 8 2zm39 16-8-2-7-1 8 2zm47 17-8-2-7-1 8 2zm8 4-8-2-7-1 8 2zm8 2-8-2-7-1 7 2zm47 18-8-2-7-2 8 3zm8 3-8-2-7-2 8 3zm0-1-8-2-7-1 7 2z"/><path class=d2 d="m771 259-8-3-7-2 8 3zm8 3-8-2-7-3 8 3zm8 3-8-3-7-2 7 3zm39 15-7-3-8-2 8 3zm71 25-7-2-8-4 8 3zm32 11-8-3-7-3 8 3zm43-7-8-3 11 2zm2 0-2 0 3-1z"/><path class=d2 d="m826 280-8-3-7-2 8 2zm71 25-8-2-7-3 8 3z"/><path class=d3 d="m770 258-7-3-8-1 8 2zm9 3-8-2-7-2 7 3zm7 3-7-3-8-1 8 2zm8 4-7-3-8-2 8 3zm0-2-8-2-7-2 8 3zm31 13-7-3-8-2 8 3zm32 11-8-2-7-2 8 3zm8 3-8-3-7-1 7 2zm31 11-8-2-7-2 8 2zm1 1-8-3-7-2 7 3zm36 12-5-1 7 2z"/><path class=d4 d="m848 286-7-3-8-1 8 3zm8 3-7-2-7-2 7 3zm8 3-8-3-7-1 8 2zm24 9-8-2-7-2 8 2zm8 2-8-2-7-2 7 3zm7 3-7-3-8-1 8 2zm1 1-8-3-7-2 8 3zm23 8-7-3-8-2 8 3zm4 1-3-1-8-2 8 3z"/><path class=d0 d="m786 238-7-4 11 5 8 4zm21 3-7-4 11 5 7 3zm6 32-8-4-7-4 8 3zm8 2-8-3-7-5 8 3zm8 3-8-3-7-5 7 4zm16 5-8-4-7-4 8 3zm8 3-8-3-7-5 7 4z"/><path class=d18 d="m798 238-7-1-8 5 8 1zm24 10-8-1-7 4 7 2z"/><path class=d19 d="m806 239-8-1-7 5 8 1zm23 10-7-1-8 5 8 1z"/><path class=d22 d="m806 232-8-1-7 6 7 1zm23 10-8-1-7 6 8 1z"/><path class=d21 d="m798 231-8-1-7 6 8 1zm23 10-7-1-8 6 8 1z"/><path class=d23 d="m813 233-7-1-8 6 8 1z"/><path class=d8 d="m800 262-7-2-8 0 8 3zm8 2-8-2-7 1 8 2zm16 7-8-2-7 0 7 2zm7 2-7-2-8 0 8 2zm16 7-8-2-7 0 8 2zm8 1-8-1-7 0 8 2zm16 7-8-2-7 0 7 2zm15 7-7-2-8 0 8 2zm8 1-8-1-7 0 8 2z"/><path class=d6 d="m754 247-8-3-7 0 8 3zm39 16-8-3-7 0 8 2zm8 2-8-2-7-1 7 3zm110 42-8-3-7-1 7 3zm7 2-7-2-8-1 8 2z"/><path class=d1 d="m775 234-1-1 5 1 7 4zm171 85-7-4 8 3zm0 0 1-1 1 1zm16-5-7-3 11 3z"/><path class=d17 d="m783 236-8-2-7 5 8 1zm8 1-8-1-7 4 7 2zm23 10-8-1-7 4 8 1zm23 10-7-2-8 4 8 2z"/><path class=d20 d="m782 229-7-1-7 5 7 1zm8 1-8-1-7 5 8 2zm24 10-8-1-7 5 7 2z"/><path class=d0 d="m821 276-8-3-7-5 7 4zm15 5-7-3-8-4 8 3zm24 8-7-3-8-4 8 3z"/><path class=d7 d="m808 267-7-2-8 0 8 2zm8 2-8-2-7 0 8 2zm16 7-8-3-7 0 8 3zm7 2-7-2-7 0 7 2zm16 6-7-2-8 0 8 2zm16 7-8-3-7 0 8 2zm8 2-8-2-7-1 7 3z"/><path class=d8 d="m863 286-8-2-7 0 8 2z"/><path class=d6 d="m824 273-8-2-7 0 8 2zm16 7-8-2-7-1 8 3zm8 2-8-2-7 0 7 2zm8 4-8-2-7-1 7 3zm7 2-7-2-8 0 8 2z"/><path class=d5 d="m809 269-8-2-7-1 8 3zm86 33-7-2-8-1 8 2zm32 12-8-3-7-1 8 2z"/><path class=d0 d="m820 276-8-3-7-4 8 4zm8 3-7-3-8-4 8 3z"/><path class=d6 d="m816 271-7-2-7 0 7 2z"/><path class=d0 d="m828 280-8-4-7-3 8 3z"/><path class=d0 d="m827 280-7-3-8-4 8 3z"/><path class=d4 d="m817 275-7-2-8-2 8 3zm8 2-8-2-7-1 8 2zm104 38-2 0-7-2 8 2z"/><path class=d5 d="m817 273-8-2-7-1 8 3zm8 3-8-3-7 0 7 2zm7 2-7-2-8-1 8 2zm95 36-7-2 7 3zm0 0 0 1 2 0z"/><path class=d1 d="m835 283-8-3-7-4 8 4z"/><path class=d1 d="m843 286-8-3-7-3 8 3z"/><path class=d3 d="m833 281-8-2-7-2 8 3zm16 7-7-3-8-2 8 3zm0-1-8-2-7-2 8 2z"/><path class=d4 d="m833 280-8-3-7-1 7 3zm8 3-8-2-7-1 7 2z"/><path class=d5 d="m840 282-7-2-8-1 8 2z"/></g><text x="430.5" y="7.0" font-size="4.9" text-anchor="middle">Rosenbrock Function</text><text x="322.8" y="134.9" font-size="4.9" text-anchor="end">0</text><text x="322.8" y="124.7" font-size="4.9" text-anchor="end">2</text><text x="322.8" y="114.6" font-size="4.9" text-anchor="end">4</text><text x="322.8" y="104.5" font-size="4.9" text-anchor="end">6</text><text x="322.8" y="94.4" font-size="4.9" text-anchor="end">8</text><text x="322.8" y="84.3" font-size="4.9" text-anchor="end">10</text><text x="322.8" y="74.2" font-size="4.9" text-anchor="end">12</text><text x="322.8" y="64.1" font-size="4.9" text-anchor="end">14</text><text x="322.8" y="54.0" font-size="4.9" text-anchor="end">16</text><text x="322.8" y="43.9" font-size="4.9" text-anchor="end">18</text><text x="331.3" y="33.2" font-size="4.9" text-anchor="middle">x 10</text><text x="338.7" y="27.6" font-size="3.6" text-anchor="middle">4</text><text x="425.0" y="183.0" font-size="4.9" text-anchor="middle">−10</text><text x="453.0" y="176.0" font-size="4.9" text-anchor="middle">−5</text><text x="482.3" y="167.3" font-size="4.9" text-anchor="middle">0</text><text x="511.7" y="159.7" font-size="4.9" text-anchor="middle">5</text><text x="543.5" y="151.1" font-size="4.9" text-anchor="middle">10</text><text x="321.6" y="140.9" font-size="4.9" text-anchor="middle">6</text><text x="336.1" y="147.7" font-size="4.9" text-anchor="middle">4</text><text x="351.6" y="154.6" font-size="4.9" text-anchor="middle">2</text><text x="366.5" y="161.7" font-size="4.9" text-anchor="middle">0</text><text x="380.2" y="168.5" font-size="4.9" text-anchor="middle">−2</text><text x="395.3" y="175.6" font-size="4.9" text-anchor="middle">−4</text><text x="410.5" y="182.6" font-size="4.9" text-anchor="middle">−6</text><text x="368.0" y="184.6" font-size="4.9" text-anchor="middle">x2</text><text x="474.0" y="187.7" font-size="4.9" text-anchor="middle">x1</text><text transform="translate(314.1,89.9) rotate(-90)" font-size="4.9" text-anchor="middle">f(x1,x2)</text><path stroke="#8a8a8a" stroke-width="0.75" stroke-dasharray="0.8 1.3" fill="none" d="M321.2 377.0L234.7 336.7M377.9 361.8L291.4 321.5M221.2 372.0L334.6 341.6M178.0 351.9L291.4 321.5M234.7 336.7L234.7 249.1M291.4 321.5L291.4 233.9M178.0 342.2L291.4 311.8M178.0 332.4L291.4 302.0M178.0 322.7L291.4 292.3M178.0 313.0L291.4 282.6M178.0 303.2L291.4 272.8M178.0 293.5L291.4 263.1M178.0 283.8L291.4 253.4M178.0 274.0L291.4 243.6M178.0 264.3L291.4 233.9M377.9 361.8L377.9 274.2M334.6 341.6L334.6 254.0M291.4 321.5L291.4 233.9M377.9 352.1L291.4 311.8M377.9 342.3L291.4 302.0M377.9 332.6L291.4 292.3M377.9 322.9L291.4 282.6M377.9 313.1L291.4 272.8M377.9 303.4L291.4 263.1M377.9 293.7L291.4 253.4M377.9 283.9L291.4 243.6M377.9 274.2L291.4 233.9"/><path stroke="#8a8a8a" stroke-width="0.75" stroke-dasharray="0.8 0.5" fill="none" d="M377.9 361.8L291.4 321.5"/><path stroke="#444" stroke-width="0.8" fill="none" d="M178.0 351.9L178.0 264.3M178.0 351.9L264.5 392.2M264.5 392.2L377.9 361.8M178.0 351.9L175.8 350.9M178.0 342.2L175.8 341.2M178.0 332.4L175.8 331.4M178.0 322.7L175.8 321.7M178.0 313.0L175.8 312.0M178.0 303.2L175.8 302.2M178.0 293.5L175.8 292.5M178.0 283.8L175.8 282.8M178.0 274.0L175.8 273.0M178.0 264.3L175.8 263.3M264.5 392.2L262.2 392.8M221.2 372.0L218.9 372.7M178.0 351.9L175.7 352.5M264.5 392.2L266.7 393.2M321.2 377.0L323.4 378.0M377.9 361.8L380.1 362.8"/><g transform="scale(0.5)" stroke-width="0.72"><path class=c0 d="m576 652 3-1-2-7-3 2zm2 2 3-1-2-2-3 1zm1-3 3-7-2-6-3 6zm2 2 4-7-3-2-3 7z"/><path class=c22 d="m581 589 3-15-2-16-3 15zm-182 46 4 3-3-16-3-3zm7 1 3-7-3-16-3 7zm8-1 4-11-3-16-3 11zm17 0 3-5-2-6-3 4zm2 2 4-5-3-2-3 5zm13-12 3-3-2-15-4 3zm21-3 3 2-2-14-3-2zm6-1 4-1-3-14-3 2zm4-1 3-2-3-14-3 2zm3-2 3-2-2-14-4 2zm6 0 3 3-2-13-3-4zm18-4 3-3-2-11-3 3zm7-2 3 6-3-11-3-5zm4-4 3 5-2-16-3-4zm31-1 3-10-2 3-3 10zm48 32 3-4-3 0-3 4zm8-29 3 3-3-10-3-3zm30 4 3-15-2 4-4 15zm5 7 4-11-3-3-3 10zm16 5 3-13-3 3-3 13zm4 1 4-14-3-2-3 13zm3 2 3-14-2-2-4 14zm2 2 3-14-2-2-3 14zm5 0 3-13-2 2-3 13zm18 6 3-15-3-3-3 15zm-306 16 3-13-2 2-3 14zm1 3 3-15-2 11-3 16zm60-1 3 2-2-12-3-2zm28 16 3 7-2-5-3-7zm2-3 3-2-2-7-4 2zm3-2 3-7-2-7-3 7zm5 1 4-10-3-8-3 10zm8-19 3 1-2-9-3-1zm0 20 3-9-3 3-3 10zm9 5 3-10-2-2-3 10zm3 3 3-10-3-3-3 10zm1-29 4-6-3 4-3 7zm50 27 3-3-2-4-3 3zm52 4 3-1-2-10-4 1zm12-3 4 3-3-10-3-3zm13-22 3-9-3-7-3 9zm2 21 4-7-3-7-3 7zm2-19 3-9-2 2-3 8zm1 21 3-7-2-2-4 7zm61-28 3-6-2-5-3 6zm17 2 3-16-3-11-3 15zm8 1 3-16-3-6-3 15zm4 0 4-15-3 2-3 16zm3 22 3 12-2-16-3-12zm5-2 3 3-2-14-3-3zm-299 10 4-16-3-5-3 16zm64 28 3-15-3-11-3 16zm9 6 3-15-3 9-3 16zm12-35 3-11-2-7-3 11zm3 3 3-11-3-3-3 11zm18 11 3-10-2-11-3 9zm11 0 3-11-2-10-3 11zm17 24 3 10-3-16-3-10zm5-29 3 6-2-10-3-6zm4-3 3-3-2-12-3 3zm3-3 4-7-3-11-3 6zm18-1 3 3-2-7-4-3zm2 2 3 4-2-3-3-3zm2-3 3-3-3-10-3 3zm82 4 3 7-2-16-3-7z"/><path class=c20 d="m455 630 3-8-3-13-3 7zm8-1 3 0-2-11-3 0zm3 0 4 3-3-10-3-4zm23-8 3 1-2-14-3 0zm12 0 3-7-2-11-3 7zm6 0 3-3-3-7-3 3zm6-2 3 6-2-7-3-6zm1-4 4 7-3-14-3-7zm4-2 3 0-2-16-3 0zm40 19 4 5-3-9-3-5zm1-31 3 10-2-15-3-11zm0 2 3 12-3-14-3-12zm39 0 3-15-2 10-3 15zm31 15 4-15-3-1-3 16zm5 9 3-6-2-4-3 7zm6 0 3-10-2-7-4 11zm10 2 3-13-2 0-3 13zm16 10 3-11-2 3-3 11zm3 0 3-11-3 0-3 11zm-308 15 3-16-2-15-4 15zm16 2 3-14-3-2-3 14zm22-12 3 7-3-16-3-6zm34-1 3-9-3 3-3 9zm36 30 3 3-2-8-3-3zm6 0 3-6-2-8-3 7zm6-1 3-10-2-5-4 10zm7-19 4 1-3-5-3-1zm7-2 3-6-3-5-3 6zm2 1 3-7-2 0-3 6zm122 6 3 0-2-7-3 0zm1 20 3-4-3-10-3 4zm2-20 4-5-3-7-3 5zm5 2 3-5-2 1-3 5zm50-19 3-14-3-7-3 13zm11 15 3 3-2-9-3-3zm33 4 3-15-3 6-3 16zm11 14 3-2-2-14-3 2zm18-1 3-15-3-16-3 15zm-286 29 3-16-2-3-3 16zm23-22 3-2-3-2-3 2zm2 2 3-2-2-2-3 2zm3-2 3-7-2-2-3 7zm3 2 3-6-3-3-3 7zm5 7 3 3-2-8-3-2zm1 27 3-15-2 2-3 15zm26-16 3 3-3-12-3-2zm6 0 3-6-2-12-3 7zm17 1 3-11-3-7-3 11zm4 0 4-11-3 3-3 11zm14 18 3 3-3-16-3-2zm21-25 3-8-2 3-3 7zm10-6 3 2-2-3-3-2zm1-1 3-2-2-7-3 3zm3-2 3-2-2-6-3 1zm3 2 3-1-3-3-3 2zm3-1 3-2-2-2-4 1zm3-2 3-2-2-3-3 3zm2 26 3-4-2-16-3 4zm2-28 3 3-2-7-4-3zm2 2 3 4-2-3-3-3zm7-3 3-7-2-7-3 7zm5 0 3-7-2 2-3 7z"/><path class=c21 d="m560 596 3 7-2-16-3-7zm39 2 3-16-2 7-4 15zm-196 40 3-2-3-16-3 2zm17-1 3-11-2-13-3 11zm5 0 4-9-3-10-3 8zm17-5 3 6-2-14-3-6zm28-8 3-3-2-13-3 2zm26-7 3-7-3-14-3 7zm14 1 3 1-2-7-4-1zm15-10 3-9-3-15-3 8zm16 0 3-10-2-7-3 10zm3 2 3-10-3-2-3 10zm1 3 3-11-3 10-3 11zm14 15 3 0-2-12-3 0zm41-12 3 10-2-11-3-10zm5-3 3-2-3-10-3 2zm3-2 3-6-2-10-4 6zm17 2 3-15-3-9-3 15zm20 11 4-13-3-8-3 14zm20 9 3-13-3-3-3 14zm-299 19 4-15-3-14-3 15zm8 2 3-14-2-6-3 13zm65 5 4 7-3-11-3-7zm4-2 3-2-2-12-3 2zm21 6 3-10-2 7-3 10zm1-3 3-11-2 4-4 11zm18 12 3-10-2 0-3 10zm3 7 3 3-2-2-4-3zm1-3 3-7-2-2-3 6zm2-27 3-3-2-9-3 3zm1 29 3-7-3-2-3 7zm123 1 3 3-3-7-3-2zm4-1 3 0-3-10-3 0zm11-22 3-8-2-4-3 9zm14 16 3 7-2-10-4-7zm1-3 3 4-3-11-3-5zm43-25 3-13-2 5-3 14zm12 7 3-11-3-9-3 11zm5 0 3-13-2-11-3 13zm16 3 3-16-2-3-3 16zm16 18 3-7-2-13-3 6zm9-1 3-14-2-16-3 14zm-282 28 3-16-3-7-3 16zm5 2 3-16-3 1-3 16zm33-12 3 7-3-7-3-7zm1-5 3-2-2-5-3 2zm3-2 3-6-2-5-3 6zm6 1 3-10-3-7-3 10zm32 13 3-12-3-11-3 11zm40-9 3-8-2-10-3 7zm5-1 4-4-3-7-3 4zm3 3 3-5-2-2-4 4zm7-4 3 2-2-6-3-3zm9-2 4-1-3-7-3 2zm2 2 3-1-2 2-3 1zm2-3 3-3-3-6-3 2zm1 2 3-2-2 2-3 2zm0 24 3 2-2-16-4-2zm4-26 3 2-2-2-3-3zm2 24 3-6-2-16-3 6z"/><path class=c23 d="m576 587 3-14-3-16-3 14zm11 0 3-15-2-14-4 16zm-150 43 3 5-2-7-3-4zm1-2 3 7-2-11-3-7zm5-4 3 1-3-15-3-2zm6-2 3-6-2-16-3 7zm9 0 3-4-3-14-3 5zm25-6 3 2-2-14-3-2zm16-6 3-7-3-14-3 7zm8 1 4 1-3-10-3-2zm4-4 3 8-2-14-3-7zm3 32 3-3-3-5-3 3zm2 0 3-2-2-1-3 3zm17-37 3-11-2-14-3 11zm6-1 3-10-2-10-4 10zm17 22 3 5-2-12-3-4zm38 12 3-9-2-5-3 9zm3 0 3-9-3 0-3 9zm14-30 3-11-2-10-3 11zm6 1 3-13-3-12-3 13zm16 7 4-13-3 7-3 14zm2 4 3-10-2 1-3 11zm8 0 3-14-2-6-3 13zm12 7 3-13-2 2-3 13zm19 9 3-13-2-5-3 13zm8 1 3-15-2-7-3 15zm5 2 3-15-2 1-3 15zm-315 11 3-13-2-11-3 14zm67 11 3 10-3-9-3-10zm46-11 3 6-2-5-3-6zm5 22 4-10-3-2-3 10zm3 2 3-10-2-2-4 10zm7 3 3-10-2 2-3 10zm2 3 3-6-2 0-4 6zm44-5 3 2-2-4-3-1zm1-2 3-3-2-7-4 4zm5 1 3-7-2-3-3 6zm0 1 3-3-3 2-3 3zm43 6 3 3-3-10-3-3zm9-1 3-2-2-10-3 2zm1-34 3 0-2-2-4 0zm2 32 3-2-2-10-3 2zm23-21 3-4-3 5-3 5zm3 20 3-7-2 2-3 7zm10-12 3 0-2-12-3 0zm3 0 4-5-3-12-3 5zm42-22 3-10-2 7-3 10zm37 29 3 10-2-15-3-10zm13-4 4-10-3-14-3 11zm-305 16 3-16-2 0-4 16zm36 14 3-15-2 5-3 16zm51-13 3-11-2 1-3 11zm4 11 3 7-3-11-3-7zm3-2 4-2-3-9-3 2zm28 2 3-9-2-3-3 9zm2 2 3-11-2 6-4 11zm7 17 4 7-3-15-3-7zm6-27 3 1-2-12-3-1zm21-3 3 0-3-7-3 0zm8 0 3 3-3 3-3-4zm85-1 3 0-2-16-3 0z"/><path class=c19 d="m573 597 3-10-3-16-3 10zm16 1 3-16-2-10-3 15zm-129 35 3-4-2-11-3 4zm25-7 3 3-2-11-3-2zm7-4 4-5-3-14-3 5zm17 1 3-3-2-2-3 3zm5-5 3 8-3-11-3-8zm7-5 4-5-3-16-3 5zm9 0 3-11-2-14-3 11zm6 0 3-12-3-10-3 11zm24-4 3 12-2-7-3-12zm1 28 3 4-2-4-4-5zm52-20 4-11-3-12-3 11zm6 0 3-13-2-11-3 13zm8 1 3-16-2-4-3 15zm3 6 3-11-2 8-3 10zm18 5 3-13-2-5-4 13zm4 6 3-11-2 2-4 11zm-274 27 4-15-3 6-3 16zm20-14 3 10-2-14-4-10zm30-4 3-9-2-7-4 9zm2 2 3-9-2-2-3 9zm2 1 3-11-2 7-3 11zm30 17 4-11-3-1-3 12zm9 14 4 2-3-4-3-3zm1-2 3-3-2-7-3 2zm8 2 3-6-2 0-3 6zm12-24 3-3-3-5-3 3zm2 1 3-3-2-1-3 3zm128 6 3 0-3-3-3 0zm3 0 3-5-2-3-4 5zm21 12 3 0-3-11-3 0zm3 0 3-4-2-12-4 5zm22-29 3-11-2-5-3 11zm16 16 3 7-2-11-3-7zm4-1 3-2-2-9-3 2zm3-2 4-6-3-9-3 6zm26 7 3-14-2 10-3 14zm8 15 3 7-2-15-3-7zm-240 36 3-16-2-12-3 16zm3-31 4-2-3-2-3 2zm5 32 3-16-2-6-3 15zm3 2 3-15-3-3-3 16zm8-28 3-7-3-7-3 6zm5 0 3-10-2-7-3 10zm5 2 3-10-2 1-3 10zm9 13 3 7-2-12-3-7zm4-2 3-3-2-11-4 2zm22 1 3-11-2-3-3 11zm2 2 3-11-3 6-3 12zm18-11 4 1-3-10-3-1zm7-2 3-6-2-11-4 7zm5 0 3-7-2-7-3 8zm18-3 4-3-3-2-3 2zm17-5 3 0-2-7-3 0zm8 0 3-4-2 2-3 5zm1-2 3-7-3-2-3 7zm55 9 3 5-2-16-3-5zm-112 30 3-2-3-16-3 2z"/><path class=c24 d="m528 599 3-11-2-15-4 11zm-133 35 4 10-3-15-3-10zm0 2 3 12-3-14-3-11zm14-7 3-10-2-16-4 10zm20-1 3-4-3-11-3 5zm5 2 3 0-2-6-3 0zm5-6 3 8-2-14-4-7zm22-6 3 0-2-14-4 0zm3 0 3 4-2-14-3-4zm26-10 3-5-2-15-3 4zm20 29 4 2-3-5-3-2zm1-3 3-3-2-9-3 3zm6 2 3-1-3-5-3 1zm30-36 3-6-2-2-4 6zm49 36 3-5-2 4-3 4zm4 3 3 0-2-2-3 0zm1-2 3-5-3-2-3 4zm1-34 3-2-2-7-3 2zm20 1 3-15-2-12-3 16zm29 12 3-16-2-4-3 15zm18 12 4-13-3 3-3 13zm3 0 3-13-2 0-4 13zm17 9 3-14-3 8-3 13zm-254 40 3-15-2 3-3 16zm31-21 4-10-3 7-3 10zm1-3 3-11-2 7-3 11zm4 6 3-7-3-3-3 7zm5 0 3-10-2-6-3 9zm12 8 3-10-2 2-3 9zm19 9 3-10-2-5-3 10zm9-24 3-3-3-5-3 3zm28 17 3 1-3-6-3-2zm4 2 4 1-3 2-3-2zm2-4 3-6-2-7-3 6zm5 2 3-6-3 1-3 7zm30 10 3-4-2-10-3 4zm8-23 3-5-2-3-3 5zm9-15 4 0-3-2-3 0zm8 32 3 2-2-10-3-2zm0 6 4-2-3 7-3 1zm4-11 3 0-2-11-3-1zm0 9 3-1-3 6-3 2zm18-10 3-3-3-7-3 3zm2 2 3-3-2-2-3 3zm5-7 4 7-3-12-3-7zm0 2 3 8-3-10-3-8zm51-21 3-6-3-1-3 7zm5-1 3-11-2-5-3 11zm19 2 3-15-2-10-3 15zm8 9 3-14-2 11-3 14zm1-3 3-15-2 10-3 15zm-199 39 3 2-2-9-3-2zm7 0 3-7-3-8-3 6zm22 1 3-9-2-6-4 8zm5 0 3-8-3 2-3 9zm78 4 3-2-2-16-3 2zm3-2 3-2-2-16-3 2z"/><path class=c25 d="m516 597 3 0-2-16-3 0zm3 0 3-5-2-16-3 5zm25 1 4-6-3-7-3 6zm11-7 4 12-3-14-3-11zm0 1 3 10-3-11-3-10zm1-3 3 12-2-16-3-11zm1-4 3 11-2-16-4-11zm44 3 3-16-2 10-3 16zm-205 41 3 6-2-16-3-6zm27-3 3-8-2-14-3 9zm12-2 3 4-2-11-3-4zm17-8 3-7-2-16-3 7zm35-8 3 0-2-16-4 0zm25-7 3 7-2-15-3-7zm32 27 3-7-3 4-3 7zm13-12 3 0-3-12-3 0zm42 15 3-8-2 3-3 9zm6-30 4-6-3-7-3 6zm25 1 3-15-2-5-3 16zm3 1 3-16-3 0-3 15zm1 4 3-15-2 7-3 15zm19 9 4-16-3 0-3 16zm27 11 3-15-2-8-4 16zm10 9 3-10-2 4-3 10zm-310 6 3-10-2-2-4 10zm2 5 3-14-3 7-3 13zm86 2 3-11-2 4-3 11zm0 7 3-7-2 1-3 7zm22-13 3 6-2 4-3-6zm11 23 3-12-2-2-4 11zm2-25 3-7-3 4-3 7zm0 30 3-10-3 3-3 10zm2 0 3-10-2 0-3 10zm7-20 4 1-3-5-3-1zm1 22 3-11-2-8-4 12zm5-21 3-3-2 0-3 3zm1-3 3-7-3-4-3 6zm3 28 4-12-3 6-3 11zm22-13 4-4-3-7-3 3zm11 0 4-7-3-3-3 7zm12 15 3 6-2-12-4-6zm13-3 3-7-3-11-3 7zm8-1 3 0-2-10-3 0zm2-19 3 0-2-3-3-1zm1-3 3-5-2-7-4 5zm0 22 4 3-3-10-3-3zm4-4 3-3-2-12-3 3zm1-16 3-5-3 1-3 5zm21 21 3-3-3 7-3 2zm6-26 3 4-2 6-3-5zm12 14 3 2-3-7-3-2zm66-24 3-13-3-9-3 13zm21 11 3-10-3 12-3 10zm2-6 3-16-2 7-4 15zm2 19 3 7-2-14-4-7zm4-4 3-2-3-11-3 2zm-175 35 4-10-3 12-3 9zm13 11 3-2-2-14-3 2z"/><path class=c27 d="m513 593 3 4-2-16-4-4zm23-2 4-10-3-14-3 10zm6 0 3-6-2-11-3 7zm6 1 3-3-3-6-3 2zm3-3 3 3-3-7-3-2zm52 5 3-6-2-3-3 7zm6 1 3-11-3-7-3 11zm5-1 3-13-2-10-3 13zm21 5 3-16-2 4-3 16zm-242 33 3 10-2-7-3-10zm19-13 3-11-2-16-3 11zm24-2 3 7-3-13-3-8zm29-9 3 2-2-16-4-2zm6 0 3-2-2-16-3 2zm3-2 3-2-2-15-3 1zm3-2 4-2-3-16-3 3zm7 0 3 4-3-16-3-4zm21-4 3 2-2-14-3-2zm49 12 3 4-3-12-3-4zm84-5 3-14-2 2-3 13zm18 6 3-16-2 3-4 16zm5 0 3-15-3-3-3 16zm2 2 3-15-2-2-3 15zm2 2 4-15-3-2-3 15zm5 1 3-15-2 1-3 16zm21 12 3-14-2 7-3 14zm21 4 3-15-2-12-4 16zm-330 6 3-11-2 3-3 10zm87 10 3-9-2 5-4 10zm23 20 3 7-2 0-3-7zm11-6 3-11-2 1-3 12zm7-18 3 1-2-7-3-2zm0 20 4-12-3-5-3 12zm8 3 4-12-3-6-3 11zm5 2 3-12-2 2-3 11zm2-21 3-3-2-3-3 3zm2 2 3 2-2-2-4-2zm1 0 3-3-3-2-3 3zm1 3 3 1-2-2-3-2zm7-2 3-6-3-3-3 6zm9 12 3 6-2 1-3-5zm6 0 3 2-2 5-4-1zm17-9 3 2-2-3-3-2zm0 17 3 1-3-11-3-2zm1-18 3-3-2-6-4 2zm14 14 3-4-3-12-3 5zm4-17 3 4-2-4-3-3zm5 16 3 3-2-12-3-2zm6 7 3 1-2 6-4 0zm1-25 3-7-2 1-4 7zm6 15 3-2-3-12-3 2zm3-2 3 2-2-12-4-2zm21 6 3 0-3 10-3 0zm98-12 3 3-3-11-3-3zm-199 23 3-6-2-5-3 6zm28 1 3-4-2-7-3 5zm4 26 4 11-3-16-3-11zm10-26 3 7-2 3-3-8z"/><path class=c26 d="m522 592 3-8-2-16-3 8zm28 2 3-3-2-2-3 3zm4-2 3 7-2-7-4-7zm74 6 3-16-3-9-3 16zm-270 40 4-15-3-16-3 15zm6 0 3-15-2-16-3 16zm6-1 3-14-3-14-3 14zm48-13 3-11-3-16-3 11zm14 0 3 0-2-11-4 0zm8-6 3 6-3-16-3-5zm28-8 3-2-2-16-3 2zm25-7 3-7-2-16-3 8zm9 0 3-3-2-14-4 3zm6-1 3 5-2-13-3-6zm36 23 3-6-2-1-3 7zm9-9 3 7-2-11-4-7zm83-8 3-13-2 5-4 13zm5 2 3-13-3-4-3 14zm8 1 3-15-3-8-3 15zm19 9 3-16-2-2-4 15zm21 11 4-16-3 6-3 15zm4 6 3-11-3 0-3 10zm13 1 3-15-2-12-3 16zm-329 2 4-10-3-7-3 11zm113 30 3 7-2 3-3-7zm8-7 4-11-3-2-3 11zm17-12 3 1-2 0-4-1zm6-2 3-6-2-1-3 7zm0 23 3-11-2-4-4 12zm9-18 3-4-2-1-3 3zm2 2 4-3-3-3-3 4zm8 7 4 6-3-7-3-6zm1-1 3 2-2-8-3-2zm2 5 3 5-2-3-4-6zm5-7 3-6-3-8-3 7zm5 1 3-7-2-7-3 7zm1 6 3-3-2 5-3 3zm4-4 3-7-2 1-4 7zm13-5 3-2-2-4-3 3zm0 16 3-3-2-11-4 3zm3-18 4-2-3-3-3 1zm19-2 3 1-3 1-3 0zm3-3 4-7-3-3-3 7zm2 17 4-1-3-12-3 1zm3 8 3 3-2 6-3-3zm1-9 3-2-3-12-3 2zm9-2 3 3-2-12-3-3zm21 4 3-4-3 9-3 5zm101-11 3-6-2-11-4 6zm9-3 3-14-3-13-3 13zm5 2 3-15-2-16-3 15zm6 1 3-16-3-16-3 16zm-228 24 3-2-2-5-3 2zm9 0 3-9-3-9-3 10zm24 2 4-5-3-2-3 4zm7 20 3 2-2-14-3-2z"/><path class=c17 d="m448 639 3-3-2-14-3 3zm25-5 3-2-3-11-3 3zm15-1 3 2-3-6-3-3zm10-5 3-7-2-11-3 7zm5-1 4-6-3-7-3 7zm3 2 3-6-2-2-4 6zm10-4 3 7-2-6-3-8zm2-3 3 4-3-13-3-5zm20-3 3-11-2-7-3 12zm4 4 3-11-2 7-3 11zm24-18 3-1-2-16-3 1zm3-1 4-7-3-16-3 7zm9-1 3-14-2-16-3 14zm6 0 3-16-3-13-3 15zm8 2 3-16-3-7-3 16zm2 2 3-16-2-2-3 16zm9 19 3 7-2-11-3-7zm7-3 3-6-2-12-3 6zm19 5 3-14-3 4-3 14zm5 8 3-2-3-7-3 2zm3-2 3-7-3-6-3 6zm5 1 3-11-2-7-3 10zm-273 28 3-16-2-10-4 15zm9 5 3-16-3 10-3 16zm24-17 3 3-2-16-4-3zm15-2 3-12-2-13-4 11zm5-1 3-11-2-11-3 11zm22-5 4 5-3-10-3-6zm0 30 3 7-2-5-3-7zm2-4 3-3-3-11-3 2zm16 1 3-10-3 4-3 10zm1-30 3-5-3-6-3 4zm101 1 3 0-2-5-3 1zm81 38 3 4-2-10-3-4zm4-38 3-6-3 2-3 6zm5 38 4-9-3-10-3 9zm6-2 3-11-2-7-3 11zm2-33 3-11-3-2-3 10zm0 35 3-11-2-2-3 11zm6-29 3-6-2-5-3 6zm13 1 4-14-3-3-3 13zm19 11 3-11-2-11-3 11zm6 1 3-13-3-12-3 13zm12 4 3-16-2 3-3 15zm-213 32 3 3-2-3-3-3zm4-3 3-6-2-7-3 7zm5 2 3-6-2 1-4 7zm61 3 3 2-2-7-4-1zm6-1 3-7-2-6-3 6zm105-3 4 0-3-16-3 0zm4 0 3-5-3-16-3 5zm37-12 4 10-3-16-3-10zm14-4 3-10-2-16-4 10zm-241 44 3-16-2 7-3 16zm67 3 3 7-2-16-4-7z"/><path class=c29 d="m545 585 3-2-2-11-3 2zm7-4 3 10-2-13-3-10zm54 7 3-11-2-2-3 10zm-225 42 3-6-3-7-3 6zm2 2 3-6-2-2-3 6zm9-9 3 11-2-15-3-12zm0 2 3 11-3-13-3-12zm37-12 4 0-3-14-3 0zm4 0 3 4-3-14-3-4zm3-2 4 7-3-15-3-8zm4-3 3 2-2-16-3-2zm7-1 3-7-3-16-3 7zm11-3 4 0-3-15-3-1zm4 0 3 4-3-16-3-3zm31 4 4-1-3 11-3 2zm10-1 3 3-2 12-4-4zm16-7 4 2-3 10-3-2zm21 37 3-3-2 0-3 3zm3-3 3-1-2 0-3 1zm4-3 3-2-2-5-3 2zm1-16 3 2-2-5-3-2zm5 16 3 3-2-5-3-3zm1-27 3 0-2-10-3 0zm84 12 3 11-2-2-4-11zm2 1 3 12-2-2-3-11zm33-2 3-16-3 4-3 15zm2 0 3-16-2 0-3 16zm10 4 4-16-3-7-3 16zm5 2 3-16-2 1-3 16zm2 2 3-15-2 7-4 16zm1 3 4-14-3 4-3 14zm3 0 3-13-2-1-4 14zm29 13 4-15-3 11-3 15zm-217 22 3-12-2 0-3 12zm9 13 3 3-2 4-3-3zm14 0 3-10-2-5-3 10zm8-27 3-8-3-2-3 7zm6 6 3-7-2-4-3 6zm3 7 3 5-3 6-3-6zm8-6 3-5-2-7-3 5zm0 6 4-3-3 7-3 3zm6-8 3 1-2-4-4 0zm2 15 4 6-3-12-3-5zm1-14 3 3-2-3-3-4zm21 12 3 0-2-12-4 0zm21 4 3 2-3 10-3-2zm120-20 3-2-2-6-3 1zm3-2 4-6-3-7-3 7z"/><path class=c16 d="m472 639 3 2-2-7-3-2zm6 0 3-2-2-7-3 2zm3-2 4-2-3-6-3 1zm3 2 3-1-2-3-4 2zm1-4 3-2-3-7-3 3zm2 3 3-3-2-2-3 2zm4-3 3 4-2-7-4-3zm1-3 3 0-3-10-3-1zm3 0 3-4-2-11-4 5zm10 2 3-7-2 2-3 7zm12-8 3 7-2-11-4-7zm10-4 3-9-2-14-3 9zm14-1 3-11-3-2-3 11zm66 4 3-2-2-12-3 2zm14 1 4-13-3-9-3 13zm-245 43 3-16-2 3-3 15zm32-18 3-6-2-16-3 7zm22 3 3-11-3 3-3 11zm27-14 3-7-2-11-3 8zm8 2 3-5-2-2-3 5zm9-1 4 2-3-2-3-2zm159-1 3 3-2-7-4-3zm12 0 3-11-3-5-3 11zm2 0 3-11-2 0-3 11zm1 5 3-1-2-3-3 2zm2 2 4-1-3-2-3 1zm1-3 3-7-2-2-3 6zm3 2 3-7-3-2-3 7zm2 1 3-6-2-2-3 7zm2 3 3-2-3 2-3 2zm3-2 3-6-2 2-4 6zm4 4 3-2-2-5-4 2zm9-1 3-10-3-8-3 11zm16 16 4 3-3-11-3-3zm23 0 4-16-3-7-3 16zm-207 32 3-3-2-6-4 2zm5 1 4-7-3-3-3 6zm0 1 3-3-3 2-3 2zm17 14 4 7-3-10-3-7zm1-3 3 2-2-11-3-3zm22 1 3-12-2 3-3 11zm26-9 3 1-2-2-3-2zm1-1 3-3-2-7-3 3zm6-1 3-6-3-3-3 7zm147-16 3 3-2-15-3-3zm-240 39 3-16-3-10-3 16z"/><path class=c28 d="m496 596 3-7-2-15-3 6zm13-2 3 7-2-15-4-8zm22-6 3-11-2-16-3 12zm20-3 4 7-3-11-3-6zm28-12 3-15-2-16-4 15zm5 1 4-16-3-16-3 16zm36 19 3-16-3-12-3 16zm-245 41 3-11-2-10-3 10zm23-3 3 10-2 3-3-10zm28-13 3-5-2-14-3 5zm6 15 3-7-2 10-3 6zm11-23 4-3-3-16-3 3zm12-1 3-5-2-16-3 5zm26-7 3 2-3-16-3-2zm31 4 3-8-2 12-3 7zm4-3 3-3-2 10-3 3zm121-3 3-15-3 7-3 15zm6 20 3 12-3-3-3-12zm3-17 3-15-2-7-3 16zm12 8 3-16-2 2-3 16zm19 9 4-16-3-5-3 16zm11 2 3-16-2-3-4 16zm10 9 3-13-2-5-3 13zm-192 30 3-12-3 4-3 11zm3-16 3 6-2-5-3-6zm15 5 4 2-3-2-3-2zm0 22 3-10-2 7-3 10zm2 3 3-6-2-1-4 7zm16-19 3-3-2-5-3 3zm9-2 3-7-3-8-3 7zm8 3 3-5-3-3-3 5zm0 20 3 0-2-7-3 0zm4-3 3 7-2-10-3-7zm1-3 3 8-3-12-3-8zm2-18 3 2-3-7-3-2zm23 12 3 3-2-11-3-4zm6-16 3 0-2 6-3-1zm3 0 3-4-2 5-3 5zm12 22 3-2-3 10-3 2zm3-2 3-2-2 10-4 2zm13-26 3 4-3 7-3-4zm19 16 3 6-2 6-3-5zm91-7 3-11-2-11-3 11zm-210 36 3 12-2 2-3-11zm29 2 3-7-3 12-3 6zm6 12 3 10-2-15-3-10z"/><path class=c32 d="m466 594 3-2-3-16-3 2zm3-2 3-2-3-16-3 2zm12-4 3 4-2-16-3-4zm10 0 3-8-3-16-3 8zm12-2 3 2-3-16-3-1zm5 13 4 0-3 11-3 0zm4 0 3-5-3 12-3 4zm22-22 3-10-2-16-3 10zm15-2 3 6-2-13-3-7zm9 7 3 3-2 6-3-2zm9 0 3 10-3 9-3-10zm24 2 3 7-2 2-3-7zm15 12 3 12-2 6-4-11zm11-15 3-16-2-10-3 16zm24 12 4-15-3 1-3 16zm11 3 3-16-3-8-3 16zm7 1 3-16-2 4-3 15zm-297 26 3-16-3-16-3 16zm5 0 3-14-2-15-3 13zm6 0 3-10-3-14-3 10zm5 0 3-6-2-11-3 7zm6 1 3-2-2-7-4 2zm3-2 3 3-2-7-3-3zm13 2 4 11-3 6-3-10zm15-16 3-11-2-16-3 11zm8 18 3 6-3 10-3-7zm5 0 3 2-2 7-3-3zm5-23 3 8-2-16-3-7zm7 12 3-9-2 12-4 9zm4-2 3 0-2 10-4 0zm3 0 3 4-2 10-3-4zm31-6 3 0-3 11-3 0zm147-3 3 12-2 0-3-12zm44-2 3-16-3-2-3 16zm2 2 3-15-2-3-3 16zm4 20 3 11-3 4-3-11zm19-8 3-15-2 7-3 15zm15 7 4-16-3-12-3 16zm-195 45 3 6-2 4-3-6zm2 0 3 7-2-1-3-6zm29-16 3 8-3 5-3-7zm5 0 3 6-2 7-3-5zm19 18 4 5-3 6-3-4zm15-2 3 6-3 11-3-5zm12-2 3-7-2 11-3 7zm132-25 3-7-2-2-3 7zm6 0 3-11-3-6-3 10zm5 0 3-13-2-11-3 13zm6 0 3-15-3-14-3 16zm5 1 3-16-2-16-3 16z"/><path class=c15 d="m500 634 3-7-2-6-3 7zm2 4 3-4-2 2-3 5zm1-2 3-7-3-2-3 7zm30-12 3-11-3-11-3 11zm29-13 4 7-3-15-3-7zm0 4 3 10-3-14-3-10zm33 2 3-14-2 10-3 13zm1-4 3-15-3 6-3 16zm20 15 3-11-2-11-4 11zm-253 40 3-16-2-14-3 16zm8 1 3-15-2-7-3 16zm30-11 3 7-2-14-3-7zm4-4 3-3-2-15-3 2zm20 1 3-11-3-7-3 11zm2 2 3-11-2-2-3 11zm18 18 3 2-2-8-3-3zm2-26 3 6-2-7-4-5zm10 25 3-10-2-5-4 10zm2 0 3-10-2 0-3 10zm5-28 3-7-2 3-3 7zm11-5 3-2-2-7-3 2zm3 2 3-2-3-2-3 2zm3-2 3-2-3-2-3 2zm154 4 3 3-2-5-3-3zm1-2 3-2-2-7-3 2zm3-2 3-6-2-8-3 7zm14 8 3-2-2-1-4 1zm2 3 3-2-2-3-3 2zm3-2 4-6-3-3-3 6zm6 6 3 3-2-7-3-3zm26 16 3 7-3-12-3-7zm4-2 3-2-3-11-3 2zm3-2 3-6-2-11-4 6zm19 1 3-15-2-3-4 16zm-208 33 3-2-2-4-3 3zm24 12 3-2-2-12-3 3zm3-2 4-6-3-12-3 6zm12 1 3-12-3-7-3 12zm2 2 3-11-2-3-3 12zm31-10 4-3-3-2-3 3zm68-22 3 0-2-10-3 0zm3 0 3-4-2-10-3 4zm11 3 3-9-3 2-3 9zm76 1 3-6-3-16-3 7zm8 0 4-14-3-16-3 14z"/><path class=c18 d="m445 638 3 1-2-14-3-1zm6-2 4-6-3-14-3 6zm15-1 3 0-3-6-3 0zm2 2 3 1-2-3-3 0zm1-2 3 4-2-7-4-3zm1-3 3 2-3-10-3-2zm6 0 3-2-2-10-4 1zm3-2 3-1-2-11-3 2zm3-1 3-3-2-10-3 2zm6 0 4 3-3-11-3-3zm55-10 3-12-2 3-3 11zm19 18 3-1-3-8-3 0zm1-34 3 2-2-16-3-2zm33 1 4-15-3 2-3 16zm7 21 3 10-3-9-3-10zm1-3 3 3-2-12-3-3zm28 16 3 7-2-5-3-7zm17-1 4-11-3 3-3 11zm5 0 3-10-2-3-3 11zm3 2 3-10-3-2-3 10zm-246 6 3-10-2-16-3 10zm32 21 3 3-3-12-3-2zm1-24 3 7-3-6-3-8zm2 2 3 7-2-2-3-7zm32 34 3-6-3-5-3 6zm181-37 3-10-2-2-3 10zm5 1 3-11-2 2-3 11zm1 35 3-11-3 2-3 11zm1-32 3-6-3 0-3 6zm13 2 3-13-2-7-3 14zm5 3 3-14-2 1-4 14zm4 17 3 12-2-7-3-12zm23-7 3-16-2-10-3 16zm-236 20 3-2-3-5-3 3zm2 0 3-2-2 0-3 2zm26 12 4-2-3-8-3 2zm0 4 3 3-3-7-3-3zm12-3 3-10-3-3-3 10zm24 13 3-10-3-12-3 10zm5 0 3-12-2-10-3 12zm32-10 3-3-3-10-3 3zm11 0 3-7-3-3-3 7zm34-8 4 0-3-3-3 0zm1-3 3-4-2-7-3 4zm3 3 3-5-3-2-3 4z"/><path class=c30 d="m488 592 3-4-3-16-3 4zm22-6 3 7-3-16-3-7zm15-2 4-11-3-16-3 11zm23-1 3 2-2-10-3-3zm5-5 3 11-2-15-3-12zm1-4 3 11-3-16-3-11zm7 11 3 6-2 7-3-7zm42-5 3-15-2 11-3 16zm1-4 3-16-3 12-3 16zm21 13 3-16-2-12-3 16zm12 3 3-16-2 7-3 16zm-247 33 3 7-2-7-3-7zm3-6 3 10-2-16-3-10zm28-6 3-9-3-16-3 9zm10 15 3-2-2 7-3 2zm19-11 3 8-2 9-3-7zm17-1 4-3-3 12-3 3zm8-5 3-4-3 11-3 5zm9-1 3 2-2 12-3-2zm13-3 3-3-3 12-3 2zm3-3 3 3-3 11-3-2zm46 29 3-2-2 0-3 2zm4-4 3 2-2-5-3-2zm1-3 3 3-2-7-3-4zm1 12 3-2-2-2-3 2zm4-25 3 6-2 4-3-6zm2 25 3-1-3-3-3 2zm87-20 3 12-2 2-3-12zm7 2 3 12-2-5-3-12zm2-20 3-15-2-5-3 16zm2 26 3 12-2-4-3-12zm16 2 3 11-2 6-3-10zm32-1 3-16-2-9-4 16zm22 8 3-16-2 10-3 16zm-234 30 3 10-3-5-3-10zm12-11 3-11-2-2-3 11zm8 18 3 6-3 7-3-7zm15-4 3-10-3 4-3 10zm2 1 3-10-2-1-3 10zm12-24 3-7-2 1-3 8zm1 13 3 7-2 2-3-8zm1-10 3-6-3 0-3 6zm10 10 3 2-2 7-3-2zm1-17 4-3-3-2-3 2zm5 8 4 0-3-7-3 0zm4 0 3 4-3-7-3-4zm10 26 3 7-3 6-3-7zm14-1 3 1-2 12-4-2zm10-4 3-4-2 9-3 5zm123-27 3-2-2 7-3 2zm3-2 3-6-2 7-3 6z"/><path class=c36 d="m418 597 3-9-2-16-3 9zm65-2 3 4-2 11-3-3zm14-21 3-3-2-16-3 3zm6-2 3 6-2-16-3-6zm11 17 3-5-2 10-3 5zm4-2 3-7-2 12-4 6zm12-2 4 7-3 12-3-8zm6-3 3 8-2 9-3-7zm1-15 3-7-2-15-3 6zm5 16 3 4-3 7-3-4zm18-11 3 3-2 10-3-3zm28 2 3 10-2 2-3-10zm20 14 3 12-2 8-3-12zm7-17 3-16-2-6-3 15zm4 23 4 10-3-5-3-10zm23-15 3-16-2 6-3 16zm5 2 3-16-2-3-3 16zm-262 26 3 7-2-13-3-7zm18 8 3 10-2 10-4-11zm5-2 4 12-3 11-3-11zm6 1 3 11-2 12-3-12zm5 2 4 10-3 9-3-10zm8 1 4 7-3 2-3-7zm16-11 3-4-2 11-3 5zm201-3 3 12-2 3-3-12zm48 26 3 10-3 10-3-10zm5-1 3 11-2 12-3-12zm6 0 3 12-3 11-3-12zm4-17 3-16-2-8-3 15zm1 19 3 10-2 10-3-10zm8 0 3 7-2 3-3-7zm-205 28 3 10-2 4-4-10zm2 0 3 10-2 0-3-10zm18 14 3 12-2 10-3-12zm11 1 3 10-2 11-3-10zm5-28 3 7-2 8-3-8zm5 1 4 5-3 7-3-6zm29 15 3 7-3 12-3-8zm22-7 3 0-3 12-3 0zm3 0 3 4-2 11-4-3z"/><path class=c31 d="m484 592 4 0-3-16-3 0zm15-3 4-3-3-15-3 3zm7-1 3 6-3-16-3-6zm9 10 4-6-3 11-3 7zm13-2 3 8-2 11-3-7zm12-15 3-7-3-14-3 7zm2 13 3 0-2 10-3 0zm3 0 4-5-3 10-3 5zm67-10 3-13-2-7-4 13zm27 11 3-16-2 6-3 15zm5 2 3-16-2-3-4 15zm-258 29 3-2-2-2-3 2zm51-23 3 5-2-16-3-5zm13-3 3-7-3-16-3 7zm14 15 3 1-2 12-3-2zm7-2 3-6-3 11-3 7zm10-6 3 3-2 12-4-4zm68 29 3 2-2-2-4-2zm1 0 3-2-3-2-3 2zm1 3 3 2-2-3-3-2zm6 0 3-3-2 2-4 3zm54-39 4 12-3 7-3-11zm10 4 3 12-2-7-3-12zm26 11 4 12-3 3-3-12zm10-15 3-15-3 0-3 15zm2 25 3 11-3 2-3-12zm24-13 3-16-2-7-3 15zm10 3 3-15-3 5-3 16zm2 24 3 12-3 10-3-12zm-189 29 3 10-2 8-3-10zm22-21 4 6-3 2-3-6zm50 25 3 8-2 9-3-7zm22-6 3 0-2 10-3-1zm3 0 4 3-3 10-3-3zm114-26 3 3-2 7-3-3zm-188 42 3 12-3 6-3-12zm5 2 3 12-2 9-3-11zm11-1 3 7-2 11-3-7zm9-1 3-2-2 10-4 2z"/><path class=c33 d="m453 593 3-5-2-16-4 5zm9-1 4 2-3-16-3-2zm10-2 3-1-2-16-4 1zm3-1 3-3-2-16-3 3zm3-3 3 2-2-16-3-2zm37 8 3-7-3 11-3 8zm4-2 3-3-3 11-3 3zm6-2 3 6-2 12-3-6zm14 0 3 4-2 10-3-5zm4-16 3-2-2-14-4 2zm3-2 3 3-2-14-3-3zm3 17 3-8-3 9-3 9zm58-14 3-14-2 3-3 13zm2 2 4-13-3-3-3 14zm5 18 3 12-2 5-4-12zm5 2 3 12-3-4-3-11zm1 2 3 12-2-7-3-12zm41-4 3-15-2 1-3 16zm3 3 3-16-3-2-3 15zm-276 16 4 11-3-14-3-10zm0 4 3 7-3-11-3-7zm36-14 3-5-2-15-4 4zm7 20 3 2-3 2-3-2zm7-8 4-11-3 10-3 11zm1-1 3-11-2 11-3 11zm22-6 3 6-2 11-3-5zm13-2 3-7-2 11-4 7zm16-6 3-2-3 11-3 2zm149 7 4 12-3-3-3-11zm22 11 3 12-2 5-3-11zm5-19 3-16-2-2-3 16zm7 3 4-16-3 2-3 15zm8 1 3-15-3-5-3 15zm20 14 4-16-3-5-3 16zm18 19 3 3-2 3-3-3zm-240 16 3 12-2-3-4-11zm77-2 3 2-3 7-3-2zm56 9 3-3-2 12-3 2z"/><path class=c40 d="m547 552 4 10-3-16-3-10zm61 3 4-16-3 10-3 16zm-235 44 4-7-3-15-3 6zm14-4 3 12-2-16-4-12zm38-11 3 0-3-16-3 0zm3 0 3 4-3-16-3-4zm17 11 4-5-3 12-3 4zm10-1 3 8-2 11-4-7zm11-1 3 6-2 6-3-6zm13-3 3-5-2 10-3 5zm26-7 3 2-3 10-3-2zm8-1 3 0-2 7-3 0zm7-5 3-6-2 9-3 7zm13-2 3 7-2 10-4-7zm5 1 4 7-3 7-3-8zm5 0 3 7-2-2-3-7zm12-7 3-11-2 10-3 11zm1-1 3-10-3 11-3 10zm4-5 3-2-3 11-3 2zm6 0 3 7-2 12-4-7zm17 1 3 12-3 6-3-11zm4 0 3 12-2-2-3-12zm28 18 3 10-3-7-3-10zm12 7 3 10-3 2-3-10zm73 8 3-16-2 4-4 16zm2 0 3-15-2-1-3 16zm-305 8 3 3-3 9-3-2zm27 2 3 10-2 2-3-10zm231-5 3 7-2 5-4-6zm11 3 3 12-2 7-4-12zm7 1 3 12-2-5-3-12zm9 16 3-2-2 9-3 3zm3-2 3 2-2 10-3-3zm28 0 3 10-2 3-3-10zm18-8 3-16-2 12-3 16zm9 5 3-15-2-7-4 15z"/><path class=c35 d="m434 595 3 8-2-16-3-8zm22-7 3 1-2-16-3-1zm3 1 3 3-2-16-3-3zm27 10 4 2-3 11-3-2zm13-4 3-2-2 11-3 3zm3-2 3 2-2 12-3-3zm49-31 3 12-3-16-3-12zm2 17 3-11-3 11-3 12zm4-5 3-2-2 10-3 2zm6 1 4 7-3 9-3-6zm43-10 3-16-2 11-3 16zm24 34 3 12-2 2-4-12zm46 0 3-15-2 3-4 16zm2 0 3-15-2 0-3 15zm-302 14 3-7-2-14-4 7zm14-6 3 12-2-16-3-12zm7 10 3 7-2 7-3-7zm28 2 3 7-2 6-3-6zm27-13 4 7-3 12-3-8zm15-1 3 2-3 9-3-1zm6-1 3-7-2 10-3 6zm4-4 3-5-2 12-3 4zm129 3 3-9-2 0-3 9zm36 3 3 12-2 2-4-12zm7 2 3 12-2-5-3-12zm7 6 3 11-3 1-3-10zm13 3 3 11-2 7-3-11zm26-9 3-16-2 8-3 15zm19 25 3 7-2 7-4-7zm15-9 3-16-3 11-3 16zm8 6 3-13-3-7-3 14zm-181 46 3-3-2 7-3 2zm2-29 3 2-2 4-3-2zm31 15 3 2-2 11-3-1zm10-3 4-5-3 12-3 4z"/><path class=c34 d="m582 558 3-16-2-16-3 16zm-155 41 3 0-2-15-3 0zm3 0 3 4-2-15-3-4zm63 0 3-2-3 11-3 2zm1-19 3-6-2-16-4 6zm2 17 3-2-2 12-4 1zm9-2 3 4-2 11-3-3zm1-17 4 8-3-16-3-8zm16 11 3 1-2 12-4-2zm7-16 3-12-3-16-3 12zm16 14 3 0-3 7-3 0zm3 0 3-4-2 6-4 5zm2-19 3 10-2-16-4-10zm14 23 3-11-2-10-4 11zm41-21 3-15-2 10-3 15zm11 24 3 11-2 2-3-12zm7-17 3-16-2-11-4 15zm17 8 3-16-3 7-3 16zm9 3 3-16-2-7-3 16zm-268 29 4-2-3-10-3 1zm4-2 3 3-3-11-3-2zm4-4 3 12-2-16-3-12zm81-4 3-3-2 9-4 3zm157-6 4 12-3 3-3-12zm10 5 3 11-2-1-3-12zm16 10 3 10-2-4-3-10zm44-4 3-15-3 4-3 15zm2 1 3-16-2 0-3 15zm29 15 3-16-2 12-4 15zm3 6 3-10-2-2-3 10zm-223 28 4 10-3 6-3-10zm84 2 4-3-3 11-3 3zm17-6 3 2-2 11-3-2z"/><path class=c14 d="m494 639 3 0-2-7-3 0zm25-7 3 8-2-7-3-7zm2-6 3 0-3-13-3 0zm3 0 3-4-2-14-4 5zm16 4 3-11-2 2-4 11zm66 3 4 3-3-11-3-3zm18-2 3-13-2-5-4 13zm1 7 3-7-3 7-3 7zm1-6 3-14-2 0-3 13zm-252 39 3-15-3-2-3 15zm74-23 3 2-3-11-3-1zm0 29 3-2-2-9-3 3zm3-2 3-6-2-9-3 6zm3-28 3-7-2-10-4 6zm5 0 4-7-3-7-3 7zm3 2 3-7-2-2-4 7zm34-8 4 0-3-2-3 0zm145 7 3-2-2 0-4 2zm3-2 3-6-2 0-3 6zm23 13 3-2-2-7-3 2zm3-2 4-6-3-7-3 6zm6 1 3-11-2-6-3 10zm5 2 3-10-3 1-3 10zm-234 20 4 2-3-5-3-2zm94 36 3-10-2-10-3 10zm116-31 3-8-2-7-4 9zm1 5 4-4-3 2-3 5zm1-2 3-9-2-2-3 8zm75 1 4-2-3-15-3 2zm-241 42 3-15-2-7-3 16zm5 1 3-16-2 2-4 16zm72 3 3 3-2-16-3-3zm6 1 3-7-2-16-3 7z"/><path class=c13 d="m497 639 3-5-2-6-3 4zm23-6 3 4-2-11-3-4zm15-3 3-11-2-6-3 11zm40-17 3-10-2-16-3 10zm11 1 3-16-2-11-3 16zm27 20 3-6-3-11-3 6zm12 4 4-10-3 4-3 10zm-250 40 3-16-2 7-3 15zm39-19 3-10-3-14-3 10zm5 1 3-12-2-11-3 12zm32-10 3-3-3-11-3 3zm49-9 3-5-3-2-3 5zm138 7 4-2-3-5-3 2zm4-2 3-6-3-5-3 6zm24 17 4 3-3-7-3-3zm12-2 3-10-2-4-3 11zm24 13 4-11-3-12-3 11zm6-1 3-13-2-10-3 13zm-255 10 3-2-2-1-3 2zm1-3 3-6-3-5-3 6zm2 1 3-7-2 0-3 6zm194 9 4 0-3-7-3 0zm3 3 3 0-2-3-4 0zm1-3 3-5-3-6-3 4zm77 5 3 7-3-16-3-7zm-236 39 4-16-3-2-3 15zm37-12 3 2-3-10-3-2zm16 1 3-10-2 2-3 10zm25 15 3-2-2-16-3 2z"/><path class=c37 d="m464 599 3 6-3 10-3-6zm12-2 3-7-2 10-3 7zm4-2 3 0-2 12-3 0zm20-24 3 1-2-16-3-1zm11 18 3 0-2 10-4 0zm36-28 3 7-3-16-3-7zm22 9 3 10-2 12-3-10zm6-1 3 11-3 12-3-12zm33-5 3-16-3 7-3 15zm14 30 3 10-2 0-4-10zm23-16 3-16-3 1-3 16zm-280 29 3-13-3-16-3 13zm5 2 3-10-2-16-3 11zm9-3 3-1-2-14-3 1zm63-2 3-9-2 11-3 9zm4-2 3 0-2 11-3 0zm3 0 3 4-2 11-3-4zm9 0 3 7-2 12-3-8zm14-2 3-3-2 7-3 3zm175 3 3 12-3 0-3-12zm11 6 3 10-2 6-3-11zm5 3 4 12-3 7-3-12zm8 1 4 11-3 4-3-11zm3 0 3 12-2-1-4-11zm1 2 4 12-3-9-3-12zm59 9 3-14-2-2-3 14zm8 4 3-16-2-10-3 15zm6-2 3-16-2-13-4 15zm-236 42 3 3-2-7-4-3zm74-11 3 5-2 12-3-6z"/><path class=c38 d="m544 558 3 3-3-16-3-2zm-113 30 3 7-2-16-4-7zm38 11 3 1-2 7-3-2zm6-2 4-6-3 6-3 7zm17-6 3-2-2 10-3 2zm3-2 3-2-2 10-3 2zm13-4 3 4-3 10-3-4zm9-1 3-7-2 10-3 7zm4-4 3-3-2 12-3 3zm6-1 3 6-2 11-3-6zm5-18 3-10-3-16-3 10zm8-1 4-2-3-15-3 2zm4 21 3 4-2 2-3-4zm12-12 4-6-3 11-3 7zm54-8 3-15-2 2-3 16zm1 22 3 12-3 5-3-12zm2-19 3-15-3-3-3 15zm4 25 3 10-2-7-3-10zm3-24 4-15-3-10-3 15zm4 26 3 10-2 3-3-10zm10 5 3 10-2-2-3-10zm2 2 3 10-2-2-3-10zm-254 7 3 2-2-13-3-3zm4-4 3 10-2-16-3-10zm57 7 3-12-2 2-3 12zm209 0 4 6-3 2-3-7zm45-7 4-16-3 7-3 16zm19 35 3 10-3-16-3-10zm14-18 3-16-2 10-3 16zm2 4 3-14-2 3-3 13z"/><path class=c41 d="m535 551 3-6-2-16-4 6zm36 8 4 10-3 11-3-10zm6 0 3 12-2 9-3-11zm41-4 3-15-2-7-3 16zm-235 39 3 7-2-16-4-7zm61 4 3-11-2 7-3 11zm16-6 4 7-3 10-3-7zm22-7 4 1-3 9-3 0zm4 1 3 3-3 10-3-4zm8-1 3-3-2 7-3 2zm3-3 4-1-3 6-3 2zm13-3 3 3-2 7-3-4zm31-5 3 7-2 2-4-7zm22-13 3 2-3 12-3-3zm22 1 3 12-2 2-3-12zm11 14 4 3-3 7-3-3zm25 8 3 7-2 3-3-7zm10 5 3 7-2-2-4-7zm2 2 3 7-2-2-3-7zm8 2 3 10-2 3-3-10zm3 0 3 10-3 0-3-10zm-239 10 3 10-2 12-3-10zm6-1 3 12-2 11-4-12zm5 2 3 12-2 9-3-11zm244-2 3 10-2 7-3-10zm34 15 3 11-2 11-3-10zm6-1 3 12-3 11-3-11zm5 2 3 12-2 10-3-12zm-172 43 3 11-2 12-3-12z"/><path class=c27 d="m559 591 3 7-3 3-3-7zm33 2 3 3-2 6-3-3zm-188 42 3 11-3 7-3-12zm25 0 3-2-2 9-3 3zm16-12 3 4-3 7-3-4zm8 2 3 7-2 10-3-8zm22-7 3 0-2 10-3 0zm31-8 3 0-2 12-3 0zm3 0 3-4-2 11-3 5zm31-6 3 0-2 11-3 0zm3 0 3-5-2 11-3 5zm110 23 3 10-2 0-3-10zm17 8 3 10-2 8-4-10zm8 0 3 7-3 4-3-7zm-174 41 3 10-3 5-3-10zm5 2 3 7-2 8-3-7zm6 0 3 3-3 7-3-3zm2-31 3 2-2 3-3-1zm3 2 3-3-2 3-3 3zm15 5 3-3-2 2-4 3zm157-5 3 12-2 6-3-12zm26 1 3-2-3 10-3 2zm3-2 3-6-2 9-4 7zm-170 44 4-2-3 11-3 3zm25-10 3 7-2 7-4-8zm5-2 3 5-2 10-3-6z"/><path class=c11 d="m523 637 3 0-2-11-3 0zm14 2 3-9-3 2-3 9zm32-18 3-2-3-15-3 1zm3-2 3-6-2-16-4 7zm17 1 3-15-3-7-3 16zm2 2 3-15-2-2-3 15zm-225 56 3-15-3-11-3 16zm37-9 4 7-3-11-3-7zm7-4 4-6-3-14-3 6zm12 1 3-11-3-7-3 12zm31-9 3-3-2-7-3 3zm2 2 4-3-3-2-3 3zm67-19 4 4-3-7-3-4zm87 2 3 3-2-9-4-3zm13 3 3-7-2 4-3 7zm1-3 3-10-2-1-3 11zm49 27 3-1-2-4-3 2zm3-1 3-7-2-3-3 6zm17 14 3 7-2-10-3-7zm7-2 3-6-2-12-3 6zm11 0 3-13-2-7-3 13zm4 4 4-10-3 6-3 11zm29 13 3-10-2-16-3 10zm-208 27 3-2-3-10-3 2zm11 1 3-10-2-2-4 9z"/><path class=c12 d="m529 632 4-8-3-11-3 9zm8 0 4-11-3-2-3 11zm29-14 3 3-3-16-3-2zm15-2 3-13-3-14-3 14zm12 4 3-16-2 3-3 15zm17 16 3-2-3-11-3 2zm8 1 3-11-2-9-3 11zm-214 28 3 2-2-13-3-3zm22 1 4-12-3 3-3 11zm24-11 3 2-2-7-3-2zm2 2 3 2-2-2-3-2zm4-3 3-7-2-7-3 7zm3 2 3-7-3-2-3 7zm149-16 3 7-2-5-3-7zm61 26 3 3-2-3-4-3zm1 0 3-2-3-7-3 2zm3-2 3-6-2-7-4 6zm1 4 4-2-3 2-3 1zm19 11 3 3-2-12-4-3zm-242 3 3-2-3-5-3 2zm205 11 3-5-2-3-3 5zm59-13 3-13-2 2-3 14zm-177 42 3-6-2-10-4 6zm5 0 4-9-3-7-3 10z"/><path class=c22 d="m445 634 3 7-2 3-3-7zm6 0 3 8-2 7-4-8zm22-6 3 0-2 7-4 0zm3 0 3 4-2 6-3-3zm28-6 3 0-3 10-3-1zm34-7 3 0-3 12-3 0zm3 0 3-5-3 12-3 5zm17 15 3 7-3-5-3-7zm2 0 3 8-2-1-3-7zm42-12 3 12-2-5-4-12zm24 4 3 3-3 2-3-3zm7-3 3-11-3 5-3 11zm21 18 3 7-3 3-3-7zm2 0 3 7-2 0-3-7zm-193 25 3-6-2 7-3 7zm30-13 3 2-2 4-3-2zm133 30 3 0-2 6-3 0zm3 0 3-5-2 7-3 4zm22-7 4 8-3 6-3-7zm22-27 3 7-2 8-3-7zm5 1 4 2-3 7-3-3zm-163 42 4-2-3 7-3 2zm20 17 3 10-2 7-4-10zm14-1 3-3-2 12-3 2zm44-20 3 0-2-2-3 0zm21-2 3-2-2 2-3 2zm3-2 4 2-3 2-3-2z"/><path class=c23 d="m456 632 4 6-3 10-3-6zm29-8 3-3-3 10-3 3zm70 1 3 7-2-9-3-7zm12-24 4 12-3 7-3-12zm26 1 3-1-3 9-3 2zm3-1 3-7-2 10-4 6zm-215 51 3-15-2 10-4 15zm46-7 3-3-3 12-3 2zm3-3 3-6-3 11-3 7zm16 17 3 10-2 4-3-10zm11 3 3 2-2 8-3-3zm31-15 3 6-3 0-3-6zm138 7 4 0-3 6-3 0zm20 17 3 8-2 2-4-7zm11-1 3 4-2 10-3-4zm10-27 4 10-3 5-3-10zm51 15 4-7-3 12-3 6zm-211 28 3 7-3 5-3-7zm5-1 3 3-2 7-3-2zm17 15 3 12-2 2-3-12zm17 1 3 3-2 11-3-2zm6 0 3-6-2 11-3 7zm4-4 3-12-2 10-3 11zm17-9 4 8-3 2-3-7zm6 1 3 6-2 7-3-6z"/><path class=c44 d="m538 545 3-2-2-16-3 2zm3-2 3 2-2-16-3-2zm17 15 3-10-2 10-3 10zm55-12 3-16-2 3-3 15zm3 3 3-16-3-3-3 16zm-232 36 3 10-3-16-3-10zm18 11 3 7-2 12-3-7zm17 1 3 12-3 7-3-12zm38-12 3 7-2 10-3-8zm6 0 3 8-2 6-4-7zm22-6 3 0-2 7-4-1zm3 0 3 3-2 7-3-3zm21-5 3 3-2 2-3-2zm29-8 3 8-3 2-3-8zm58 5 3-2-3 7-3 3zm3-2 3 3-2 7-4-3zm21 11 4 2-3 2-3-2zm18 6 3 7-2 3-3-6zm2 1 4 6-3 0-3-7zm17 8 3 7-2 7-3-7zm6 0 3 10-3 7-3-10zm28 16 3 6-2 12-4-7zm16 0 4 12-3 7-3-12zm26-9 4-15-3 9-3 16z"/><path class=c45 d="m562 551 3-2-2 12-3 2zm6 1 3 7-2 11-3-7zm11 0 4 12-3 7-3-12zm5 0 3 12-2-2-3-12zm-188 43 3-2-2 12-4 1zm3-2 3 3-2 12-3-3zm22 2 3 12-2 2-3-12zm3 2 3 12-3-2-3-12zm23-10 3-8-2 6-3 9zm1-2 3-5-2 10-4 5zm17-2 3 8-2 2-3-8zm22-6 3 0-2 2-3 0zm3 0 4 3-3 2-3-3zm36-13 3-3-2 7-4 3zm6-1 3 5-2 7-3-6zm103 21 3 2-2 4-4-3zm2 0 3 3-2-1-3-2zm14 11 3-3-2 8-4 2zm3-3 3 3-2 7-3-2zm-221 17 3 3-3 7-3-3zm252 1 3-2-3 12-3 2zm3-2 3 3-3 11-3-2zm22 1 3 11-2 3-4-12zm2 2 3 11-2-2-3-11z"/><path class=c42 d="m368 594 3-11-2-16-4 11zm9-2 3-1-3-16-3 2zm68 2 3-9-3 10-3 9zm4-4 3 0-3 12-3 0zm3 0 3 4-3 12-3-4zm16 1 4 5-3 3-3-6zm23-9 3 3-2 6-3-2zm10-1 3-2-3 7-3 1zm3-2 3-2-2 6-4 3zm19-8 4-3-3 9-3 3zm7-2 3 6-3 10-3-6zm82 6 3 10-2-3-3-10zm14 10 3 7-2-3-3-7zm2 2 4 7-3-2-3-7zm8 3 3 6-3 2-3-7zm-210 14 3 12-2-7-3-12zm226-4 3 2-3 6-3-3zm16 1 3 12-2 4-3-12zm3 0 3 12-3 0-3-12zm1 4 3 10-2-9-3-10zm9 12 4-7-3 12-3 6zm5 10 3-11-2-7-3 12zm51-17 4-15-3-2-3 15zm8 2 4-15-3-11-3 16z"/><path class=c32 d="m534 592 3 7-3 12-3-7zm38-12 3 12-2 11-3-11zm6 0 3 12-3 12-3-12zm5 2 3 10-2 10-3-10zm-177 43 3 11-2 10-3-11zm6 0 3 12-3 11-3-12zm38 2 4-12-3-10-3 12zm6-14 3 8-3 11-3-7zm26 4 3-3-2-10-4 3zm24-4 4-2-3-12-3 3zm4-2 3-2-3-11-3 1zm30-7 3-3-2-11-3 3zm14 33 3 2-3 2-3-2zm96-22 3 12-2 0-4-12zm11 22 4-9-3-12-3 10zm6-13 3 11-3 8-3-12zm6 14 3-2-3-7-3 2zm3-2 3 2-3-7-3-2zm1-11 3 10-2 0-3-11zm23 14 3 12-2 12-3-12zm-173 23 3-11-2 7-3 11zm79 14 3 2-2-14-3-1zm100-36 3 10-2 11-4-10zm5 0 4 7-3 10-3-7z"/><path class=c43 d="m544 545 3 7-2-16-3-7zm15 13 3-7-2 12-4 6zm52-10 3-15-2 6-4 16zm-231 43 3 3-3-16-3-3zm107-7 3-5-3-2-3 4zm7-4 3 2-3 3-3-3zm6 0 3-2-2 3-4 1zm3-2 3-1-2 2-3 2zm3-1 3-3-2 3-3 2zm1 0 3 2-2 6-3-2zm5 0 4 3-3 2-3-3zm0 0 3 2-3-2-3-3zm11-6 3-7-3 7-3 6zm4-3 3 1-3 10-3-2zm8 0 3 8-2 6-3-7zm22-5 3-12-2 7-3 11zm53 9 3 10-2 1-4-10zm2 3 3 7-3-7-3-7zm6 7 3 2-2 3-3-2zm6 0 3 7-3 2-3-7zm4 4 3 3-3-2-3-3zm-235 15 3-6-3 11-3 7zm342 7 3-15-2 3-3 15z"/><path class=c36 d="m507 599 3-1-2-10-3 1zm13-3 3 3-3-10-3-3zm9-1 3-7-2-10-3 7zm9-2 3-3-2-12-4 3zm14-12 3-12-2 10-4 11zm66 11 3 12-2-7-4-12zm-224 23 3 2-2 7-3-3zm60 0 3-11-3-10-3 11zm5 1 3-9-2-11-3 8zm9-2 3 0-2-11-4 0zm8-8 3 1-2-7-3-1zm3 1 4-3-3-7-3 3zm4-3 3-6-3-7-3 6zm21-2 3-3-2-10-3 3zm105-2 3-10-3 4-3 9zm34 14 3-7-2 2-3 6zm0 9 3-11-2 4-3 11zm2 0 4-11-3 0-3 11zm14 3 3-10-2-12-3 10zm15-5 3 7-2-12-3-6zm56 3 3-13-3 7-3 13zm-219 48 3-1-2-3-3 2zm189-27 3-10-2-16-4 10z"/><path class=c39 d="m421 588 4-4-3-16-3 4zm59 9 3-6-2-3-3 7zm6 1 3-8-2-6-4 7zm3-9 3 2-2 10-4-2zm9-2 3-1-2 9-3 2zm3-1 4-3-3 10-3 2zm15-4 4-4-3 6-3 5zm8-5 3 2-2 11-3-1zm30-3 3-11-2 6-3 12zm5 0 3-11-2-2-3 11zm22 1 3-2-2-11-3 2zm32 7 3 12-2 1-3-12zm3 5 3 7-2-5-3-6zm13 5 3 10-2-3-3-10zm3 2 3 10-3-2-3-10zm7 2 3 10-3 2-3-10zm-239 12 3 7-3 9-3-7zm22 1 3 10-2 7-4-10zm40-2 3-4-2-12-3 5zm182-4 4 3-3-7-3-3zm18 13 3-7-2-11-3 6zm43-14 3-15-3-5-3 15zm6 21 3 10-3 7-3-10z"/><path class=c24 d="m562 598 3 10-2 3-4-10zm28 1 3 3-3 10-3-3zm-102 22 3-1-2 10-4 1zm3-1 3-2-2 10-3 2zm9-2 4 4-3 9-3-3zm13 19 3 2-2 0-4-2zm7-25 3 5-2 7-3-5zm14-1 4 4-3 12-3-5zm73 3 3 12-3 4-3-12zm34 13 3 10-2-1-3-11zm2 2 4 10-3-2-3-10zm-242 12 3 12-2 3-3-12zm22 1 4 3-3 11-3-2zm40 17 3-2-3 5-3 2zm10 9 3 7-2 3-3-7zm150 7 3 4-2 6-3-3zm58-33 3 2-2 4-4-2zm9 13 3 12-2 2-3-11zm-102 32 3-3-3 10-3 3zm7-5 4 0-3 2-3 0z"/><path class=c25 d="m448 627 3 7-3 7-3-7zm17 1 3-3-2 11-3 3zm7-5 3-5-2 10-3 4zm10-1 3 2-3 10-3-2zm12-4 3-2-2 10-3 2zm3-2 3 2-2 10-3-2zm20-6 3 2-2 7-3-2zm38 12 3 8-3-5-3-8zm2 1 3 7-2 0-3-8zm41 11 3-4-2 1-3 5zm24-19 4 7-3 2-3-7zm14 8 3 10-2 2-3-10zm3 2 3 11-3-3-3-10zm36 14 3 7-2 6-3-7zm-200 27 4 7-3 2-3-7zm145 7 3 2-2 7-4-2zm-102 8 3-2-2 7-4 2zm27 3 3-11-2-12-4 12zm39 1 4 2-3 10-3-2z"/><path class=c19 d="m482 634 3-3-2 7-3 2zm26-7 3-7-2 3-3 6zm7-6 3 6-2-2-3-6zm78-11 4-6-3 12-3 6zm-145 31 4 8-3 2-3-7zm1 28 3 7-2 4-3-7zm5-27 3 6-2 6-3-5zm1 27 3 3-3 7-3-3zm19 9 3 2-2 0-4-2zm175 1 3 7-2 2-3-7zm8-35 3 3-2 3-4-3zm14 9 3 7-3 5-3-7zm5-1 3 3-2 8-3-3zm-163 43 3-2-2 5-3 3zm3-2 3-6-2 5-3 6zm58 5 3 6-2-3-3-5zm50-13 3 0-2 3-4 0zm31-5 3 4-3 6-3-4z"/><path class=c28 d="m594 591 4 3-3 2-3-3zm-168 41 3 3-2 10-4-3zm21 5 3-10-2-10-3 10zm12-16 3 5-2 12-4-6zm12-3 4-7-3 12-3 7zm16-6 3-2-2 11-3 3zm15 16 3 0-3-9-3 0zm21-26 3 6-3 9-3-5zm94 5 3 10-2 5-3-10zm5 2 3 10-3-4-3-10zm33 18 3 12-3-7-3-12zm25 8 3 7-2 0-3-7zm-237 13 3 11-2 4-4-11zm37 14 3 10-3-1-3-11zm52-9 3 1-3 2-3-1zm6-2 3-6-2 2-3 6zm177-4 3 3-3 10-3-3zm-167 43 3 2-2 12-3-3z"/><path class=c20 d="m441 635 3 8-2-11-3-8zm22 4 3-3-3 10-3 3zm16-7 3 2-2 6-3-2zm6-1 4-1-3 6-3 2zm13-3 3 3-2 7-3-3zm14-8 3 1-2-2-3-1zm125 15 3 7-2 3-4-7zm-158 42 4-2-3 3-3 2zm12-24 3 2-2-1-4-1zm133 7 3 0-2 1-3 0zm34 10 3-11-3-10-3 11zm-170 12 3 2-2-2-3-3zm6 1 3-3-2 2-4 2zm8 10 3 6-2-3-3-7zm8 0 3 2-2 6-4-3zm67 3 3 6-3 2-3-6zm28-8 3-3-2 2-4 3z"/><path class=c21 d="m440 635 4 7-3-7-3-7zm20 3 3 1-3 10-3-1zm35-12 3 2-2 7-3-2zm16-6 4-3-3 3-3 3zm7-1 3 5-3 3-3-6zm40-17 3 12-2-11-4-12zm39 2 3-10-3 11-3 11zm42 29 3 7-2 2-3-7zm-209 14 4-9-3 11-3 10zm30 17 3-2-2 8-3 2zm16 11 3 2-2 3-3-2zm20-24 3-4-2 5-3 3zm122 6 4 4-3-3-3-5zm42 17 3 0-2 10-3 0zm3 0 3-5-2 10-3 5zm19-26 3-1-3 7-3 1zm-185 32 3-6-2 2-3 6zm7 11 3 7-2 1-3-6zm117-9 3 3-3 3-3-4z"/><path class=c26 d="m549 597 3-6-2 3-3 6zm46-1 3-2-2 7-3 1zm3-2 3-6-2 6-3 7zm-136 32 3 2-2 11-3-1zm6-1 3-7-2 12-3 6zm10-7 4 4-3 10-3-4zm21 14 3-4-3-9-3 5zm14-22 3-7-2 10-3 7zm102 2 3 10-3 7-3-10zm36 15 3 10-3 3-3-10zm-162 32 3-12-2 3-4 12zm68 5 3-7-2 6-3 6zm91 1 3 7-2 7-3-8zm6-2 3 7-2 10-4-8zm-150 38 3-14-2 2-3 14zm28-7 3 11-3 7-3-12zm5 2 3 10-2 9-3-10zm6-2 3 7-2 12-4-7zm7-11 4-8-3-10-3 8z"/><path class=c29 d="m537 599 3 5-2 11-4-4zm-58 33 3 7-2-5-3-7zm2-5 3 2-2-12-3-1zm9-17 3-2-2 12-3 1zm6 14 3-5-2-11-3 4zm107-21 4 11-3 4-3-11zm16 2 3 10-2 2-3-10zm-144 54 3 10-3-3-3-10zm2 1 3 11-2-2-3-10zm49-11 3 6-2-3-3-6zm11 2 3-3-2 3-3 3zm11 22 3-8-2-12-3 8zm6 2 3-5-3-10-3 5zm36 0 3-3-2 12-3 3zm79-31 4-6-3-7-3 7zm3 3 3-7-2-2-4 6zm53-6 3-13-3 11-3 14zm-219 53 4-14-3 7-3 14z"/><path class=c31 d="m549 590 4-11-3 12-3 11zm-132 35 3 10-2 12-3-10zm24-7 3-5-3 10-3 5zm35 10 3 4-2-5-4-4zm1-3 3 8-2-11-3-8zm1-3 3 5-2-11-3-6zm13-3 3-7-3-12-3 8zm8 0 3 0-2-11-3 0zm78-18 3-10-2-9-3 10zm61 32 3-11-2 8-3 11zm1-3 3-12-2 6-3 11zm15-8 3 12-2-7-4-11zm-252 20 4-16-3-11-3 15zm87 18 3 10-2 0-3-10zm37-1 4-8-3 1-3 9zm83 19 3-3-2-14-3 3zm66-38 3-2-2-2-3 2zm-168 47 3-10-2 2-3 10zm33-3 3 10-3 12-3-10z"/><path class=c33 d="m569 592 3-12-2-11-3 11zm-161 46 3-14-2-11-3 13zm62-15 3 0-2-9-3 0zm3 0 4 4-3-9-3-4zm6-7 3 1-3-10-3-1zm6-2 3-6-2-10-3 6zm9-2 3-4-3-12-3 4zm9-1 3 2-2-11-3-2zm13-3 3-3-2-11-4 2zm3-3 3 3-2-12-3-2zm89 5 3-12-2 2-4 12zm34 22 3-9-2 0-3 8zm9-16 4 11-3-7-3-12zm25 15 4 7-3-10-3-7zm51 0 3-13-2 10-3 13zm-219 48 3-7-2-2-3 6zm197-28 4-7-3-16-3 7zm-154 29 3 2-3 10-3-2z"/><path class=c9 d="m406 675 3 7-2-6-4-7zm10-6 3-9-2-11-3 10zm110-25 3 0-3-7-3 0zm7-1 4-4-3 2-3 5zm1-2 3-9-2-2-3 9zm77 6 3 3-2-5-3-3zm1-2 3-2-2-9-3 2zm8 4 3-7-2 0-3 6zm-252 36 3-16-2-6-3 15zm2 2 4-16-3-2-3 16zm325 2 3 7-3-7-3-7zm10-5 3-11-2-10-4 11zm32 21 3-2-2-16-4 2zm3-2 3-6-2-16-3 6zm-203 28 3-2-2-7-3 2zm2 3 4-3-3-2-3 2zm4-3 3-6-3-3-3 7z"/><path class=c27 d="m564 591 3 10-2 7-3-10zm6 1 3 11-2 10-4-12zm16 0 4 7-3 10-3-7zm-177 44 3 12-2 10-3-12zm6 1 3 10-3 11-3-10zm5-2 3 7-2 12-3-7zm33 4 3-12-2-12-4 12zm5 0 4-12-3-11-3 11zm73-35 3 7-2 11-3-7zm9 16 3-7-3-9-3 7zm12-3 3 8-2-9-3-8zm4 17 4 0-3-4-3-1zm53-26 3 11-2 7-3-12zm-76 42 3-6-2-2-3 7zm138 4 3-9-2 2-3 10zm27-3 3 12-2 9-4-11zm5 0 4 10-3 12-3-10zm6-1 3 7-2 11-3-7z"/><path class=c35 d="m523 599 3 1-2-11-4 0zm63-23 3 10-3 6-3-10zm-172 57 3-10-3-9-3 10zm34-16 3-12-2-6-3 11zm17 2 3-5-3-11-3 4zm10-5 3 8-2-12-4-8zm1-4 3 6-3-10-3-6zm12-2 3-8-2-10-3 8zm9 0 3 0-2-12-4 0zm144 14 4-11-3 7-3 12zm1-4 3-10-2 6-3 10zm6 10 3-11-2-5-4 11zm3-16 3 10-3-6-3-10zm14 16 3-7-3-12-3 7zm-241 14 3-15-2 1-3 16zm179 29 3 5-2-13-3-6zm112-26 3 7-2-16-4-7z"/><path class=c46 d="m565 549 3 3-2 11-3-2zm9 0 3 10-2 10-4-10zm8 1 3 12-2 2-4-12zm-211 33 3-6-2-16-3 6zm37 9 3 10-3 11-3-10zm5 0 3 12-2 10-3-12zm38-12 3 0-2 10-3 0zm3 0 3 5-2 9-3-4zm75-19 3 2-2 6-3-1zm69 5 3-2-2 5-3 2zm52 28 3-6-2 7-3 6zm15-3 3 10-2 4-3-10zm3 0 3 10-3 0-3-10zm28 15 4 10-3 12-3-11zm6 0 3 12-2 10-3-12zm41-4 3-16-2-7-3 16z"/><path class=c50 d="m564 542 4-3-3 10-3 2zm0 0 3-7-3 7-3 6zm4-3 3 3-3 10-3-3zm11 1 3 10-3 2-3-10zm2 2 3 10-2-2-3-10zm-183 41 3-1-2 11-3 2zm3-1 3 3-2 11-3-3zm9 0 3 10-2 10-3-10zm8 1 3 12-2 2-3-12zm41-11 3 4-2 2-3-4zm200 10 3 2-2 4-4-2zm28 17 3-2-2 11-3 2zm3-2 3 2-2 12-3-3zm9-1 3 10-2 10-4-10zm8 1 3 12-3 2-3-12zm2 2 3 12-2-2-3-12z"/><path class=c41 d="m449 599 3-12-3-2-3 11zm34-8 4-7-3-3-3 7zm6-1 3-4-2-7-3 5zm31-12 3-7-3 6-3 7zm15 3 4-3-3-10-3 3zm4-3 3 2-3-10-3-2zm26-8 3-12-3-6-3 11zm49 13 3 6-2-7-3-7zm25 15 3-2-2-7-4 2zm-219 18 3-1-2-9-4 1zm3-1 3 2-2-9-3-2zm58-6 4-4-3 5-3 5zm184 0 3-2-2-11-3 2zm7 1 3 6-3-11-3-7zm25 19 4-10-3-13-3 9zm15 0 4 7-3-16-3-7zm21-18 3-15-3 6-3 16z"/><path class=c17 d="m471 638 3 3-2-2-3-4zm6 0 3 2-2 3-4-2zm6 0 3-2-2 3-3 2zm3-2 3-1-2 3-3 1zm10-1 3 3-3 3-3-4zm22-8 4 7-3-2-3-7zm20 0 3-5-2 10-3 4zm86 5 3-2-2 8-3 1zm-177 41 3 7-3 0-3-7zm193-31 3 3-2 3-3-3zm10 4 3 3-3-2-3-3zm10 1 3-2-2 3-3 2zm-113 68 3-2-3 10-3 2zm36-12 3-3-2 2-4 3zm75-19 3 0-3 6-3 0zm3 0 3-5-2 7-4 4z"/><path class=c10 d="m526 637 3-5-2-10-3 4zm6 2 3-9-2-6-4 8zm33-14 3 7-2-14-4-7zm-158 42 3-2-2-14-3 3zm17 1 3-11-2-2-3 11zm191-25 3-6-2-9-3 6zm6-1 3-11-3-5-3 11zm-248 42 3-15-2 2-4 16zm323-2 3-2-2-12-3 2zm17 1 3-14-3-2-3 13zm21 19 3 3-3-16-3-3zm-200 27 3 2-2-7-3-2zm2 2 3 3-2-3-3-2zm4-2 3-7-2-6-3 6zm2 2 3-2-2 2-4 3z"/><path class=c18 d="m501 631 3 1-2 6-3 0zm3 1 4-5-3 7-3 4zm17-8 3 8-2 2-4-7zm20-2 4-9-3 10-3 9zm80 7 3 3-2 7-4-3zm13 9 4 7-3 0-3-7zm-207 16 3-7-2 12-3 6zm15 14 3 7-2-9-4-7zm221-23 3-6-2 3-3 6zm1 34 3-9-2 7-3 9zm-157 19 4 3-3 1-3-3zm25 14 4 10-3 2-3-10zm12 1 3 2-3 10-3-3zm36-11 3 1-3 2-3-1zm6-2 3-6-2 2-3 6z"/><path class=c34 d="m575 592 3-10-2-12-4 10zm-159 46 3-10-2-5-3 10zm2 0 3-10-2 0-3 10zm24-18 4-10-3-2-3 9zm32-2 3 7-2-11-3-7zm26-10 3 3-2-11-3-4zm26-8 3-5-2-10-3 4zm9 0 3-7-3-12-3 7zm106 27 3-11-3 6-3 11zm29 4 3-2-2-10-3 2zm3-2 3 2-2-10-3-2zm-253 12 3-14-2 7-3 14zm2 3 3-16-3 6-3 15zm4 2 4-16-3-3-3 15zm253 5 3 0-2-10-3 0z"/><path class=c38 d="m517 594 3 2-3-10-3-2zm3-5 4 0-3-6-3-1zm4 0 3-4-3-7-3 5zm8-1 3-7-2-10-3 7zm35-8 3-11-2-11-3 12zm5 0 4-10-3-11-3 10zm37 14 3-7-2 0-3 7zm2 4 3-9-2 1-3 10zm4-13 4 12-3-3-3-12zm-204 39 3-10-2-12-3 11zm10 4 4-6-3-1-3 7zm56-28 3-3-2-2-3 3zm1 18 3-9-2 6-3 8zm13-18 3-4-2-10-3 4zm153 9 3-3-3-3-3 2zm27 10 3 2-2-11-4-3zm2 16 3-5-2 7-4 4z"/><path class=c37 d="m510 598 3-2-2-10-3 2zm3-2 4-2-3-10-3 2zm28-6 3 2-2-12-3-2zm20-9 4-11-3-7-3 11zm19-10 3 11-2 10-3-12zm7 11 3 3-2-9-4-3zm-181 44 3-13-3-12-3 14zm13 2 3-7-2-5-3 7zm27-18 3-11-3-3-3 12zm55-10 3 2-2-10-4-3zm112 1 3-10-2-2-3 9zm35 5 3 10-2-8-3-10zm20 15 3-2-3-12-3 2zm6 16 3-9-3 10-3 8zm-118 33 3 3-3 3-3-3zm138-29 3-12-2-14-3 12z"/><path class=c40 d="m479 591 3-8-3 7-3 7zm26-2 3-1-3-7-3 1zm3-1 3-2-2-7-4 2zm13-5 3-5-2-2-3 4zm63-10 4 3-3-12-3-2zm35 14 3 7-3 0-3-7zm27 11 3 10-2-5-3-10zm-253 8 4-1-3 10-3 1zm64-2 3-8-3-10-3 8zm8-1 4 0-3-12-3 0zm192 11 3-10-3-8-3 9zm15 18 3 0-2 3-3 0zm-120 32 4 6-3 3-3-7zm3 2 3 6-2-2-4-6z"/><path class=c39 d="m478 595 3-7-2 3-4 6zm16 1 4 0-3-10-3 0zm4 0 3 4-3-11-3-3zm4-4 3-3-3-7-3 3zm25-7 3-7-3-7-3 7zm97 13 3-7-3-3-3 7zm-226 22 3-16-3-6-3 15zm19 3 3-7-3-9-3 7zm5-2 3-1-2-5-3 1zm29-16 3-11-2-7-3 12zm28 10 3-5-2 7-3 5zm149-12 3-10-2 0-4 9zm8 2 3-7-3-7-3 6zm5 0 3-2-2-7-3 2zm62 30 3-7-2-15-3 6zm-153 31 3 7-2 7-3-7z"/><path class=c22 d="m507 622 3-5-2 10-4 5zm4-2 3-7-3 7-3 7zm4-3 3 2-3 2-3-1zm14-2 3 7-2 10-4-7zm83 4 3 10-2 7-3-10zm-205 27 3 12-3 7-3-12zm89 33 3-2-2 3-3 3zm199-18 4 11-3 7-3-12zm-204 19 3 3-3 1-3-2zm28 7 3-10-2 5-3 10zm21 19 4 7-3 9-3-7zm37 7 3-10-2-15-3 9zm15-27 3-4-2 2-3 5zm10-1 3 3-3 2-3-2z"/><path class=c30 d="m589 586 3 7-2 6-4-7zm-87 33 4 4-3-12-3-3zm26-8 4-4-3-12-3 5zm9 0 3-7-2-11-3 7zm16 18 3 2-3 0-3-2zm-143 18 4-14-3-9-3 14zm124 3 3 1-2 3-3-1zm6-2 3-6-2 3-3 6zm24 3 3 0-2 2-3-1zm3 0 3 4-2 1-3-3zm26 21 3-6-2 11-3 7zm81-27 3-7-2 2-3 7zm28 16 3-10-2-16-3 10z"/><path class=c32 d="m456 627 3-11-2-12-3 11zm6 0 3-8-3-12-3 9zm5 1 3-5-2-9-3 5zm46-19 3-1-3-12-3 2zm9-1 3 3-2-12-3-3zm10-1 3-7-3-12-3 7zm58 0 3-11-2-4-3 11zm15 5 4-12-3 3-3 12zm8 2 3-11-3-2-3 12zm2 2 3-11-2-2-3 11zm2 3 4-12-3-2-3 11zm33 18 3-11-2-9-3 11zm17 1 3-7-2-10-3 7zm-238 15 3-16-2-7-4 16z"/><path class=c48 d="m531 559 4 1-3 3-3-2zm-157 18 3-2-2-16-3 2zm20 13 3-10-2 10-3 10zm1 0 3-7-2 12-3 6zm55-11 3-5-2 6-3 5zm12-3 3 7-2 2-3-7zm142-14 3 3-3 1-3-2zm49 26 3-2-2 6-3 3zm3-2 4 2-3 7-3-3zm85 9 3-16-3-2-3 16zm-309 8 3-1-2 7-4 2zm16 5 3 7-3-7-3-7zm9 4 3 3-3 2-3-3zm12 8 3 2-3 2-3-3zm196-5 3 8-2-3-3-7zm18-10 3-9-2 9-3 10z"/><path class=c49 d="m571 542 3 7-3 10-3-7zm5 0 3 10-2 7-3-10zm-199 33 3 3-2-16-3-3zm27 10 4 7-3 11-3-7zm12 0 3 12-3 7-3-12zm37-11 4 0-3 6-3 0zm4 0 3 4-3 7-3-5zm205 10 3 7-2 4-3-7zm31 15 3 7-2 11-3-6zm11 0 3 12-2 7-3-12zm34-6 3-16-2 3-3 16zm-303 9 3 2-2 8-3-3zm36 14 3 3-2 3-3-2zm192-3 3 7-3 3-3-8z"/><path class=c42 d="m446 596 3-11-2 2-3 11zm51-14 3-2-3 2-3 3zm5 0 3-1-2-3-3 2zm3-1 4-2-3-2-3 1zm17-5 3-8-2 3-3 7zm2 2 3-7-2-3-3 8zm6 0 3-7-2-7-4 7zm40-9 3-10-2-10-3 9zm41 11 3 3-2-8-4-2zm19 9 3 2-2-2-3-3zm-221 24 3-11-3-11-3 10zm5 1 3-7-2-11-3 6zm38 4 3 12-3-3-3-12zm216-11 4 3-3-12-3-2zm1 21 3 4-2 3-3-5zm23-1 3-12-2-10-4 11zm17-1 3 3-2-16-3-2z"/><path class=c47 d="m561 548 3-6-2 9-3 7zm22 1 4 10-3-7-3-10zm0 4 3 6-3-10-3-7zm-203 25 4 7-3-16-3-7zm80 0 3 7-3 7-3-7zm68-16 3-3-2 2-3 3zm7-2 3 6-3 2-3-5zm65 5 4-3-3 2-3 2zm1-1 3 2-2 6-3-3zm59 24 3 7-3 7-3-7zm76 8 3-16-2 7-4 15zm-282 18 3 3-2 3-3-3zm6 1 3 7-3 2-3-7zm224-10 3-6-2 11-4 7z"/><path class=c43 d="m454 594 3-8-2-7-3 8zm6 2 3-5-2-10-4 5zm22-13 3-4-3 6-3 5zm14 0 3 2-2-3-3-2zm13-4 3-2-3-3-3 3zm53-16 3-11-2-3-3 12zm17 1 3-2-2-12-4 2zm6 0 3 7-2-12-3-6zm38 19 3 2-2-3-4-2zm2 1 3 3-2-2-3-2zm7 3 4 3-3 1-3-2zm-147 18 3 0-3 5-3 0zm169 0 3-9-2-5-3 9zm6-1 3-6-3-9-3 7z"/><path class=c44 d="m463 591 3 0-2-10-3 0zm21-10 3-4-2 2-3 4zm43-10 4-7-3-2-3 6zm6 0 3-3-2-7-3 3zm49-9 3 2-2-11-3-3zm18 12 3-6-3-3-3 6zm-183 33 4-1-3-12-3 2zm4-1 3 2-3-11-3-3zm30 9 3 10-2-7-4-10zm4 5 3 7-2 0-3-7zm32-17 3 0-2 2-3 0zm3 0 3 5-2 1-3-4zm162-3 3-9-2-1-4 10zm32 21 3-12-2-2-3 12z"/><path class=c36 d="m551 583 3-9-2 7-3 8zm33 1 3-2-3-9-3 2zm-184 46 3-15-2-11-3 16zm21 4 3-10-3 4-3 10zm50-20 3 4-2-11-3-4zm147-9 3-10-2-2-3 10zm20 7 3-7-2-7-3 7zm3 3 3-6-3-4-3 7zm33 23 3-11-2 11-3 11zm-126 35 3 7-3 10-3-7zm5 0 3 3-2 6-3-2zm156-29 3-2-3-16-3 2zm3-2 3 3-3-16-3-3z"/><path class=c8 d="m577 627 4-11-3-13-3 10zm6 0 3-13-2-11-3 13zm-176 49 3 2-3-11-3-2zm16 0 3-10-2 2-3 10zm105-30 3 0-2-2-3 0zm1-2 3-5-3-7-3 5zm2 2 3-5-2-2-3 5zm83 4 4-2-3-5-3 2zm3 0 3-1-2-1-4 2zm1-2 3-6-3-5-3 6zm77 41 3 3-2-10-3-3zm17 2 3-11-2 3-3 10z"/><path class=c12 d="m527 639 3 4-2 3-3-4zm9-3 3-4-2 7-4 4zm-78 20 3-3-2 3-4 3zm158-13 3 3-2 4-3-3zm62 23 3-6-3 1-3 7z"/><path class=c15 d="m493 637 3 4-2-2-3-4zm6 1 3 0-2 3-4 0zm25-6 3 7-2 3-3-8zm6 0 3 4-3 7-3-4zm83 4 3 7-2 4-4-7zm5 0 4 3-3 7-3-3zm-189 23 3-12-2 7-4 12zm26 20 4-2-3 4-3 2zm183-34 3 3-3 0-3-3zm5 0 3-2-2 3-3 2zm23 14 3 7-3-3-3-7zm14 2 3-6-2 5-3 6zm-30 27 3 5-3-3-3-4z"/><path class=c16 d="m490 635 3 2-2-2-3-2zm138-4 3-10-2 7-4 10zm-176 18 3 5-3 3-3-6zm0 27 3 3-2 4-3-3zm5-28 3 1-2 7-3-2zm23-8 3-2-2 3-3 2zm166 3 3-6-2 3-3 6zm6 6 3 3-2-3-3-3zm11 7 3 7-2-7-3-7zm5 2 3 7-2 1-3-7zm6 2 3 3-3 5-3-3zm-22 26 3 4-2 3-3-5zm-73 43 4-10-3-16-3 10z"/><path class=c24 d="m442 630 3 4-2 3-3-5zm72-17 3-3-2 7-4 3zm22 14 4-7-3-9-3 7zm84-10 3 7-2 5-3-7zm-213 45 3-15-2-9-3 15zm43-14 3-9-3-12-3 10zm11-1 3-11-2-9-4 12zm5 10 3-7-3 6-3 6zm17-15 3 6-2-9-4-6zm3 20 4-12-3 0-3 12zm147-12 3-9-3 5-3 9zm79 7 3 3-2 11-3-3z"/><path class=c28 d="m546 599 3-9-2 12-3 8zm-105 24 4 0-3 7-3 0zm23 13 3-8-2-9-3 8zm16-2 3 8-3-9-3-8zm4-5 3-3-2-12-3 3zm31-8 3-2-2-11-3 1zm19-3 3-7-2-11-3 7zm17-1 4 5-3-5-3-5zm58 8 4-11-3-1-3 11zm3 2 3-11-2-2-4 11zm2 3 3-11-2-3-3 11zm45 28 3 5-2 11-3-4zm-153 42 3-16-3 10-3 15z"/><path class=c23 d="m557 599 3 10-2-7-3-10zm-117 33 3 5-3-2-3-5zm70-15 3-7-2 10-3 7zm-55 33 3-11-2-12-3 12zm11 16 3 7-2-8-4-6zm1-1 3 3-3-7-3-2zm26 12 3 2-2 4-3-3zm7-32 3-7-2-1-3 8zm215 15 3-2-2 11-3 2zm-212 49 3-15-2 7-3 15zm16-23 3-7-3 8-3 6zm88-5 3-2-2 6-3 3zm13 19 4-7-3-16-3 7z"/><path class=c25 d="m484 639 3 1-3-11-3-2zm17-2 3-4-2-5-3 4zm13-6 3-1-2-9-3 1zm3-1 4-2-3-9-3 2zm52-16 3-11-3-11-3 11zm26 20 3 0-2 2-3 0zm53-4 3 10-2 2-3-10zm-183 28 3-2-2 1-3 2zm34-14 3-3-3 6-3 4zm23 35 3-10-3 8-3 10zm82 0 3 2-2 7-3-3zm36-22 3 5-2-12-3-4zm-60 46 3-11-2-16-3 12zm69-17 3 2-3-16-3-2z"/><path class=c29 d="m487 626 4-7-3-11-3 6zm19-3 3 2-3-12-3-2zm12-4 3-2-2-12-3 3zm36 10 3 1-2-8-3 0zm2 2 3 3-3 0-3-3zm10-28 3-11-2-12-3 11zm6 0 3-11-3-12-3 12zm35 21 3-11-2-3-3 11zm-192 28 3-14-2 0-3 14zm111 13 3-11-3 5-3 12zm14-14 3-3-3 0-3 3zm21 5 3-5-2 1-3 5zm81 2 3 1-2 7-3-2zm82-16 3-11-2 10-3 10zm-119 44 3 6-2-16-3-5z"/><path class=c13 d="m522 634 3 8-3-2-3-8zm11 2 3 0-3 7-3 0zm89 3 3-1-3 7-3 1zm-219 26 3 10-3-6-3-10zm2 2 3 10-2-2-3-10zm50-13 3 2-3 3-3-2zm6-1 3-7-2 3-3 7zm149-13 4 7-3 0-3-7zm61 25 3 3-2 1-3-3zm23 16 3 10-2-2-4-10zm20 0 3-7-3 10-3 7zm-181 43 3 7-2-2-3-7z"/><path class=c7 d="m568 632 3 3-2-14-3-3zm21 5 4-11-3 7-3 11zm1-4 3-13-2 2-3 14zm-180 45 3-2-3-11-3 2zm3-2 3-7-2-10-4 6zm5 0 4-10-3-6-3 9zm3 2 3-10-2-2-4 10zm277 14 4-2-3-10-3 2zm4-2 3-6-3-10-3 6zm5 1 3-11-2-7-3 11zm3 2 3-10-3-3-3 11z"/><path class=c19 d="m470 635 4 0-3 3-3-1zm4 0 3 3-3 3-3-3zm34-8 3-7-3 7-3 7zm24-5 3 5-2 9-3-4zm78 4 3 10-3 4-3-10zm-206 27 3 12-2 2-3-11zm17 1 3 2-2 12-3-3zm10-5 3-11-2 9-3 12zm262 18 3 12-2 2-3-12zm17 1 3 3-3 12-3-3zm-138 28 3 5-3-6-3-6z"/><path class=c27 d="m553 591 3 3-2-2-3-3zm22 1 3 12-2 11-3-12zm6 0 3 10-2 12-4-10zm-101 41 4 6-3-12-3-5zm25-5 3 4-2-9-4-4zm-100 25 3-15-2-12-4 16zm66-4 3-10-2 2-3 9zm3 3 3-9-3-4-3 10zm162-11 3-11-2 5-4 11zm58 26 3-11-3-15-3 11zm-189 37 3-16-2 12-3 15zm100-9 3 7-3-16-3-7zm3-3 4 2-3-16-3-2z"/><path class=c26 d="m556 594 3 7-2-2-3-7zm-74 45 3 8-2-5-3-8zm22-6 3 0-2-5-3 0zm3 0 3 4-2-5-3-4zm1-1 3 2-2-9-3-2zm18-24 3 7-3 10-3-8zm5 15 3-5-2-11-4 4zm32-12 3-8-2-12-3 9zm-79 29 4 7-3 0-3-8zm12 21 3-11-2-2-3 11zm25 18 3-7-2 7-3 7zm91 15 3-4-3-15-3 3z"/><path class=c28 d="m556 589 3 2-3 3-3-3zm-47 36 3-3-2-11-4 2zm3-3 3-1-2-12-3 2zm0 7 3 4-2 4-3-4zm13-10 3 3-3-11-3-3zm29-2 3 6-2-1-4-5zm-131 44 3-15-2-4-3 16zm47-19 4-11-3 7-3 11zm53 33 4-7-3 4-3 7zm2-6 3-11-2 7-4 12zm110-27 3-9-2 8-3 9zm-114 46 3 12-2-7-3-12z"/><path class=c41 d="m481 588 3-7-2 2-3 8zm17 1 4 3-3-7-3-2zm21-9 3-4-2 2-4 4zm57-10 3-6-3-12-3 7zm37 15 3 2-2-4-3-3zm20 12 3-6-2-5-3 7zm-238 16 3-15-2-3-3 16zm8 2 3-14-2-10-3 13zm55 12 3 10-2 0-3-10zm154-10 3-3-2 7-3 3zm94 11 3-2-2-15-3 2z"/><path class=c18 d="m467 639 3-4-2 2-3 5zm26-6 3 2-3 2-3-2zm33-8 4 7-3 7-3-7zm89 4 3 7-2 7-3-7zm-213 27 3 11-2-2-3-11zm22 0 3-2-2 11-3 3zm218-16 4 3-3 2-3-3zm20 7 4-2-3 0-3 2zm17 8 3-1-2 7-3 2zm34 16 3-2-2 12-4 2z"/><path class=c21 d="m443 637 3 7-2-2-4-7zm80-20 3 8-2 7-3-8zm22-5 3-11-2 6-3 12zm73 10 3 7-3 7-3-7zm5 2 3 3-2 5-3-3zm-182 39 3 10-2-5-3-10zm3 0 3 10-3 0-3-10zm223 7 3-11-2 7-3 11zm-85 25 3 2-2 6-3-1zm6-1 4-7-3 7-3 6z"/><path class=c24 d="m519 637 3-2-2 0-3 1zm1-2 3-2-2-5-4 2zm2 0 3-2-2 0-3 2zm1-2 3-2-2-5-3 2zm6 0 3 3-2-5-3-3zm69 4 3 0-3-3-3 0zm13 2 3-9-2-3-3 9zm-144 22 4-2-3-3-3 2zm17 1 3-12-2-4-3 11zm126-20 4-5-3 2-3 4zm-165 40 3-16-2-2-4 16z"/><path class=c26 d="m510 633 3 4-3 0-3-4zm5 0 3 2-2 4-3-2zm6-5 3-2-3-9-3 2zm3-2 3 2-2-9-4-2zm4-4 3 1-3-12-3 0zm66 11 4 4-3-3-3-4zm5 3 3 5-2-2-3-4zm14 2 3-4-2 3-4 5zm1-1 3-9-3 2-3 9zm1 1 3-4-2 0-3 4zm6 1 3-9-3-5-3 9zm41-3 3 12-2 1-4-11zm-218 7 3-6-2-10-3 6z"/><path class=c14 d="m539 632 3-9-2 7-3 9zm67 3 3 7-3-9-3-7zm-199 30 4 10-3 2-3-10zm42-14 3 6-2-2-3-6zm228 12 3-2-2 5-4 2zm19 16 3 10-2 2-3-10zm-246 1 3 3-2-1-4-2zm205 10 3 0-2 3-3 0zm-119 32 3 7-3 2-3-7zm5 0 3 3-2 6-3-2z"/><path class=c22 d="m538 637 3-5-2 0-3 5zm-126 11 3 10-2 10-3-10zm6-1 3 7-2 11-4-7zm28 8 4-7-3-11-3 6zm25 16 3 7-3 0-3-7zm27-26 3-8-2-5-4 8zm1 32 4-6-3 3-3 6zm169-11 3-12-2 3-4 11zm33-3 3 10-2 9-3-10zm6-2 3 7-3 12-3-7zm-136 30 3 7-2-2-3-8zm87 1 3-5-2-16-3 5z"/><path class=c17 d="m489 635 4-2-3 2-3 3zm46-8 3 0-2 9-3 0zm70 3 3 10-2-5-3-10zm2 0 3 10-2 0-3-10zm20 0 3-6-2 7-3 7zm-217 28 3 10-2 7-4-10zm39 8 3-6-2-12-4 7zm5 3 4-10-3-9-3 10zm200-22 4 3-3 2-3-3zm29 8 3-11-2 6-3 10zm16 17 3 10-3 7-3-10zm-161 43 3 7-2 7-3-7z"/><path class=c23 d="m437 632 3 0-3-2-3 0zm93-1 3 1-2-9-3-1zm3 1 3-5-2-9-3 5zm6 0 3-7-2-5-4 7zm2 0 3-7-2 0-3 7zm3-22 3-8-2 11-4 9zm-134 57 3-15-3-5-3 15zm2 0 3-15-2 0-3 15zm196-24 3-4-2-3-3 5zm58 26 4-8-3 9-3 9zm-143 26 3 10-2-12-4-10zm46-7 3 8-3-7-3-8zm23-1 3-7-3 6-3 8zm16 15 3 6-3-16-3-6zm47-10 3 0-2-16-3 0z"/><path class=c25 d="m439 630 3 0-2 2-3 0zm64 8 4-5-3 0-3 4zm15-3 4-2-3 4-3 2zm8-4 3 2-2-5-3-2zm1-3 3 3-2-9-3-3zm15-3 3-7-2-5-3 7zm60 14 3 4-3-2-3-5zm7-3 3-9-3-2-3 9zm-168 9 3-2-2-10-3 2zm177-2 3-4-3-5-3 4zm52 16 3-11-2 6-3 12zm11 17 3 5-2-16-3-4zm-239 4 4-16-3-1-3 15zm124 1 3 8-2-10-3-8zm25 3 3-7-2 10-4 7zm4-4 3-5-3 7-3 4z"/><path class=c29 d="m481 633 3 7-2-1-3-7zm17 2 3 1-2 8-3-2zm11-6 3 0-2 4-3 0zm12-12 4 2-3-11-3-3zm3 9 3-2-2 7-3 2zm3-2 3-1-2 6-3 2zm53-18 3-10-3-5-3 10zm2 0 3-10-2 0-3 10zm14 23 3 7-2-1-3-8zm21-1 3-11-3 2-3 11zm-204 24 3-14-2-5-4 14zm8 6 3-16-2 2-4 15zm139-1 3-7-2 6-3 7zm7 20 3 4-2 2-3-4z"/><path class=c30 d="m435 626 3-10-2 10-3 10zm83 0 3 2-3 7-3-2zm12-3 3-3-2 7-3 2zm3-3 4 2-3 7-3-2zm16 11 4-2-3 0-3 2zm70-6 3-11-2 3-3 11zm-147 16 3-12-2 5-3 12zm0 15 3 10-2 2-3-10zm64-6 4 1-3 0-3-1zm24 7 3-7-3 7-3 7zm41 31 4 7-3-16-3-7z"/><path class=c33 d="m583 596 3-7-2-5-4 7zm2 0 3-7-2 0-3 7zm-65 23 3 2-2 7-3-2zm9-2 4-2-3 8-3 1zm4-2 3-2-3 7-3 3zm10-14 4 2-3-11-3-2zm45 2 3-11-2 2-4 11zm22 10 3-12-2-3-3 12zm116 22 4-11-3 7-3 11zm-250 16 4 11-3-2-3-11zm126 28 3 7-2-15-3-8z"/><path class=c32 d="m445 627 3-10-2-7-4 10zm55 2 4 2-3 5-3-1zm11-7 3 1-2 6-3 0zm12-1 3-3-2 8-3 2zm3-3 3-1-2 7-3 2zm13-3 3 3-2 8-3-4zm12 13 3-2-2 2-3 1zm1 0 3-3-2 4-4 2zm-133 21 3-15-2 7-3 15zm140 4 3-3-2 7-4 3zm7 17 3 0-2 7-3 0zm156-30 4-1-3 2-3 2z"/><path class=c31 d="m555 584 3-2-2 7-4 2zm-78 43 3 7-3-9-3-7zm37-4 4 3-3 7-3-4zm11-12 3 0-2-11-3-1zm17 7 3 1-2 7-3 0zm7 11 3-1-3 3-3 2zm4 5 3-2-3-2-3 2zm8-34 3-9-3-10-3 9zm-143 48 3-14-3 4-3 14zm27-7 3 12-2 6-3-11zm252 15 3-11-3-16-3 12z"/><path class=c35 d="m550 585 3-5-2 3-3 4zm3-6 3-10-2 12-3 10zm33 10 3-2-2-5-3 2zm3-2 3 3-2-5-3-3zm-141 46 3 12-3 8-3-12zm52-11 3 6-3 1-3-5zm14-7 3 0-3 8-3-1zm3 0 3 4-2 7-4-3zm11-1 3-2-2 1-3 2zm1-1 3-2-3 6-3 1zm3-2 3-1-2 5-4 2z"/><path class=c46 d="m449 585 4-9-3 3-3 8zm3 2 3-8-2-3-4 9zm5-1 4-5-3-7-3 5zm74-22 3-3-3-2-3 3zm126 32 3-7-2-5-3 7zm-200 21 3 7-2 3-3-7zm5 1 3 7-2-3-3-7zm205 3 4 8-3-6-3-8zm22-5 4-11-3-7-3 11zm21-3 3 7-2-14-3-7z"/><path class=c20 d="m489 630 3-2-3 7-3 1zm3-2 3-2-2 7-4 2zm73-20 3 12-2 3-3-12zm66 13 3-14-2 7-3 14zm-179 39 3-10-2-11-3 9zm31 15 3-7-3 4-3 6zm168-35 3 7-2 2-3-7zm1 29 3-9-2-12-3 9zm-67 28 3-3-2 6-3 3z"/><path class=c27 d="m493 631 3-7-2-12-3 7zm14 2 3 0-3 0-3 0zm105 5 3 0-2 0-3 0zm4-4 3-9-2 3-3 9zm-100 10 3-6-2-8-3 7zm4 33 3-2-2 4-3 2zm74 0 3-7-2 10-3 7zm41-18 4 5-3-10-3-5zm6-9 3 0-2-9-4 0zm12-2 3-11-3-11-3 11zm-182 40 3-16-2 8-3 15z"/><path class=c28 d="m552 591 4-2-3 2-3 3zm-31 37 3-2-2 7-4 2zm78 4 3 7-3-3-3-7zm19 2 3-9-2 0-3 9zm46-3 3 12-2 5-3-12zm-194 15 3-12-3 8-3 11zm0 12 3 10-2 3-3-10zm41-18 3-3-3-7-3 3zm12 37 3-2-3 0-3 2zm155-8 3 7-2-15-4-7zm-89 28 3-9-2-16-4 9z"/><path class=c34 d="m558 590 3-9-2-7-3 9zm22 1 4-7-3-9-3 7zm-99 33 3 5-3 4-3-5zm29-3 3-7-2 5-4 8zm1-2 3-4-3 7-3 5zm7 18 3 7-2-1-3-8zm8-22 3-2-3 5-3 3zm10-2 3 2-2 7-4-2zm99-9 3 12-3-2-3-12zm94 28 3-10-2 2-4 11zm-257 15 3 12-3-3-3-12zm2 2 3 11-2-1-3-12z"/><path class=c37 d="m578 582 3-7-2-11-3 6zm-128 46 3 12-2 5-3-12zm30-11 3 0-2 7-4 0zm3 0 3 5-2 7-3-5zm36-7 3 3-2 6-3-4zm91 14 3-3-2 7-3 3zm6-21 3-10-3-2-3 10zm0 19 3 6-2 7-3-5zm34-13 3 7-2-4-3-6zm-153 43 3 12-2 5-3-11z"/><path class=c36 d="m547 585 3 0-2 2-3 0zm-34 29 3-4-2 5-3 4zm9-1 4 2-3 6-3-2zm3-1 3 2-2 1-4-2zm6 0 3-2-2 1-3 2zm4-2 3-3-2 6-3 2zm3-3 3 3-2 5-3-2zm115 19 4-12-3-9-3 12zm-204 23 3-14-2-1-4 13zm54 8 3 11-2 8-4-12z"/><path class=c42 d="m495 586 3 3-2-6-3-4zm4-1 3-3-2-2-3 2zm123 2 3-3-2-1-3 2zm2 1 4-2-3-2-3 3zm3 3 3-2-2-3-4 2zm-180 25 3 12-2 5-4-11zm6 6 3 11-2-8-3-10zm31-14 3-5-2 2-4 4zm9 0 3 7-2 1-3-7z"/><path class=c40 d="m557 572 3-11-3 2-3 11zm9 20 3 6-2 1-4-6zm53 1 3-6-2-2-4 6zm2 2 3-7-2-1-3 6zm-167 30 3 12-2-7-3-12zm28-15 3 0-2 7-3 0zm3 0 4 4-3 8-3-5zm19 11 3 0-2 2-4 0zm24 41 3 10-2 10-4-10z"/><path class=c26 d="m597 635 3 4-2-2-4-4zm13 3 3 0-3 4-3 0zm-162 15 3 10-2 6-3-10zm6 2 3 7-2 7-4-6zm42-13 3 2-3 7-3-2zm17 5 3-3-2-7-3 3zm157 14 3-11-3 9-3 11zm7 17 3 7-2-16-3-7zm22-6 3-11-2-16-3 11z"/><path class=c38 d="m475 598 3-3-3 2-3 3zm-23 29 4 11-3 2-3-12zm31-7 3-9-2-3-3 9zm13-5 4 7-3 2-3-8zm20-5 3 0-2 5-3 0zm6-1 3 3-3 1-3-3zm91 12 3 1-2 8-3-2zm35-15 3 6-3-6-3-7zm-110 35 3 4-2 5-3-4z"/><path class=c32 d="m475 628 3 0-2 0-3 0zm3 0 3 5-2-1-3-4zm39 2 3-7-2-7-3 7zm6 0 3-4-3-7-3 4zm10-6 3-2-2-7-4 2zm193 15 3-7-3 3-3 6zm-208 39 3 10-2-7-3-10zm43-14 3 7-3-12-3-7zm37 19 3 5-2-16-3-5z"/><path class=c6 d="m571 635 3-2-2-14-3 2zm3-2 3-6-2-14-3 6zm11 1 4-14-3-6-3 13zm3 2 3-14-2-2-4 14zm-8 6 3 3-2 7-3-3zm-171 40 3 3-2-7-3-2zm289 14 3 3-3-7-3-3zm11 1 3-6-2 2-4 6z"/><path class=c30 d="m451 645 3 10-3 8-3-10zm26-2 3-12-2-3-4 11zm37-1 3 5-2 4-3-6zm43 28 3 0-3-10-3 0zm3 0 3 4-2-10-4-4zm91-15 3 8-3 9-3-7zm72-5 4 7-3-11-3-7zm1-4 3 3-2-7-3-2z"/><path class=c24 d="m540 633 4-5-3 4-3 5zm63 6 3-5-2-2-3 5zm-116 1 3-3-3-11-3 3zm8 0 4-8-3-8-3 7zm111 1 3-5-3-2-3 5zm1 1 3 0-2 1-3 0zm-21 66 3-11-3-16-3 11zm66-20 3 4-2-16-4-4z"/><path class=c5 d="m580 638 3-11-2-11-4 11zm-165 45 3-7-2-7-3 7zm3 2 3-7-3-2-3 7zm282 13 3 3-2-2-3-3zm1 1 3-2-2-7-4 2zm3-2 3-6-2-7-3 6zm2 2 3-2-3 2-3 2z"/><path class=c22 d="m532 636 4 1-3-5-3-1zm41-33 3 12-2 10-3-12zm5 1 4 10-3 11-3-10zm-127 59 4 6-3 7-3-7zm28 10 3 2-3 2-3-2zm13-27 3-6-2-9-3 6zm7 33 3-2-3 0-3 2zm197 4 3-11-2-16-3 11z"/><path class=c25 d="m490 637 3-6-2-12-4 7zm39-6 3 2-3 0-3-2zm19-30 4-10-3 6-3 10zm29 16 3-11-3-5-3 11zm2 0 3-11-2 0-3 11zm-97 40 3-11-3-8-3 11zm132-14 4 0-3-5-3 0zm-164 40 3-16-3 2-3 16zm118 0 3 8-2-3-4-7z"/><path class=c45 d="m568 558 3-9-3-7-3 10zm-43 10 3-6-2 2-3 7zm145 28 3 10-2-5-3-10zm-269 8 3-13-3-7-3 14zm57 23 3-6-3-2-3 6zm208-7 3 8-2 2-4-7zm2 3 3 7-2-2-3-8z"/><path class=c53 d="m567 535 3-2-2 6-4 3zm3-2 3 2-2 7-3-3zm5 0 4 7-3 2-3-7zm-168 42 3 7-2 10-4-7zm5 0 4 10-3 7-3-10zm284 14 3 7-3 10-3-7zm5 0 3 10-2 7-3-10z"/><path class=c54 d="m572 531 3 2-2 2-3-2zm-171 43 3-2-3 10-3 1zm14-1 3 10-2 2-4-10zm2 3 3 10-2-3-3-10zm272 13 3-2-2 10-3 2zm3-2 4 2-3 10-3-2zm14 2 3 10-2-2-3-10z"/><path class=c48 d="m565 552 3-10-2-3-3 10zm15-2 3 3-3-11-3-2zm-165 46 3-2-2-11-3 1zm238-6 3-6-3 4-3 6zm-207 15 3 10-2 1-3-10zm13 10 3 3-2-3-3-3zm193 0 3 2-3 9-3-1zm35-6 3-11-2-2-3 11z"/><path class=c51 d="m434 598 3-2-2 6-3 1zm3-2 4 3-3 5-3-2zm19-24 3 0-2 2-4 0zm205 10 3 2-2 0-3-2zm47 17 3 7-3-11-3-6zm-54 9 3 2-2 7-3-2zm5-1 4 6-3 2-3-5zm3 2 3 6-2-2-4-6z"/><path class=c29 d="m552 591 3-7-3 7-3 6zm-38 46 3-7-2-7-4 7zm95-3 3 4-2 0-4-4zm-90 41 4 2-3 0-3-3zm20-21 3 2-2-5-4-1zm184 0 3 10-3-14-3-10zm-251 26 3-16-2 6-3 15z"/><path class=c28 d="m487 636 3 7-2 4-4-7zm5 1 4 5-3 7-3-6zm114-3 4 4-3 4-3-5zm5 5 3 7-3-7-3-7zm-132 10 3-11-2-7-3 12zm174 27 3 0-3-16-3 0zm11-29 3-9-2-10-4 9zm-144 36 4 10-3-11-3-10zm0 0 3 12-3-12-3-12z"/><path class=c27 d="m506 634 3-5-2 4-4 5zm25-7 3 2-2 4-3-2zm80 12 3 4-2-5-3-4zm-120 18 3-12-2 2-3 12zm3 2 3-11-3-3-3 12zm-42 21 3-16-2 3-3 16zm3 0 3-16-3 0-3 16zm67 0 3 2-2-5-4-2z"/><path class=c35 d="m486 622 3 7-2 7-3-7zm6-1 3 8-3 8-3-8zm20-1 3-7-2 1-3 7zm1 12 3 8-2 2-3-8zm10-13 3 0-2-7-3 0zm3 0 4 3-3-7-3-3zm106-17 3 12-2-3-3-12zm-137 56 3 11-2 2-4-12z"/><path class=c34 d="m497 624 3 5-2 6-3-6zm18-1 3-7-3-3-3 7zm1 12 3 8-3-3-3-8zm4-12 3-4-2-7-3 4zm10-6 4-2-3-3-3 2zm84 13 3 5-2 6-4-6zm-133 21 3 12-2 2-3-12zm11 8 4 12-3-4-3-11z"/><path class=c30 d="m550 591 3-12-2 12-3 11zm1 0 3-10-2 10-4 10zm-43 36 3-5-2 7-3 5zm93 3 3 7-2 2-3-7zm-153 36 3-15-2-2-3 15zm2 3 4-15-3-3-3 15zm69 12 3 12-2-10-3-12z"/><path class=c4 d="m570 643 4 3-3-11-3-3zm17 1 3-11-2 3-3 10zm-175 41 3-2-2-7-3 2zm3 2 3-2-3-2-3 2zm288 14 3-2-2-2-3 2zm3-2 4-6-3-2-3 6z"/><path class=c5 d="m411 684 4 3-3-2-3-3zm6 0 3-2-2 3-3 2z"/><path class=c10 d="m411 675 3 7-3 2-3-7zm5 0 3 2-2 7-3-2zm109-33 3 4-2-2-4-4zm5 1 3 0-2 3-3 0zm84 4 3 3-3 0-3-3zm5-1 3-1-2 4-3 1zm80 43 4 7-3 2-3-7zm6 0 3 3-2 7-3-3zm-160 40 3-6-2 2-3 6z"/><path class=c13 d="m588 624 3-2-2 11-3 2zm-175 44 3 7-2 7-3-7zm9 0 3-3-3 10-3 2zm269 11 4 10-3-7-3-10zm11 3 3 7-2 7-4-7zm8 1 4-2-3 10-3 1zm-179 39 3 7-2-7-4-7zm13 3 3-2-2 6-3 2zm3-2 4-7-3 7-3 6z"/><path class=c15 d="m568 620 3 12-2 2-3-11zm-168 39 3 10-2-11-3-10zm59 18 3-7-3 4-3 7zm1-28 3-3-2 7-3 3zm258 25 3-14-3 7-3 13zm-71 12 3 4-2-7-3-4z"/><path class=c18 d="m571 613 3 12-3 7-3-12zm19-1 3-2-2 12-3 2zm-190 42 3 11-3-6-3-12zm4 24 3-16-2-9-3 16zm54-6 3-2-2 7-4 2zm3-2 3-7-2 7-3 7zm221-16 4-7-3 8-3 6zm34 15 3-6-2 11-3 7zm-188 43 3 10-3-7-3-10zm119-31 3 7-3-2-3-7z"/><path class=c31 d="m474 639 4-11-3 1-3 12zm15-10 3 8-2 6-3-7zm6 0 3 6-2 7-4-5zm12-2 4-8-3 8-3 7zm9 13 4 6-3 1-3-5zm163 21 3 4-3-14-3-4zm46-19 3-1-2-2-4 1z"/><path class=c33 d="m554 581 3-7-2 10-3 7zm1 13 3-4-2-7-3 5zm-62 45 3-8-3 0-3 8zm33-13 3 0-3-7-3 0zm4-4 3 2-3-7-3-2zm6 0 3-2-2-7-3 2zm186 18 3 2-3-2-3-3z"/><path class=c36 d="m544 592 3 5-2-12-3-5zm12-9 3-9-2-2-4 8zm-29 32 3 2-2-3-3-2zm192 17 3 8-3-3-3-7zm-235 16 3 12-3 3-3-12zm2 0 3 12-2 0-3-12zm39 24 4 10-3 6-3-10zm16-27 4 7-3 6-3-8z"/><path class=c41 d="m516 580 3 0-3 2-3 0zm47 11 3 1-3 1-3-1zm53-6 3 2-3 0-3-2zm10 11 3-7-2 2-3 7zm-146 40 4 12-3 3-3-11zm11-27 3 7-2 5-3-7z"/><path class=c39 d="m472 596 3 2-3 2-3-1zm91-3 4 6-3 5-3-5zm5 3 3 5-2-3-3-6zm-49 12 3 1-3 1-3 0zm-41 32 3 11-2 2-3-12zm44 25 3 7-2 6-3-7z"/><path class=c38 d="m472 607 3 7-3-12-3-7zm17 7 3 7-3 8-3-7zm32-2 3 0-2-3-3-1zm109-5 3-10-2-4-3 10zm17-1 3 3-2-3-4-3zm-171 35 3 12-3-2-3-12zm3 20 3-15-2 4-3 15z"/><path class=c37 d="m553 580 4-8-3 2-3 9zm-59 36 3 8-2 5-3-8zm21-3 4-5-3 2-3 4zm0 17 3 7-2-2-3-7zm9-18 3 3-2-3-3-3zm-48 44 3-10-2 1-3 11z"/><path class=c20 d="m587 609 3 3-2 12-3-3zm-190 38 3 12-2-11-3-12zm61 12 3-12-3-8-3 11zm228-12 3-10-3 7-3 11zm33 16 3-10-2 11-3 10zm-194 42 3 10-2-10-3-10z"/><path class=c23 d="m436 634 3-4-2 2-4 5zm148-32 3 7-2 12-3-7zm-188 40 4 12-3-7-3-12zm221 9 3 0-2-8-4 0zm38 9 3-11-2-12-3 11zm29-16 3-1-2 4-3 1zm3-1 3-7-2 4-3 7zm-228 49 3-16-2-7-3 15z"/><path class=c26 d="m433 636 3-10-2 12-4 9zm5-8 3-5-2 7-3 4zm109-26 3-11-2 11-3 11zm27 10 3-11-2-9-3 11zm30 25 3 5-2 1-3-4zm-102 4 3-7-2 7-4 6zm111 5 3 7-2-7-3-7zm-48 35 4 7-3-7-3-7z"/><path class=c29 d="m436 626 3-11-2 11-3 12zm6 7 3-6-3-7-3 6zm62 0 3-6-2 7-3 7zm83-18 3-8-2-4-3 9zm-97 35 3-11-3 0-3 11zm36-6 3-6-2 1-4 7zm12 12 3 6-2-8-3-5zm63-11 3-7-2 5-3 7zm1-2 3-7-2 2-3 6zm10 13 3 1-3-12-3 0zm-82 50 3-15-3-16-3 16z"/><path class=c28 d="m437 626 3-11-3 12-3 11zm64 10 3-3-2 8-3 3zm4-2 3-7-2 7-3 7zm-18 16 3-11-2-5-3 12zm37-7 3-8-2 0-3 7zm4 4 3-7-2-2-3 6zm3 2 3-7-3-2-3 7zm69-5 3-6-3-4-3 7zm12-2 3 8-2-4-3-8zm110 15 3 12-2-15-4-12z"/><path class=c32 d="m484 629 3 7-3 4-3-7zm6 10 3-8-2-5-3 8zm19-12 3-7-2 1-3 7zm2 3 4-7-3-3-3 7zm74-25 4-11-3 5-3 11zm-132 35 3 10-2 5-3-10zm38 21 3 11-2-7-4-12zm9 3 4 12-3 5-3-12zm31-20 3 6-2 3-4-6zm66-2 3 0-2 7-3 0zm121 10 3 10-2-16-3-10z"/><path class=c31 d="m434 626 4-6-3 6-3 7zm70 5 3-3-3 5-3 3zm4 2 3-3-2-3-3 3zm77-31 3-10-3 4-3 10zm-91 43 4-11-3 2-3 11zm3 3 3-11-2-3-4 11zm2 2 3-11-2-2-3 11zm37-1 3 5-3-4-3-6zm64-7 4-5-3 8-3 4zm56 9 3 7-2 12-3-7z"/><path class=c35 d="m550 588 3 0-3-3-3 0zm3 0 3-5-3-3-3 5zm-96 49 3 12-2-7-3-12zm36-6 4-5-3-5-3 5zm-18 33 3-13-2 5-3 14zm13-11 4 12-3-5-3-12zm2 3 3 11-2-6-3-12zm37 35 3-16-2-14-3 16z"/><path class=c27 d="m437 627 4-9-3 10-3 8zm144-14 4-11-3 4-3 11zm8 9 4-8-3-7-3 8zm-66 24 4-7-3 4-3 6zm42 33 3 4-3-2-3-4zm156-17 3 11-2-16-3-11zm-200 20 3 7-2-9-3-7z"/><path class=c30 d="m583 610 3-11-2 7-3 12zm1-4 3-11-2 7-4 11zm9 8 3-11-3-7-3 11zm-108 32 3-12-2-7-4 11zm7 1 3-11-2 3-3 11zm10 5 3-11-3-2-3 11zm17 21 3 7-3-5-3-7zm90-20 3 3-3-11-3-3zm-40 37 3-6-2-11-3 6z"/><path class=c33 d="m552 594 3 0-2-6-3 0zm-114 26 3-10-3 6-3 10zm18 18 3 10-3 2-3-10zm67 40 3 10-2 3-3-10zm10-34 3 6-2 0-3-6zm6 6 3 8-2 1-3-7zm180-4 3 11-3-15-3-12z"/><path class=c25 d="m394 635 3 12-2-11-3-11zm154-33 3-11-3 10-3 11zm66 44 3 5-3-8-3-4zm1 4 3 7-2-4-3-7zm-158 34 3-15-2-5-3 16zm114 20 4-7-3-13-3 6z"/><path class=c32 d="m434 626 3-2-3 2-3 2zm3-2 3-7-2 3-4 6zm2 2 3-6-2-3-3 7zm43 12 4-11-3-7-3 11zm65-35 3 5-3-11-3-5zm-29 69 3 10-2-9-3-10zm17-23 3 7-2-7-3-8z"/><path class=c41 d="m511 586 3-2-2-7-3 2zm7-4 3 1-2-3-3 0zm94 5 4-2-3 0-3 2zm-129 50 3 11-2 0-4-12zm2 2 3 10-3-8-3-10zm15 6 3 12-3 7-3-12z"/><path class=c40 d="m517 586 3 3-2-7-3-3zm48 8 3 2-2-4-3-1zm47-4 3-6-3 3-3 7zm33 9 3 7-2-8-3-7zm-201 23 4 11-3 8-3-12zm25-19 3 4-3-12-3-4zm9 48 4-11-3 6-3 10zm7-10 3 12-2-5-3-11z"/><path class=c43 d="m629 589 3-2-2 2-3 2zm7 2 4-2-3-5-3 2zm7 0 3 7-2-5-4-6zm-194 24 3 12-2 1-3-12zm11 9 4 10-3 3-3-10zm28-19 3 4-2 5-4-4z"/><path class=c39 d="m474 599 3 1-2-2-3-2zm15 19 3-4-3-7-3 4zm25 9 3 5-2-2-3-5zm135-22 3 3-2 1-3-3zm39 17 4 7-3 10-3-7zm-201 24 3 10-2-7-3-10zm5 2 3 10-3 1-3-10z"/><path class=c38 d="m442 605 3-11-3 10-3 11zm52 16 3 0-2-7-3 0zm195 17 3-11-3-11-3 11zm-211 19 3-14-3 8-3 13zm4 5 3-16-3 0-3 15zm7-13 3 10-2-3-3-10z"/><path class=c36 d="m441 610 3-12-2 7-4 11zm45 17 3-9-3-7-3 9zm10 4 3-5-2 0-4 5zm22-15 3-4-2-4-4 5zm-72 31 4-13-3-3-3 13zm5 4 3-14-2-2-3 14z"/><path class=c50 d="m580 542 3 7-2-7-3-6zm76 42 3-2-3 4-3 2zm-211 17 3 7-2-3-3-7zm28 16 4 2-3 0-3-3zm188-3 3 2-2-7-3-1zm32-9 3-10-3-7-3 10z"/><path class=c34 d="m547 597 3 8-2-12-3-8zm-107 20 3-9-2 2-3 10zm48 17 3-8-2-8-3 9zm7 2 3-9-2 4-3 8zm226 3 3 7-2-6-3-8zm-1 1 3 10-2-11-3-10z"/><path class=c47 d="m560 551 4-9-3 6-3 10zm-162 47 3-14-2-2-3 13zm40 6 3 7-2 8-3-7zm6 2 3 10-3 6-3-11zm4 2 4 10-3-3-3-10zm10 11 3-2-2-2-3 2zm8 2 3 3-2-2-3-3z"/><path class=c45 d="m669 598 3 7-2-9-3-7zm-223 21 3-2-2-4-3 1zm45 16 3 7-2 6-3-7zm6 0 3 10-3 7-3-10zm170-8 3 5-3-11-3-5zm34-8 3-6-3-14-3 7z"/><path class=c44 d="m493 579 3 4-2-3-4-3zm67-18 3-12-3 2-3 12zm80 28 3 2-3-4-3-3zm-199 22 3 11-2 7-3-10zm12 9 3 7-3-5-3-7zm210 3 4 7-3 7-3-7z"/><path class=c49 d="m453 576 3-4-3 2-3 5zm2 3 3-5-2-2-3 4zm209 5 4 7-3 0-3-7zm-228 22 3-6-2-3-4 6zm51 21 3-2-2 7-3 2zm177-11 3 5-2-6-3-6z"/><path class=c46 d="m663 598 3-2-2-9-4 2zm-257 3 3-10-2-10-3 10zm6 1 3-6-2-12-4 7zm76 30 3 3-2 6-4-3zm176-7 3 2-3-11-3-2zm31-10 3-9-2-11-3 10z"/><path class=c42 d="m515 579 3 3-2-2-4-3zm100 5 3-2-2 3-4 2zm14 9 3-7-3 3-3 7zm-182 38 3-11-2 2-3 11zm42 10 3 7-3 1-3-7zm5 1 3 10-2 6-3-10z"/><path class=c41 d="m514 584 3 2-2-7-3-2zm100 5 3-7-2 2-3 6zm28 7 3 3-2-8-3-2zm-192 38 3-11-3-3-3 11zm36-23 3-4-2-4-3 5zm162-9 4-2-3 5-3 2zm-162 40 3 7-2-3-3-8z"/><path class=c19 d="m626 627 4-2-3 5-3 2zm33 17 3 3-2 0-3-3zm28 18 3 10-3-12-3-10zm-104 57 3-11-3-16-3 11zm-9 1 3-7-2-16-4 7z"/><path class=c52 d="m566 539 3-6-2 2-3 7zm7-4 3 7-2 7-3-7zm-133 60 3 3-2 1-4-3zm246 1 3-7-2 10-3 6zm-30 10 3 1-2 3-3-2z"/><path class=c48 d="m563 549 3-10-2 3-4 9zm13 3 4-2-3-10-3 2zm79 39 3-7-2 0-3 6zm12-2 3 7-2-5-4-7zm-206 28 4 3-3-2-3-3z"/><path class=c29 d="m508 638 3 2-3-7-3-2zm35-25 3-3-3-9-3 3zm6-1 3 5-2-9-3-5zm-42 28 3 6-2-8-4-5zm33 19 3 8-3-4-3-8z"/><path class=c37 d="m455 630 3 12-2-4-4-11zm36-4 3-5-2-7-3 4zm6 0 3 0-3-5-3 0zm16 2 3 7-3-3-3-7zm28-22 3 2-3 2-3-3zm-53 43 3 12-3-8-3-12z"/><path class=c30 d="m546 610 3 2-2-9-4-2zm4-5 4 7-3-12-3-7zm0 3 3 8-3-11-3-8zm35 4 3-9-3 2-3 8zm-48 43 3 8-2-7-3-7zm5 18 4-12-3-11-3 11z"/><path class=c24 d="m434 638 3-12-3 12-3 11zm91-5 4-2-3 0-3 2zm-30 44 4 2-3 0-3-2zm128-31 3-9-2-7-3 9zm-176 39 3-16-2-3-3 16z"/><path class=c22 d="m571 623 3-11-2-9-3 11zm45 30 3 5-2-7-3-5zm4-2 3-5-2-7-3 4zm-122 31 3 2-2-5-4-2zm29 20 3 12-2-2-4-12z"/><path class=c31 d="m507 628 3-7-3 6-3 6zm44-28 3 4-2-10-3-4zm2 11 3 2-2 4-3-2zm64 24 3 8-2 5-3-7zm6 0 3 8-3 7-3-7zm-24 20 3-2-2-11-3 1z"/><path class=c39 d="m473 600 3 6-2-7-3-6zm36 24 4 4-3-3-3-4zm137-17 3-2-2 1-3 3zm5 10 3-12-2-5-3 12zm-161 43 3-13-3-9-3 13z"/><path class=c50 d="m441 599 3 7-3 5-3-7zm217-15 3-2-2 0-3 2zm-172 42 3-6-2 7-3 6zm4-1 3 3-2 7-3-3zm161-14 3-3-2 7-4 3z"/><path class=c23 d="m434 638 3-11-2 9-3 11zm1-2 3-8-2 6-3 9zm-36 8 3 12-2-2-4-12zm98 38 3 7-2-7-3-7zm27 18 4 12-3-7-3-12z"/><path class=c28 d="m545 618 3-3-2-5-3 3zm-33 27 3 6-3 0-3-6zm11 2 3-3-3 2-3 3zm39 30 3 4-2-7-3-4zm58-34 3 7-2 5-3-7z"/><path class=c40 d="m507 621 3 4-2 2-3-4zm139-9 3-12-2 4-3 12zm3 0 3-12-3 0-3 12zm66 10 4 10-3-2-3-10zm-171 41 4 10-3 10-3-10z"/><path class=c25 d="m437 648 3 7-2-12-3-7zm58 27 3 7-3-5-3-7zm6 6 3 10-2 2-3-10zm21 12 3 12-2-10-3-12zm17-9 3-11-2-12-3 12z"/><path class=c30 d="m434 638 3 10-2-12-4-10zm1-5 4 2-3-6-3-3zm0 3 3 7-3-10-3-7zm58 31 3 12-2-7-3-11zm5 2 3 12-2 2-3-12zm7 20 3-10-2-3-4 11zm61 3 3-2-2-11-4 3z"/><path class=c26 d="m522 633 3-2-3 4-3 2zm3-2 3-2-3 4-3 2zm3-2 3-2-2 4-4 2zm-92 20 3 10-2-11-3-10zm4 3 4 11-3 0-3-12zm178-4 3 7-3 2-3-7z"/><path class=c29 d="m439 635 3-2-3-7-3 3zm80 3 4-8-3-7-3 7zm32-23 3 2-3 0-3-2zm-31 31 3 1-3 2-3-2zm95-5 3 7-3 2-3-8z"/><path class=c32 d="m433 626 3 3-2-3-3-2zm73 4 3-3-2 1-3 3zm22 1 3 0-2-5-3 0zm9 21 3 7-3-4-3-7zm-37 28 3-10-2-11-3 11z"/><path class=c28 d="m547 619 4-4-3 0-3 3zm-25 23 3-7-2-5-4 8zm0 6 3 2-2-3-3-1zm40 31 3 0-3-2-3 0zm62-22 3-7-3-12-3 7z"/><path class=c33 d="m432 626 3 7-2-7-3-7zm79 8 3 8-2 3-4-8zm10 5 3 7-3-2-3-7zm8-13 3 4-2-8-4-3zm15-13 4 0-3 6-3-1zm4 0 3-4-3 5-3 5zm4-5 3-3-2 6-3 4zm-29 33 3 8-2-3-3-7z"/><path class=c30 d="m525 635 3-4-2-5-3 4zm2 0 4-4-3 0-3 4zm18-16 3-5-2 7-3 5zm-99 45 3-15-3-2-3 16zm75-20 3 6-2-2-3-5zm3 2 3 6-3-2-3-6zm-22 41 4-11-3-6-3 10z"/><path class=c37 d="m569 598 3 7-2 2-3-8zm-57 40 3-8-2 3-3 8zm5-6 4 7-3-2-3-7zm5 0 3 7-2 2-3-7zm15-23 4-3-3 1-3 3zm34-8 3 8-2-4-3-7z"/><path class=c36 d="m442 629 3 12-2 7-3-12zm78 5 3 7-2-2-4-7zm14-24 3-1-2 1-3 1zm10-2 3 4-3 1-3-3zm-46 62 3-11-3-11-3 10zm38 2 4 12-3 12-3-12z"/><path class=c35 d="m549 590 3 4-2-6-4-5zm-119 29 3 7-2-2-4-7zm104-4 3-2-3-3-3 2zm3-2 3-1-3-3-3 1zm4-3 3 3-2 5-3-3zm78 18 4 7-3 8-3-8zm-103 35 3 10-3-5-3-10z"/><path class=c34 d="m431 626 4 10-3-10-3-10zm120-17 3-7-2 5-4 7zm1-2 3-7-3 8-3 6zm8 67 3-10-2 10-3 9zm56-33 3-7-3-9-3 7zm103 1 4 12-3-14-3-12z"/><path class=c39 d="m442 636 3-10-2-1-3 11zm64-12 3 0-2-3-3 0zm6 1 3 5-2-2-4-4zm7 3 3 4-2 2-3-4zm126-20 3-6-2 5-3 7z"/><path class=c27 d="m396 634 3 10-3-2-3-10zm40 12 3 12-3-9-3-12zm2-3 3 2-2-10-4-2zm56 29 3 10-2-7-3-10zm30 19 3 11-3-2-3-12z"/><path class=c31 d="m433 637 3 12-2-11-3-12zm3-8 3-3-2-2-3 2zm1 11 3 12-2-1-3-11zm6 23 3-16-2-3-3 16zm71-9 3-11-3-5-3 11zm5-11 3 5-2-2-4-6z"/><path class=c41 d="m471 593 3 6-2-3-4-5zm-38 26 3 7-2 4-3-7zm6 0 3 10-2 7-4-10zm6 14 3-11-3 4-3 10zm73-8 3 0-2 3-3 0zm3 0 4 4-3 3-3-4zm3 0 3 4-2 0-4-4z"/><path class=c33 d="m440 636 3 12-3 4-3-12zm99-16 3-1-2-7-3 1zm3-1 3-3-2-7-3 3zm-25 52 3 12-2-11-3-12zm0 0 3 12-3-12-3-11zm2-20 3-9-2-8-3 9z"/><path class=c39 d="m440 636 3-11-2-4-3 10zm32-34 4 8-3-10-3-8zm37 23 3 0-3-1-3 0zm11 9 3-4-2-5-3 5zm125-23 3-10-3 7-3 10z"/><path class=c29 d="m391 625 3 10-2-10-4-11zm125 37 3-11-2-8-3 11zm21 11 3-12-2-9-4 12zm27 4 3 0-2 2-3 0zm-29 30 3-14-2-16-3 14z"/><path class=c36 d="m391 616 3-1-2 6-3 2zm43 14 3 10-2 0-3-11zm106-18 3-3-2-3-4 3zm3-3 3 3-2-4-3-2zm-101 37 3-13-3 3-3 14z"/><path class=c38 d="m436 626 4 10-3 4-3-10zm74-1 3 7-2 2-3-7zm7 5 3 4-3-2-3-5zm127-14 3-12-2 7-4 11zm74 13 3 10-2-7-4-10z"/><path class=c37 d="m546 583 4 5-3-3-3-4zm-117 33 3 10-2-7-3-10zm85 22 4-8-3 0-3 8zm-70 6 3-13-2 2-3 13zm71 16 3 12-2-9-4-12z"/><path class=c2 d="m574 646 3-2-3-11-3 2zm3-2 3-6-3-11-3 6zm5 0 3-10-2-7-3 11zm3 2 3-10-3-2-3 10z"/><path class=c15 d="m585 621 3 3-2 11-4-3zm132 53 3-10-2 10-4 10z"/><path class=c43 d="m492 586 3 0-2-7-3 0zm125-4 3-2-2 2-3 2zm-174 43 3-6-2-5-3 7zm2 1 4-7-3 0-3 6z"/><path class=c58 d="m406 565 3 3-2 7-3-3zm6 1 3 7-3 2-3-7zm283 14 3 3-2 6-4-2zm5 0 4 7-3 2-3-6z"/><path class=c16 d="m463 646 4-6-3 6-3 7zm183-3 3-2-3 2-3 2zm43 29 3 10-2-10-3-10zm-138 44 3-10-3 7-3 10z"/><path class=c17 d="m576 615 3 10-2 10-3-10zm-161 43 4 7-3 10-3-7zm230-15 3 2-2-2-4-3zm2 1 3 3-2-2-3-2zm57 29 3 7-2 9-3-7zm-174 41 3 10-2-2-3-10z"/><path class=c18 d="m582 614 3 7-3 11-3-7zm62 65 3 7-2-7-3-7zm18-30 3 3-3-5-3-3zm29 20 3 12-3-2-3-12zm-141 44 3-7-2 10-4 7zm-21 25 3-16-2-16-3 16z"/><path class=c21 d="m536 637 3-5-3-5-3 5zm37-9 4-11-3-5-3 11zm-91 47 3-2-2 2-4 2zm161-1 4 7-3-2-3-8zm22-26 3 10-2 1-3-10zm20-1 3-7-2 7-4 7z"/><path class=c22 d="m535 637 3 0-2 0-4-1zm-133 32 3-16-3-11-3 15zm12 3 3-16-3 7-3 16zm67 3 3 3-2-3-3-2zm140-20 3 5-2 1-4-4zm20 16 3 8-2-7-3-8zm48-21 3-2-2-5-4 2z"/><path class=c26 d="m534 629 3 4-2 4-3-4zm47-11 3-12-3 7-3 11zm2 9 3 0-2-7-3 0zm-184 30 3-15-2-12-3 16zm17 8 3-16-2 7-3 16zm22-14 3 12-2-5-3-12zm228 3 3-10-2-6-3 9z"/><path class=c25 d="m582 630 4 5-3-8-3-4zm4-3 3-5-2-7-3 5zm-172 36 4-15-3 4-3 15zm24 13 3-16-3 2-3 15zm2 2 3-15-2-3-3 16zm38-9 3 6-2-2-4-7zm142-5 4-7-3-12-3 7zm23 2 3 5-3 3-3-6zm26-9 3-10-3-3-3 10z"/><path class=c31 d="m395 624 3 7-2 3-4-7zm136 7 3 3-2-4-3-4zm1-1 3 2-2-8-3-2zm-97 10 3 11-2-5-4-11zm6 20 3-16-2 2-4 16zm81-3 3-8-3-7-3 9zm-1 24 3 10-3-3-3-10z"/><path class=c32 d="m389 624 3 3-2-2-3-3zm43 11 4 11-3-9-3-11zm71-7 3 2-2 1-4-2zm45-14 4-7-3 7-3 7zm-72 63 3-16-2 4-3 16zm195-31 3-8-2 11-3 9zm-114 34 3-6-2 9-3 7z"/><path class=c30 d="m385 629 4-6-3 3-3 6zm7-2 4 7-3-2-3-7zm181-13 3 4-2 6-4-5zm-135 48 4-16-3 4-3 15zm86-1 3-9-2-3-3 8zm94-9 3-7-2-11-3 7zm-144 29 3-16-3 7-3 16z"/><path class=c24 d="m532 633 3 4-3-1-3-3zm5 0 3 0-2 4-3 0zm80 35 3-4-2-12-3 5zm23 0 3 6-2-3-3-5zm-141 15 3 10-2-4-4-10zm28 39 3-16-3-15-3 15zm5 0 3-15-2-16-3 15z"/><path class=c28 d="m547 621 3-6-3 4-3 6zm37-1 3-5-2-3-3 5zm-167 36 3-15-2 7-4 15zm1 3 4-15-3 5-3 16zm16 6 3-16-3-4-3 15zm2 0 3-15-2-1-3 16z"/><path class=c20 d="m630 625 3-6-3 5-3 6zm12 11 3 7-3-3-3-7zm2 1 3 7-2-1-3-7zm3 2 3 7-3-2-3-7zm-94 67 3-9-2 9-3 10z"/><path class=c19 d="m630 633 4 3-3-7-3-3zm-170 31 3-12-2-5-3 12zm7-24 3-8-3 7-3 7zm182 2 3 7-2-3-3-7zm12 7 3 7-2-7-3-7z"/><path class=c29 d="m534 634 4 3-3-5-3-2zm3-12 3 4-3 7-3-4zm-78 26 3 7-3 2-3-7zm157 19 3-1-2 10-3 1zm66-2 3 0-3-14-3 0zm-158 41 3-15-2-14-3 16z"/><path class=c21 d="m466 636 3-6-2 10-4 6zm4-4 3-4-3 7-3 4zm15 41 3-6-2 1-3 7zm174-31 3 7-3-5-3-7zm27 18 3 12-2-10-4-12z"/><path class=c23 d="m469 630 3-7-2 9-3 8zm109-6 3-11-2 4-3 11zm68 8 3 10-2-3-4-10zm12 7 3 10-2-7-4-10zm-195 13 3-11-2-5-3 11zm3 1 3-11-3-1-3 11zm220-8 4-2-3 0-3 1z"/><path class=c25 d="m655 632 4 10-3-5-3-10zm4 6 4 11-3-3-3-12zm-200 19 4 2-3 5-3-2zm37 22 4 10-3-7-3-10zm187-37 3 3-2-1-3-2zm-181 61 3-14-3-2-3 13zm140-13 4-2-3-16-3 2zm4-2 3-2-3-16-3 2z"/><path class=c30 d="m469 633 4-5-3-5-3 5zm3 0 3-5-2 0-4 5zm55 6 3-7-3 3-3 8zm8-7 3-3-2-7-3 2zm15-17 3-4-2 4-4 4zm-153 31 3-16-2-10-4 16zm245-5 3-4-3-5-3 4z"/><path class=c27 d="m540 626 3 0-3 7-3 0zm3 0 3-5-2 7-4 5zm-77 15 3-8-2-5-3 8zm3 1 3-9-3 0-3 8zm175 8 3-5-2-8-3 4zm-83 32 3-5-2 2-4 5zm54 8 3-6-2-16-4 7z"/><path class=c32 d="m473 628 3 0-3-5-3 0zm31 5 4 5-3-7-3-5zm1-2 3 2-2-3-3-2zm26 0 3 0-3 0-3 0zm114 6 3-9-3-5-3 9zm-187 5 3 10-2-4-3-10zm104 32 4-9-3 10-3 9zm79-23 3-3-2 10-3 3z"/><path class=c33 d="m389 623 3-2-3 3-3 2zm3-2 3 3-3 3-3-3zm112 11 3 8-3-7-3-8zm-44 12 3 12-3-7-3-12zm7 2 3 12-2 3-4-12zm7 26 4-15-3 7-3 16zm88 2 3-11-3 11-3 11zm53-17 3-1-2 11-3 2zm29-9 3 1-2 10-3-1z"/><path class=c34 d="m477 624 4 0-3 4-3 0zm25 2 3 5-2-3-3-6zm23 13 3 8-2 2-3-8zm8-11 3 0-2 3-3 0zm39-23 3 8-2 1-3-7zm-135 44 3-13-2-5-4 14zm2 1 3-14-2 0-3 13zm77 21 3 10-2-10-4-10zm102-15 4-2-3 12-3 1z"/><path class=c35 d="m548 593 3 7-2-10-3-7zm-47 32 3 8-2-7-3-8zm4 5 3 7-2 0-3-7zm181 2 3 7-2 6-3-7zm-232 22 3-14-3-3-3 14zm15-10 3 12-2 2-3-12zm23 28 3-14-2-11-3 13zm25-29 3-9-2-4-4 8zm0 31 4 7-3-3-3-7zm153-33 4-4-3 9-3 5z"/><path class=c45 d="m573 559 3-7-2-10-3 7zm-83 20 3 0-3-2-3 0zm-40 36 3 7-2-7-3-7zm19 9 4 7-3-2-3-7zm175 1 4-7-3 7-3 7zm-123 27 4 3-3 10-3-3z"/><path class=c44 d="m632 586 3-2-3 3-3 2zm-196 26 3 7-3 7-3-7zm5 9 3-7-3-7-3 6zm22 1 3 10-2 2-4-10zm182 3 3-7-2 10-3 6zm-127 29 3-2-2 10-3 2z"/><path class=c36 d="m392 629 3-16-2-2-3 15zm67 8 3 12-2-5-4-11zm41-11 3 4-2-5-4-4zm-23 39 3-15-2 7-4 15zm43 6 3 7-2 3-4-7zm147-30 3 0-2 10-3 0z"/><path class=c38 d="m545 585 3 8-2-10-4-8zm1-2 3 7-3-7-3-7zm-90 50 4 11-3-7-3-12zm8 1 3 12-3 3-3-12zm49-4 4 0-3-3-3 0z"/><path class=c41 d="m542 575 4 8-3-7-3-8zm74 16 4-6-3-3-3 7zm-160 36 3 10-3-4-3-11zm211 3 3 5-3 6-3-4zm-128 31 3 12-2 11-4-12z"/><path class=c40 d="m427 609 3 10-3-2-3-10zm11 22 3-10-3-8-3 11zm28 1 3 12-2 2-3-12zm-9 8 3-10-2-3-4 10zm62 22 3 3-2 6-3-3z"/><path class=c39 d="m428 614 3 12-2-10-3-12zm77 9 3 4-3 3-3-4zm6 4 3 0-2-2-3 0zm5 1 3 0-2 2-4 0zm154 7 3 0-3 6-3 0zm47-7 3 12-2-11-3-12z"/><path class=c43 d="m620 585 3-2-3-3-3 2zm11 8 3-7-2 0-3 7zm-207 15 3 8-3-12-3-7zm11 16 3-11-2-7-3 11zm30 1 3 10-2-3-3-10zm250-8 3 12-3-7-3-11z"/><path class=c40 d="m427 616 3 10-2-12-4-10zm1-2 3 12-3-12-3-11zm87 16 3-5-2 3-3 5zm3 0 3-5-3 0-3 5zm151 10 3 6-2-14-3-5z"/><path class=c28 d="m538 637 3-3-3-5-3 3zm8-16 3-7-2 7-3 7zm-90 29 3 7-2 5-3-7zm191-5 3-8-2-9-3 9zm-88 40 3-11-3 11-3 12z"/><path class=c31 d="m506 637 3 8-2-5-3-8zm35-9 4-2-3-7-3 1zm4-2 3-2-3-8-3 3zm4-12 3-6-2 7-3 6zm-96 53 3-15-2 2-4 15zm34-7 3 10-2 3-4-10z"/><path class=c37 d="m461 637 3 12-2 0-3-12zm38-19 3 8-2-4-4-7zm9 9 3 7-3 3-3-7zm71-19 4 2-3 2-3-2zm65 31 3-3-3 12-3 3z"/><path class=c30 d="m385 633 3-10-3 6-3 11zm152 1 3 3-2 0-4-3zm1-5 3-1-2-8-3 2zm25 46 3-5-2 7-3 5zm-5 8 3-9-2 11-4 10z"/><path class=c62 d="m528 614 3-1-2 6-3 2zm3-1 3 2-2 7-3-3zm6 0 3 7-3 2-3-7zm2 2 3 7-2-2-3-7z"/><path class=c29 d="m384 637 3-14-2 10-3 14zm87 1 3-9-2 4-3 9zm70-4 3-1-3-5-3 1zm3-1 3-2-2-5-4 2zm-48 38 3 12-3-4-3-12z"/><path class=c32 d="m474 629 3-5-2 4-3 5zm34 8 4 8-3 0-3-8zm22-5 3-4-2 3-4 4zm4-1 3 3-3 0-3-3zm5 0 3 2-2 4-3-3zm9-2 3-1-2 1-3 2zm-93 35 3-15-2 3-3 15z"/><path class=c34 d="m388 623 3-7-2 7-4 6zm92 8 3-11-2-3-3 11zm23-1 3 7-2-5-3-7zm35-4 4 3-3 2-3-3zm12-14 3-5-2 2-3 4zm-43 31 3-8-2-3-3 9zm31 50 4-10-3-16-3 10z"/><path class=c31 d="m529 638 3-8-2 2-3 7zm17-7 3-2-3 4-3 1zm2-7 3 2-2-8-4-2zm4-2 3 0-3-7-3 0zm-46 31 4-12-3 2-3 11zm-12 30 4-13-3-12-3 14z"/><path class=c44 d="m540 568 3 8-2-2-3-8zm-115 35 3 11-2-10-3-12zm35 27 3-7-2-2-3 6zm22 1 3 10-2-4-3-11zm232-15 3 12-2-11-3-12z"/><path class=c46 d="m666 596 3 2-2-9-3-2zm-201 24 3 7-3-2-3-7zm2 2 3 7-2-2-3-7zm75 1 3-1-2 4-3 1zm6 0 3 4-2 0-4-5z"/><path class=c47 d="m423 592 3 12-2-7-4-11zm15 21 3-6-2-7-3 6zm26 6 3 3-2-2-4-3zm184-1 4-3-3 10-3 3zm-130 31 3-7-3 12-3 6z"/><path class=c49 d="m571 549 3-7-2-7-4 7zm89 40 4-2-3-5-3 2zm4-2 3 2-3-5-3-2zm-14 28 3-6-2 2-3 7zm2 2 4-6-3-2-3 6z"/><path class=c36 d="m430 626 3 11-2-11-3-12zm71-1 3 7-3-7-3-7zm27 11 3 8-3 3-3-8zm-72 16 3-14-2 2-3 14zm98 33 3 10-2-16-3-10z"/><path class=c34 d="m386 625 3-13-2 11-3 14zm1-2 3-10-2 10-3 10zm160-11 3 0-2 1-4 0zm-42 29 3-9-2-2-4 9zm25 6 3 0-2-3-3 0z"/><path class=c33 d="m386 629 3-15-3 11-3 16zm8 7 4-16-3-7-3 16zm142-8 3 3-2 3-3-3zm13-13 3 0-2-3-3 0zm0 3 3 4-3-7-3-3zm-38 31 3-11-2 0-3 11zm16 3 3-5-2-3-3 5z"/><path class=c35 d="m387 629 3-16-2 6-3 16zm44-3 3 12-3-12-3-12zm104 0 3 0-2 2-3 0zm11-14 3 3-2-3-3-4zm-36 29 3-8-3 2-3 8zm5 30 3 7-2-7-3-7z"/><path class=c39 d="m389 612 4-11-3 12-3 10zm42 11 3 7-2-1-3-7zm94 6 3 7-3 3-3-7zm2 0 3 7-2 0-3-7zm189 1 3 12-2-14-3-12zm-211 20 3 12-2 6-3-11z"/><path class=c42 d="m470 592 3 8-2-7-3-8zm-40 24 3 3-2 4-3-3zm91 9 3 0-3 0-3 0zm125 3 3-3-2 11-3 3zm2-27 3-6-3 7-3 6z"/><path class=c38 d="m388 619 3-15-2 10-3 15zm2-6 3-7-2 10-3 7zm107 8 4 4-3-7-3-4zm1-3 3 7-2-7-3-7zm15 15 3-5-3 2-3 5z"/><path class=c41 d="m452 635 3-10-2-2-3 11zm2 2 4-10-3-2-3 10zm5 1 3-10-2 2-3 10zm37-27 3 7-3-3-3-7zm170 28 3 1-2-13-3-2z"/><path class=c40 d="m542 580 3 5-3-10-3-5zm-47 34 3 4-2-7-3-4zm28 16 3 0-2-5-3 0zm3 0 3 4-2-5-3-4zm-14 21 4 12-3-5-3-12z"/><path class=c55 d="m404 572 3 3-3 10-3-3zm285 17 3-7-3 7-3 7zm15-2 3 10-3 2-3-10zm-209 27 3 3-2 4-3-3zm2 0 4 3-3 0-3-3z"/><path class=c9 d="m577 635 3 7-2 7-4-7zm12-2 3-6-3 10-3 6zm108 58 3 7-2-2-3-7zm14 0 3-7-2 7-3 6z"/><path class=c10 d="m571 632 3 10-2 2-3-10zm11 0 4 3-3 10-3-3zm11-6 3-13-3 7-3 13z"/><path class=c51 d="m443 598 3 7-2 1-3-7zm-4 2 3-2-2-3-3 2zm214 9 3-3-2 2-3 3zm3 2 3-3-3-2-3 3z"/><path class=c20 d="m597 605 4-13-3 11-3 14zm32 20 3-1-2 1-4 2zm-145 53 3-2-2-3-3 2zm179-29 3 10-3-3-3-10z"/><path class=c21 d="m601 615 3 7-2-12-4-7zm27 11 3 3-2-4-3-3zm4-2 3-7-2 2-3 6zm-149 53 4 3-3-2-3-3zm177-31 3 10-2-7-3-10zm5 22 4-11-3-3-3 12z"/><path class=c30 d="m542 633 4-2-3 3-3 3zm91-22 3 12-2 2-3-12zm2 3 4 11-3-2-3-12zm-104 26 4-7-3-3-3 8zm3 2 3-7-2-2-4 7zm2 2 3-7-2-2-3 7z"/><path class=c32 d="m474 631 3-9-3 7-3 9zm71 1 3-3-2 2-4 2zm5 0 3-2-2-2-3 1zm87-7 4-10-3-3-3 10zm-128 24 3-11-2 3-4 12z"/><path class=c22 d="m604 618 3 12-2 0-3-12zm23 8 3 7-2-7-3-7zm2 2 3 10-2-5-3-10zm-6 46 3-7-2-10-4 7zm40-8 3-12-2-7-3 12z"/><path class=c24 d="m625 619 3 7-2-4-4-7zm-145 52 3 6-2-2-3-6zm3 1 3 7-3-2-3-6zm155-6 3 5-2-7-4-5zm12-9 3-9-3-11-3 8zm33-7 4 12-3-12-3-12z"/><path class=c26 d="m604 632 3-8-2-3-4 9zm20-16 3 10-2-7-3-10zm33 18 3 12-2-7-3-12zm-195 21 3 3-2 1-4-2zm200 8 4 0-3 11-3 0zm4 0 3-5-3 11-3 5zm17-15 3 12-3-10-3-12z"/><path class=c25 d="m601 592 3-16-3 12-3 15zm5 42 3-9-2-1-3 8zm-142 25 3 2-2-3-3-3zm24 14 3 7-3 2-3-7zm149-7 3 2-2-2-3-2zm-138 34 3-13-2-7-3 14z"/><path class=c23 d="m599 613 4 12-3-9-3-12zm28 10 3 10-3-7-3-10zm-142 52 3 7-2-3-3-7zm199-25 3 10-2-11-3-10zm1 5 3 12-2-7-3-12zm1-8 3 3-3-5-3-3z"/><path class=c35 d="m432 629 3 11-3-5-3-11zm45-7 3-5-3 7-3 5zm156-7 3-10-3-8-3 10zm-100 26 3 8-3-5-3-8zm120 3 3 7-2 12-3-8z"/><path class=c37 d="m429 624 3 11-2-9-3-10zm70 2 3 0-2 0-3 0zm3 0 3 4-2 0-3-4zm6 6 3-5-2-2-3 5zm2 3 3-5-2-3-3 5zm140 3 3 6-2 11-4-6z"/><path class=c28 d="m596 601 3 12-2-9-3-12zm-213 40 3-16-2 12-3 15zm99 24 3 10-2-3-3-10zm96-16 3-2-2-7-3 2zm47 17 4 3-3 10-3-4zm31 10 3-5-3-15-3 4z"/><path class=c32 d="m473 634 3-11-2 8-4 11zm133-7 3 7-3 0-3-7zm50 10 3-11-2-12-4 12zm33 2 3 10-2 6-3-10zm-225 10 4 12-3 0-3-12zm15 29 3-16-3-1-3 16zm168-29 4 6-3 10-3-6z"/><path class=c31 d="m547 634 3-2-2-3-3 3zm56-7 3 7-2 3-3-7zm4 5 4 7-3-7-3-8zm-145 17 3 12-2-5-3-12zm184 21 3 2-2-15-3-3zm19-19 3 0-2 12-4 0zm3 0 3-5-2 12-3 5z"/><path class=c36 d="m390 626 3-15-3 2-3 16zm86-3 3-8-2 7-3 9zm54 13 3 8-2 0-3-8zm20-6 3 0-2 3-4 0zm-41 40 3-2-3-7-3 2zm5 1 3 3-2-3-3-3zm8-29 3-5-2-7-3 4z"/><path class=c35 d="m478 628 3-11-3 1-3 11zm22 9 3-9-2-2-3 8zm2 2 4-9-3-2-3 9zm-68 6 4-14-3-7-3 13zm32 16 3-14-3-7-3 13zm44 16 4-7-3 2-3 7zm18-33 3 0-2-7-4 0zm3 0 3 4-2-6-3-5zm1-2 3 7-2-8-4-7z"/><path class=c38 d="m429 622 3 7-3-5-3-7zm44 17 3 12-2-2-3-12zm33-9 3-5-3-1-3 4zm19 7 4 0-3-7-3 0zm4-3 4 7-3-5-3-7zm80-11 3-6-2 7-3 6zm38 13 3 2-3 11-3-1zm-133 24 3 11-2-11-3-12z"/><path class=c34 d="m475 629 3-11-2 5-3 11zm63-1 3 1-3-3-3 0zm7-12 4 2-3-6-3-3zm-39 60 3-6-3-7-3 7zm19-27 3-5-3-7-3 5zm97 5 3-2-3 11-3 3zm28 6 3 0-2-14-3 0z"/><path class=c46 d="m444 614 3-1-2-8-4 2zm19 9 3-2-2-2-3 2zm9-1 3 7-2 2-4-7zm32 12 4 12-3 4-3-12zm3 0 3 12-2 0-4-12zm2 4 3 10-3-9-3-10zm36-16 4 5-3 4-3-5zm104 2 3-7-2-2-3 7z"/><path class=c45 d="m468 585 3 8-3-2-3-8zm166 1 3-2-2 0-3 2zm-185 31 4 3-3-5-3-2zm13 11 3-7-2 2-3 7zm15-2 3 10-2 4-3-11zm3 0 3 11-3-1-3-10zm29 13 3 12-2-5-3-12z"/><path class=c47 d="m447 613 3 2-2-7-3-3zm14 8 3-2-3-2-3 2zm4 0 4-1-3 1-3 2zm14 3 3 7-2-5-3-7zm66-1 3 0-3-1-3 1zm110-6 3 5-3 10-3-6zm5-2 3 8-2 7-3-8zm44-2 3-2-3-14-3 2z"/><path class=c42 d="m469 595 3 7-2-10-3-7zm-76 16 3-16-2 3-4 15zm80 20 3 10-3-2-3-10zm11 7 3 8-2-7-4-7zm163-34 3-10-2 7-3 10zm5 22 3 6-2 12-3-6zm-172 15 3-2-2-3-4 1zm32 7 3 12-3-9-3-12z"/><path class=c43 d="m462 635 3-10-3 3-3 10zm6-8 3 10-3-2-3-10zm2 2 3 10-2-2-3-10zm5 0 3 11-2 1-3-10zm2 8 4-1-3-7-3 1zm6 2 3 3-2-4-3-2zm10-32 3 4-3-3-3-5zm156 18 3 1-2 12-3-2z"/><path class=c33 d="m532 630 3-4-2 2-3 4zm3 3 3-5-3-2-3 4zm7-4 3 3-3 1-3-2zm93-7 3-10-2-7-3 10zm5 2 3-10-2 1-4 10zm-106 24 3 7-2-6-3-7zm157 4 3-11-2-14-3 11z"/><path class=c44 d="m539 570 3 5-2-7-3-5zm-75 65 3-10-2 0-3 10zm17 1 3 2-3-6-3-3zm21 2 3 12-2 7-3-12zm147-38 4-10-3 4-3 10zm3 31 3-7-3-7-3 7z"/><path class=c27 d="m626 616 3 12-2-5-4-12zm-244 29 4-16-3 12-3 15zm276 4 3-12-2-11-3 11zm-161 45 3-14-2-10-4 13zm63-10 3-9-2 7-3 8zm67 4 3 0-3-16-3 0z"/><path class=c39 d="m389 614 3-14-3 12-3 13zm79 21 4 12-3-3-3-12zm3 2 3 12-2-2-4-12zm10-20 3-9-3 1-3 9zm20 6 4 0-3 3-3 0zm147 23 3 0-2-10-4-1z"/><path class=c40 d="m426 617 3 7-2-8-3-8zm186 2 3-6-3 4-3 6zm43 13 4 8-3 11-3-7zm-186 15 3-10-2-8-4 11zm8 0 3-6-3-4-3 7zm24 12 3-6-2-12-4 7z"/><path class=c32 d="m385 635 3-16-2 10-4 16zm152 0 3-5-2-2-3 5zm2 2 4-5-3-2-3 5zm3 2 3-4-2-3-4 5zm2-7 3 2-2-2-3-3zm2 2 4 2-3-2-3-2z"/><path class=c41 d="m492 614 3 0-2-7-4 0zm45 19 4 0-3 8-3 0zm-63 11 3-7-2-7-3 7zm5 2 3-7-2 2-3 6zm29 0 3 12-3 4-3-12zm2 0 3 12-2 0-3-12z"/><path class=c59 d="m409 563 3 3-3 2-3-3zm288 14 3 3-2 3-3-3zm3 2 3 3-3-2-3-3zm-174 42 3-2-3 10-3 2zm3-2 3 3-3 10-3-3z"/><path class=c37 d="m498 627 3-4-2 3-3 5zm31 10 3 5-3-8-3-4zm-66 16 3-13-2-5-3 14zm8 1 3-10-2-7-3 10zm42 10 3 7-3-10-3-7z"/><path class=c48 d="m474 619 3 7-2 3-3-7zm3 0 3 7-3 0-3-7zm171-1 3-7-3 7-3 7zm59-7 3 2-2-14-4-2zm5-6 3 12-3-6-3-12z"/><path class=c46 d="m467 585 3 7-2-7-4-7zm70-22 3 5-2-2-3-6zm-85 54 3 3-2 0-4-3zm18 12 3-6-3-5-3 7zm5 1 3-1-2-8-3 2zm3-1 3 3-2-8-3-3z"/><path class=c43 d="m472 637 3-7-2-7-3 6zm17-30 4 0-3-4-3 0zm126 6 3-3-3 4-3 3zm34 23 3-5-3-7-3 5zm64-16 3 10-2-14-3-10z"/><path class=c38 d="m432 637 3-13-2-7-3 13zm71-9 3-4-2-3-3 5zm3 35 3-2-2-10-3 2zm7-2 4 10-3-11-3-11zm22-20 3 0-2 5-3 0z"/><path class=c42 d="m466 640 4-11-3-4-3 10zm38 13 3-2-2-11-3 1zm3-2 3 3-2-12-3-2zm4-2 3 11-2-12-3-10zm4 11 3-6-2 10-3 6z"/><path class=c34 d="m540 630 3 1-2-2-3-1zm1-1 3 3-2-3-4-3zm10 4 3 4-3 2-3-4zm-18 14 4 5-3-4-3-4zm120 13 3-4-2-14-3 4z"/><path class=c52 d="m437 597 3-2-3 1-3 2zm52 23 4-2-3 7-3 2zm31 17 3-6-2 11-3 7zm139-29 3 1-3-2-3-1z"/><path class=c57 d="m403 567 3-2-2 7-3 2zm289 15 3-2-3 7-3 2zm11 0 3 7-2-2-4-7zm-171 40 3 7-2 10-4-7z"/><path class=c56 d="m409 568 3 7-2 7-3-7zm282 18 3-6-2 2-3 7zm7-3 3 6-2 7-3-7zm4 3 3 3-2-7-3-3z"/><path class=c50 d="m404 591 3-10-2-7-4 10zm5 0 4-7-3-10-3 7zm11-5 4 11-3-2-3-12zm237 24 3 5-2 7-3-5zm41-4 3-7-2-11-3 7zm-174 35 3 3-2 11-4-3z"/><path class=c48 d="m418 594 3 3-2-12-3-2zm4-2 3 11-2-11-3-10zm42-14 4 7-3-2-3-7zm9 45 3-2-3-4-3 1zm3-2 3 3-2-5-4-2zm235-15 3 10-2-11-4-10z"/><path class=c52 d="m401 584 4-10-3-3-3 11zm12 0 3-1-3-11-3 2zm7-2 3 10-3-6-3-10zm270 16 3-10-2-2-3 10zm11 1 3-2-2-11-3 2zm7-4 4 10-3-6-3-10zm-219 27 3-6-3 4-3 6z"/><path class=c53 d="m578 536 3 6-2-2-4-7zm-162 47 3 2-3-10-3-3zm288 14 4 2-3-10-3-3zm-211 21 3 3-3 7-3-3zm26 20 3-11-2 10-3 11z"/><path class=c54 d="m569 533 3-2-2 2-3 2zm-162 48 3-7-2-7-3 7zm289 14 3-7-2-6-4 6zm-204 21 3-2-2 4-4 2zm31 15 3-2-2 12-3 1z"/><path class=c47 d="m421 597 3 7-2-12-3-7zm113-36 3 2-2-3-4-1zm-69 64 3-7-3 3-3 7zm182-3 3-7-2 3-4 7zm8 2 3-7-2-6-4 6z"/><path class=c49 d="m441 607 4-2-3-7-3 2zm4-2 3 3-3-7-3-3zm23 13 3-2-2 4-4 1zm38 11 3 10-2-5-3-10zm152-12 3-3-2-6-3 3zm-137 25 3-1-3 11-3 2z"/><path class=c44 d="m466 591 3 4-2-10-3-4zm-74 9 3-10-2 11-4 11zm32 4 4 10-3-11-3-11zm57 28 4 7-3-8-3-7zm177-10 3 8-2 10-4-8z"/><path class=c45 d="m536 568 3 2-2-7-3-2zm-107 43 4-2-3 7-3 2zm20 8 3-2-3 0-3 2zm6 6 3-6-2-2-3 6zm205 3 4-3-3-11-3 3z"/><path class=c51 d="m568 542 4-7-3-2-3 6zm-149 43 3 7-2-10-4-7zm23 13 3 3-2-3-3-3zm76 47 4-14-3 7-3 13z"/><path class=c29 d="m610 638 3 8-2-7-4-7zm-126 25 4 10-3 2-3-10zm135 3 3-3-2 10-3 3zm-57 31 3 7-2-14-3-7z"/><path class=c33 d="m543 631 3 3-2-2-3-3zm3 1 3 4-3-2-3-3zm2 3 3 4-2-3-3-4zm-62 41 4-16-3-9-3 16z"/><path class=c31 d="m603 638 3-3-3-4-3 3zm6-2 3 6-2-4-3-5zm-61 10 3-7-2-5-3 8zm-67 36 3-15-2-5-3 16z"/><path class=c40 d="m425 620 4 2-3-5-3-2zm109 18 3-5-2 8-3 4zm-18 26 3-2-2 6-3 2zm138-22 3-7-2-11-3 7z"/><path class=c35 d="m498 634 3-8-3 1-3 9zm102 1 3 0-3 7-3 0zm-67 11 3 0-3 1-3 0zm3 0 3 4-2 2-4-5z"/><path class=c28 d="m623 611 4 12-3-7-3-12zm-8 46 3-5-2-11-4 4zm-132 34 3-15-2-9-3 15zm76-6 3-11-2 10-3 11z"/><path class=c39 d="m501 626 3-5-3 2-3 4zm48 12 3 8-2 6-3-7zm-40 23 4 3-3-10-3-3zm102-15 3 2-2 12-3-2zm40 0 3-4-2-11-3 5z"/><path class=c32 d="m606 635 3 1-2-3-4-2zm17-31 3 12-3-5-3-12zm-89 60 4-12-3-5-3 12zm17 1 3-5-2-12-3 5zm6 30 3 12-2-16-3-12z"/><path class=c36 d="m621 607 3-9-3-3-3 10zm-147 51 3-11-3-3-3 10zm29 12 3-7-2-10-3 6zm144-13 3 3-2-14-3-3z"/><path class=c55 d="m416 575 4 7-3-6-3-8zm289 14 3 6-2-6-3-7zm-211 27 3-2-2 0-3 2zm32 13 3 3-2 12-3-3z"/><path class=c37 d="m623 606 3-10-2 2-3 9zm-139 61 3-16-2-5-3 16zm30 3 3-2-3 3-3 1zm3-2 3 3-3 3-3-3z"/><path class=c34 d="m543 632 3 0-3-1-3-1zm79-18 3-12-2 4-3 11zm-92 37 3-5-3 1-3 5zm2 8 3-12-2 0-3 11zm-22 21 3-10-3 7-3 10z"/><path class=c33 d="m545 635 3 0-2-3-3 0zm75-18 3-11-2 1-4 12zm-91 37 3-9-2 6-4 8zm-20 30 3-13-2 9-4 14zm49 7 3 11-2-15-3-12z"/><path class=c44 d="m485 638 4 3-3 1-3-3zm55-11 3-1-2 7-4 0zm78-17 3 1-2 4-4-1zm-66 46 3 10-3-2-3-10z"/><path class=c38 d="m513 670 3-6-2 6-4 7zm42 9 3 12-2-16-3-12zm59-31 4-2-3 11-3 3zm4-2 3-2-3 12-3 1z"/><path class=c1 d="m573 649 3 3-2-6-4-3zm2 2 3 3-2-2-3-3zm6 1 3-2-3 3-3 1z"/><path class=c6 d="m574 642 4 7-3 2-3-7zm-154 40 3-6-2 2-3 7z"/><path class=c1 d="m584 650 3-6-2 2-4 7z"/><path class=c4 d="m570 642 3 7-3-6-3-7zm2 2 3 7-2-2-3-7zm11 1 3-2-2 7-3 2zm3-2 3-6-2 7-3 6z"/><path class=c7 d="m567 636 3 7-2-11-3-7zm-153 46 3 2-2 3-4-3zm289 14 3 3-3 2-3-3z"/><path class=c9 d="m566 632 4 10-3-6-3-10zm-147 45 3-2-2 7-3 2zm3-2 4-6-3 7-3 6z"/><path class=c11 d="m564 626 3 10-2-11-3-10zm28 1 3-10-2 9-4 11zm-166 42 3-10-3 7-3 10zm113 60 3 2-3 3-3-3z"/><path class=c14 d="m563 621 3 11-2-6-3-12zm28 1 3-6-2 11-3 6zm-172 43 3 3-3 9-3-2zm288 15 3 3-2 9-3-3z"/><path class=c8 d="m569 634 3 10-2-2-4-10zm17 1 3-2-3 10-3 2zm-178 42 3 7-2-2-3-7zm300 15 3-1-2 6-3 2z"/><path class=c13 d="m566 623 3 11-3-2-3-11zm8 2 3 10-3 7-3-10zm5 0 3 7-2 10-3-7zm-154 40 3-6-2 10-4 6z"/><path class=c16 d="m561 614 3 12-2-11-3-12zm33 2 3-11-2 12-3 10zm-166 43 3-10-2 10-3 10zm139-18 3-4-2-5-3 4z"/><path class=c18 d="m563 611 3 12-3-2-3-12zm2 25 3-4-3-9-3 5zm5 1 3-9-2-5-3 9zm3 0 3-9-3 0-3 9zm120 55 3-9-2-16-4 9z"/><path class=c17 d="m566 642 4 0-3-1-3 0zm4 0 3-5-3 0-3 4zm-164 41 4-16-3-5-3 16zm3 0 3-16-2 0-4 16z"/><path class=c19 d="m563 638 3 4-2-1-3-4zm5-6 3-9-2-9-4 9zm1 6 3 0-2 4-4 0zm3 0 3-5-2 4-3 5zm58-5 3 7-3-7-3-7zm1-4 3-2-2-3-3 1zm-220 50 3-16-2 4-3 16z"/><path class=c21 d="m562 628 3-5-2-12-3 5zm4 5 3 5-3 4-3-4zm10-5 3-11-2 0-4 11zm15 11 3-4-2-5-3 5z"/><path class=c2 d="m578 649 3 3-3 2-3-3z"/><path class=c20 d="m575 633 3-9-2 4-3 9z"/><path class=c22 d="m565 623 4-9-3-11-3 8zm6 8 3 0-2 7-3 0zm3 0 3-5-2 7-3 5zm14 8 3 0-2-4-3 0zm2 0 4 0-3 0-3 0zm41-11 3 10-2 0-3-10z"/><path class=c24 d="m562 626 4 7-3 5-3-8zm6 1 3 4-2 7-3-5zm17 8 3 4-2-4-4-5zm7-5 3-9-2-7-4 8zm1 6 3 0-2 3-4 0zm41-11 3 10-3 3-3-10zm-206 51 3-16-2-7-3 15zm233-17 3-12-3-10-3 12zm-175 44 3-16-3-11-3 15zm175-16 3-7-2-16-3 7z"/><path class=c29 d="m571 636 3 0-2-2-4 0zm2 2 3 0-2-2-3 0zm6-1 3-5-2 2-4 4zm15-10 3 8-3-2-3-7zm30 3 3-11-2-5-4 11zm7-17 3 12-3 3-3-12zm6 22 3-11-3 1-3 11zm-71 13 4-2-3-8-3 2zm15-1 4 2-3-7-3-2zm-92 40 3-15-2-12-4 16z"/><path class=c27 d="m559 619 3 7-2 4-3-7zm6 1 3 7-2 6-4-7zm5-1 4 5-3 7-3-4zm58-3 3 12-2 0-3-12zm-56 36 3-1-2-7-3 2zm6 2 3-1-3-4-3 2zm3-1 3-3-3-3-3 2zm4-4 3 3-3-6-3-4zm9-1 3-7-2-7-3 7z"/><path class=c28 d="m557 630 3-5-2-7-3 4zm2 4 3 0-2 0-4 0zm17-16 3 0-2 6-3 0zm0 20 4-4-3-3-3 5zm19-17 3-11-2-7-3 11zm39 15 3-11-2-3-3 11zm-59 15 3-2-2-7-3 2zm5 2 3-2-2 2-3 1zm4-3 3 2-2-3-4-2zm1-4 3 0-2-8-3 0z"/><path class=c30 d="m568 634 4 0-3-2-3 0zm8 2 3 1-3 1-3 0zm32-4 3 7-2-5-3-7zm-177 28 3-15-2-8-3 16zm132-14 3 2-2-8-3-2zm7 0 3-2-3-8-3 2zm9 3 3-2-2 6-3 1zm3-7 3 4-2-8-3-3zm0 5 3-1-2 5-3 2zm40 16 3 3-2 9-3-2zm27 9 4 4-3-16-3-3z"/><path class=c33 d="m570 607 3 7-3 5-3-7zm21 13 3 7-3-1-3-8zm3 18 3 4-2 7-3-3zm33-19 3-12-2-4-3 11zm-99 39 3-11-2 7-3 11zm34-8 3-7-2 7-3 7zm5-4 3 0-3 5-3 0zm11-2 4-2-3 7-3 2zm4-2 3-2-3 7-3 2zm80 5 3 4-3 12-3-5zm-154 41 3-15-2 11-3 16z"/><path class=c31 d="m555 636 3-2-2-2-3 2zm12-24 3 7-2 8-3-7zm3 13 3-7-2 2-3 7zm2 3 4-8-3-2-3 7zm3-15 3 4-2 1-3-4zm46 12 4-11-3 0-3 11zm8 1 4-11-3-8-3 12zm-66 24 4-4-3 5-3 5z"/><path class=c35 d="m553 630 3 3-2 4-3-4zm34-16 4 6-3-2-3-6zm3 2 3 6-2-2-4-6zm21 12 3 2-3 5-3-2zm14-14 3-11-3-1-3 12zm-61 32 3-7-2 4-3 7zm2-3 3-5-2 8-4 4zm50 25 3-7-3-14-3 7z"/><path class=c32 d="m555 625 3 3-2 3-3-2zm38-3 3 7-2-2-3-7zm2 2 4 8-3-3-3-7zm16 11 4 6-3 1-3-6zm-48 15 3-7-3 7-3 7zm7-4 3 3-3 6-3-4zm42 29 4-7-3-14-3 7zm-105 17 4-15-3 11-3 16z"/><path class=c25 d="m600 594 3-14-2 12-4 13zm-26 30 3 0-3 7-3 0zm3 0 3-5-3 7-3 5zm52 20 3-11-3-7-3 11zm4 2 4-11-3 1-3 12zm-142 53 3-16-2-11-3 15zm133-6 3-5-3-16-3 5z"/><path class=c29 d="m602 584 3-14-2 10-3 14zm-38 47 4-4-3 3-3 4zm1-1 3-7-2 0-3 7zm4 2 3-4-2-3-3 4zm3 2 3-5-3-1-3 4zm60-1 3-11-2-7-4 11zm2 7 4-5-3 7-3 5zm-16 44 3-7-2-16-3 7z"/><path class=c23 d="m559 601 4 10-3-2-3-10zm18 25 4-8-3 6-3 9zm9 9 3 0-3-8-3 0zm3 0 3-5-3-8-3 5zm96 14 3 7-2-9-3-7zm3 9 3 11-3-2-3-12z"/><path class=c26 d="m590 632 3 4-3 3-3-4zm11-2 4-9-3 2-3 8zm-175 38 3-15-3-7-3 15zm37-9 4 6-3-6-3-7zm125-7 3 1-3-7-3 0zm44-5 3-5-2 8-3 4zm8 17 3 2-3 2-3-2zm43-24 3 7-3-5-3-7z"/><path class=c27 d="m560 634 3-4-3-5-3 5zm2 0 3-4-2 0-3 4zm18-15 3-9-2 8-4 8zm2 9 3 7-3-5-3-7zm2 0 3 7-2 0-3-7zm8 2 3 4-2 2-3-4zm34 7 3-11-2-7-3 11zm56 2 3 10-2-9-4-10zm-214 22 3 10-3 0-3-10zm109-7 3-1-2 1-4 2zm12-3 4 3-3 2-3-4z"/><path class=c30 d="m604 585 3-10-2 2-4 11zm-37 44 3-4-2 2-4 4zm1-2 3-7-3 3-3 7zm2 8 3 3-2-2-3-4zm19-12 3 7-2 2-4-7zm2 3 3 7-2-3-3-7zm1 20 3 3-2 5-4-3zm4 10 3-1-2-12-3 2z"/><path class=c31 d="m558 628 3 3-2 3-3-3zm10-5 3-7-2 0-3 7zm13 10 3-4-2 3-3 5zm57 2 3-8-3 6-3 9zm41-5 4 10-3-5-3-10zm-209 41 4-13-3-4-3 14zm95-10 3 2-2-9-3-2z"/><path class=c29 d="m557 604 4-4-3-10-3 4zm4 27 3 0-2 3-3 0zm13 5 3-5-2-2-3 5zm8-23 3-8-2 5-3 9zm4 12 4 7-3 3-3-7zm94 13 3 12-2-12-3-12zm-94 11 3 2-2 1-3-2zm6-8 3-7-3-7-3 7z"/><path class=c28 d="m579 618 3-5-2 6-3 5zm102 20 3 12-2-11-3-12zm-220 14 3 7-2-4-3-7zm122-1 3-2-2 1-3 3zm53 3 3 8-2-12-3-8zm1-4 3 7-2-11-3-7zm45-5 3 10-2-7-3-10zm5 0 3 10-2 3-4-10z"/><path class=c32 d="m605 577 3-13-3 6-3 14zm-49 55 3-1-2-2-4 1zm17 1 3 3-3 2-3-3zm11 1 3-5-3 0-3 4zm95-7 3 12-3-9-3-12zm5 11 3 7-3 3-3-7zm-216 30 3-14-2-7-3 14zm5 2 3-14-2 2-4 13zm139-25 4-4-3-9-3 4z"/><path class=c34 d="m547 633 4 0-3 2-3 0zm9 0 3 3-2 3-3-2zm16-20 3 2-2-5-3-2zm0 15 3 2-2 3-4-2zm14-13 3 8-3 2-3-8zm6 4 3 5-2-2-3-6zm-31 30 3-3-2 4-3 3z"/><path class=c33 d="m544 638 3-5-2 2-3 4zm7 1 4-4-3-5-3 4zm24-9 3 3-2 3-3-3zm13-12 3 8-2-3-3-8zm90 8 3 12-2-11-4-12zm-117 33 3 8-2-11-3-8zm5-5 3-3-2-5-3 3z"/><path class=c41 d="m390 613 4-15-3 6-3 15zm151 20 3 5-3 7-3-4zm78-18 3 6-3 7-3-6zm42 15 3 7-2 10-3-7zm-151 24 3 7-2-12-3-7zm5 19 3-16-3 3-3 16z"/><path class=c36 d="m567 599 3 8-3 5-3-8zm-15 31 3 0-2 0-3 0zm124-12 3 12-2-5-3-12zm7 11 3 3-2 6-4-2zm-151 16 3-4-2 5-3 5zm127-5 3 7-3 11-3-7z"/><path class=c38 d="m567 601 4 1-3-6-3-2zm27 11 3 2-2 3-4-2zm28 9 3 8-2 6-4-7zm42 16 3 4-2 10-3-4zm11-21 3 10-3-11-3-10zm-164 57 3-14-2 12-3 13zm1-2 3-11-2 10-3 10zm23-24 3-11-2 0-3 11zm125 1 3-6-3-14-3 7z"/><path class=c37 d="m554 602 3-7-2 5-3 7zm1-2 3-3-3 8-3 3zm9 4 3-3-2-7-3 3zm63 21 3 7-2 4-3-7zm-96 22 3-9-2 7-3 9zm7 5 3-11-3-5-3 11z"/><path class=c40 d="m560 592 3 1-2 6-3-2zm-132 28 3 3-2-1-4-2zm196-3 3 8-2 4-3-8zm-107 58 3-16-2-2-3 16zm17-35 3-9-3 7-3 9zm129 2 3-3-2-14-4 3z"/><path class=c43 d="m391 604 3-14-2 10-3 14zm91 35 3-1-2 1-3 2zm55-8 3-4-3 6-3 5zm84-20 3 6-2 4-3-6zm2 1 4 5-3 0-3-6zm34 23 3-7-2-11-3 7z"/><path class=c35 d="m549 634 3-4-2 0-3 4zm4-27 3-7-2 2-3 7zm17 1 3 2-2-8-4-1zm55 21 3 7-2 7-3-8zm-29 32 3-7-3 12-3 6zm60-5 4-8-3-13-3 7z"/><path class=c31 d="m558 634 3-2-2-1-3 1zm3 3 3-2-3-3-3 2zm14-8 3-7-2-2-4 8zm62 7 3-5-2 4-4 5zm-83 11 3-5-2-7-4 4zm38 41 3-5-2-16-3 5z"/><path class=c32 d="m589 634 3-7-2-5-3 7zm47 2 3 0-2 0-3 0zm-93 6 4-8-3 4-3 7zm3 0 3-8-2 0-4 8zm75 3 3-7-2-11-3 7zm41 19 3-6-2-16-3 6zm-67 19 3 0-2-16-3 0z"/><path class=c39 d="m557 595 3-3-2 5-3 3zm5 2 3-3-2-3-4 3zm-18 41 3 7-2 7-4-7zm81-36 4-9-3 3-3 10zm4 20 3 8-2-5-3-8zm-117 54 3-16-2 7-3 16zm109-32 3-1-2 11-4 2z"/><path class=c33 d="m559 636 3-3-2 3-3 3zm10-20 3-3-2-5-3 3zm18 13 3-7-2 0-4 7zm53 2 3-8-2 4-3 8zm37-3 3 10-2-12-3-10zm-116 46 3-12-2 12-3 11z"/><path class=c48 d="m464 581 3 4-3-7-3-4zm29 47 4 7-3 7-3-7zm6 0 3 10-2 7-3-10zm135-7 3 2-2 3-3-2zm3 2 3 2-3-2-3-2z"/><path class=c30 d="m564 629 3 0-3 2-3 0zm116 9 3 10-3-10-3-10zm-220 11 3 10-2-7-3-10zm178 8 3-6-2 10-3 6zm21 14 3-7-2-16-4 8z"/><path class=c40 d="m559 594 4-3-3 1-3 3zm-134 28 3-2-3 0-3 1zm251 8 3-9-2 7-3 9zm1-2 3-11-3 10-3 11zm-182 30 3-10-2-12-3 11z"/><path class=c42 d="m607 573 4 10-3 5-3-10zm-180 45 3-2-2 4-3 2zm109 18 3-9-2 4-3 9zm79-22 4 1-3 7-3-1zm2 25 3-3-2 10-4 2zm-130 12 3-13-2-5-3 13z"/><path class=c38 d="m556 600 3-6-2 1-3 7zm66 27 3-3-2-9-3 3zm-164 22 4-14-3 3-3 14zm53 28 3-16-3 12-3 15zm44-35 3 5-2 4-4-5z"/><path class=c34 d="m547 634 3-4-3 3-3 5zm20-23 3-3-3-7-3 3zm57 27 4-3-3-11-3 3zm-84 23 3-11-2-9-3 11zm14-1 3 0-2-12-3 0zm3 0 4 4-3-12-3-4zm108-2 3-4-2-15-3 3z"/><path class=c44 d="m543 626 3 5-2 7-3-5zm6 1 3 7-3 4-3-7zm71-17 3 2-2-1-3-1zm60 7 3-12-2 10-4 12zm1-2 3-10-3 12-3 10zm-199 25 3-6-3 5-3 7z"/><path class=c46 d="m394 598 3-14-3 6-3 14zm213-33 3 7-3 1-3-7zm-122 69 3-2-3 6-3 1zm137-5 4-1-3 7-3 1zm-102 30 3-15-2-2-3 15zm16-10 3 12-3 11-3-11z"/><path class=c41 d="m427 627 3-14-2 2-3 13zm125 7 3 8-3 4-3-8zm2 0 3 8-2 0-3-8zm60-14 3-7-2 0-3 6zm6-2 3-3-3-5-3 3zm-140 32 3-13-2 6-3 14zm61-9 3-8-2-5-4 8z"/><path class=c45 d="m609 568 3 7-2-3-3-7zm-176 49 3-11-3-3-3 10zm15 5 3-6-2 3-4 7zm91 5 3-4-2 4-3 4zm2 24 3 12-2 10-3-12z"/><path class=c47 d="m606 566 3 2-2-3-3-3zm-155 50 3-2-2 3-3 2zm16 9 3-7-2 0-3 7zm17 8 3-6-2 7-3 6zm153-10 4 4-3 2-3-3zm45-13 3-11-2 6-3 12z"/><path class=c43 d="m617 613 3-3-2 0-3 3zm3 23 3-1-2 9-3 2zm59-15 3-11-2 7-3 11zm-198 22 3-10-2 7-4 11zm1 3 4-13-3 4-3 13zm32 13 4-10-3 11-3 11z"/><path class=c40 d="m610 587 3-2-2-5-3 2zm-186 37 3-6-2 4-4 6zm1 4 3-13-2 5-4 14zm5 2 3-13-3-4-3 14z"/><path class=c52 d="m577 540 3 2-2-6-3-3zm-180 40 4-6-3 9-3 7zm106 42 3 7-2-5-3-7zm20 22 3-13-2-3-3 14z"/><path class=c50 d="m461 574 3 4-2-2-3-4zm9 44 3-1-2-1-3 2zm31 6 3 10-2 4-3-10zm37 15 3 12-2 10-3-12z"/><path class=c51 d="m397 584 3-10-3 6-3 10zm288 15 4-10-3 7-3 9zm-189 22 3 7-2 7-4-7zm8 3 3 10-3 0-3-10z"/><path class=c53 d="m688 596 3-10-2 3-4 10zm-197 26 3-6-2 0-3 6zm7-5 3 7-2 4-3-7zm31 15 4 7-3 12-3-7z"/><path class=c44 d="m544 633 3-5-2-5-3 5zm-59 13 3-13-2 0-4 13zm8 1 3-11-2-9-4 11zm5 1 4-7-3-11-3 6z"/><path class=c36 d="m555 630 3 4-2-1-3-3zm64 4 3-7-2-9-4 7zm-89 17 4-11-3 7-3 11zm-20 32 3-16-2 10-4 15z"/><path class=c48 d="m396 595 3-13-2 2-3 14zm65-14 3 0-3-7-3 0zm35 55 3-6-2-9-3 6zm123-9 3 2-3 3-3-2zm66-20 3-11-3 3-3 11z"/><path class=c45 d="m608 573 4 2-3-7-3-2zm-66 55 3-5-3 0-3 4zm77 4 3-3-2 7-3 3zm-111 10 3 7-2-11-4-7z"/><path class=c46 d="m450 620 3-6-2 2-3 6zm33 17 3-11-2 7-3 10zm133-7 3 2-2 7-3-3zm-114 11 3-1-3-12-3 2z"/><path class=c42 d="m538 636 4-8-3-1-3 9zm8-5 3 7-2 7-3-7zm77-16 3 2-3-5-3-2zm-110 52 3-16-2 10-3 16z"/><path class=c37 d="m422 634 4-14-3 7-3 14zm191-2 3-7-2-5-3 7zm-64 21 3-5-3-11-3 4zm70 8 3-4-3-14-3 4z"/><path class=c49 d="m486 633 3-11-3 4-3 11zm2 0 3-11-2 0-3 11zm17-2 4 7-3-9-3-7zm110-7 4 3-3 3-3-4zm-67 20 4 12-3-2-3-12z"/><path class=c38 d="m533 647 3-11-2 4-4 11zm10 3 3-9-2-8-3 8zm9-2 3 0-2-11-4 0zm-10 35 3-6-3-16-3 6z"/><path class=c56 d="m410 574 3-2-2-6-3 1zm289 14 3-2-2-7-3 3zm-177 39 4-6-3 10-3 6z"/><path class=c25 d="m599 594 3-10-2 10-3 10zm-39 22 3-5-2-11-4 4zm76 51 4-3-3 2-3 3z"/><path class=c23 d="m632 674 4-7-3 7-3 7zm55 7 3-5-2-16-3 5z"/><path class=c27 d="m574 657 3-3-3 2-3 2zm110-9 4 10-3-3-3-10zm-214 37 3-15-3 1-3 15zm160 3 3 4-2-16-4-4z"/><path class=c31 d="m560 636 3-1-2 2-3 1zm2-24 3 8-3 6-3-7zm11 37 3 2-2 6-4-2zm-10 41 3 2-3-10-3-3z"/><path class=c28 d="m601 588 4-11-3 7-3 10zm-38 42 3-7-2-5-4 7zm-100 26 3 10-3-7-3-10zm107-1 4 2-3 1-3-2zm65 10 3-8-2 10-4 7z"/><path class=c30 d="m566 632 3 0-2-3-3 0zm2 31 4-3-3-9-3 3zm113-22 3 7-2-3-3-7zm7 19 3-8-2-14-3 9z"/><path class=c32 d="m561 626 3 3-3 2-3-3zm78 10 3-4-2-1-3 5zm-82 6 3 0-2-7-3 0zm3 0 3 4-2-8-3-3z"/><path class=c34 d="m555 605 4 1-3 7-3-2zm9-1 3 8-2 8-3-8zm-34 54 3-11-3 4-3 11zm16 3 3-8-3-12-3 9z"/><path class=c43 d="m602 572 3 6-2 8-3-7zm-176 45 3-6-2 7-3 6zm88 44 3-13-3 11-3 14zm11-6 3 7-3 10-3-7zm22 1 3 10-2 7-4-10z"/><path class=c31 d="m565 630 3 4-2-2-3-4zm1-7 3-7-2-5-3 7zm2 9 3 4-3-2-3-4zm111 6 3 7-2-7-4-7zm-219 31 3-16-2-4-3 15z"/><path class=c48 d="m453 614 4-2-3 2-3 2zm64 34 3-11-2 12-4 10zm10-4 3 7-2 11-3-7zm17 0 3 12-3 7-3-12z"/><path class=c45 d="m604 566 3 7-2 5-3-6zm-151 57 3-6-3-3-3 6zm62 37 3-15-2 6-3 16zm15-9 3 10-2 11-3-10zm19 3 3 10-2 2-3-10z"/><path class=c50 d="m458 574 3 0-2-2-3 0zm75 65 3 10-3 12-3-10zm-7 12 3-14-3-6-3 13zm20-9 3 12-2 2-3-12z"/><path class=c39 d="m423 627 3-10-2 7-3 10zm193-2 4-7-3-5-3 7zm-155 24 3-14-2 0-4 14zm90 29 3 7-2-16-3-7z"/><path class=c40 d="m677 627 4-12-3 12-3 11zm-152 50 3-16-2-10-3 15zm11 0 3-10-2-16-3 11zm9 0 3-2-3-16-3 2z"/><path class=c33 d="m552 615 4-4-3-4-3 5zm5 9 4 2-3 2-3-3zm2-18 3 6-3 7-3-6zm-101 58 3-15-3 0-3 15z"/><path class=c32 d="m559 631 3-3-2-2-3 3zm4-3 3 4-2-3-3-3zm4 5 3 2-2-3-3-2zm111 5 3 3-2-3-3-2z"/><path class=c32 d="m561 632 4-2-3-2-3 3zm1-4 3 2-2-2-3-2zm3 2 3 2-3-2-3-2zm112 8 3-2-2 2-3 2z"/><path class=c33 d="m554 626 3-2-2 1-3 3zm6 0 3 2-2-2-4-2zm9 5 4 2-3 2-3-2zm111 5 4 2-3 3-3-3z"/><path class=c44 d="m605 575 3-2-2-7-3 2zm33 54 3 1-2 6-3 0zm3 1 3-5-2 7-3 4zm-118 36 3-15-3-7-3 15z"/><path class=c42 d="m602 581 3-6-2-7-3 6zm6 1 3-2-3-7-3 2zm-182 38 3-10-3 7-3 10zm126 49 3 10-2-16-4-10z"/><path class=c46 d="m603 568 3-2-2-4-4 3zm-174 42 3-7-3 8-3 6zm89 47 3-15-3 3-3 15zm10 4 3-13-2-11-3 14z"/><path class=c24 d="m587 635 3 4-2 0-3-4zm44 13 3-12-2-3-3 11zm59 28 4-9-3-15-3 8z"/><path class=c32 d="m553 630 4-1-3-3-3 2zm4-1 3-3-3-2-3 2zm13 7 3-1-2-5-3 2zm58 0 3 4-2 7-3-4zm6 0 3 0-3 4-3 0z"/><path class=c29 d="m582 617 3-5-3 1-3 5zm-6 34 3-2-2 5-3 3zm55-11 3 0-2 7-3 0zm7 6 3 4-3-9-3-4zm47 19 3-5-2-13-4 4z"/><path class=c30 d="m560 625 4-7-3-8-3 8zm26 13 3-4-2-5-3 5zm-13 6 3-2-3-7-3 1zm65-3 4 0-3-5-3 0zm35 7 4-10-3 7-3 9z"/><path class=c36 d="m561 599 3 5-2 8-3-6zm8 39 3 1-2 7-3 0zm3 1 3 3-2 7-3-3zm11-29 3 5-3 2-3-5zm2 2 3 6-2-3-3-5zm-16 49 3 0-3 9-3 0z"/><path class=c34 d="m630 632 4 4-3 4-3-4zm3 0 3 4-2 0-4-4zm-64 19 3-7-2-5-3 7zm6-9 3 2-2 7-3-2zm107 9 4-4-3-11-3 5zm-160 42 3-16-2-11-4 16z"/><path class=c35 d="m632 630 3 7-2-5-3-7zm-66 35 3-4-3 9-3 5zm74-19 4-7-3 12-3 6zm46 1 3-9-3-11-3 9zm-153 44 3-14-2-15-4 13z"/><path class=c26 d="m600 596 3-2-2-2-3 2zm-135 65 3 10-2-5-3-10zm164-14 3 0-2 7-4 0zm7 20 3-6-3 6-3 7z"/><path class=c24 d="m626 667 3-7-2-10-3 7z"/><path class=c27 d="m598 594 3-2-3 2-3 2zm3-2 3-7-3 3-3 6zm-27 79 3-6-2-12-3 7zm55-11 3-3-2-10-3 3zm3-3 3 2-2-10-3-2zm-167 26 3-15-2-7-4 15z"/><path class=c25 d="m598 603 4 7-3-10-3-7zm0 2 3 10-3-12-3-10zm35 87 3 2-2-16-3-2z"/><path class=c31 d="m555 622 3-4-2-7-4 4zm9 13 3-2-2-3-4 2zm8 25 3-7-3-9-3 7zm58-13 3 2-2-12-3-2zm4 11 3-5-2 12-3 4z"/><path class=c33 d="m562 633 4-1-3 3-3 1zm4-1 3-2-3 3-3 2zm111 6 3-6-3 6-3 7zm-49 16 3 3-2 12-4-3zm9-1 3-7-2 11-3 8zm-74 29 4-3-3-6-3 2z"/><path class=c32 d="m563 635 3-2-2 2-3 2zm1-17 3-7-3-7-3 6zm2 15 3-2-2 2-3 2zm69 4 3 4-2-5-3-4zm0 2 3 7-3-9-3-7zm-4 18 3 1-2 11-3 0z"/><path class=c40 d="m600 579 3 7-3 7-3-7zm5-1 3 10-2 8-3-10zm38 56 3-6-2 11-4 7zm32-2 3-5-2 3-3 5zm-107 22 3-5-2 12-3 4z"/><path class=c37 d="m558 597 3 2-2 7-4-1zm24 14 3 1-2-2-4-2zm48 14 3 7-3 0-3-7zm49 3 3-6-2 10-3 6zm-114 35 3-9-2 11-4 9zm79-9 3 3-2-14-4-2z"/><path class=c36 d="m603 586 3 10-3 7-3-10zm-19 27 3 1-2-2-3-1zm3 1 3 2-3-2-3-1zm44 17 4 8-3-9-3-8zm-59 30 3 4-2 10-4-5z"/><path class=c34 d="m556 611 3-7-3-4-3 7zm13 19 3-2-3 3-3 2zm17-10 3-3-2-3-3 4zm45 17 3 5-3-11-3-6zm-64 42 3-6-3-7-3 7zm8-14 3 7-2 10-3-7z"/><path class=c32 d="m558 618 3-8-2-6-3 7zm9 20 3-2-2-4-3 1zm-3 2 3-2-2-5-3 3zm70 2 3 8-2-11-4-8zm-62 42 3-10-2-11-3 10z"/><path class=c38 d="m599 591 3-10-2-7-3 10zm8 3 3-7-2-5-4 7zm-39 42 3-5-2 7-3 5zm72 6 3-8-3 12-3 7zm-121 40 4-16-3-7-3 16z"/><path class=c35 d="m561 610 3-6-2-7-3 7zm28 7 3 2-2-3-3-2zm91 15 3-3-3 7-3 2zm-115 11 3-7-2 7-3 7zm60 9 3 2-3 12-3-3z"/><path class=c41 d="m639 636 3-4-2 10-3 4zm-109 39 4-13-3-14-3 13zm16-34 3-4-2-9-3 5zm2 34 3 3-2-16-4-3z"/><path class=c54 d="m575 533 3 3-3-3-3-2zm-74 84 3 7-3 0-3-7zm34 12 3 10-2 10-3-10zm10 3 3 12-2-2-3-12z"/><path class=c51 d="m574 542 3-2-2-7-3 2zm-80 85 3-6-3-5-3 6zm8 1 3 3-2-9-3-3zm29 20 3-11-2-10-3 10z"/><path class=c37 d="m559 604 3-7-3-3-3 6zm8 35 4-7-3 4-3 7zm24-24 3-3-3 3-3 3zm89 26 3-5-2-7-3 5z"/><path class=c30 d="m627 650 3-3-2-12-4 3zm6-1 3 5-2-12-3-5zm1 29 3-2-3-16-3 2zm39-28 3-12-3 10-3 11z"/><path class=c39 d="m604 589 4-7-3-7-3 6zm74 38 3-10-2 11-3 10zm5 9 3-9-2-6-3 8zm-59 7 3-3-2 12-3 2z"/><path class=c26 d="m597 604 3 12-2-11-3-12zm2-4 3 3-2-7-3-3zm-132 86 3-15-2-3-3 15z"/><path class=c27 d="m599 606 3 12-3-5-3-12zm2 1 3 11-2 0-3-12zm68 51 3-9-2 12-4 8zm-94 39 3-9-3-14-3 10z"/><path class=c26 d="m597 626 4-11-3-5-3 11zm3 0 3-11-2 0-4 11zm64 54 4-6-3-16-3 6z"/><path class=c28 d="m597 593 3 3-2-2-4-3zm5 30 3-11-2 3-3 11zm-14 23 4-5-3-7-3 4zm51 15 3-3-2 6-4 3zm29 13 3-4-3-16-3 4z"/><path class=c31 d="m603 615 3-12-2 0-3 12zm-18 31 4-2-3 5-3 2zm4-2 3 2-3 5-3-2zm32 33 3-5-2-15-3 4zm10-1 3 2-3-16-3-2zm12-4 3-2-2-16-3 3zm29-23 3-11-2 12-3 11z"/><path class=c34 d="m565 633 3-1-2 0-4 1zm3-1 3-2-2 0-3 2zm20 7 3-3-2 8-4 2zm88-1 3-10-2 10-4 10zm-112 11 3-3-3 0-3 3zm21-9 3-1-3 7-3 1zm86 16 4 6-3-16-3-6z"/><path class=c29 d="m596 593 3 7-2-7-3-7zm-18 24 4 0-3 1-3 0zm27 4 3-11-3 2-3 11zm-143 55 4-15-3-8-3 16zm115-11 3-7-2-12-3 7zm94 5 3 2-3-16-3-2z"/><path class=c35 d="m591 636 3 2-2 8-3-2zm9-17 3 8-2 3-3-8zm3 0 3 8-3 0-3-8zm72 19 3-11-2 11-3 12zm-115 10 4 1-3 0-3-2zm7-2 3-7-3 0-3 7zm101 8 3 2-2-16-3-1z"/><path class=c36 d="m588 618 3-3-2 2-3 3zm3-3 4 2-3 2-3-2zm4 2 3 5-3 2-3-5zm42 29 3-4-3 11-3 5zm39 1 3 4-2-10-3-5z"/><path class=c34 d="m592 627 4-7-3-5-3 7zm12-1 3 6-2-8-3-5zm1-2 3 8-2-5-3-8zm-42 28 3 2-2-5-4-1zm27-5 4-2-3-9-3 3zm85 7 4 7-3-14-3-7z"/><path class=c33 d="m600 593 3 10-2 4-3-10zm-38 43 3-3-3 0-3 3zm36-14 3 8-2 2-4-8zm-36 34 3 5-2-9-3-5zm62 16 3 0-2-15-3 0z"/><path class=c32 d="m595 634 3-7-2-7-4 7zm5 0 3-3-2-7-3 3zm3-3 4 2-3-7-3-2zm-16 22 3 4-3-12-3-3zm40 19 4 4-3-16-3-3zm48-10 3 7-3-15-3-8z"/><path class=c38 d="m599 614 4 5-3 0-3-5zm-42 28 3 6-2-1-3-5zm6 22 3-12-2 10-3 12zm1-2 3-11-2 12-3 11zm66-19 3 3-2 11-3-3zm47-2 3 0-2-7-4 0z"/><path class=c39 d="m590 629 3-1-3 4-3 1zm3-1 3-3-3 4-3 3zm3-16 3 2-2 0-3-2zm5 16 4 3-3 0-3-4zm77 6 3-5-3-2-3 5zm-101 19 4 8-3 11-3-7z"/><path class=c37 d="m590 632 3-3-2 7-3 3zm7-18 3 5-2 3-3-5zm2 3 3 2-3-5-3-2zm3 14 3 0-2 4-3 0zm31 15 4 0-3 12-3-1zm39 0 3 8-2-14-3-8z"/><path class=c36 d="m596 620 3-3-3-5-3 3zm6-1 3 5-2-5-4-5zm-44 33 3 7-2-11-3-7zm2-5 3 5-3-4-3-6zm4 26 3-7-2-2-3 7zm77-16 3-3-3-13-3 2z"/><path class=c31 d="m594 586 3 7-3-2-3-7zm13 47 3 5-3-6-3-6zm-17 24 3 2-3-12-3-2zm-12 31 3-12-3-14-3 12z"/><path class=c30 d="m595 593 3 10-2-10-3-10zm-2 66 3-3-2-11-4 2zm44 17 3-2-2-16-4 2zm3-2 3-2-2-15-3 1z"/><path class=c42 d="m642 632 3-7-2 9-3 8zm-76 20 4-11-3 10-3 11zm1-1 3-9-2 12-3 9zm22-4 3 5-3 10-3-5zm5-1 3 1-2 7-3-2z"/><path class=c41 d="m636 636 3 0-2 10-4 0zm42-9 4-8-3 2-3 9zm3 2 3-8-2-2-4 8zm-115 28 3-11-3 6-3 12zm31-10 3-3-2 7-3 3zm48-4 3 3-3-11-3-3z"/><path class=c45 d="m428 615 3-11-2 6-3 10zm216 12 3-5-3 3-3 5zm2 2 3-5-2-2-3 5zm-97 33 3 7-3-16-3-7z"/><path class=c35 d="m590 622 3-7-2 0-3 7zm11 2 3 2-2-7-3-2zm-42 49 4-6-3 7-3 6zm72-11 3-2-2-14-3 3z"/><path class=c34 d="m558 634 4 2-3 0-3-3zm40-7 3-3-2-7-3 3zm5 8 3-4-2 6-4 5zm1-32 3-9-3-5-3 10z"/><path class=c40 d="m598 626 3 2-2-1-3-2zm29-9 3 8-3 0-3-8zm47 17 4 0-3-2-3 0zm-47 6 3 3-2 11-3-2z"/><path class=c38 d="m593 615 3-3-2 0-3 3zm35 10 3 6-2-9-3-5zm-73 23 3 4-2-11-3-4zm40 6 3-3-2 10-4 3z"/><path class=c36 d="m597 586 3 7-2 4-3-7zm9 45 3-8-2 7-3 7zm22 29 3 2-2-13-3-3zm10-2 3-1-3-14-3 2z"/><path class=c57 d="m414 568 3 8-2-3-3-7zm112 63 4-11-3-2-3 10zm11-9 4 11-3 6-3-10z"/><path class=c55 d="m400 574 3-7-2 7-4 6zm129 63 3-10-2-7-4 11zm14-7 3 12-2 2-3-11z"/><path class=c53 d="m572 535 3-2-3-2-3 2zm-173 47 3-11-2 3-3 10zm98 39 3-2-3-5-3 2zm44 12 3 11-3 7-3-12z"/><path class=c46 d="m635 626 3 3-2 7-3-3zm6 1 3 0-3 3-3-1zm-107 35 3-11-3-14-3 11zm8-1 3-2-2-16-3 2zm3-2 4 3-3-16-3-3z"/><path class=c56 d="m402 571 3-6-2 2-3 7zm11 1 3 3-2-7-3-2zm109 59 3-10-3 6-3 11z"/><path class=c59 d="m405 565 4-2-3 2-3 2zm120 56 3-7-2 7-4 6zm15-1 3 10-2 3-4-11zm2 2 3 10-2-2-3-10z"/><path class=c58 d="m408 567 3-1-2-3-4 2zm3-1 3 2-2-2-3-3zm283 14 3-3-2 3-3 2z"/><path class=c47 d="m456 617 3-2-2-3-4 2zm34 21 4-11-3-5-3 11zm15 2 3 2-3-11-3-3z"/><path class=c52 d="m521 642 3-14-2 3-4 14zm19 3 3-2-2-14-3 2zm3-2 3 3-2-14-3-3z"/><path class=c43 d="m623 635 3-2-2 10-3 1zm10-2 3 3-3 10-3-3zm12 2 4 1-3-7-3 0z"/><path class=c39 d="m625 624 3 1-2-8-3-2zm-60 40 3-10-2 3-3 10zm27-12 3 2-3 10-3-2zm30 5 3 0-2-14-4 0z"/><path class=c44 d="m682 619 3-12-3 3-3 11zm-143 48 3-6-2-16-3 6zm80-24 4 0-3-11-3 0z"/><path class=c28 d="m579 623 3 7-2-7-3-7zm2-3 3 0-2-3-4 0zm93 52 3 6-2-16-4-6z"/><path class=c28 d="m580 623 3 4-2-7-3-4z"/><path class=c37 d="m559 648 3 8-2-9-3-8zm4 19 3-10-3 7-3 10zm27 5 3-5-3-15-3 4z"/><path class=c36 d="m601 599 3-10-2-8-3 10zm4 32 3-4-2 4-3 4zm-46 42 3-2-3 2-3 3zm75-13 4-2-3-13-3 1z"/><path class=c33 d="m593 583 3 10-2-7-4-10zm-32 55 3 2-2-4-4-2zm48 7 3 0-2-9-3 0zm-50 42 3 10-2-14-4-10z"/><path class=c35 d="m590 576 4 10-3-2-3-10zm-35 59 3 0-3-5-3 0zm25-23 3 5-2 3-3-5zm48 23 3 2-3-12-3-1zm-68 44 3 3-2-7-3-3z"/><path class=c38 d="m608 627 4-8-3 4-3 8zm-52 48 3 12-3-14-3-12zm37-8 3 0-3-15-3 0zm32-10 3 3-2-14-3-3z"/><path class=c48 d="m628 625 3-1-2 2-3 2zm3-1 3-3-2 3-3 2zm-115 27 3-13-2 10-3 13z"/><path class=c32 d="m583 617 3 8-2 3-3-8zm22 19 3-3-2 2-3 3zm3-3 3 2-2 1-3-1z"/><path class=c35 d="m592 581 3 12-2-10-3-12zm-11 35 3-3-2-2-3 3zm3 2 3-4-3-1-3 3zm4 4 3-7-3 3-3 7zm19 8 3-6-2 7-4 7z"/><path class=c41 d="m626 617 3 5-2-5-4-5zm9 28 3-2-2-11-3 2zm3-2 3-2-2-11-3 2z"/><path class=c30 d="m595 593 3 12-3-12-3-12zm-17 23 3 4-3-3-3-4zm1 4 3 8-3-5-3-8z"/><path class=c31 d="m594 592 3 12-2-11-4-12zm-17 24 3 7-2-7-4-7zm4 4 3 8-2 0-3-8z"/><path class=c33 d="m574 609 4 7-3-3-3-8zm10 20 4-7-3 3-3 7zm1-4 3-7-2 2-3 7zm19 12 3-7-3 8-3 7z"/><path class=c37 d="m605 631 3 0-3 0-3 0zm3 0 3-4-3 0-3 4zm-50 41 3 3-2-2-3-3zm4-1 3-7-2 3-4 6z"/><path class=c38 d="m590 571 3 12-3-7-3-12zm21 56 3-7-2-1-4 8zm-55 46 4 10-3-11-3-10zm1-1 3 7-2-7-3-6z"/><path class=c42 d="m671 630 3 4-2-2-3-4zm-117 32 3 10-2-6-3-10zm87-21 4 2-3-11-3-2z"/><path class=c43 d="m553 632 4 7-3-5-3-7zm61 4 3 3-3 9-3-2zm12-3 3-2-2 9-3 3zm-73 28 3 12-2-11-3-12z"/><path class=c50 d="m499 630 3-2-2-9-3 2zm113-7 3 1-2 2-3 0zm-75 28 3-6-2-14-4 6z"/><path class=c32 d="m576 615 3 8-2-7-3-8zm7 12 3-7-2-2-4 6zm21 11 4-7-3 5-3 7z"/><path class=c31 d="m595 596 4 10-3-5-3-10zm3 1 3 10-2-1-4-10zm-16 35 3-7-2 2-3 7zm20 21 3-2-2-12-3 3zm3-2 4 2-3-11-3-3z"/><path class=c34 d="m558 635 3 3-3-4-3-4zm16-27 3 8-3-7-3-8zm34 23 3-3-3 5-3 3zm-48 52 3 7-3-11-3-7z"/><path class=c40 d="m589 569 3 12-2-10-3-12zm-32 70 3 8-3-5-3-8zm117-3 3 5-3-7-3-4zm-72 11 3-4-2 11-4 5z"/><path class=c36 d="m591 582 3 10-3-11-3-10zm16 54 3 0-2-5-3 0zm-46 39 3-2-2-2-3 2z"/><path class=c30 d="m577 631 3-7-2-2-3 7zm3 3 3-7-3-3-3 7zm21-19 3-12-3-4-3 11z"/><path class=c34 d="m573 610 3 5-2-7-3-6zm4 20 4 3-3 0-3-3zm29 12 3 3-2-9-3-3z"/><path class=c41 d="m579 628 3 3-2 0-3-3zm26 15 3 0-2 11-3 0zm3 0 3 3-2 12-3-4zm18 3 3 3-3-11-3-2z"/><path class=c37 d="m571 602 3 6-3-7-3-5zm33 31 3 3-2-5-4-3zm-5 21 3-7-3 12-3 7zm5 9 3 1-3-11-3-1z"/><path class=c39 d="m588 576 3 6-3-11-3-7zm10 75 3-7-2 10-3 7zm75-11 3 7-2-11-3-7z"/><path class=c43 d="m587 559 3 12-3-7-3-12zm84 70 3 7-3-6-3-7zm-48 14 3 3-3-10-3-4z"/><path class=c40 d="m588 571 3 10-2-12-3-10zm-32 70 3 7-2-9-4-7zm48 12 4-3-3-6-3 3z"/><path class=c47 d="m625 627 3-2-2 3-4 1zm7-3 3 2-2 7-4-2zm-81 26 3 12-2-6-4-12z"/><path class=c44 d="m586 559 3 10-2-10-4-10zm-35 68 3 7-2 0-3-7zm78 4 4 2-3 10-3-3z"/><path class=c45 d="m547 628 3 0-2-5-3 0zm3 0 3 4-2-5-3-4zm86 4 3-2-2-7-3 3zm7-3 3 0-2-2-3 0z"/><path class=c42 d="m549 637 4 0-3-9-3 0zm4 0 3 4-3-9-3-4zm117-5 3 8-2-11-4-8zm-54 15 3-4-2-11-3 5z"/><path class=c35 d="m591 581 4 12-3-12-3-12zm-17 47 3 2-2 0-3-2zm36 8 3-4-2-5-3 4z"/><path class=c33 d="m593 591 3 10-2-9-3-10zm-20 44 4-2-3-5-3 2zm2-20 4 5-3-5-3-5z"/><path class=c36 d="m576 611 3-3-2 2-3 3zm1-1 3 2-2 3-3-2zm22 62 3 7-2-16-3-7zm8-8 3-3-2-11-4 3z"/><path class=c48 d="m610 626 3 0-2 7-4 0zm3 0 3 4-2 6-3-3zm-63 23 3 12-2-11-3-11z"/><path class=c34 d="m592 590 3 6-2-5-3-6zm-21 40 3-2-2 0-3 2zm4-17 3 2-3 0-3-2z"/><path class=c61 d="m527 618 3-6-2 2-3 7zm7-3 3 7-2 7-3-7z"/><path class=c57 d="m524 628 3-10-2 3-3 10zm14 3 3-2-3-10-3 1zm3-2 3 3-3-10-3-3z"/><path class=c58 d="m697 582 3-3-3-2-3 3zm-165 45 3-7-2-6-3 6z"/><path class=c63 d="m530 612 3-2-2 3-3 1zm3-2 4 3-3 2-3-2z"/><path class=c49 d="m431 604 3-6-2 5-3 7zm187 22 3 3-2-2-4-3z"/><path class=c46 d="m430 613 3-10-2 1-3 11zm196 15 3-2-3 7-3 2zm3-2 3-2-3 7-3 2z"/><path class=c47 d="m622 629 3-2-3 2-3 3zm5 0 3-2-2-2-3 2zm3-2 4-1-3-2-3 1zm4-1 3-3-3-2-3 3zm6-1 3 4-2-2-4-4z"/><path class=c45 d="m611 633 3 3-3 10-3-3zm12 3 3 2-2-7-3-2zm7-1 3-1-3-7-3 2zm3-1 3-2-2-6-4 1zm9-2 3 3-2-6-3-4z"/><path class=c47 d="m617 632 3 0-2-6-3-1zm3 0 3 4-2-7-3-3zm1-3 3 2-2-2-3-2z"/><path class=c46 d="m614 637 3-5-2-7-4 5zm10-6 3-2-2-2-3 2zm15-1 3 2-2-7-3-2z"/><path class=c54 d="m500 619 3 3-2-5-4-3zm86 1 3 5-2-2-3-5z"/><path class=c56 d="m405 574 3-7-3-2-3 6zm288 14 4-6-3-2-3 6z"/><path class=c33 d="m571 616 4-3-3 0-3 3zm7-1 3 5-2 0-4-5z"/><path class=c33 d="m571 620 3-7-3 3-3 7zm5 0 3-6-3-3-3 7zm2 2 3-6-2-2-3 6zm2 2 4-6-3-2-3 6z"/><path class=c55 d="m534 637 4-6-3-11-3 7zm47-19 3 0-3 3-3 0zm3 0 3 5-2 2-4-4z"/><path class=c55 d="m583 620 3 0-2-2-3 0z"/><path class=c38 d="m594 583 3 3-2 4-3-3zm2 84 3 5-2-16-4-4z"/><path class=c40 d="m613 654 3-7-2-10-3 7zm16-5 3-3-2-11-4 3z"/><path class=c50 d="m433 603 4-6-3 1-3 6zm182 22 3 1-3-2-3-1z"/><path class=c63 d="m536 612 3 3-2-2-4-3z"/><path class=c61 d="m530 620 3-6-3-2-3 6zm5 0 3-1-2-7-3 2zm3-1 3 3-2-7-3-3z"/><path class=c63 d="m533 614 3-2-3-2-3 2z"/><path class=c29 d="m597 641 3-7-2-7-3 7z"/><path class=c37 d="m597 631 3 4-3 7-3-4zm13 30 3-7-2-10-3 6z"/><path class=c51 d="m546 646 3 7-2-14-3-7z"/><path class=c32 d="m578 633 3 0-2 4-3-1z"/><path class=c32 d="m581 633 3 1-3-1-3 0z"/><path class=c30 d="m583 638 3 0-2-4-3-1zm-7 4 3-2-2-7-4 2z"/><path class=c39 d="m571 631 4 1-3 7-3-1zm15 0 4-2-3 4-3 2zm13-4 3 4-2 4-3-4z"/><path class=c35 d="m574 613 3-3-2 3-4 3zm29 26 3 3-2-9-3-2zm-3 3 3-3-2-8-4 2z"/><path class=c41 d="m601 644 3-7-2 10-3 7zm31 2 3-1-2-11-3 1z"/><path class=c38 d="m570 639 3-7-2 0-4 7zm23-10 4 2-3 7-3-2zm7 34 3 8-2-14-4-8z"/><path class=c34 d="m595 590 3 7-3-1-3-6zm-22 28 3-7-2 2-3 7zm21 27 3-2-3-8-3 1z"/><path class=c32 d="m580 635 3 3-2-5-4-3zm18-25 3-11-2-8-3 12z"/><path class=c36 d="m590 585 3 6-2-9-3-6zm-11 29 3-3-3-3-3 3z"/><path class=c44 d="m604 637 3-4-2 10-3 4zm22 1 4-3-3-6-3 2z"/><path class=c40 d="m593 579 3-3-2 7-3 2zm3 46 3 2-2 4-4-2z"/><path class=c39 d="m589 631 3-1-2-1-4 2zm3-1 3-2-2 0-3 1zm3-2 3-2-2-1-3 3zm6 3 3 2-3-5-3-2z"/><path class=c38 d="m583 633 3-2-2 4-3 2zm11 2 3-2-2-5-3 2zm3-2 4-2-3-5-3 2z"/><path class=c37 d="m584 635 3-2-2 7-3 2zm3-2 3-1-2 7-3 1z"/><path class=c37 d="m588 639 3-3-2-5-3 3zm3-3 3-1-2-5-3 1z"/><path class=c52 d="m548 639 3 11-3-6-3-12zm41-14 4 7-3-2-3-7z"/><path class=c48 d="m611 630 4-5-3-2-3 5zm-62 23 4 10-3-14-3-10z"/><path class=c35 d="m587 645 3 2-2-8-3-3zm10-2 3-1-3-9-3 2z"/><path class=c45 d="m607 633 4 0-3 10-3 0zm-16 7 3 6-2 6-3-5z"/><path class=c43 d="m553 663 3 12-3-14-3-12zm52-19 3-7-2-2-3 7zm6 0 3-7-3-7-3 7z"/><path class=c41 d="m592 578 4-7-3 8-3 6zm5 6 3-10-3-3-3 10zm11 66 3-6-3-7-3 7z"/><path class=c46 d="m593 637 3 6-2 3-3-6zm15 0 3-7-2-2-3 7z"/><path class=c36 d="m592 587 3 3-3 0-3-3z"/><path class=c34 d="m596 603 3-12-2-7-4 12z"/><path class=c31 d="m579 640 3 2-2-7-3-2z"/><path class=c33 d="m577 633 3 2-3-5-3-2z"/><path class=c39 d="m575 632 3 3-3 7-3-3zm5-1 3 2-2 4-3-2z"/><path class=c36 d="m581 637 3-2-2 7-4 2zm-9 7 3-7-2-5-3 7z"/><path class=c31 d="m580 658 3-5-2-11-3 4z"/><path class=c37 d="m578 635 3 2-3 7-3-2zm6 7 3 3-2-9-3-3z"/><path class=c41 d="m574 627 3 1-2 4-4-1zm3 1 3 3-2 4-3-3z"/><path class=c42 d="m576 628 3 0-2 0-3-1zm24 16 4-6-3 6-3 7z"/><path class=c40 d="m571 632 3-5-3 4-3 5zm2 0 3-4-2-1-3 5zm28 25 3 6-3-11-3-6z"/><path class=c35 d="m588 589 4-2-3 0-3 2zm-10 57 3-4-2-9-4 4z"/><path class=c33 d="m575 653 3-7-3-9-3 7zm8 0 4 0-3-11-3 0z"/><path class=c46 d="m574 638 3 0-3 11-3 0zm3 0 3 4-3 11-3-4zm-7 3 3-8-3 9-3 9z"/><path class=c45 d="m585 639 4 8-3 10-3-8zm-16 7 3-12-2 7-4 11zm1-4 4-4-3 11-3 5z"/><path class=c41 d="m571 649 3 0-2 12-3 0zm3 0 3 4-2 12-3-4zm9 0 3 8-2 11-3-7z"/><path class=c33 d="m586 681 4-9-3-16-3 9z"/><path class=c29 d="m583 692 3-11-2-16-3 11z"/><path class=c42 d="m568 654 3-11-2 3-3 11zm3 2 3-11-3-2-3 11zm31-9 3-3-2-2-3 3z"/><path class=c38 d="m586 634 3-3-3 0-3 2zm-19 32 4-10-3-2-3 10z"/><path class=c53 d="m547 639 3 10-2-10-3-10zm40-16 3 7-2 2-3-7z"/><path class=c39 d="m575 637 4-4-3-5-3 4zm7-6 4 3-3-1-3-2z"/><path class=c40 d="m579 633 3 0-3-5-3 0zm3 0 3 3-3-5-3-3zm-9 30 3-11-2-7-3 11z"/><path class=c44 d="m604 638 3-8-3 7-3 7zm-24 4 3 7-2 12-4-8z"/><path class=c39 d="m584 665 3-9-2-13-3 8z"/><path class=c35 d="m588 592 3-7-3 4-3 7zm-7 84 3-11-2-14-4 11z"/><path class=c37 d="m591 585 3-2-2 4-4 2zm-10 57 3 0-2-9-3 0z"/><path class=c38 d="m589 588 3-10-2 7-3 10zm1-3 3-6-2 6-3 7zm-5 51 3 3-2-5-4-3z"/><path class=c36 d="m589 594 3-12-3 6-3 11zm4 2 4-12-3-3-3 11zm-23 77 3-10-2-7-4 10zm5 1 3-12-2-10-3 11z"/><path class=c37 d="m591 592 3-11-2 1-3 12z"/><path class=c34 d="m586 599 3-11-2 7-3 11z"/><path class=c35 d="m587 595 3-10-2 7-3 10z"/><path class=c50 d="m579 628 3 4-2 10-3-4zm11 2 3 7-2 3-3-8z"/><path class=c40 d="m592 582 3-10-3 6-3 10zm-14 80 4-11-3-11-3 12z"/><path class=c53 d="m581 621 4 4-3 7-3-4zm5 6 3 0-3-7-3 0z"/><path class=c44 d="m595 572 3-6-2 5-4 7zm8 70 3-7-2 3-4 6z"/><path class=c45 d="m597 571 3-6-2 1-3 6z"/><path class=c49 d="m572 634 3-8-2 7-3 8zm1-1 3-5-2 10-4 4z"/><path class=c51 d="m576 628 3 0-2 10-3 0zm9-3 3 7-3 7-3-7z"/><path class=c48 d="m582 632 3 7-2 10-3-7zm6 0 3 8-2 7-4-8zm-9 8 3-8-2-7-3 9z"/><path class=c42 d="m587 656 3-4-2-14-3 5z"/><path class=c47 d="m607 630 3-4-3 7-3 4zm-36 13 3-11-2 2-3 12zm14 0 3-5-2-11-4 5z"/><path class=c48 d="m609 628 3-5-2 3-3 4z"/><path class=c44 d="m576 652 3-12-2-6-3 11zm6-1 3-8-3-11-3 8zm8 1 3 0-2-14-3 0z"/><path class=c46 d="m606 635 3-7-2 2-3 8zm-32 10 3-11-3-2-3 11z"/><path class=c54 d="m578 621 3 0-2 7-3 0z"/><path class=c53 d="m580 625 3-5-2-2-3 5z"/><path class=c56 d="m545 629 3 10-3-7-3-10z"/><path class=c56 d="m544 632 3 7-2-10-4-7z"/><path class=c59 d="m541 622 4 7-3-7-3-7z"/><path class=c52 d="m575 626 3-5-2 7-3 5z"/><path class=c51 d="m574 632 4-9-3 3-3 8zm8 0 4-5-3-7-3 5z"/><path class=c54 d="m578 623 3-5-3 3-3 5z"/><path class=c43 d="m600 645 3-3-3 2-3 3z"/><path class=c41 d="m594 581 3-10-2 1-3 10z"/><path class=c49 d="m588 638 3 0-2-11-3 0z"/><path class=c50 d="m577 634 3-9-2-2-4 9z"/><path class=c44 d="m596 643 4 2-3 2-3-1z"/><path class=c41 d="m597 656 3 7-3-14-3-7zm4-4 3 1-2-6-3-2z"/><path class=c43 d="m593 652 4 4-3-14-3-4zm6-7 3 2-2-2-4-2z"/><path class=c46 d="m596 640 3 5-3-2-3-6z"/><path class=c44 d="m598 646 3 6-2-7-3-5z"/><path class=c43 d="m597 649 4 8-3-11-3-8z"/><path class=c47 d="m595 638 3 8-2-6-3-8z"/><path class=c49 d="m593 632 3 8-3-3-3-7z"/><path class=c46 d="m594 642 3 7-2-11-3-7z"/><path class=c50 d="m592 631 3 7-2-6-4-7z"/><path class=c49 d="m591 638 3 4-2-11-3-4z"/><path class=c52 d="m589 627 3 4-3-6-3-5z"/></g><text x="276.2" y="230.0" font-size="4.75" text-anchor="middle">Schwefel Function</text><text x="173.5" y="352.0" font-size="4.75" text-anchor="end">0</text><text x="173.5" y="342.3" font-size="4.75" text-anchor="end">200</text><text x="173.5" y="332.5" font-size="4.75" text-anchor="end">400</text><text x="173.5" y="322.8" font-size="4.75" text-anchor="end">600</text><text x="173.5" y="313.1" font-size="4.75" text-anchor="end">800</text><text x="173.5" y="303.3" font-size="4.75" text-anchor="end">1000</text><text x="173.5" y="293.6" font-size="4.75" text-anchor="end">1200</text><text x="173.5" y="283.9" font-size="4.75" text-anchor="end">1400</text><text x="173.5" y="274.1" font-size="4.75" text-anchor="end">1600</text><text x="173.5" y="264.4" font-size="4.75" text-anchor="end">1800</text><text x="273.2" y="398.2" font-size="4.75" text-anchor="middle">−500</text><text x="326.7" y="382.7" font-size="4.75" text-anchor="middle">0</text><text x="386.2" y="367.4" font-size="4.75" text-anchor="middle">500</text><text x="169.9" y="356.7" font-size="4.75" text-anchor="middle">500</text><text x="215.5" y="377.9" font-size="4.75" text-anchor="middle">0</text><text x="254.7" y="398.1" font-size="4.75" text-anchor="middle">−500</text><text x="216.4" y="400.2" font-size="4.75" text-anchor="middle">x2</text><text x="318.3" y="403.0" font-size="4.75" text-anchor="middle">x1</text><text transform="translate(159.1,308.3) rotate(-90)" font-size="4.75" text-anchor="middle">f(x1,x2)</text><text x="121.4" y="206.1" font-family="Liberation Serif" font-weight="bold" font-size="8.8" text-anchor="middle">(a)</text><text x="428.6" y="206.3" font-family="Liberation Serif" font-weight="bold" font-size="8.8" text-anchor="middle">(b)</text><text x="274.9" y="419.1" font-family="Liberation Serif" font-weight="bold" font-size="8.8" text-anchor="middle">(c)</text>
</svg>
</body></html>
